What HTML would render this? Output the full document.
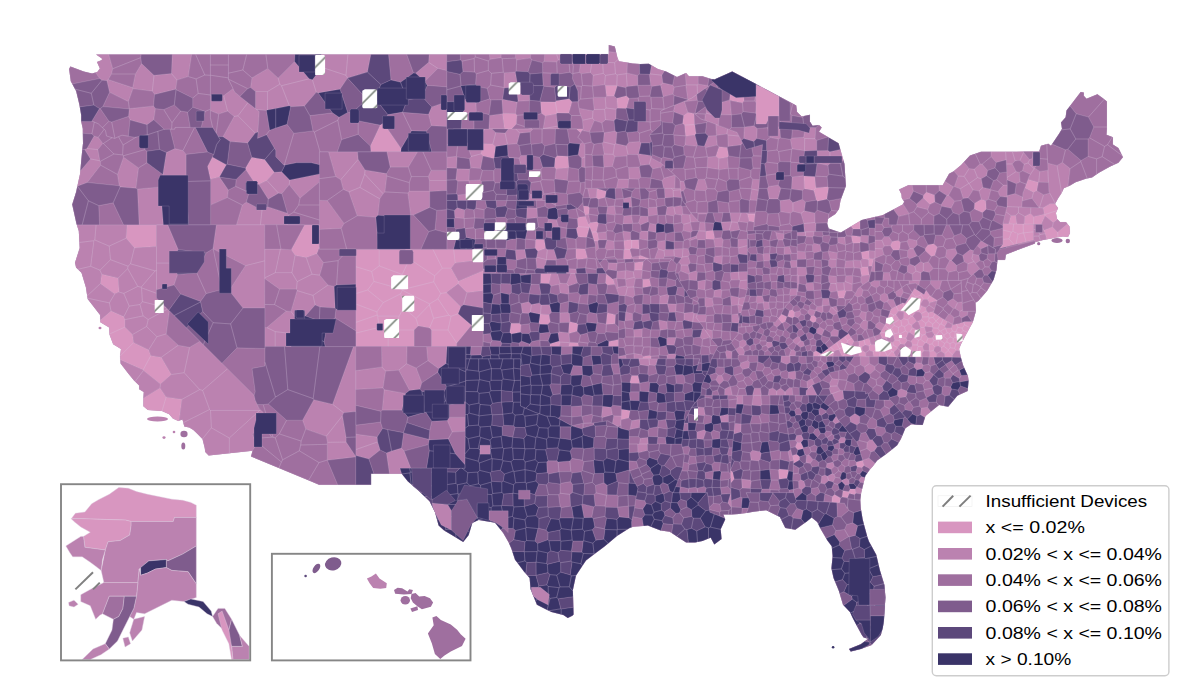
<!DOCTYPE html>
<html><head><meta charset="utf-8"><title>Map</title>
<style>html,body{margin:0;padding:0;background:#fff;overflow:hidden}svg{display:block}text{font-family:"Liberation Sans",sans-serif}</style>
</head><body>
<svg width="1192" height="699" viewBox="0 0 1192 699">
<rect width="1192" height="699" fill="#fff"/>
<path d="M96.1 54.4L101.9 58.5L101.9 60.0L97.0 61.9L99.9 68.5L97.3 71.9L92.1 73.4L83.7 71.4L70.4 66.6L69.1 69.0L70.8 81.2L76.1 90.9L79.3 104.3L81.2 115.3L81.2 121.4L82.8 128.7L83.0 143.3L81.2 160.8L80.1 173.7L76.1 192.0L72.2 204.4L76.4 223.6L78.8 230.9L79.7 248.0L75.0 262.8L76.1 267.5L81.5 272.8L85.9 287.2L87.7 299.1L100.1 314.9L100.4 322.2L109.2 327.6L109.5 334.4L113.2 344.2L121.0 349.0L120.1 355.6L120.6 363.6L128.3 373.4L133.8 380.2L139.2 385.6L139.2 389.2L143.8 392.1L143.4 397.7L143.4 406.3L147.9 409.9L162.0 411.1L169.2 414.3L172.9 418.4L178.3 420.9L182.5 419.6L184.3 426.5L189.3 427.4L193.4 430.1L197.1 433.5L202.5 439.1L204.7 447.7L205.3 452.0L208.7 455.4L252.6 450.8L251.0 456.4L319.0 484.7L371.1 484.7L371.1 473.7L401.7 473.7L407.7 481.3L418.6 490.8L429.5 501.2L435.0 512.2L438.6 525.6L444.1 530.4L451.3 534.8L463.2 542.1L468.6 535.3L472.3 523.1L478.6 520.0L495.0 522.7L503.2 532.9L508.7 542.6L511.4 548.7L515.0 559.7L524.1 571.8L529.6 577.9L530.5 588.9L536.9 604.7L551.4 612.0L563.3 614.9L567.8 618.1L572.4 615.7L573.6 614.4L572.9 590.1L576.0 575.5L586.0 560.4L604.2 546.8L617.0 536.0L629.7 528.0L633.3 526.8L647.9 525.6L660.6 530.4L669.7 531.7L678.8 537.7L686.1 542.6L695.2 542.6L702.5 540.9L710.7 537.7L714.3 544.6L721.6 539.0L720.7 529.2L725.2 519.5L723.4 514.6L731.6 514.6L738.9 513.9L748.0 512.7L753.5 511.7L766.2 510.2L779.9 517.0L785.3 528.0L795.3 529.7L806.2 521.9L811.7 517.5L817.2 521.9L820.8 529.2L827.2 540.2L831.7 546.3L832.6 556.0L831.4 568.2L833.5 577.9L839.0 591.3L843.0 604.7L849.9 612.0L852.7 618.1L861.8 635.1L863.6 637.6L868.1 638.8L860.8 644.2L849.0 649.0L850.8 651.5L860.8 649.0L871.8 644.9L880.9 635.1L883.0 626.6L884.0 619.3L885.4 597.4L884.5 585.2L880.0 570.6L876.3 554.8L869.0 541.4L867.2 536.5L862.7 519.5L860.8 508.5L860.3 500.0L861.2 492.7L865.4 475.7L869.9 469.6L872.7 466.4L877.2 460.6L887.2 453.3L897.2 445.2L900.9 439.1L905.4 428.2L910.9 424.5L922.7 425.0L925.5 416.0L939.1 405.0L948.2 406.7L957.3 395.8L967.7 390.9L968.6 380.7L967.9 375.8L963.1 365.3L960.9 357.6L959.1 349.0L960.9 344.2L965.5 335.6L972.8 322.2L975.9 311.3L975.5 302.8L978.2 301.1L987.3 290.6L993.7 279.6L996.5 270.0L997.5 260.0L1005.0 260.0L1005.8 254.6L1020.0 249.0L1035.0 243.5L1035.0 242.3L1043.0 240.0L1050.0 238.7L1056.0 237.5L1063.0 236.5L1068.0 237.0L1070.0 233.0L1069.5 226.5L1065.9 222.0L1060.0 222.0L1057.0 218.7L1055.9 213.0L1058.0 208.0L1055.0 204.0L1058.0 198.6L1061.6 192.9L1063.8 188.3L1070.1 185.4L1075.6 182.2L1086.5 178.6L1092.0 177.4L1099.3 172.5L1110.2 166.4L1118.4 162.8L1122.9 157.2L1121.5 154.2L1118.4 148.1L1112.9 144.5L1112.9 137.2L1106.5 134.8L1106.9 128.7L1106.9 101.4L1102.9 98.2L1097.4 94.3L1086.5 98.7L1083.8 95.8L1083.8 92.6L1080.7 91.9L1066.5 110.4L1065.6 117.2L1061.0 122.6L1062.0 128.7L1059.2 133.5L1051.0 145.7L1048.3 143.8L1041.0 145.7L1039.2 151.6L981.0 151.8L970.0 155.5L960.9 165.2L953.7 171.3L949.1 173.7L942.7 185.2L908.2 185.2L899.1 189.5L901.4 194.2L901.8 198.1L904.2 201.7L902.7 204.6L882.7 215.1L861.8 220.0L840.8 232.6L828.6 228.5L827.2 223.6L828.1 218.8L835.4 213.9L839.0 209.0L840.5 200.5L845.9 185.9L844.5 164.0L838.6 143.3L819.0 131.8L821.7 127.4L819.0 125.0L812.6 125.7L809.9 121.4L809.9 114.8L801.7 116.5L797.1 112.1L796.2 105.5L764.4 88.5L732.2 71.4L714.5 79.5L710.3 78.7L702.5 76.3L688.9 76.3L686.1 72.9L677.0 77.0L666.1 71.4L657.9 69.0L648.8 63.7L640.6 64.1L632.4 63.4L618.8 61.2L617.3 57.3L614.8 46.6L608.8 45.1L608.8 54.4Z" fill="#9f6f9f"/>
<defs><pattern id="hat" width="16.667" height="16.667" patternUnits="userSpaceOnUse"><rect width="16.667" height="16.667" fill="#fff"/><path d="M-3 18.8L18.8 -3M13 19.47L19.47 13M-4 3.13L3.13 -4" stroke="#7c847c" stroke-width="1.6"/></pattern></defs>
<path d="M219.5 177.1L226.4 164.7L212.4 157.0L207.5 166.4L210.3 179.3ZM258.9 184.6L267.0 180.5L274.4 172.3L264.7 159.6L251.8 157.3L245.5 168.1L245.8 169.7L255.5 184.6ZM401.2 148.4L383.6 122.9L380.2 125.1L370.3 146.1L370.9 151.8L400.9 151.8ZM379.2 249.2L355.8 249.2L355.8 266.7L371.7 271.5L379.2 265.9ZM371.7 271.5L373.9 281.4L402.2 289.5L402.2 274.5L379.2 265.9ZM376.9 311.9L383.3 302.5L367.7 290.0L355.8 293.6L355.8 304.0ZM409.5 259.0L434.7 275.8L442.3 268.2L432.8 249.2L410.5 249.2ZM433.7 281.8L440.7 293.5L446.6 292.5L458.1 283.9L458.5 281.0L451.4 268.2L442.3 268.2L434.7 275.8ZM438.0 298.8L440.7 293.5L433.7 281.8L402.3 289.7L402.3 290.2L429.6 303.9ZM458.2 313.7L460.9 306.8L446.6 292.5L440.7 293.5L438.0 298.8L448.9 315.2L451.0 316.3ZM379.2 265.9L402.2 274.5L409.5 259.0L410.5 249.2L379.2 249.2ZM402.3 289.7L433.7 281.8L434.7 275.8L409.5 259.0L402.2 274.5L402.2 289.5ZM438.0 298.8L429.6 303.9L429.4 304.8L433.6 318.3L448.9 315.2ZM379.3 327.3L388.2 336.3L395.9 330.0L399.2 316.1L377.6 316.1ZM458.1 283.9L466.9 292.8L483.2 290.7L483.2 270.4L458.5 281.0ZM455.3 263.1L483.2 259.7L483.2 249.2L453.6 249.2ZM442.3 268.2L451.4 268.2L455.3 263.1L453.6 249.2L432.8 249.2ZM416.1 318.5L429.4 304.8L429.6 303.9L402.3 290.2L400.7 293.8L403.5 307.5ZM402.3 290.2L402.3 289.7L402.2 289.5L373.9 281.4L367.7 290.0L383.3 302.5L400.7 293.8ZM355.8 266.7L355.8 293.6L367.7 290.0L373.9 281.4L371.7 271.5ZM377.2 315.0L376.9 311.9L355.8 304.0L355.8 322.4ZM379.3 327.3L377.6 316.1L377.2 315.0L355.8 322.4L355.8 333.1ZM388.2 336.3L379.3 327.3L355.8 333.1L355.8 346.6L388.2 346.6ZM399.2 316.1L395.9 330.0L414.3 330.0L418.3 326.0L416.1 318.5L403.5 307.5ZM414.3 330.0L395.9 330.0L388.2 336.3L388.2 346.6L414.3 346.6ZM451.0 316.3L448.9 315.2L433.6 318.3L429.5 328.0L431.3 330.0L448.0 330.0ZM456.8 343.2L448.0 330.0L431.3 330.0L431.3 346.6L456.7 346.6ZM471.6 325.3L458.2 313.7L451.0 316.3L448.0 330.0L456.8 343.2ZM399.2 316.1L403.5 307.5L400.7 293.8L383.3 302.5L376.9 311.9L377.2 315.0L377.6 316.1ZM429.4 304.8L416.1 318.5L418.3 326.0L429.5 328.0L433.6 318.3ZM291.1 249.7L295.0 255.5L306.3 257.7L317.0 253.7L319.4 247.3L319.4 224.8L304.6 224.8ZM126.0 238.3L134.4 247.9L156.5 246.5L156.5 224.8L126.9 224.8ZM100.3 283.7L114.6 294.1L119.2 292.1L118.3 278.0L101.6 274.1ZM111.0 310.8L100.3 320.1L100.4 322.2L109.2 327.6L109.5 334.0L125.1 327.0L125.1 319.6L123.9 316.6ZM133.8 342.4L132.6 334.5L125.1 327.0L109.5 334.0L109.5 334.4L113.2 344.2L121.0 349.0L120.1 355.6L120.1 356.1ZM120.1 356.1L120.4 359.9L143.1 370.0L150.9 355.5L148.7 349.8L133.8 342.4ZM150.9 355.5L143.1 370.0L143.3 370.6L160.4 384.3L171.5 374.5L161.4 357.2ZM143.4 397.9L143.4 406.3L147.9 409.9L162.0 411.1L162.0 411.1L166.2 396.9L160.1 387.7ZM162.0 411.1L169.2 414.3L172.9 418.4L178.3 420.9L179.2 420.6L182.0 399.3L166.2 396.9ZM541.3 113.3L545.2 116.0L556.4 114.0L557.2 113.0L555.3 101.9L540.5 101.8ZM556.0 100.7L555.3 101.9L557.2 113.0L568.9 113.2L572.1 101.8L569.2 98.8ZM502.8 113.3L502.3 113.7L504.4 128.9L511.8 128.9L516.5 124.0L517.0 115.3L515.7 113.4ZM580.6 132.9L583.1 128.9L576.3 128.9ZM493.6 158.5L494.3 157.6L495.7 146.4L492.9 143.9L482.3 143.5L480.9 153.9L483.0 156.1ZM557.1 155.8L555.1 157.9L554.3 167.1L555.9 169.1L568.5 167.8L569.0 167.4L568.0 156.3ZM578.4 217.2L577.2 218.8L577.9 226.6L589.5 227.4L589.7 227.3L586.9 220.0L585.5 216.3ZM586.4 237.5L586.9 237.1L589.5 227.4L577.9 226.6L576.2 228.5L577.9 236.7ZM544.4 239.5L536.6 239.2L535.4 240.1L535.1 248.3L537.7 251.2L545.7 248.2ZM576.2 248.4L575.8 248.6L575.9 258.3L577.2 259.6L587.2 258.6L587.6 258.2L585.3 249.0ZM549.1 283.8L551.2 273.5L540.8 273.5L540.5 283.3ZM605.4 283.3L607.5 285.1L615.0 284.6L613.3 279.6L606.3 273.8ZM540.5 313.9L540.1 314.2L538.8 322.9L539.7 324.2L547.7 324.5L550.3 322.1L549.2 314.7ZM615.6 314.7L607.3 312.7L606.0 324.0L606.4 324.4L615.1 323.7ZM519.6 323.2L511.0 323.3L509.7 332.6L511.4 334.0L520.6 332.2L521.0 324.8ZM568.4 332.8L569.1 333.5L577.1 331.3L578.0 324.4L576.9 323.3L570.2 321.7L569.2 322.5ZM550.1 343.7L550.0 346.6L559.5 346.6L560.2 342.1L559.2 341.1ZM578.0 342.8L569.8 342.2L569.4 342.6L568.9 346.6L578.8 346.6ZM608.7 341.4L608.4 346.6L618.4 346.6L618.5 339.4ZM616.8 85.3L605.1 85.3L606.4 96.1L614.2 96.1L617.3 86.0ZM616.8 98.3L617.4 108.2L626.1 108.5L626.6 108.1L629.3 98.4L626.4 95.7ZM605.3 197.2L606.3 191.2L596.8 188.4L596.2 197.9L598.2 199.2L605.1 197.5ZM589.5 207.7L588.3 206.2L583.4 206.1L584.2 212.7L585.1 215.1L588.6 214.4L588.8 214.2ZM596.6 231.8L598.6 223.2L597.3 221.8L590.3 222.6L588.6 224.3L591.5 232.2L591.5 232.2ZM597.9 241.1L599.0 239.9L597.7 232.7L596.6 231.8L591.5 232.2L594.1 241.0ZM624.3 249.2L630.0 249.6L631.5 248.6L631.7 240.1L630.8 239.6L624.0 240.6L623.8 240.8ZM639.1 248.9L638.8 239.7L631.7 240.1L631.5 248.6ZM632.1 257.0L630.0 249.6L624.3 249.2L623.7 249.8L623.3 259.2L630.4 259.1ZM639.8 255.1L639.0 255.9L639.0 259.0L649.9 258.9ZM643.4 261.4L634.4 262.4L634.3 270.1L642.3 270.0ZM642.7 279.2L642.6 287.8L651.1 286.2L649.5 278.9ZM651.2 356.3L650.0 355.2L643.0 356.4L642.6 358.8L651.1 358.8ZM639.8 383.1L638.1 375.4L631.6 375.4L629.8 382.5L630.7 383.3L639.6 383.4ZM628.8 418.1L630.2 410.5L621.4 409.2L621.1 419.8ZM687.9 112.2L683.5 115.6L682.6 123.5L684.5 125.1L694.7 124.5L694.1 113.5ZM684.5 125.1L685.4 135.9L685.7 136.2L695.0 135.0L696.1 133.6L694.8 124.5L694.7 124.5ZM728.7 155.9L727.3 147.5L718.9 146.7L715.8 156.3L718.8 158.7L727.5 157.3ZM747.4 214.0L749.0 221.3L754.3 222.2L755.1 214.1ZM714.8 238.3L713.3 230.6L712.9 230.2L705.6 231.2L705.9 239.1L713.6 239.6ZM853.0 229.0L860.1 229.1L860.0 221.0L850.9 226.5ZM853.4 243.3L859.8 242.9L860.7 242.0L860.6 236.5L852.0 235.4L851.2 236.1L852.4 242.6ZM868.4 259.7L869.5 258.5L868.9 250.6L861.1 252.0L862.3 258.7ZM869.5 258.5L868.4 259.7L868.6 266.2L872.1 266.2L873.6 258.9L874.0 258.7ZM861.5 276.1L869.3 274.9L868.1 266.8L861.7 267.0L860.1 268.4ZM838.5 298.0L844.0 298.1L846.2 291.1L844.5 289.9L837.2 290.9L837.1 291.1ZM744.1 101.1L743.5 89.8L731.0 89.7L730.6 90.2L729.4 99.9L730.2 100.6L742.5 103.1ZM755.6 113.2L756.6 114.4L768.5 114.3L768.6 114.2L768.7 101.9L767.7 101.1L756.4 103.1ZM813.7 190.4L816.0 187.7L814.8 176.6L803.9 175.9L804.3 188.7ZM817.5 201.2L826.9 199.2L828.7 187.6L828.0 186.8L816.0 187.7L813.7 190.4L816.3 200.2ZM792.4 309.8L789.3 310.6L787.6 316.4L792.5 317.9L794.5 316.7L794.7 312.0ZM813.0 322.7L815.6 321.7L816.6 317.9L814.1 315.2L811.0 315.9L809.7 320.2ZM816.1 350.7L813.3 352.3L813.2 356.3L817.5 356.3L821.1 353.7ZM787.0 316.7L781.3 314.0L780.8 314.9L778.0 318.6L781.8 322.9L782.6 323.0L785.4 321.6ZM847.5 340.6L851.9 338.1L848.6 333.5L844.2 336.7ZM892.1 321.5L893.5 315.1L889.5 312.8L886.8 320.9ZM950.3 337.1L949.6 333.4L947.2 332.7L943.9 335.3L943.7 336.2L947.2 339.1ZM967.4 332.2L969.8 327.6L964.5 324.8L962.3 328.2L963.0 330.5ZM959.3 343.1L955.9 344.1L954.7 348.3L956.3 350.5L959.5 350.9L959.1 349.0L960.9 344.2L961.1 343.9ZM945.7 327.7L945.2 326.2L941.0 324.0L939.7 324.3L938.1 328.3L939.5 330.8L940.6 331.0L945.5 328.2ZM913.7 308.3L910.7 307.4L906.1 310.3L906.0 310.4L911.1 316.2L913.1 316.1L915.9 312.1ZM909.9 301.7L915.2 300.4L916.0 297.0L911.5 293.1L907.2 300.0ZM844.4 344.4L847.1 342.9L847.5 340.6L844.2 336.7L839.6 340.1ZM913.7 308.3L917.7 303.6L915.2 300.4L909.9 301.7L910.7 307.4ZM929.5 357.2L936.6 357.2L936.9 353.5L933.8 350.4L929.4 351.4ZM928.8 344.5L932.1 343.9L933.9 340.5L932.4 337.6L928.2 337.8L926.1 342.9ZM918.2 331.7L918.1 330.3L912.6 327.5L909.4 332.6L914.1 335.7ZM944.6 357.3L952.7 357.3L952.7 355.0L948.2 350.6L944.5 353.8ZM932.8 324.0L928.6 321.1L925.8 323.2L925.4 326.4L932.4 327.4ZM920.6 304.1L917.7 303.6L913.7 308.3L915.9 312.1L919.0 312.1L921.6 305.7ZM962.3 328.2L957.8 327.3L955.9 331.5L960.4 333.5L963.0 330.5ZM880.2 350.6L879.8 350.1L876.0 349.4L872.9 352.0L873.3 356.7L879.6 356.8ZM905.5 331.0L904.5 326.8L901.7 325.6L898.5 327.4L898.4 332.8L900.1 333.8ZM945.2 326.2L947.9 321.7L943.3 318.9L941.0 324.0ZM927.3 299.6L929.3 303.1L937.2 300.7L937.3 300.3L930.0 295.5ZM931.8 331.3L934.0 334.6L936.9 334.3L939.5 330.8L938.1 328.3L932.6 327.8ZM839.4 348.5L843.4 347.3L844.4 344.4L839.6 340.1L836.4 342.5ZM936.0 321.3L936.0 321.1L933.1 317.5L929.1 318.0L928.6 321.1L932.8 324.0ZM912.1 325.3L908.9 323.8L904.5 326.8L905.5 331.0L908.4 332.8L909.4 332.6L912.6 327.5ZM886.8 332.8L888.6 328.7L884.7 325.0L880.2 332.6ZM865.8 352.6L862.5 350.5L858.7 352.9L858.7 356.6L865.9 356.7ZM928.5 312.6L928.2 316.8L929.1 318.0L933.1 317.5L935.1 313.5L933.6 312.5L934.0 311.2ZM964.5 324.8L969.8 327.6L972.8 322.2L973.0 321.5L964.6 321.5L963.9 321.7ZM826.4 349.8L817.5 356.3L828.6 356.4ZM884.8 351.1L887.4 356.4L891.6 351.5L890.1 348.4L887.5 347.9ZM945.5 328.2L940.6 331.0L943.9 335.3L947.2 332.7ZM898.5 327.4L894.0 325.4L891.5 328.4L894.5 333.7L898.4 332.8ZM828.6 356.4L833.2 356.4L834.5 350.9L830.3 346.9L826.4 349.8ZM886.5 339.0L888.3 335.7L886.8 332.8L880.2 332.6L879.9 333.0L881.9 338.3ZM906.4 338.3L908.4 332.8L905.5 331.0L900.1 333.8L901.2 337.6ZM955.9 344.1L959.3 343.1L958.0 338.2L954.8 337.5L953.3 338.3L953.1 342.1ZM928.9 350.9L929.4 351.4L933.8 350.4L935.0 347.1L932.1 343.9L928.8 344.5ZM925.8 323.2L921.0 319.5L917.8 321.3L920.4 327.6L924.6 327.3L925.4 326.4ZM955.2 331.8L955.9 331.5L957.8 327.3L956.3 324.0L952.8 324.7L952.6 324.6L951.1 327.7L952.4 331.1ZM893.3 345.2L890.1 348.4L891.6 351.5L893.9 352.2L897.8 348.4L897.7 347.6ZM851.5 353.3L848.7 350.3L846.4 350.4L843.1 356.5L851.3 356.6ZM910.9 347.2L912.0 350.8L915.5 352.0L917.0 351.0L918.1 346.3L917.2 345.0L912.3 344.9ZM913.1 316.1L911.1 316.2L907.9 319.8L908.9 323.8L912.1 325.3L916.9 321.2ZM933.9 340.5L938.5 341.0L939.8 340.0L940.2 338.6L936.9 334.3L934.0 334.6L932.4 337.6ZM922.2 353.0L924.2 350.7L922.7 346.7L918.1 346.3L917.0 351.0ZM950.3 337.1L953.3 338.3L954.8 337.5L955.2 331.8L952.4 331.1L949.6 333.4ZM916.0 297.0L920.7 295.0L921.4 292.8L914.5 288.2L911.5 293.1ZM939.8 340.0L938.5 341.0L938.2 346.1L941.0 347.7L943.8 346.2L944.6 343.3ZM948.3 349.7L948.2 350.6L952.7 355.0L956.3 350.5L954.7 348.3L950.2 347.8ZM906.1 310.3L910.7 307.4L909.9 301.7L907.2 300.0L905.1 303.5L902.7 302.8L902.4 302.9ZM921.1 313.7L922.0 317.0L928.2 316.8L928.5 312.6L926.5 310.8ZM922.2 353.0L917.0 351.0L915.5 352.0L915.4 357.1L922.4 357.1ZM894.5 333.7L891.5 328.4L888.6 328.7L886.8 332.8L888.3 335.7L893.2 335.6ZM893.6 323.0L899.5 319.5L896.2 314.7L893.5 315.1L892.1 321.5ZM862.5 350.5L862.2 347.1L859.1 345.7L855.6 348.0L855.8 350.7L858.7 352.9ZM918.5 340.2L920.7 339.4L922.2 335.2L918.2 331.7L914.1 335.7L914.3 337.6ZM933.1 317.5L936.0 321.1L940.0 316.8L935.1 313.5ZM935.0 347.1L938.2 346.1L938.5 341.0L933.9 340.5L932.1 343.9ZM893.5 315.1L896.2 314.7L898.5 311.3L896.2 306.1L890.9 308.9L889.5 312.8ZM872.9 352.0L876.0 349.4L874.2 344.5L871.1 344.2L868.7 346.1L869.1 350.3ZM920.4 327.6L918.1 330.3L918.2 331.7L922.2 335.2L925.6 334.2L926.4 332.7L924.6 327.3ZM928.2 337.8L925.6 334.2L922.2 335.2L920.7 339.4L925.5 343.0L926.1 342.9ZM846.4 350.4L843.4 347.3L839.4 348.5L838.7 349.7L841.9 356.5L843.1 356.5ZM894.0 325.4L893.6 323.0L892.1 321.5L886.8 320.9L886.3 322.2L884.7 325.0L888.6 328.7L891.5 328.4ZM943.7 336.2L943.9 335.3L940.6 331.0L939.5 330.8L936.9 334.3L940.2 338.6ZM902.4 302.9L896.2 306.1L898.5 311.3L903.7 312.0L906.0 310.4L906.1 310.3ZM958.0 338.2L960.8 336.0L960.4 333.5L955.9 331.5L955.2 331.8L954.8 337.5ZM928.6 321.1L929.1 318.0L928.2 316.8L922.0 317.0L921.0 319.5L925.8 323.2ZM908.9 323.8L907.9 319.8L903.2 318.6L900.9 319.9L901.7 325.6L904.5 326.8ZM865.2 345.0L864.1 339.7L861.8 340.5L858.4 341.1L859.1 345.7L862.2 347.1ZM876.0 349.4L879.8 350.1L881.5 344.8L879.3 341.9L876.9 341.8L874.2 344.5ZM900.6 343.9L904.5 344.8L907.6 340.4L906.4 338.3L901.2 337.6L899.3 340.4ZM901.2 337.6L900.1 333.8L898.4 332.8L894.5 333.7L893.2 335.6L894.5 340.0L899.3 340.4ZM960.8 336.0L958.0 338.2L959.3 343.1L961.1 343.9L964.4 337.7ZM871.1 344.2L869.2 337.9L864.1 339.7L865.2 345.0L868.7 346.1ZM894.5 340.0L892.8 342.3L893.3 345.2L897.7 347.6L900.6 343.9L899.3 340.4ZM932.6 327.8L938.1 328.3L939.7 324.3L936.0 321.3L932.8 324.0L932.4 327.4ZM917.2 345.0L918.5 340.2L914.3 337.6L910.7 341.1L912.3 344.9ZM920.7 295.0L916.0 297.0L915.2 300.4L917.7 303.6L920.6 304.1L923.6 299.4ZM887.4 356.4L884.8 351.1L880.2 350.6L879.6 356.8L887.3 356.8ZM880.2 350.6L884.8 351.1L887.5 347.9L885.8 344.6L881.5 344.8L879.8 350.1ZM939.7 324.3L941.0 324.0L943.3 318.9L940.9 317.4L940.0 316.8L936.0 321.1L936.0 321.3ZM912.0 350.8L910.9 347.2L905.7 347.3L904.6 350.4L909.0 353.4ZM952.4 331.1L951.1 327.7L945.7 327.7L945.5 328.2L947.2 332.7L949.6 333.4ZM900.9 319.9L899.5 319.5L893.6 323.0L894.0 325.4L898.5 327.4L901.7 325.6ZM887.5 347.9L890.1 348.4L893.3 345.2L892.8 342.3L887.5 341.4L885.8 344.6ZM957.8 327.3L962.3 328.2L964.5 324.8L963.9 321.7L959.1 323.5L956.3 324.0ZM953.3 338.3L950.3 337.1L947.2 339.1L946.9 342.0L950.0 343.7L953.1 342.1ZM926.2 307.4L921.6 305.7L919.0 312.1L921.1 313.7L926.5 310.8ZM960.4 333.5L960.8 336.0L964.4 337.7L965.5 335.6L967.4 332.2L963.0 330.5ZM941.0 347.7L940.8 351.2L944.5 353.8L948.2 350.6L948.3 349.7L943.8 346.2ZM893.9 352.2L891.6 351.5L887.4 356.4L887.3 356.8L896.1 356.9ZM834.5 350.9L838.7 349.7L839.4 348.5L836.4 342.5L830.3 346.9ZM917.2 345.0L918.1 346.3L922.7 346.7L925.5 343.0L920.7 339.4L918.5 340.2ZM950.0 343.7L950.2 347.8L954.7 348.3L955.9 344.1L953.1 342.1ZM947.2 339.1L943.7 336.2L940.2 338.6L939.8 340.0L944.6 343.3L946.9 342.0ZM851.3 345.8L852.0 345.6L854.2 341.3L851.9 338.1L847.5 340.6L847.1 342.9ZM903.7 312.0L903.2 318.6L907.9 319.8L911.1 316.2L906.0 310.4ZM920.7 295.0L923.6 299.4L927.3 299.6L930.0 295.5L930.0 295.5L926.0 290.1L924.0 294.5L921.4 292.8ZM946.9 342.0L944.6 343.3L943.8 346.2L948.3 349.7L950.2 347.8L950.0 343.7ZM855.2 488.9L850.2 489.0L848.7 491.6L849.4 493.5L854.6 494.7L856.0 493.3ZM803.0 448.7L803.5 447.8L801.0 442.5L797.0 442.5L795.2 447.0L797.9 449.9ZM847.5 498.1L849.4 493.5L848.7 491.6L842.9 490.7L842.0 497.1ZM840.7 497.9L834.6 494.6L832.2 496.6L831.7 502.3L839.7 502.9ZM864.3 465.3L862.7 460.3L856.3 462.0L856.1 465.2L857.3 467.0L862.1 467.7ZM799.5 460.1L799.8 456.8L796.8 454.2L792.2 455.4L793.5 461.0L793.4 463.4ZM734.3 479.0L732.7 472.0L730.4 470.2L730.3 470.8L730.7 483.3ZM787.0 478.3L788.6 471.0L787.9 469.8L779.4 469.1L778.3 469.8L779.2 479.3ZM1012.8 231.3L1018.1 234.1L1023.4 232.8L1023.2 224.1L1013.7 223.9ZM1023.6 232.9L1026.2 241.8L1033.7 239.9L1033.7 231.8ZM1009.0 238.9L1011.4 232.1L1002.8 230.0L1002.8 239.3ZM1023.4 232.8L1023.6 232.9L1033.7 231.8L1033.7 224.4L1023.2 224.1ZM1011.4 232.1L1012.8 231.3L1013.7 223.9L1002.8 223.6L1002.8 230.0ZM1018.1 234.1L1012.8 231.3L1011.4 232.1L1009.0 238.9L1014.3 244.8L1015.9 244.4ZM1009.0 238.9L1002.8 239.3L1002.8 244.3L999.5 248.5L1014.3 244.8ZM1023.6 232.9L1023.4 232.8L1018.1 234.1L1015.9 244.4L1026.2 241.8ZM1044.2 214.1L1044.7 214.6L1056.9 210.7L1058.0 208.0L1055.0 204.0L1055.3 203.4L1050.1 203.4L1042.9 207.8ZM1010.8 215.4L1008.6 223.7L1017.1 223.9L1015.7 215.3ZM1058.1 237.2L1063.0 236.5L1068.0 237.0L1070.0 233.0L1069.5 226.5L1067.3 223.8L1057.6 231.9ZM1045.1 216.1L1044.7 214.6L1044.2 214.1L1033.7 216.4L1033.7 224.2L1041.4 224.4ZM1057.6 219.4L1057.0 218.7L1055.9 213.0L1056.9 210.7L1044.7 214.6L1045.1 216.1L1053.2 222.7ZM1057.6 231.9L1052.5 226.7L1043.6 230.3L1046.1 237.0L1046.1 239.4L1050.0 238.7L1056.0 237.5L1058.1 237.2ZM1033.7 216.4L1030.6 213.2L1024.6 216.3L1024.1 224.0L1033.7 224.2ZM1028.0 179.3L1024.8 187.9L1033.5 192.4L1036.9 190.7L1038.5 182.3ZM900.6 242.2L898.4 240.2L892.1 241.5L890.2 245.7L893.2 250.2L899.1 250.1L899.7 249.5ZM931.3 256.4L934.9 255.6L937.4 247.0L933.8 243.8L928.0 244.8L925.1 248.5L925.2 250.8ZM986.3 209.2L985.8 200.8L981.2 199.2L974.5 203.3L974.1 208.9L982.6 212.7ZM926.3 192.1L923.2 195.4L923.1 197.9L929.8 204.6L935.0 202.1L934.6 194.9Z" fill="#d896c0" stroke="#dcc8de" stroke-width="0.17" stroke-linejoin="round"/>
<path d="M171.0 263.1L178.3 249.6L167.8 224.8L156.5 224.8L156.5 263.1ZM171.0 263.1L156.5 263.1L156.5 289.8L174.1 285.0L177.7 274.4ZM212.9 248.7L213.2 249.0L245.3 265.7L264.8 260.8L264.8 224.8L216.3 224.8ZM264.8 308.1L264.8 260.8L245.3 265.7L229.1 290.5L242.9 308.1ZM98.3 137.2L94.0 136.1L86.9 148.5L97.9 149.6L102.9 143.4ZM86.9 148.5L84.6 149.5L90.4 158.9L99.9 160.8L97.9 149.6ZM77.4 186.2L87.3 182.5L100.7 165.2L100.4 161.3L99.9 160.8L90.4 158.9L80.3 171.0L80.1 173.7L77.3 186.2ZM123.5 157.0L117.4 174.4L119.2 185.8L120.2 186.9L136.0 188.3L138.6 167.9ZM185.2 182.1L186.2 181.5L186.2 154.4L183.0 150.5L174.8 148.6L166.3 152.5L162.8 174.4L165.5 182.1ZM160.4 186.9L137.4 189.1L139.1 224.8L163.4 224.8ZM223.7 95.6L210.4 95.6L210.4 110.7L218.7 114.1L227.6 111.2ZM223.7 95.6L227.6 111.2L234.0 116.5L238.0 115.8L247.9 102.7L234.8 92.1L233.0 88.5ZM247.7 142.9L255.3 133.1L238.0 115.8L234.0 116.5L222.9 136.7L230.0 141.6ZM238.0 115.8L255.3 133.1L258.0 131.9L259.3 111.6L248.4 103.1L247.9 102.7ZM227.5 197.6L228.4 190.0L219.5 177.1L219.5 177.1L210.3 179.3L210.6 180.3L210.6 205.1ZM262.0 209.9L246.4 202.1L242.2 205.0L236.4 224.8L260.4 224.8ZM289.1 214.9L287.4 213.2L267.7 206.7L262.0 209.9L260.4 224.8L264.8 224.8L287.4 224.8ZM278.5 193.2L267.0 180.5L258.9 184.6L268.2 199.2ZM267.0 180.5L278.5 193.2L281.8 193.7L289.2 184.8L289.7 180.0L281.7 171.8L274.4 172.3ZM300.0 198.2L319.4 182.1L319.4 173.9L289.7 180.0L289.2 184.8ZM358.2 159.3L357.6 151.8L328.4 151.8L335.5 176.5L340.7 179.8ZM390.1 167.2L408.4 167.2L417.7 151.8L386.8 151.8ZM429.3 180.6L446.8 180.6L446.8 170.2L431.1 170.2L428.2 176.6ZM386.5 173.6L365.1 169.9L364.7 174.1L383.2 193.8L385.0 191.9L386.9 176.0ZM359.9 187.4L364.7 174.1L365.1 169.9L358.2 159.3L340.7 179.8L343.2 189.4L348.8 191.9ZM378.0 215.3L379.8 198.8L359.9 187.4L348.8 191.9L357.1 215.8L375.9 217.3ZM341.3 228.4L344.1 223.4L327.3 200.5L319.4 200.3L319.4 229.5ZM407.8 193.1L410.6 214.8L413.6 215.1L429.8 207.4L429.8 191.6L429.3 191.0L409.3 191.0ZM429.3 180.6L429.3 191.0L429.8 191.6L446.8 190.5L446.8 180.6ZM383.2 193.8L364.7 174.1L359.9 187.4L379.8 198.8ZM1070.2 168.6L1062.4 162.3L1057.0 165.4L1061.6 192.9L1061.6 192.9L1063.8 188.3L1068.0 186.4ZM1047.6 163.1L1048.8 191.5L1052.9 198.8L1055.2 203.4L1055.3 203.4L1055.3 203.5L1055.3 203.5L1058.0 198.6L1061.6 192.9L1057.0 165.4ZM332.5 404.2L343.7 412.8L355.8 411.6L355.8 346.6L353.4 346.6ZM326.2 436.3L342.5 415.6L343.7 412.8L332.5 404.2L313.8 399.7L302.5 420.2L305.7 429.1ZM327.4 442.3L346.2 442.1L346.2 437.4L342.5 415.6L326.2 436.3ZM346.2 442.1L327.4 442.3L327.2 444.3L327.2 460.1L327.4 460.3L355.8 456.9L355.8 456.4ZM99.6 78.6L102.0 80.2L106.8 80.7L108.4 79.5L111.6 74.0L112.8 68.7L108.8 54.4L96.1 54.4L101.9 58.5L101.9 60.0L97.0 61.9L99.9 68.5L97.3 71.9L95.4 72.5ZM133.0 88.8L132.6 87.6L108.4 79.5L106.8 80.7L109.5 92.3L128.4 101.7ZM135.3 74.0L132.6 87.6L133.0 88.8L152.3 91.2L154.0 75.3L141.6 63.6ZM154.6 94.5L175.8 89.2L177.1 80.1L171.4 73.5L154.0 75.3L152.3 91.2ZM153.6 105.9L129.3 108.6L129.2 109.0L128.5 116.3L130.1 120.0L147.0 124.7L153.8 119.8L155.5 108.6ZM171.4 73.5L177.1 80.1L188.3 76.6L191.7 54.4L172.2 54.4ZM278.1 78.0L267.8 68.4L251.9 77.8L250.5 87.6L255.4 91.6L267.4 91.6L279.8 84.2ZM266.5 110.6L267.4 110.0L267.4 91.6L255.4 91.6L255.4 108.5L256.8 109.7ZM289.4 105.8L281.5 85.7L279.8 84.2L267.4 91.6L267.4 110.0L275.7 108.6ZM347.9 54.4L321.3 54.4L321.8 67.3L346.0 75.3ZM347.6 78.1L367.5 72.1L370.9 54.4L347.9 54.4L346.0 75.3L347.6 78.1ZM428.6 62.3L437.9 68.4L446.8 70.7L446.8 54.4L429.1 54.4ZM415.6 73.3L424.8 81.6L437.9 68.4L428.6 62.3ZM309.2 78.8L294.6 61.5L278.1 78.0L279.8 84.2L281.5 85.7ZM346.0 75.3L321.8 67.3L312.4 79.8L316.3 92.3L318.3 92.9L340.0 89.2L347.6 78.1ZM304.4 106.0L316.3 92.3L312.4 79.8L309.2 78.8L281.5 85.7L289.4 105.8L290.6 106.7ZM428.5 114.3L431.3 125.8L446.8 126.5L446.8 101.7L431.6 106.9ZM381.8 366.9L385.7 371.2L398.7 370.2L406.8 363.6L407.1 346.6L381.5 346.6ZM446.1 363.5L447.1 346.6L426.5 346.6L427.8 360.7L438.7 368.7ZM383.1 388.0L385.7 371.2L381.8 366.9L355.8 370.6L355.8 389.5ZM416.3 368.0L406.8 363.6L398.7 370.2L409.5 390.4L419.9 389.3L421.9 382.8ZM405.6 393.4L384.1 389.6L382.2 410.2L402.1 410.2ZM449.3 417.2L447.2 420.4L452.1 432.1L465.3 431.3L465.4 417.2ZM377.7 441.9L377.2 437.0L355.8 434.1L355.8 449.6ZM368.8 459.0L380.2 450.0L377.7 441.9L355.8 449.6L355.8 455.6ZM391.6 451.0L386.4 452.9L389.4 473.7L401.7 473.7L400.0 468.3L410.9 468.3L404.2 451.1L401.5 448.1ZM458.5 281.0L483.2 270.4L483.2 259.7L455.3 263.1L451.4 268.2ZM463.5 304.8L466.9 292.8L458.1 283.9L446.6 292.5L460.9 306.8ZM466.9 292.8L463.5 304.8L483.2 308.1L483.2 290.7ZM280.4 249.1L264.8 249.1L264.8 277.8L275.3 272.7ZM291.9 272.7L295.0 255.5L291.1 249.7L280.9 249.0L280.4 249.1L275.3 272.7ZM312.0 274.2L306.3 257.7L295.0 255.5L291.9 272.7L297.2 281.6ZM306.3 257.7L312.0 274.2L319.8 275.2L323.5 262.6L317.0 253.7ZM297.2 281.6L291.9 272.7L275.3 272.7L264.8 277.8L264.8 278.7L279.5 289.2L296.4 289.2ZM313.0 295.4L328.0 285.0L319.8 275.2L312.0 274.2L297.2 281.6L296.4 289.2L297.0 290.6ZM334.2 286.4L328.0 285.0L313.0 295.4L315.2 305.0L319.9 307.0L335.2 308.1ZM290.9 311.4L296.7 319.0L305.4 316.0L315.2 305.0L313.0 295.4L297.0 290.6ZM275.2 331.6L266.7 327.5L264.8 327.5L264.8 346.6L275.2 346.6ZM290.9 333.5L275.2 331.6L275.2 346.6L291.1 346.6ZM266.7 327.5L275.2 331.6L290.9 333.5L296.5 324.9L296.7 319.0L290.9 311.4L286.2 311.0ZM96.1 224.8L76.8 224.8L78.8 230.9L79.4 242.5L93.9 240.7L94.8 240.0ZM94.8 240.0L109.2 246.1L126.0 238.3L126.9 224.8L96.1 224.8ZM79.4 242.5L79.7 248.0L75.0 262.8L76.1 267.5L77.9 269.3L90.7 266.3L93.9 240.7ZM109.2 246.1L94.8 240.0L93.9 240.7L90.7 266.3L100.0 270.2L110.5 259.7ZM130.5 263.8L134.4 247.9L126.0 238.3L109.2 246.1L110.5 259.7L128.0 266.2ZM134.4 247.9L130.5 263.8L155.1 270.9L156.5 270.3L156.5 246.5ZM100.0 270.2L90.7 266.3L77.9 269.3L81.5 272.8L85.9 287.2L87.2 295.9L100.3 283.7L101.6 274.1ZM118.3 278.0L127.7 268.6L128.0 266.2L110.5 259.7L100.0 270.2L101.6 274.1ZM141.1 287.2L155.1 270.9L130.5 263.8L128.0 266.2L127.7 268.6L137.8 286.4ZM123.8 293.4L137.8 286.4L127.7 268.6L118.3 278.0L119.2 292.1ZM87.2 295.9L87.6 298.2L109.4 302.9L114.6 294.1L100.3 283.7ZM155.1 270.9L141.1 287.2L141.5 287.8L156.5 293.3L156.5 270.3ZM141.5 287.8L142.4 301.7L166.3 307.6L156.5 297.9L156.5 293.3ZM87.6 298.2L87.7 299.1L100.1 314.9L100.3 320.1L111.0 310.8L109.4 302.9ZM129.2 306.1L123.8 293.4L119.2 292.1L114.6 294.1L109.4 302.9L111.0 310.8L123.9 316.6ZM142.4 301.7L140.0 304.5L143.1 315.9L148.2 319.5L167.7 309.0L166.3 307.6ZM142.4 301.7L141.5 287.8L141.1 287.2L137.8 286.4L123.8 293.4L129.2 306.1L140.0 304.5ZM129.2 306.1L123.9 316.6L125.1 319.6L143.1 315.9L140.0 304.5ZM148.7 349.8L156.9 336.7L146.6 326.5L132.6 334.5L133.8 342.4ZM125.1 319.6L125.1 327.0L132.6 334.5L146.6 326.5L148.2 319.5L143.1 315.9ZM148.2 319.5L146.6 326.5L156.9 336.7L166.3 333.9L169.5 310.8L167.7 309.0ZM150.9 355.5L161.4 357.2L178.3 345.2L166.3 333.9L156.9 336.7L148.7 349.8ZM143.3 370.6L143.1 370.0L120.4 359.9L120.6 363.6L128.3 373.4L133.8 380.2L135.1 381.5ZM143.3 370.6L135.1 381.5L139.2 385.6L139.2 389.2L143.8 392.1L143.4 397.7L143.4 397.9L160.1 387.7L160.4 384.3ZM161.4 357.2L171.5 374.5L184.2 372.7L189.6 347.3L178.3 345.2ZM189.6 347.3L184.2 372.7L199.7 389.6L202.6 390.4L227.6 368.7L199.9 341.2ZM171.5 374.5L160.4 384.3L160.1 387.7L166.2 396.9L182.0 399.3L199.7 389.6L184.2 372.7ZM202.6 390.4L209.6 409.5L210.5 410.4L259.7 410.4L260.7 410.0L259.3 408.7L255.3 400.2L254.2 395.3L227.6 368.7ZM209.6 409.5L202.6 390.4L199.7 389.6L182.0 399.3L179.2 420.6L182.5 419.6L183.3 422.7ZM211.4 427.8L229.3 438.0L259.7 410.4L210.5 410.4ZM229.3 438.0L211.4 427.8L202.4 439.0L202.5 439.1L204.7 447.7L205.3 452.0L208.7 455.4L229.3 453.3ZM229.3 453.3L252.6 450.8L256.6 444.0L252.4 434.3L256.1 430.6L257.9 417.7L263.2 412.3L260.7 410.0L259.7 410.4L229.3 438.0ZM211.4 427.8L210.5 410.4L209.6 409.5L183.3 422.7L184.3 426.5L189.3 427.4L193.4 430.1L197.1 433.5L202.4 439.0ZM489.8 59.4L501.1 57.7L501.3 54.4L489.4 54.4ZM515.3 58.1L516.7 60.0L530.5 58.1L530.7 54.4L515.4 54.4ZM544.0 61.5L556.7 62.1L558.5 60.1L556.6 54.4L544.6 54.4ZM558.5 60.1L568.7 58.8L571.3 56.6L570.9 54.4L556.6 54.4ZM504.3 88.1L516.4 86.9L517.7 85.4L515.4 72.0L504.1 72.8L503.8 87.5ZM529.2 85.8L517.7 85.4L516.4 86.9L518.0 101.3L529.5 100.7L529.9 100.3ZM473.0 99.7L465.0 99.3L462.6 101.6L463.3 113.1L474.0 114.1L476.5 111.6L476.0 103.0ZM502.8 113.3L515.7 113.4L517.1 102.1L502.7 99.3L501.9 99.9ZM502.3 113.7L489.6 115.4L488.8 128.9L504.4 128.9ZM543.1 128.6L557.7 126.2L556.4 114.0L545.2 116.0ZM543.1 128.6L542.8 128.9L560.0 128.9L557.7 126.2ZM481.8 133.3L484.8 128.9L466.8 128.9L467.5 130.1ZM519.9 133.2L530.0 132.2L533.1 128.9L515.6 128.9ZM482.3 143.5L492.9 143.9L495.8 132.5L492.1 128.9L484.8 128.9L481.8 133.3L481.4 142.3ZM495.8 132.5L492.9 143.9L495.7 146.4L507.3 144.8L507.5 144.6L505.1 133.0ZM505.1 133.0L507.5 144.6L517.1 143.7L519.9 133.2L515.6 128.9L508.3 128.9ZM471.1 156.5L480.9 153.9L482.3 143.5L481.4 142.3L467.8 142.3L466.7 143.4ZM578.1 154.8L581.6 158.3L585.1 156.8L585.1 144.5L582.8 142.2L579.9 144.1ZM456.6 168.2L457.1 157.0L456.4 156.3L446.8 157.2L446.8 167.9ZM480.7 168.5L483.0 156.1L480.9 153.9L471.1 156.5L469.4 158.7L470.6 167.8ZM521.0 155.5L519.0 158.2L520.8 165.9L528.6 167.8L533.7 156.2L532.2 154.9ZM581.6 158.3L581.5 166.9L585.1 167.7L585.1 156.8ZM469.6 169.1L457.0 168.7L455.8 179.7L457.7 181.2L468.8 181.0L469.1 180.6ZM555.0 179.1L567.4 180.4L568.5 167.8L555.9 169.1ZM481.5 181.3L480.0 179.9L469.1 180.6L468.8 181.0L470.6 190.7L481.7 193.0L481.9 192.8ZM468.0 193.9L457.6 195.0L457.8 200.5L469.6 200.5ZM542.2 196.0L530.2 194.3L529.2 200.5L542.4 200.5ZM464.6 209.7L457.2 207.8L454.2 210.5L454.8 217.8L464.2 218.6ZM527.3 207.6L527.0 208.0L526.5 218.5L526.6 218.7L537.0 217.8L537.6 217.0L537.1 208.3L536.7 208.0ZM558.6 226.7L556.5 219.5L548.6 219.0L545.7 228.6L546.2 229.3L556.7 228.7ZM485.9 238.4L486.0 238.6L495.5 238.7L497.0 237.4L496.8 227.9L496.7 227.8L485.9 230.0ZM516.2 249.7L515.3 250.4L516.2 259.9L516.6 260.3L526.4 257.9L524.9 249.6ZM547.4 249.4L545.7 248.2L537.7 251.2L536.6 257.2L546.3 259.5ZM546.6 260.0L555.9 260.2L556.9 259.0L554.0 249.4L547.4 249.4L546.3 259.5ZM536.6 257.2L535.8 258.0L536.7 268.3L544.4 268.7L546.6 260.0L546.3 259.5ZM483.2 268.8L483.2 273.5L495.5 273.5L495.7 270.5ZM576.1 269.1L568.3 268.6L566.4 270.4L566.3 273.5L576.8 273.5ZM549.1 283.8L550.9 286.0L558.9 284.5L560.2 283.1L557.6 273.5L551.2 273.5ZM577.6 283.1L575.1 273.5L570.6 273.5L566.6 283.6L568.7 286.0ZM566.6 283.6L560.2 283.1L558.9 284.5L560.1 293.1L568.2 294.3L569.2 293.0L568.7 286.0ZM530.3 312.2L531.5 304.6L528.7 301.7L521.0 303.5L522.3 313.1L528.6 313.4ZM540.1 314.2L540.5 313.9L541.2 304.9L539.4 302.9L531.5 304.6L530.3 312.2ZM541.2 304.9L540.5 313.9L549.2 314.7L551.6 312.2L549.6 304.7ZM559.7 322.8L569.2 322.5L570.2 321.7L569.6 313.6L568.2 312.5L559.8 312.8ZM559.0 331.7L557.9 332.9L559.2 341.1L560.2 342.1L569.4 342.6L569.8 342.2L569.1 333.5L568.4 332.8ZM569.4 342.6L560.2 342.1L559.5 346.6L568.9 346.6ZM602.0 417.7L612.5 414.7L611.0 407.3L602.5 406.2L601.4 417.0ZM612.3 423.4L616.7 426.0L621.0 425.3L621.2 416.0L613.7 415.7ZM580.7 62.0L591.9 62.7L593.1 61.6L592.1 54.4L580.3 54.4ZM593.1 61.6L602.7 63.2L603.7 62.3L604.5 54.4L592.1 54.4ZM614.6 62.7L618.1 59.3L617.3 57.3L616.2 52.5L608.8 51.5L608.8 54.4L604.5 54.4L603.7 62.3ZM591.9 62.7L580.7 62.0L580.4 62.4L579.2 72.4L581.3 73.8L590.3 72.7ZM593.0 75.3L603.3 73.4L602.7 63.2L593.1 61.6L591.9 62.7L590.3 72.7ZM605.4 75.4L615.5 73.8L614.6 62.7L603.7 62.3L602.7 63.2L603.3 73.4ZM627.1 73.0L627.5 62.6L618.8 61.2L618.1 59.3L614.6 62.7L615.5 73.8L617.2 74.9L626.3 73.7ZM649.9 73.9L661.9 75.2L664.5 71.0L657.9 69.0L651.4 65.2ZM592.3 86.1L592.5 86.3L604.6 84.8L605.4 75.4L603.3 73.4L593.0 75.3ZM617.2 74.9L615.5 73.8L605.4 75.4L604.6 84.8L605.1 85.3L616.8 85.3ZM627.2 86.5L626.3 73.7L617.2 74.9L616.8 85.3L617.3 86.0L625.9 87.8ZM637.7 85.6L637.9 85.3L637.8 75.4L627.1 73.0L626.3 73.7L627.2 86.5ZM662.9 82.8L661.9 75.2L649.9 73.9L649.3 74.3L650.5 85.1L651.8 86.5L660.5 85.2ZM697.2 84.9L698.3 84.0L698.3 76.3L688.9 76.3L686.1 72.9L685.2 73.3L686.0 84.9ZM662.9 82.8L660.5 85.2L663.1 96.8L673.1 94.1L674.4 87.1L672.6 85.0ZM697.2 84.9L686.0 84.9L685.7 85.3L687.7 99.4L687.9 99.7L691.6 98.2L697.5 94.0ZM697.2 84.9L697.5 94.0L708.5 86.1L707.9 85.5L698.3 84.0ZM606.0 108.0L605.2 97.2L593.5 97.2L592.8 98.0L594.1 109.5L604.6 109.3ZM606.4 96.1L605.2 97.2L606.0 108.0L616.3 109.2L617.4 108.2L616.8 98.3L614.2 96.1ZM579.0 108.2L579.7 112.8L582.4 120.1L582.4 120.3L592.5 118.1L593.0 110.8ZM605.5 119.9L604.6 109.3L594.1 109.5L593.0 110.8L592.5 118.1L594.4 120.6L601.9 122.9ZM616.0 118.8L616.3 109.2L606.0 108.0L604.6 109.3L605.5 119.9L614.1 120.7ZM589.5 132.0L594.4 120.6L592.5 118.1L582.4 120.3L583.1 128.9L582.1 130.5ZM614.5 144.6L616.0 143.6L617.0 132.3L615.2 131.0L604.1 132.8L603.2 141.9ZM604.1 154.0L613.2 154.3L614.5 144.6L603.2 141.9L602.2 142.8ZM628.0 154.5L626.1 145.8L616.0 143.6L614.5 144.6L613.2 154.3L615.0 156.8L626.8 156.1ZM639.6 141.5L628.7 142.2L626.1 145.8L628.0 154.5L637.7 154.7L638.7 153.7L641.2 143.1ZM613.2 154.3L604.1 154.0L603.1 155.2L603.8 167.3L612.5 166.4L615.0 156.8ZM638.7 153.7L637.7 154.7L640.5 165.5L649.2 164.6L651.5 156.3L650.6 155.4ZM651.5 156.3L649.2 164.6L652.7 168.9L660.8 167.3L663.1 164.8L660.6 162.8L651.5 157.9L651.7 156.3ZM638.6 179.3L640.9 177.2L639.3 167.0L628.5 167.5L629.0 178.9ZM616.3 188.3L628.2 188.3L628.7 179.1L618.2 179.0ZM675.4 175.7L674.7 175.1L663.9 178.1L661.9 180.7L663.5 188.3L674.8 188.3ZM673.1 190.4L680.5 189.7L680.3 188.3L671.4 188.3ZM589.5 197.7L590.3 198.4L596.2 197.9L596.8 188.4L596.8 188.3L587.5 188.3ZM673.6 197.1L673.1 190.4L671.4 188.3L664.3 188.3L664.9 197.9L673.4 197.3ZM673.1 190.4L673.6 197.1L681.7 197.7L681.9 197.4L680.5 189.7ZM631.2 197.0L631.1 196.8L623.5 198.5L623.4 198.6L624.5 206.3L631.9 207.2L631.9 207.1ZM615.8 214.2L614.6 206.0L614.4 205.7L607.6 206.6L607.5 206.7L606.4 214.0L614.9 215.1ZM648.2 216.1L657.7 214.8L657.0 207.0L656.9 207.0L648.7 207.6L647.8 208.5ZM673.6 215.9L675.3 214.3L673.8 206.7L673.2 206.3L667.0 207.0L665.7 214.8ZM682.9 214.0L682.2 206.4L681.0 205.4L673.8 206.7L675.3 214.3L681.3 215.2ZM590.3 222.6L588.6 214.4L585.1 215.1L586.9 220.0L588.6 224.3ZM623.1 223.9L632.4 223.7L632.8 223.3L631.5 215.0L623.8 215.9ZM640.5 215.9L638.4 223.1L640.6 224.9L648.4 221.8L648.0 216.3ZM690.5 222.5L690.6 222.3L689.6 214.7L682.9 214.0L681.3 215.2L681.5 222.7L683.5 224.3ZM699.0 221.6L691.1 213.1L689.6 214.7L690.6 222.3ZM656.1 232.4L656.2 224.4L649.5 223.2L648.1 231.1L648.2 231.1ZM691.1 232.5L692.5 230.9L690.5 222.5L683.5 224.3L683.0 230.6ZM606.3 231.8L597.7 232.7L599.0 239.9L606.8 239.9ZM630.8 239.6L630.6 232.0L623.0 231.0L622.5 231.7L624.0 240.6ZM648.1 231.1L641.3 230.9L639.6 233.0L639.5 239.0L647.9 240.5L648.0 240.4L648.2 231.1ZM598.8 248.2L597.9 241.1L594.1 241.0L595.1 244.3L595.7 251.5ZM614.2 241.1L606.9 239.9L604.9 248.1L607.0 250.2L614.4 249.4L614.5 249.3L614.2 241.1ZM665.4 240.4L657.5 241.4L657.1 247.5L658.2 249.0L664.0 250.7L665.6 249.2L665.7 240.6ZM664.7 256.6L664.0 250.7L658.2 249.0L654.5 258.9L663.4 258.8ZM664.0 250.7L664.7 256.6L674.4 256.3L673.8 249.2L665.6 249.2ZM674.0 248.9L673.8 249.2L674.4 256.3L674.8 256.8L681.4 258.1L682.5 256.5L682.9 248.6ZM639.0 255.9L632.1 257.0L630.4 259.1L639.0 259.0ZM616.4 270.7L617.3 263.0L608.6 262.7L607.9 269.6ZM625.4 270.6L617.0 271.4L616.5 278.1L616.9 278.5L625.1 279.1ZM633.2 271.4L625.8 270.2L625.4 270.6L625.1 279.1L625.4 279.4L634.2 277.5ZM642.3 270.0L634.3 270.1L633.2 271.4L634.2 277.5L635.5 278.8L641.6 278.4L642.5 270.3ZM616.5 278.1L612.6 279.1L613.3 279.6L616.6 289.1L618.2 287.1L616.9 278.5ZM634.2 277.5L625.4 279.4L626.0 285.8L627.4 287.2L633.9 286.9L635.5 278.8ZM616.6 289.1L618.8 295.4L624.8 295.9L625.6 295.5L627.4 287.2L626.0 285.8L618.2 287.1ZM627.4 287.2L625.6 295.5L633.2 297.7L634.9 295.5L634.1 287.1L633.9 286.9ZM667.4 303.9L667.6 303.7L669.1 295.5L667.6 294.3L659.8 296.1L659.5 304.0ZM674.9 312.2L675.9 311.4L676.4 304.0L667.6 303.7L667.4 303.9L669.3 312.6ZM625.9 312.0L625.5 312.2L624.9 320.7L632.7 320.1L632.7 313.7ZM694.1 313.3L693.0 312.0L684.1 313.1L683.9 320.1L692.6 322.0ZM694.1 313.3L692.6 322.0L692.6 322.1L699.9 322.7L696.1 317.4L697.5 313.6ZM667.1 321.5L658.9 320.0L658.5 320.5L659.9 329.8L660.4 330.2L667.5 329.2ZM633.6 329.6L634.0 337.0L634.1 337.2L642.0 337.2L642.4 328.7ZM700.1 337.1L702.5 339.4L709.9 337.6L710.2 337.3L703.6 327.9L702.0 329.4ZM674.2 345.3L676.1 337.8L676.0 337.6L667.6 337.5L666.6 338.7L666.7 344.9ZM618.4 356.6L618.4 358.8L626.3 358.8L625.6 354.9ZM643.0 356.4L641.5 354.6L633.9 353.3L633.8 353.5L633.9 358.8L642.6 358.8ZM666.8 355.7L667.3 358.8L675.2 358.8L676.1 355.1L675.2 353.8L668.5 354.0ZM639.8 364.8L648.3 365.9L649.7 365.0L649.0 358.8L638.7 358.8ZM649.7 365.0L655.3 365.6L656.1 365.0L657.8 358.8L649.0 358.8ZM639.7 427.6L640.1 419.5L639.8 419.2L631.8 420.6L630.0 429.4ZM647.9 437.5L640.2 438.2L639.4 444.0L648.3 444.0ZM647.6 450.5L647.4 444.0L637.5 444.0L637.8 452.2L638.4 452.8ZM684.6 101.7L697.4 100.3L696.7 94.5L691.6 98.2L684.1 101.2ZM684.1 101.2L674.8 105.0L673.4 111.1L674.1 112.0L683.5 115.6L687.9 112.2L684.6 101.7ZM716.4 135.4L726.9 134.1L727.6 128.7L724.3 127.4L715.7 124.3ZM726.9 134.1L727.7 135.0L739.0 136.0L737.1 132.3L727.6 128.7ZM696.5 146.3L697.7 145.4L695.0 135.0L685.7 136.2L684.9 145.1ZM708.2 135.9L704.3 146.2L705.7 147.8L717.4 145.1L716.3 135.5ZM727.7 135.0L728.0 146.6L741.0 144.9L742.7 142.9L739.0 136.0ZM707.3 167.7L718.5 169.4L718.8 158.7L715.8 156.3L707.7 157.0L707.1 167.4ZM727.5 157.3L718.8 158.7L718.5 169.4L719.0 169.8L728.3 168.5L728.5 168.3ZM683.2 190.9L685.7 187.9L684.1 181.6L679.8 180.8L680.3 188.3L680.9 191.6ZM704.9 179.2L698.1 179.4L694.9 190.3L705.5 190.7L707.5 188.6ZM758.6 190.3L758.9 188.3L759.6 179.6L752.5 179.2L751.2 188.7L751.5 189.0ZM757.1 200.5L758.6 190.3L751.5 189.0L749.9 200.1ZM708.3 212.7L697.0 212.7L698.2 214.1L706.8 214.0ZM747.4 214.0L755.1 214.1L755.3 212.7L746.2 212.7ZM731.1 221.6L731.5 221.9L737.8 222.4L738.6 221.7L741.1 212.7L729.8 212.7ZM738.6 221.7L747.7 222.7L749.0 221.3L747.4 214.0L746.2 212.7L741.1 212.7ZM705.5 231.2L705.1 222.5L704.8 222.2L699.3 221.9L699.8 222.4L698.9 229.7L698.4 230.8ZM722.7 230.6L722.8 230.7L729.4 230.3L731.5 221.9L731.1 221.6L721.5 222.1L721.0 222.5ZM737.8 222.4L731.5 221.9L729.4 230.3L730.5 231.5L739.8 229.9ZM689.9 240.7L696.2 238.6L696.2 235.6L696.1 235.8L687.5 239.1ZM705.5 231.2L698.4 230.8L696.2 235.6L696.2 238.6L698.0 239.9L705.0 240.1L705.9 239.1L705.6 231.2ZM722.3 246.9L723.4 239.7L721.6 237.6L714.8 238.3L713.6 239.6L714.9 247.1L722.2 247.0ZM737.9 239.6L737.7 247.3L738.3 248.0L747.5 245.6L747.5 239.2ZM688.4 256.2L689.9 254.5L688.3 248.8L683.0 248.2L682.5 256.5L682.1 257.0ZM747.5 255.0L747.5 245.6L738.3 248.0L738.7 253.9ZM682.1 257.0L678.7 261.9L681.0 265.1L688.1 265.1L690.3 263.3L688.4 256.2ZM722.1 255.6L714.8 256.2L713.8 257.2L713.6 262.2L722.0 264.5L722.5 255.9ZM688.6 274.3L689.8 272.6L688.1 265.1L681.0 265.1L680.5 270.9ZM696.8 280.7L697.5 272.2L696.0 270.7L689.8 272.6L688.6 274.3L688.9 279.8L689.2 280.1ZM730.2 272.6L730.9 280.1L739.1 279.8L738.4 271.8L730.6 272.2ZM739.1 279.8L740.0 280.7L747.5 280.0L747.5 271.6L738.4 271.7L738.4 271.8ZM704.9 290.0L705.6 279.8L697.7 281.3L697.9 288.9ZM740.0 280.7L738.7 287.6L739.2 288.2L747.3 289.9L747.5 289.4L747.5 280.0ZM720.8 289.1L714.2 290.3L713.6 297.1L721.2 297.5L722.0 290.2ZM704.9 306.3L706.0 307.3L712.8 306.2L713.6 304.9L712.3 298.2L705.8 297.3L704.7 298.1ZM731.2 305.7L731.3 305.7L737.6 305.0L738.3 304.4L739.1 298.0L738.5 297.2L730.9 295.7L730.4 296.3ZM739.1 298.0L738.3 304.4L743.0 305.7L745.4 297.0ZM738.3 304.4L737.6 305.0L738.8 313.1L741.0 313.1L743.0 305.7ZM705.8 322.1L706.7 315.6L705.7 314.5L697.2 314.5L696.1 317.4L699.5 322.1ZM738.7 323.3L739.3 320.1L738.0 313.8L731.5 314.7L731.6 322.5L731.8 322.7ZM712.6 338.6L712.4 330.6L706.7 329.1L705.2 330.2L711.6 339.3L711.8 339.5ZM782.8 240.0L784.1 238.5L784.2 234.3L783.7 233.7L775.7 232.4L777.2 239.2L778.2 240.1ZM784.2 247.5L784.0 254.5L790.5 254.3L791.7 253.4L789.4 246.3L784.8 246.8ZM762.8 254.0L763.7 260.9L769.5 260.8L770.4 259.9L769.9 253.9L769.5 253.4L763.2 253.7ZM790.9 260.5L789.9 261.4L791.1 267.6L797.1 267.3L797.1 260.5ZM790.4 288.8L789.2 294.7L790.1 295.7L797.1 295.3L797.1 288.5L790.8 288.5ZM762.4 296.0L762.2 295.9L756.8 295.9L756.5 296.2L756.1 301.9L757.3 303.5L762.9 303.1L764.1 301.6ZM764.1 301.6L762.9 303.1L764.1 310.0L769.6 309.0L769.0 302.1L768.8 301.9ZM805.6 236.1L805.5 231.9L797.1 232.2L797.1 235.8ZM805.6 236.1L806.2 236.7L812.8 237.1L813.7 236.0L814.2 231.6L805.5 231.9ZM837.7 242.7L845.5 245.1L845.7 244.8L844.9 237.1L837.5 237.3ZM861.3 235.3L860.6 236.5L860.7 242.0L868.3 243.6L868.7 235.6ZM821.3 251.2L820.1 244.4L813.9 243.2L812.4 244.9L812.6 251.4L814.2 253.1ZM806.1 259.2L805.3 251.9L804.9 251.7L797.1 250.9L797.1 259.6ZM828.0 251.4L830.0 259.1L836.5 259.4L837.2 258.7L837.4 252.7L828.4 251.1ZM869.0 250.5L868.9 250.6L869.5 258.5L874.0 258.7L875.0 258.0L875.0 250.9ZM836.3 267.3L836.5 259.4L830.0 259.1L828.5 260.5L828.3 265.9L831.3 268.1ZM845.5 260.9L844.5 268.0L854.0 267.8L853.1 260.4ZM861.7 267.0L860.5 260.5L853.4 259.9L853.1 260.4L854.0 267.8L854.1 267.9L860.1 268.4ZM861.7 267.0L868.1 266.8L868.6 266.2L868.4 259.7L862.3 258.7L860.5 260.5ZM799.0 276.1L805.6 275.8L807.1 274.2L806.2 267.3L797.1 267.0L797.1 274.7ZM798.6 284.2L799.2 283.8L799.0 276.1L797.1 274.7L797.1 284.2ZM836.0 283.6L836.9 282.6L836.4 276.3L828.8 275.4L828.2 275.7L828.8 281.9L830.4 283.5ZM844.9 281.4L852.4 284.3L852.8 283.9L852.8 275.7L852.4 275.4L845.8 275.7ZM869.3 274.9L861.5 276.1L860.7 277.1L860.8 282.0L862.9 285.0L869.0 280.9L870.1 275.6ZM797.1 284.2L797.1 292.2L798.0 291.6L798.6 284.2ZM813.3 282.3L807.1 282.7L805.4 284.9L806.7 290.8L813.7 290.8L814.0 290.5ZM837.1 291.1L837.2 290.9L836.0 283.6L830.4 283.5L828.5 290.0L830.5 292.3ZM844.5 289.9L843.8 282.5L836.9 282.6L836.0 283.6L837.2 290.9ZM852.4 284.3L844.9 281.4L843.8 282.5L844.5 289.9L846.2 291.1L852.2 290.9ZM828.6 298.2L822.8 298.3L822.0 306.0L829.8 305.2ZM836.4 306.1L831.8 307.1L837.2 312.5L838.1 311.9ZM756.3 89.6L754.4 101.0L756.4 103.1L767.7 101.1L764.3 88.4L760.5 86.4ZM706.1 113.1L719.1 116.6L720.9 114.8L719.9 102.7L714.8 100.0L706.5 106.0ZM730.2 100.6L729.4 99.9L719.9 102.7L720.9 114.8L731.5 114.9ZM719.1 116.6L706.1 113.1L705.3 114.0L704.6 120.3L718.6 125.4ZM757.3 128.5L754.1 125.7L744.5 126.9L744.3 127.2L743.7 138.6L753.9 141.5L756.8 138.6ZM767.8 126.9L767.3 127.6L770.1 137.5L778.4 139.2L780.6 137.8L779.8 126.7ZM803.6 137.3L804.7 138.5L815.2 138.7L815.8 127.4L805.2 127.2ZM790.3 139.3L792.0 148.9L804.5 150.7L804.7 138.5L803.6 137.3L791.6 137.9ZM816.8 140.5L815.2 138.7L804.7 138.5L804.5 150.7L804.7 151.0L816.8 150.5ZM817.3 163.2L828.1 165.5L830.2 163.2L829.8 151.8L828.0 150.6L817.1 150.7ZM843.4 160.3L840.3 149.4L829.8 151.8L830.2 163.2L840.4 163.3ZM804.3 188.7L803.9 175.9L803.5 175.6L792.1 176.9L791.4 189.1L802.4 190.4ZM778.0 199.0L780.9 188.2L778.3 185.0L768.4 186.5L767.2 188.4L769.1 198.9ZM792.9 202.6L789.8 199.3L780.0 200.6L780.5 211.7L790.4 213.3L793.0 211.4ZM805.6 202.0L802.3 199.2L792.9 202.6L793.0 211.4L800.9 213.4L804.4 210.8ZM800.9 213.4L803.8 223.5L815.1 222.5L814.8 212.9L804.4 210.8ZM803.6 223.8L804.3 231.9L815.7 231.6L816.0 223.3L815.1 222.5L803.8 223.5ZM838.8 330.6L834.1 328.7L830.5 332.7L830.9 336.2L838.2 336.4ZM837.5 313.4L837.2 312.5L831.0 306.3L828.8 312.0L833.4 315.2ZM794.7 312.0L794.5 316.7L798.0 317.9L801.3 314.2L800.0 310.7ZM795.9 351.8L793.8 349.7L791.0 349.8L789.0 355.9L795.4 356.0ZM735.6 349.4L739.2 355.1L744.0 355.2L744.8 351.6L742.8 347.7L739.5 346.7L735.7 349.2ZM796.4 344.6L796.9 344.6L801.0 340.5L799.8 337.3L797.7 336.3L792.9 340.0L793.2 342.1ZM814.1 315.2L815.7 310.7L815.5 310.2L809.9 309.0L807.9 311.1L807.7 313.2L811.0 315.9ZM773.7 324.9L777.1 327.2L781.8 322.9L778.0 318.6L775.3 322.2L773.1 322.2ZM742.8 347.7L746.8 344.2L746.1 340.9L743.2 339.4L739.4 341.5L739.5 346.7ZM772.0 342.3L766.9 342.1L766.0 345.4L768.2 348.2L772.8 346.3ZM824.4 329.8L819.5 327.0L816.5 329.2L816.1 332.8L821.9 335.4ZM804.6 345.9L803.4 341.6L801.0 340.5L796.9 344.6L800.4 347.6ZM821.7 312.9L823.2 312.1L822.9 305.9L817.2 306.4L816.9 306.3L815.5 310.2L815.7 310.7ZM732.0 351.5L726.6 350.3L725.3 351.9L726.7 358.8L731.7 358.8ZM776.7 390.7L772.7 387.9L769.0 389.3L768.0 395.3L776.6 395.3ZM794.9 370.9L788.6 372.0L788.3 378.3L793.9 379.8L795.8 378.7L795.7 371.4ZM752.5 395.3L761.5 395.3L760.5 388.3L754.2 388.2ZM742.7 369.6L749.1 367.9L749.8 362.6L748.0 360.4L740.5 363.1L739.9 365.7ZM790.1 355.9L781.2 355.8L780.7 361.9L786.9 364.6L790.3 362.5ZM721.9 375.4L717.9 375.2L715.8 380.1L719.4 384.8L723.8 380.6ZM776.7 390.7L776.6 395.3L785.2 395.3L785.0 391.8L780.7 388.1ZM792.2 387.7L789.5 387.4L785.0 391.8L785.2 395.3L792.9 395.3ZM730.6 386.5L730.1 386.2L724.7 389.1L724.5 395.3L732.4 395.3ZM807.3 387.9L808.2 388.7L811.7 385.6L814.7 384.2L812.3 379.3L810.9 378.7L806.7 381.5ZM925.5 343.0L922.7 346.7L924.2 350.7L928.9 350.9L928.8 344.5L926.1 342.9ZM915.5 352.0L912.0 350.8L909.0 353.4L908.9 357.0L915.4 357.1ZM928.5 312.6L934.0 311.2L934.7 309.1L929.0 305.2L926.2 307.4L926.5 310.8ZM879.3 341.9L881.9 338.3L879.9 333.0L879.0 334.4L874.0 336.2L876.9 341.8ZM929.0 305.2L929.3 303.1L927.3 299.6L923.6 299.4L920.6 304.1L921.6 305.7L926.2 307.4ZM869.1 350.3L868.7 346.1L865.2 345.0L862.2 347.1L862.5 350.5L865.8 352.6ZM897.8 348.4L900.4 350.9L903.0 351.3L904.6 350.4L905.7 347.3L904.5 344.8L900.6 343.9L897.7 347.6ZM938.2 346.1L935.0 347.1L933.8 350.4L936.9 353.5L940.8 351.2L941.0 347.7ZM909.0 353.4L904.6 350.4L903.0 351.3L903.4 357.0L908.9 357.0ZM900.4 350.9L897.8 348.4L893.9 352.2L896.1 356.9L897.0 356.9ZM852.0 345.6L855.6 348.0L859.1 345.7L858.4 341.1L854.5 341.7L854.2 341.3ZM926.4 332.7L925.6 334.2L928.2 337.8L932.4 337.6L934.0 334.6L931.8 331.3ZM914.3 337.6L914.1 335.7L909.4 332.6L908.4 332.8L906.4 338.3L907.6 340.4L910.7 341.1ZM888.3 335.7L886.5 339.0L887.5 341.4L892.8 342.3L894.5 340.0L893.2 335.6ZM844.4 344.4L843.4 347.3L846.4 350.4L848.7 350.3L851.3 345.8L847.1 342.9ZM952.6 324.6L947.9 321.7L945.2 326.2L945.7 327.7L951.1 327.7ZM898.5 311.3L896.2 314.7L899.5 319.5L900.9 319.9L903.2 318.6L903.7 312.0ZM838.7 349.7L834.5 350.9L833.2 356.4L841.9 356.5ZM921.0 319.5L922.0 317.0L921.1 313.7L919.0 312.1L915.9 312.1L913.1 316.1L916.9 321.2L917.8 321.3ZM956.3 350.5L952.7 355.0L952.7 357.3L960.9 357.4L959.5 350.9ZM925.4 326.4L924.6 327.3L926.4 332.7L931.8 331.3L932.6 327.8L932.4 327.4ZM944.5 353.8L940.8 351.2L936.9 353.5L936.6 357.2L944.6 357.3ZM858.7 352.9L855.8 350.7L851.5 353.3L851.3 356.6L853.9 356.6L853.9 356.6L858.7 356.6ZM872.9 352.0L869.1 350.3L865.8 352.6L865.9 356.7L873.3 356.7ZM910.7 341.1L907.6 340.4L904.5 344.8L905.7 347.3L910.9 347.2L912.3 344.9ZM918.1 330.3L920.4 327.6L917.8 321.3L916.9 321.2L912.1 325.3L912.6 327.5ZM871.1 344.2L874.2 344.5L876.9 341.8L874.0 336.2L869.2 337.9ZM887.5 341.4L886.5 339.0L881.9 338.3L879.3 341.9L881.5 344.8L885.8 344.6ZM852.0 345.6L851.3 345.8L848.7 350.3L851.5 353.3L855.8 350.7L855.6 348.0ZM929.4 351.4L928.9 350.9L924.2 350.7L922.2 353.0L922.4 357.1L929.5 357.2ZM929.3 303.1L929.0 305.2L934.7 309.1L937.2 300.7ZM812.2 385.3L811.7 385.6L806.2 390.4L805.9 395.3L817.2 395.3ZM837.4 385.9L839.0 379.5L838.8 379.3L832.0 378.6L829.3 383.3L830.1 386.3ZM875.0 366.4L869.5 363.5L864.3 367.1L865.0 371.8L869.6 374.6L875.2 369.6ZM921.2 408.1L920.5 414.8L925.0 417.5L925.5 416.0L930.9 411.6L927.6 407.3ZM860.4 364.8L864.3 367.1L869.5 363.5L869.3 356.7L860.1 356.6ZM829.1 388.4L830.9 394.2L840.4 390.6L837.4 385.9L830.1 386.3ZM901.1 388.7L897.7 390.8L897.2 395.2L899.5 397.8L906.0 396.8L907.5 392.5L906.8 391.0ZM921.8 363.2L915.8 362.5L914.2 364.2L914.0 367.3L916.9 370.0L922.0 368.8L923.2 365.1ZM866.6 448.6L871.0 451.9L874.3 451.0L877.4 446.6L872.3 439.8L869.9 439.8L867.0 442.4ZM869.1 458.0L862.7 460.2L864.5 465.9L869.0 468.3L869.8 469.8L869.9 469.6L872.7 466.4L875.1 463.3ZM842.9 390.5L840.8 390.4L832.1 393.7L835.1 400.5L837.7 401.6L843.9 398.7ZM855.0 413.5L849.6 417.2L850.6 422.1L856.8 425.0L859.5 422.9L859.8 416.4ZM860.0 482.3L863.6 483.1L864.9 477.5L861.3 476.5L858.8 480.3ZM805.9 462.8L810.3 463.4L813.1 459.5L809.0 454.8L806.4 455.4ZM840.6 437.2L838.5 440.4L838.9 442.4L839.7 443.2L844.6 442.8L845.9 439.3L844.8 437.6ZM831.2 469.4L834.5 466.3L833.1 462.1L826.8 463.6L826.1 467.6ZM835.5 477.3L834.2 474.5L832.1 473.6L827.4 476.2L828.6 480.7L833.0 482.0ZM798.5 481.3L798.7 488.1L801.8 489.8L805.6 486.5L803.9 480.9L800.9 479.8ZM845.0 485.1L848.8 484.7L849.4 483.8L848.8 479.7L846.2 478.3L841.8 480.3L841.7 481.4ZM832.5 421.2L835.2 423.9L840.1 422.1L838.1 419.6L836.0 416.1ZM801.0 442.5L803.5 439.4L801.5 435.1L796.5 435.6L795.2 440.0L797.0 442.5ZM827.4 476.2L825.1 475.1L821.7 476.2L820.7 483.2L824.9 484.1L828.6 480.7ZM861.0 494.0L861.2 492.7L862.1 489.0L857.2 486.9L856.5 487.0L855.2 488.9L856.0 493.3ZM742.9 404.3L742.7 395.3L735.3 395.3L737.1 397.7L736.5 404.2ZM751.8 405.2L760.7 405.9L762.0 404.8L761.0 395.3L753.2 395.3ZM734.7 423.3L733.7 434.0L740.9 431.9L741.2 423.9L741.1 423.9ZM760.3 459.2L761.3 453.2L760.0 451.7L752.4 450.2L750.0 452.7L751.1 460.2L758.6 460.9ZM788.0 451.4L789.8 461.3L793.4 460.8L790.7 449.2ZM750.4 488.5L751.3 481.1L750.4 480.1L741.5 479.1L742.1 488.1L750.4 488.6ZM704.2 415.7L705.2 414.8L704.0 407.5L698.1 406.9L696.6 415.1ZM721.2 422.2L728.5 422.3L728.5 415.0L728.0 414.3L719.7 415.9ZM706.0 431.3L704.6 429.7L696.8 432.1L696.8 438.7L703.3 439.5ZM730.5 493.8L727.8 502.9L731.5 507.9L731.0 493.4ZM1038.2 230.3L1042.2 226.6L1041.4 224.4L1033.7 224.4L1033.7 229.4ZM1038.9 236.0L1039.8 234.7L1038.2 230.3L1033.7 229.4L1033.7 236.2ZM1040.5 240.7L1043.0 240.0L1046.1 239.4L1046.1 237.0L1044.8 233.6L1039.8 234.7L1038.9 236.0ZM1044.8 233.6L1042.2 226.6L1038.2 230.3L1039.8 234.7ZM1038.9 236.0L1033.7 236.2L1033.7 239.9L1034.3 243.7L1035.0 243.5L1035.0 242.3L1040.5 240.7ZM1030.6 213.2L1033.7 216.4L1044.2 214.1L1042.9 207.8L1042.8 207.8L1030.8 207.4ZM1010.8 215.4L1005.7 211.7L1002.8 223.6L1008.6 223.7ZM1052.5 226.7L1053.2 222.7L1045.1 216.1L1041.4 224.4L1041.4 224.4L1043.6 230.3ZM1057.6 231.9L1067.3 223.8L1065.9 222.0L1060.0 222.0L1057.6 219.4L1053.2 222.7L1052.5 226.7ZM1018.6 207.0L1007.0 206.6L1005.7 211.7L1010.8 215.4L1015.7 215.3L1018.4 212.8ZM1024.6 216.3L1018.4 212.8L1015.7 215.3L1017.1 223.9L1024.1 224.0ZM1018.4 212.8L1024.6 216.3L1030.6 213.2L1030.8 207.4L1018.6 207.0ZM1032.5 158.2L1029.6 159.6L1028.0 163.0L1034.2 168.7L1037.4 164.0L1038.0 160.1ZM1012.4 163.9L1015.1 160.9L1012.4 151.7L1005.6 151.7L1006.3 164.0ZM1015.1 160.9L1019.8 160.6L1023.6 152.3L1023.5 151.6L1012.4 151.7ZM1024.0 164.3L1028.0 163.0L1029.6 159.6L1023.6 152.3L1019.8 160.6ZM1030.4 174.4L1034.2 168.7L1028.0 163.0L1024.0 164.3L1022.4 170.8ZM1014.9 193.5L1007.2 195.5L1007.0 206.6L1021.9 207.1L1022.6 197.0ZM1006.9 177.6L1007.1 179.9L1016.2 183.8L1020.2 181.9L1019.4 172.4L1016.2 171.5ZM1006.3 164.0L1006.9 177.6L1016.2 171.5L1012.4 163.9ZM1039.8 171.4L1038.7 182.2L1048.5 182.5L1047.9 170.2ZM1024.8 187.9L1022.8 193.2L1022.3 201.0L1031.9 198.4L1033.5 192.4ZM1039.4 207.7L1042.8 207.8L1050.1 203.4L1055.2 203.4L1052.9 198.8L1049.7 193.1L1043.6 194.7ZM1038.5 182.3L1038.7 182.2L1039.8 171.4L1034.8 167.9L1029.2 176.1L1028.0 179.3ZM1043.6 194.7L1036.9 190.7L1033.5 192.4L1031.9 198.4L1038.9 207.7L1039.4 207.7ZM980.9 249.0L987.7 246.0L988.3 244.9L981.0 240.7L977.1 245.8ZM980.0 260.5L978.9 255.2L972.9 254.1L971.9 258.9L975.8 263.6ZM919.7 280.4L908.9 280.4L909.2 284.1L915.4 283.3L918.9 285.5ZM948.5 314.2L944.8 319.8L952.8 324.7L952.9 324.7L954.3 317.6L950.2 313.9ZM947.8 301.5L947.6 303.8L953.3 308.8L954.8 308.4L957.7 302.5L952.9 298.6ZM961.6 318.3L967.4 315.3L968.1 311.3L962.8 311.3L962.7 309.8L959.6 311.6L959.2 316.0ZM957.7 302.5L954.8 308.4L959.6 311.6L962.7 309.8L962.3 301.7ZM930.3 283.8L935.9 289.6L939.5 289.0L942.0 280.4L930.4 280.4ZM884.0 254.7L882.5 248.8L875.0 248.5L875.0 258.0L875.0 258.4ZM928.5 261.7L923.4 263.0L923.3 271.2L929.2 272.5L933.4 268.4ZM907.1 272.1L912.1 274.2L916.0 271.1L914.8 266.1L909.9 264.0L907.2 266.2ZM882.5 248.8L884.4 246.2L881.8 240.0L875.0 240.1L875.0 248.5ZM951.6 260.6L957.4 253.2L955.4 248.5L946.5 249.8L945.4 256.9L949.6 260.6ZM945.2 268.9L948.4 272.4L956.5 270.6L956.7 265.3L951.6 260.6L949.6 260.6ZM908.7 238.7L906.9 241.3L909.7 248.6L913.5 248.8L917.3 245.0L916.9 240.5ZM921.0 272.8L916.0 271.1L912.1 274.2L912.5 280.4L920.9 280.4ZM923.4 263.0L920.6 261.5L914.8 266.1L916.0 271.1L921.0 272.8L923.3 271.2ZM884.4 246.2L890.2 245.7L892.1 241.5L888.9 236.5L884.4 236.4L881.8 240.0ZM889.6 272.4L883.3 272.4L882.6 280.4L891.1 280.4ZM967.7 263.8L967.1 270.7L971.4 275.8L980.0 268.7L974.0 261.5ZM907.5 250.6L907.5 257.1L909.7 259.0L917.1 255.9L913.5 248.8L909.7 248.6ZM970.2 249.6L962.6 255.4L964.0 261.6L967.7 263.8L974.0 261.5L971.9 258.9L973.6 250.6ZM916.8 206.9L927.8 209.7L929.8 204.6L923.1 197.9L916.6 204.0ZM903.1 203.9L902.7 204.6L893.5 209.5L898.5 216.6L908.7 214.1L909.2 213.4ZM909.7 198.5L913.5 191.2L912.2 185.2L908.2 185.2L899.1 189.5L901.4 194.2L901.8 198.1L903.1 200.1ZM981.3 178.8L977.5 177.6L969.1 183.5L973.2 190.1L978.9 191.0L983.0 187.4ZM958.0 176.0L954.3 186.6L960.1 188.9L968.8 183.4L964.2 176.4ZM988.5 199.3L990.9 189.9L990.3 189.0L983.0 187.4L978.9 191.0L981.2 199.2L985.8 200.8ZM939.2 190.8L946.7 195.6L948.8 195.2L953.4 186.8L944.9 181.3L942.7 185.2L938.9 185.2ZM1003.2 185.1L997.8 191.6L1000.1 196.6L1007.1 197.3L1007.4 185.9L1007.3 184.9ZM969.1 168.5L963.9 162.0L960.9 165.2L953.8 171.1L958.0 176.0L964.2 176.4ZM968.8 183.4L969.1 183.5L977.5 177.6L974.2 169.1L969.1 168.5L964.2 176.4ZM1006.1 159.9L1005.6 151.7L991.0 151.8L991.1 156.7L996.2 162.5ZM987.7 170.5L982.2 164.1L980.0 163.8L974.2 169.1L977.5 177.6L981.3 178.8L986.6 175.7ZM941.0 204.8L941.6 206.3L951.1 208.3L954.8 201.2L948.8 195.2L946.7 195.6ZM1019.9 249.0L1020.0 249.0L1034.1 243.8L1033.0 240.2L1018.3 243.8ZM960.1 188.9L963.1 198.4L968.1 197.9L973.2 190.1L969.1 183.5L968.8 183.4ZM896.6 296.3L900.4 297.2L900.8 297.0L903.5 292.2L901.9 287.6L895.1 292.3ZM859.9 324.5L860.3 327.1L864.6 330.2L866.0 330.1L867.6 328.9L867.9 321.3L865.8 320.2L863.0 320.6ZM880.0 300.1L883.9 302.7L887.0 301.8L888.8 299.3L887.5 294.6L884.4 292.9L880.3 294.9ZM863.2 290.1L860.2 286.7L858.1 288.2L854.3 295.0L857.5 297.2L861.9 296.0ZM893.6 299.4L888.8 299.3L887.0 301.8L891.8 308.4L896.3 306.0ZM876.4 288.1L879.8 285.6L879.7 280.4L875.0 280.4L875.0 279.9L870.2 282.5L871.0 285.5ZM879.3 321.8L875.6 324.5L875.4 327.2L881.2 330.8L884.8 324.7ZM863.0 320.6L865.8 320.2L866.5 312.2L861.3 311.3L859.0 316.2ZM875.0 272.1L875.0 258.0L873.6 258.9L871.0 271.6Z" fill="#bb82b0" stroke="#dcc8de" stroke-width="0.17" stroke-linejoin="round"/>
<path d="M221.9 289.6L213.2 249.0L212.9 248.7L205.8 253.1L196.7 272.7L206.2 293.7ZM229.1 290.5L245.3 265.7L213.2 249.0L221.9 289.6ZM206.2 293.7L196.7 272.7L177.7 274.4L174.1 285.0L180.6 294.1L200.5 301.5ZM237.0 347.8L222.0 363.2L254.2 395.3L255.3 391.6L252.1 368.5L265.0 366.1L265.0 348.5ZM91.9 134.0L94.3 122.0L92.8 121.4L81.2 121.4L82.8 128.7L82.8 133.3ZM91.9 134.0L94.0 136.1L98.3 137.2L104.2 129.3L98.3 123.8L94.3 122.0ZM98.3 137.2L102.9 143.4L103.4 143.5L112.1 137.7L106.5 136.0L105.5 130.6L104.2 129.3ZM103.4 143.5L113.9 154.0L122.6 154.9L123.1 145.0L118.5 136.7L114.6 138.4L112.1 137.7ZM103.4 143.5L102.9 143.4L97.9 149.6L99.9 160.8L100.4 161.3L113.9 154.0ZM123.3 155.8L122.6 154.9L113.9 154.0L100.4 161.3L100.7 165.2L117.4 174.4L123.5 157.0ZM117.4 174.4L100.7 165.2L87.3 182.5L119.2 185.8ZM136.7 136.8L134.7 137.2L121.9 135.2L118.5 136.7L123.1 145.0ZM142.1 135.8L136.7 136.8L123.1 145.0L122.6 154.9L123.3 155.8L145.0 149.6ZM174.8 148.6L183.0 150.5L194.6 127.4L175.1 127.4L174.7 129.2L170.0 129.3ZM183.0 150.5L186.2 154.4L207.7 152.0L195.4 127.4L194.6 127.4ZM147.0 162.7L147.0 151.3L145.0 149.6L123.3 155.8L123.5 157.0L138.6 167.9ZM162.8 174.4L147.0 162.7L138.6 167.9L136.0 188.3L137.4 189.1L160.4 186.9L165.5 182.1ZM113.2 202.8L98.7 205.6L99.5 224.8L123.6 224.8ZM228.4 65.0L228.4 54.4L210.4 54.4L210.4 65.0ZM228.4 77.9L228.4 65.0L210.4 65.0L210.4 75.2ZM233.0 88.5L228.4 79.2L228.4 77.9L210.4 75.2L210.4 95.6L223.7 95.6ZM218.7 114.1L210.4 110.7L210.4 117.7L212.6 127.4L216.2 133.2ZM222.9 136.7L234.0 116.5L227.6 111.2L218.7 114.1L216.2 133.2L218.3 136.5ZM249.2 192.6L255.5 184.6L245.8 169.7L236.1 179.4L235.5 186.3ZM242.2 205.0L227.5 197.6L210.6 205.1L210.6 224.8L236.4 224.8ZM228.4 190.0L227.5 197.6L242.2 205.0L246.4 202.1L249.2 192.6L235.5 186.3ZM287.4 213.2L289.1 214.9L293.7 212.1L298.7 205.0L300.0 198.2L289.2 184.8L281.8 193.7ZM298.7 205.0L293.7 212.1L319.4 220.0L319.4 205.0ZM298.7 205.0L319.4 205.0L319.4 182.1L300.0 198.2ZM287.4 224.8L319.4 224.8L319.4 220.0L293.7 212.1L289.1 214.9ZM408.4 167.2L390.1 167.2L386.5 173.6L386.9 176.0L409.3 182.6L411.3 176.6ZM408.4 167.2L411.3 176.6L428.2 176.6L431.1 170.2L422.9 151.8L417.7 151.8ZM446.8 170.2L446.8 151.8L422.9 151.8L431.1 170.2ZM335.5 176.5L328.4 151.8L319.4 151.8L319.4 178.7ZM327.3 200.5L343.2 189.4L340.7 179.8L335.5 176.5L319.4 178.7L319.4 200.3ZM348.8 191.9L343.2 189.4L327.3 200.5L344.1 223.4L357.1 215.8ZM341.3 228.4L319.4 229.5L319.4 249.2L346.7 249.2ZM375.9 217.3L357.1 215.8L344.1 223.4L341.3 228.4L346.7 249.2L355.8 249.2L378.6 249.2ZM428.9 231.6L413.6 215.1L410.6 214.8L406.9 217.3L405.4 249.2L421.1 249.2ZM406.9 217.3L410.6 214.8L407.8 193.1L385.0 191.9L383.2 193.8L379.8 198.8L378.0 215.3ZM436.7 210.4L435.0 229.8L446.8 232.8L446.8 209.5ZM409.3 182.6L386.9 176.0L385.0 191.9L407.8 193.1L409.3 191.0ZM411.3 176.6L409.3 182.6L409.3 191.0L429.3 191.0L429.3 180.6L428.2 176.6ZM1076.2 113.8L1088.4 117.1L1104.2 99.3L1102.9 98.2L1097.4 94.3L1086.5 98.7L1083.8 95.8L1083.8 92.6L1080.7 91.9L1070.0 105.9ZM1088.4 117.1L1093.7 127.0L1106.9 127.0L1106.9 101.4L1104.2 99.3ZM1093.7 127.0L1089.5 137.8L1104.5 146.4L1107.5 144.7L1112.3 137.0L1106.5 134.8L1106.9 128.7L1106.9 127.0ZM1102.2 156.7L1104.5 146.4L1089.5 137.8L1088.0 139.0L1088.0 156.4L1096.6 158.9ZM1102.2 156.7L1114.6 164.4L1118.4 162.8L1122.9 157.2L1122.2 155.6L1107.5 144.7L1104.5 146.4ZM1102.2 156.7L1096.6 158.9L1096.6 174.3L1099.3 172.5L1110.2 166.4L1114.6 164.4ZM1087.2 178.4L1092.0 177.4L1096.6 174.3L1096.6 158.9L1088.0 156.4L1081.1 160.5L1080.8 161.5ZM1052.1 144.1L1051.0 145.7L1048.3 143.8L1046.3 144.3L1046.8 144.5L1047.6 163.1L1057.0 165.4L1062.4 162.3L1065.5 149.7ZM1080.8 161.5L1070.2 168.6L1068.0 186.4L1070.1 185.4L1075.6 182.2L1086.5 178.6L1087.2 178.4ZM1081.1 160.5L1067.9 149.2L1065.5 149.7L1062.4 162.3L1070.2 168.6L1080.8 161.5ZM1107.5 144.7L1122.2 155.6L1121.5 154.2L1118.4 148.1L1112.9 144.5L1112.9 137.2L1112.3 137.0ZM271.6 437.2L273.0 437.2L263.2 404.6L257.3 404.5L259.3 408.7L263.2 412.3L259.0 416.6ZM281.4 462.0L282.6 459.8L275.3 437.9L273.0 437.2L271.6 437.2L254.2 438.4L255.0 440.2ZM305.7 429.1L302.5 420.2L286.6 420.2L279.3 433.9L301.2 441.1ZM286.6 420.2L268.4 403.9L263.2 404.6L273.0 437.2L275.3 437.9L279.3 433.9ZM300.7 445.0L327.2 444.3L327.4 442.3L326.2 436.3L305.7 429.1L301.2 441.1ZM281.4 462.0L255.0 440.2L256.6 444.0L252.6 450.8L251.0 456.4L278.9 468.0ZM279.3 433.9L275.3 437.9L282.6 459.8L299.3 450.8L300.7 445.0L301.2 441.1ZM319.0 462.6L299.3 450.8L282.6 459.8L281.4 462.0L278.9 468.0L308.6 480.3ZM300.7 445.0L299.3 450.8L319.0 462.6L327.2 460.1L327.2 444.3ZM327.4 460.3L327.2 460.1L319.0 462.6L308.6 480.3L319.0 484.7L337.7 484.7ZM259.0 416.6L257.9 417.7L256.1 430.6L252.4 434.3L254.2 438.4L271.6 437.2ZM99.6 78.6L95.4 72.5L92.1 73.4L83.7 71.4L70.4 66.6L69.1 69.0L70.8 81.2L72.3 84.0ZM141.2 54.4L108.8 54.4L112.8 68.7L140.8 57.6ZM140.8 57.6L112.8 68.7L111.6 74.0L135.3 74.0L141.6 63.6ZM111.6 74.0L108.4 79.5L132.6 87.6L135.3 74.0ZM128.4 101.7L109.5 92.3L102.8 106.6L129.2 109.0L129.3 108.6ZM109.0 121.2L100.3 108.6L99.4 108.6L91.6 121.4L92.8 121.4L98.3 123.8L102.5 127.7ZM111.7 121.9L114.9 138.3L121.9 135.2L128.4 136.2L130.1 120.0L128.5 116.3ZM111.7 121.9L109.0 121.2L102.5 127.7L105.5 130.6L106.5 136.0L114.6 138.4L114.9 138.3ZM154.6 94.5L152.3 91.2L133.0 88.8L128.4 101.7L129.3 108.6L153.6 105.9ZM188.3 76.6L196.1 78.9L204.8 75.0L195.6 54.4L191.7 54.4ZM210.4 75.3L210.4 54.4L195.6 54.4L204.8 75.0ZM188.3 76.6L177.1 80.1L175.8 89.2L176.0 89.7L192.7 98.1L198.2 93.4L196.1 78.9ZM198.2 93.4L210.4 95.0L210.4 75.3L204.8 75.0L196.1 78.9ZM210.4 109.3L210.4 95.0L198.2 93.4L192.7 98.1L192.7 107.3L205.1 111.4ZM180.8 111.0L174.3 104.9L163.7 109.5L172.0 122.7ZM172.0 122.7L163.7 109.5L155.5 108.6L153.8 119.8L164.4 129.4L171.6 129.2ZM187.6 112.1L180.8 111.0L172.0 122.7L171.6 129.2L174.7 129.2L175.1 127.4L190.3 127.4ZM205.1 111.4L201.1 127.4L212.6 127.4L210.4 117.7L210.4 109.3ZM228.4 79.1L228.4 79.2L234.8 92.1L240.0 96.4L247.7 88.7ZM242.8 70.0L246.7 54.4L228.4 54.4L228.4 73.2ZM267.8 68.4L265.9 54.4L246.7 54.4L242.8 70.0L251.9 77.8ZM251.9 77.8L242.8 70.0L228.4 73.2L228.4 79.1L247.7 88.7L250.5 87.6ZM269.7 130.2L266.5 110.6L256.8 109.7L259.3 111.6L257.5 138.4L266.2 134.9ZM267.8 68.4L278.1 78.0L294.6 61.5L294.9 54.4L265.9 54.4ZM400.6 82.3L413.6 73.1L406.8 54.4L388.5 54.4L390.9 79.9ZM437.9 68.4L424.8 81.6L427.2 85.4L446.8 86.9L446.8 70.7ZM314.3 132.0L337.8 120.3L339.1 117.2L332.5 112.8L309.9 115.6L312.9 130.9ZM383.6 122.9L401.2 148.4L411.5 130.9L402.6 112.3L402.5 112.1L387.9 114.6ZM411.5 130.9L426.4 131.3L431.3 125.8L428.5 114.3L402.6 112.3ZM358.2 134.4L370.3 146.1L380.2 125.1L358.2 120.7ZM347.6 112.4L339.1 117.2L337.8 120.3L341.6 139.7L358.2 134.4L358.2 120.7L351.8 112.6ZM314.3 132.0L320.0 151.8L337.4 151.8L341.6 139.7L337.8 120.3ZM293.8 133.2L287.0 124.3L275.7 128.0L269.7 130.2L266.2 134.9L266.6 134.8L275.7 150.6L275.7 156.7L283.9 165.2L284.3 165.1ZM314.3 132.0L312.9 130.9L293.8 133.2L284.3 165.1L296.6 162.8L311.2 162.8L319.4 164.7L319.4 151.8L320.0 151.8ZM381.8 366.9L381.5 346.6L355.8 346.6L355.8 370.6ZM426.5 346.6L407.1 346.6L406.8 363.6L416.3 368.0L427.8 360.7ZM409.5 390.4L398.7 370.2L385.7 371.2L383.1 388.0L384.1 389.6L405.6 393.4ZM438.7 368.7L427.8 360.7L416.3 368.0L421.9 382.8L437.9 372.2ZM381.0 411.4L382.2 410.2L384.1 389.6L383.1 388.0L355.8 389.5L355.8 405.4ZM449.3 404.6L449.3 417.2L465.4 417.2L465.5 401.5ZM448.3 438.9L452.1 432.1L447.2 420.4L431.8 421.2L429.7 430.2L428.8 439.3L429.2 439.9ZM465.0 464.8L465.3 431.3L452.1 432.1L448.3 438.9L455.3 453.8ZM428.8 439.3L403.6 432.9L401.5 448.1L404.2 451.1L428.5 444.6L429.2 439.9ZM377.2 437.0L382.6 428.5L380.6 422.0L355.8 425.1L355.8 434.1ZM431.3 330.0L429.5 328.0L418.3 326.0L414.3 330.0L414.3 346.6L431.3 346.6ZM471.6 325.3L456.8 343.2L456.7 346.6L483.2 346.6L483.2 323.9ZM280.4 249.1L280.9 249.0L276.6 224.8L264.8 224.8L264.8 249.1ZM264.8 278.7L264.8 304.5L274.5 304.6L279.5 289.2ZM280.9 249.0L291.1 249.7L304.6 224.8L276.6 224.8ZM317.0 253.7L323.5 262.6L338.2 260.6L348.7 249.2L319.4 249.2L319.4 247.3ZM338.2 260.6L336.6 285.1L355.8 284.2L355.8 249.2L348.7 249.2ZM328.0 285.0L334.2 286.4L336.6 285.1L338.2 260.6L323.5 262.6L319.8 275.2ZM296.4 289.2L279.5 289.2L274.5 304.6L286.2 311.0L290.9 311.4L297.0 290.6ZM335.9 309.3L334.9 317.8L355.8 330.9L355.8 307.5ZM264.8 304.5L264.8 327.5L266.7 327.5L286.2 311.0L274.5 304.6ZM166.3 333.9L178.3 345.2L189.6 347.3L199.9 341.2L169.5 310.8ZM460.4 60.0L461.8 61.2L474.2 58.5L475.3 56.9L475.1 54.4L460.3 54.4ZM475.3 56.9L488.3 61.0L489.8 59.4L489.4 54.4L475.1 54.4ZM501.1 57.7L502.2 58.7L515.3 58.1L515.4 54.4L501.3 54.4ZM544.0 61.5L544.6 54.4L530.7 54.4L530.5 58.1L531.9 60.1L542.5 62.8ZM474.2 58.5L461.8 61.2L462.9 71.5L474.5 72.2ZM488.3 61.0L475.3 56.9L474.2 58.5L474.5 72.2L476.2 73.8L488.3 70.5ZM503.3 72.2L502.2 58.7L501.1 57.7L489.8 59.4L488.3 61.0L488.3 70.5L491.4 73.3ZM516.7 60.0L515.3 58.1L502.2 58.7L503.3 72.2L504.1 72.8L515.4 72.0L516.2 71.2ZM531.9 60.1L530.5 58.1L516.7 60.0L516.2 71.2L528.1 71.8ZM544.0 61.5L542.5 62.8L542.6 72.8L557.2 73.5L556.7 62.1ZM557.2 73.5L557.6 74.2L569.9 72.4L568.7 58.8L558.5 60.1L556.7 62.1ZM568.7 58.8L569.9 72.4L572.7 74.6L573.3 66.6L571.3 56.6ZM487.1 88.5L490.6 85.1L491.4 73.3L488.3 70.5L476.2 73.8L475.5 84.5L477.3 86.6ZM504.1 72.8L503.3 72.2L491.4 73.3L490.6 85.1L503.8 87.5ZM557.3 85.1L557.6 74.2L557.2 73.5L542.6 72.8L542.4 73.0L543.1 85.6L543.7 86.2L554.6 87.4ZM491.1 100.0L501.9 99.9L502.7 99.3L504.3 88.1L503.8 87.5L490.6 85.1L487.1 88.5L489.6 98.8ZM476.5 111.6L489.1 114.7L491.1 100.0L489.6 98.8L476.0 103.0ZM529.5 100.7L518.0 101.3L517.1 102.1L515.7 113.4L517.0 115.3L529.3 114.3ZM572.1 101.8L568.9 113.2L571.3 115.5L580.6 115.5L579.7 112.8L578.2 103.1L578.1 101.6ZM474.0 114.1L463.3 113.1L462.1 114.1L461.2 128.9L474.1 128.9ZM529.3 114.3L517.0 115.3L516.5 124.0L531.6 128.8L531.9 116.6ZM531.6 128.8L531.7 128.9L542.8 128.9L543.1 128.6L545.2 116.0L541.3 113.3L531.9 116.6ZM571.3 115.5L569.6 128.9L583.1 128.9L582.4 120.1L580.6 115.5ZM531.6 128.8L516.5 124.0L511.8 128.9L531.7 128.9ZM456.7 144.1L453.3 128.9L446.8 128.9L446.8 144.8ZM542.0 143.1L542.1 128.9L533.1 128.9L530.0 132.2L530.7 143.7L531.4 144.4ZM542.0 143.1L544.8 146.0L555.1 143.6L555.5 128.9L542.1 128.9ZM579.9 144.1L582.8 142.2L577.8 137.2L580.6 132.9L576.3 128.9L567.2 128.9L569.6 143.0ZM456.4 156.3L457.7 144.9L456.7 144.1L446.8 144.8L446.8 151.8L446.8 157.2ZM456.4 156.3L457.1 157.0L469.4 158.7L471.1 156.5L466.7 143.4L457.7 144.9ZM507.5 144.6L507.3 144.8L507.9 155.7L509.1 157.4L519.0 158.2L521.0 155.5L519.2 145.5L517.1 143.7ZM509.1 157.4L506.3 167.9L517.0 170.0L520.8 165.9L519.0 158.2ZM533.7 156.2L528.6 167.8L529.8 169.5L540.8 169.8L542.7 167.2L539.8 157.2ZM482.5 170.2L480.7 168.5L470.6 167.8L469.6 169.1L469.1 180.6L480.0 179.9ZM493.9 180.8L493.7 170.5L482.5 170.2L480.0 179.9L481.5 181.3ZM506.8 182.6L508.1 181.7L504.9 168.8L495.3 168.5L493.7 170.5L493.9 180.8L495.1 183.0ZM540.8 169.8L529.8 169.5L528.3 180.1L530.9 182.6L540.5 181.2L541.9 179.6ZM540.8 169.8L541.9 179.6L554.2 180.0L555.0 179.1L555.9 169.1L554.3 167.1L542.7 167.2ZM568.5 167.8L567.4 180.4L568.2 181.3L579.2 181.1L578.6 169.1L569.0 167.4ZM468.8 181.0L457.7 181.2L456.4 193.9L457.6 195.0L468.0 193.9L470.6 190.7ZM540.5 181.2L530.9 182.6L529.5 193.4L530.2 194.3L542.2 196.0L543.9 194.2ZM554.2 180.0L541.9 179.6L540.5 181.2L543.9 194.2L555.1 192.4L555.2 192.4ZM568.2 181.3L566.2 193.4L567.5 194.4L579.9 192.5L580.8 182.7L579.2 181.1ZM583.0 195.9L585.1 188.3L585.1 181.8L580.8 182.7L579.9 192.5ZM530.2 194.3L529.5 193.4L518.1 193.2L516.5 195.0L517.4 200.5L529.2 200.5ZM555.1 192.4L543.9 194.2L542.2 196.0L542.4 200.5L547.8 200.5L555.2 205.0ZM567.5 194.4L566.2 193.4L555.2 192.4L555.1 192.4L555.2 205.0L556.9 206.1L568.0 204.5ZM577.6 208.5L584.2 212.7L582.9 202.2ZM475.7 208.2L484.3 209.8L486.9 207.3L485.4 200.5L476.4 200.5ZM496.7 207.1L505.7 206.1L506.9 200.5L496.0 200.5ZM536.7 208.0L537.1 208.3L545.0 206.2L545.3 200.5L536.0 200.5ZM555.7 205.4L547.8 200.5L545.3 200.5L545.0 206.2L548.3 208.7L555.3 207.4ZM473.8 209.7L466.6 208.4L464.6 209.7L464.2 218.6L464.2 218.6L474.7 217.9ZM484.2 218.4L484.3 209.8L475.7 208.2L473.8 209.7L474.7 217.9L474.9 218.2ZM578.4 217.2L576.1 208.6L568.1 209.9L567.3 217.0L568.2 218.1L577.2 218.8ZM576.1 208.6L578.4 217.2L585.5 216.3L584.2 212.7L576.5 207.9ZM464.2 218.6L464.2 218.6L454.8 217.8L454.1 218.7L454.4 227.6L456.0 229.3L464.4 228.1ZM474.7 217.9L464.2 218.6L464.4 228.1L465.1 228.6L473.8 227.8L474.9 218.2ZM496.8 227.9L506.1 228.3L506.5 228.1L507.3 219.2L505.0 217.1L496.3 217.3L495.5 218.5L496.7 227.8ZM537.0 217.8L538.4 227.1L545.7 228.6L548.6 219.0L547.2 217.2L537.6 217.0ZM568.2 218.1L567.3 217.0L558.0 217.4L556.5 219.5L558.6 226.7L566.7 228.2ZM466.1 237.4L475.2 239.4L475.6 239.0L475.3 228.9L473.8 227.8L465.1 228.6ZM475.6 239.0L485.9 238.4L485.9 230.0L484.0 228.1L475.3 228.9ZM535.4 229.2L527.6 228.6L525.3 239.0L535.4 240.1L536.6 239.2ZM556.5 239.3L556.8 239.0L556.7 228.7L546.2 229.3L546.5 237.3ZM567.0 228.6L566.7 228.2L558.6 226.7L556.7 228.7L556.8 239.0L565.7 237.8L566.1 237.4ZM446.8 237.4L446.8 249.2L453.7 249.2L455.9 240.0L453.9 237.0ZM516.6 238.1L516.3 237.9L506.6 240.5L505.8 248.4L506.4 249.2L515.3 250.4L516.2 249.7ZM535.1 248.3L535.4 240.1L525.3 239.0L525.2 239.1L525.3 249.0ZM566.1 237.4L565.7 237.8L567.5 249.0L575.8 248.6L576.2 248.4L575.9 239.0ZM576.2 248.4L585.3 249.0L586.1 248.1L586.4 237.5L577.9 236.7L575.9 239.0ZM486.8 248.1L487.1 259.5L495.2 259.0L496.1 248.3L495.9 248.2ZM496.1 248.3L495.2 259.0L496.5 259.8L504.6 259.2L504.9 258.9L506.4 249.2L505.8 248.4ZM564.7 258.0L567.0 260.3L575.9 258.3L575.8 248.6L567.5 249.0L567.1 249.4ZM586.1 248.1L585.3 249.0L587.6 258.2L595.9 258.9L596.8 258.1L596.0 256.5L595.3 246.8ZM516.6 260.3L516.2 259.9L504.9 258.9L504.6 259.2L506.6 269.3L513.8 270.0L516.4 267.5ZM555.9 260.2L556.1 268.4L566.4 270.4L568.3 268.6L567.0 260.3L564.7 258.0L556.9 259.0ZM577.2 259.6L575.9 258.3L567.0 260.3L568.3 268.6L576.1 269.1L577.0 268.4ZM585.4 268.1L585.7 267.9L587.2 258.6L577.2 259.6L577.0 268.4ZM597.3 268.2L595.9 258.9L587.6 258.2L587.2 258.6L585.7 267.9L596.5 269.4ZM602.6 267.9L597.5 259.4L596.8 258.1L595.9 258.9L597.3 268.2ZM495.5 273.5L504.8 273.5L505.1 270.6L496.5 269.9L495.7 270.5ZM596.5 269.4L585.7 267.9L585.4 268.1L586.0 273.5L596.5 273.5ZM520.5 275.5L531.1 274.3L531.7 273.5L519.0 273.5ZM570.6 273.5L557.6 273.5L560.2 283.1L566.6 283.6ZM597.1 284.1L605.4 283.3L606.3 273.8L606.0 273.5L598.2 273.5ZM511.5 292.7L511.4 284.7L510.3 283.8L500.9 283.6L500.3 284.2L500.6 292.8L500.7 292.8L509.1 294.5ZM531.1 284.1L529.0 293.4L529.4 294.0L540.2 295.1L541.0 294.3L539.3 284.5ZM550.9 286.0L549.8 293.2L557.4 295.1L560.1 293.1L558.9 284.5ZM587.9 294.2L588.4 294.7L597.0 295.4L598.2 294.3L596.7 284.4L588.5 283.4ZM607.5 285.1L606.1 293.4L618.5 294.7L615.0 284.6ZM568.2 294.3L568.7 301.3L568.8 301.4L578.4 303.6L578.6 303.5L580.3 294.8L578.2 292.4L569.2 293.0ZM578.6 303.5L587.8 304.4L588.4 294.7L587.9 294.2L580.3 294.8ZM559.6 312.6L559.8 312.8L568.2 312.5L568.8 301.4L568.7 301.3L560.1 303.6ZM615.6 314.7L618.7 312.8L618.7 301.4L607.6 303.9L607.4 304.2L607.0 312.2L607.3 312.7ZM586.9 314.7L586.8 322.5L596.8 323.4L597.8 322.5L596.8 313.7L596.6 313.6L589.7 312.3ZM521.0 324.8L520.6 332.2L521.9 333.5L529.1 333.7L530.6 332.0L529.3 323.7ZM606.4 324.4L606.0 324.0L597.8 322.5L596.8 323.4L595.4 331.3L597.6 333.6L604.8 333.5L605.9 332.0ZM615.1 323.7L606.4 324.4L605.9 332.0L618.5 332.8L618.6 327.0ZM490.4 333.5L483.2 334.2L483.2 341.8L490.4 343.2L492.3 340.2ZM539.7 333.3L539.6 339.9L540.1 340.4L548.2 341.0L550.8 333.6L549.2 332.2ZM569.8 342.2L578.0 342.8L578.9 342.0L580.5 334.7L577.1 331.3L569.1 333.5ZM580.5 334.7L578.9 342.0L588.2 343.1L589.6 342.0L587.2 333.1ZM501.8 343.0L500.5 341.0L492.3 340.2L490.4 343.2L490.5 346.6L500.9 346.6ZM529.7 344.1L521.5 341.0L519.1 343.0L519.7 346.6L529.8 346.6ZM540.1 340.4L539.6 339.9L531.7 341.5L529.7 344.1L529.8 346.6L540.3 346.6ZM588.2 343.1L578.9 342.0L578.0 342.8L578.8 346.6L587.6 346.6ZM481.9 346.6L470.9 346.6L470.3 354.5L470.9 355.3L480.9 355.0ZM561.0 354.8L572.0 354.1L572.3 353.8L572.4 346.6L561.4 346.6ZM571.2 375.5L582.5 375.0L582.6 374.9L582.1 366.1L573.1 365.6L570.3 374.3ZM620.4 374.0L619.1 363.7L611.1 364.2L610.8 364.4L613.5 374.2ZM571.5 416.6L571.8 417.0L581.5 416.1L581.6 405.8L571.6 406.4ZM612.6 405.3L611.0 407.3L612.5 414.7L613.7 415.7L621.2 416.0L621.4 406.0ZM583.6 423.3L591.3 423.0L592.9 415.3L592.1 414.1L581.7 416.3ZM616.7 426.0L621.0 428.4L621.0 425.3ZM616.2 52.5L614.8 46.6L608.8 45.1L608.8 51.5ZM572.4 61.8L573.3 66.6L572.8 73.5L579.2 72.4L580.4 62.4ZM639.7 73.9L639.5 64.0L632.4 63.4L627.5 62.6L627.1 73.0L637.8 75.4ZM581.4 86.3L582.5 85.4L581.3 73.8L579.2 72.4L572.8 73.5L572.4 78.7L575.6 85.9ZM581.3 73.8L582.5 85.4L592.3 86.1L593.0 75.3L590.3 72.7ZM672.6 85.0L674.4 87.1L685.7 85.3L686.0 84.9L685.2 73.3L677.0 77.0L674.5 75.7ZM698.3 84.0L707.9 85.5L708.9 78.3L702.5 76.3L698.3 76.3ZM580.6 99.1L581.4 86.3L575.6 85.9L577.8 90.9L578.1 101.3ZM592.8 98.0L593.5 97.2L592.5 86.3L592.3 86.1L582.5 85.4L581.4 86.3L580.6 99.1ZM604.6 84.8L592.5 86.3L593.5 97.2L605.2 97.2L606.4 96.1L605.1 85.3ZM650.0 96.1L651.8 86.5L650.5 85.1L637.9 85.3L637.7 85.6L639.3 96.4ZM673.1 94.1L674.2 95.7L687.7 99.4L685.7 85.3L674.4 87.1ZM592.8 98.0L580.6 99.1L578.1 101.3L578.2 103.1L579.0 108.2L593.0 110.8L594.1 109.5ZM629.3 98.4L626.6 108.1L639.1 109.4L639.9 108.6L638.1 97.8ZM638.1 97.8L639.9 108.6L650.1 110.0L651.7 108.6L650.9 97.2L650.0 96.1L639.3 96.4ZM650.9 97.2L651.7 108.6L664.2 109.2L662.9 97.0ZM674.2 95.7L673.1 94.1L663.1 96.8L662.9 97.0L664.2 109.2L664.2 109.2L664.3 109.2L673.5 105.5ZM639.9 108.6L639.1 109.4L636.4 119.9L637.8 121.2L650.1 121.9L650.1 110.0ZM664.2 109.2L651.7 108.6L650.1 110.0L650.1 121.9L650.1 122.0L660.6 120.5L660.6 111.1L664.2 109.2ZM601.9 122.9L594.4 120.6L589.5 132.0L589.9 132.4L603.4 131.9ZM604.1 132.8L615.2 131.0L614.1 120.7L605.5 119.9L601.9 122.9L603.4 131.9ZM650.7 129.6L650.1 122.0L650.1 121.9L637.8 121.2L637.6 131.4L639.4 133.2ZM650.1 122.0L650.7 129.6L652.6 132.1L660.6 125.0L660.6 120.5ZM591.5 142.1L589.9 132.4L589.5 132.0L582.1 130.5L577.8 137.2L584.3 143.7ZM639.4 133.2L637.6 131.4L626.8 132.4L628.7 142.2L639.6 141.5ZM650.7 129.6L639.4 133.2L639.6 141.5L641.2 143.1L649.7 143.0L651.6 141.6L649.7 134.8L652.6 132.1ZM591.8 154.8L594.1 144.1L591.5 142.1L584.3 143.7L585.1 144.5L585.1 154.4ZM594.1 144.1L591.8 154.8L592.3 155.4L603.1 155.2L604.1 154.0L602.2 142.8ZM585.1 154.4L585.1 167.2L592.8 166.7L593.2 166.3L592.3 155.4L591.8 154.8ZM626.8 156.1L615.0 156.8L612.5 166.4L615.8 169.4L627.1 166.2ZM628.5 167.5L639.3 167.0L640.5 165.5L637.7 154.7L628.0 154.5L626.8 156.1L627.1 166.2ZM585.1 167.2L585.1 179.5L591.7 180.3L592.2 179.8L592.8 166.7ZM593.2 166.3L592.8 166.7L592.2 179.8L603.1 180.0L603.8 167.3ZM612.5 166.4L603.8 167.3L603.8 167.3L603.1 180.0L603.6 180.4L616.5 176.9L615.8 169.4ZM615.8 169.4L616.5 176.9L618.2 179.0L628.7 179.1L629.0 178.9L628.5 167.5L627.1 166.2ZM652.7 168.9L650.7 177.8L651.1 178.4L661.9 180.7L663.9 178.1L660.8 167.3ZM660.8 167.3L663.9 178.1L674.7 175.1L670.7 171.3L663.1 164.8ZM591.7 180.3L585.1 179.5L585.1 188.3L591.7 188.3ZM603.6 180.4L603.1 180.0L592.2 179.8L591.7 180.3L591.7 188.3L605.4 188.3ZM603.6 180.4L605.4 188.3L616.3 188.3L618.2 179.0L616.5 176.9ZM628.2 188.3L639.8 188.3L638.6 179.3L629.0 178.9L628.7 179.1ZM640.9 177.2L638.6 179.3L639.8 188.3L649.8 188.3L651.1 178.4L650.7 177.8ZM674.8 188.3L680.3 188.3L679.8 179.8L675.4 175.7ZM649.0 191.9L656.3 190.0L657.7 188.3L645.2 188.3ZM589.5 197.7L587.5 188.3L585.1 188.3L582.4 198.0ZM621.8 188.3L614.9 188.3L615.5 199.1L623.4 198.6L623.5 198.5ZM632.0 191.5L631.1 196.8L631.2 197.0L640.6 199.8L640.7 199.7L639.7 188.3L635.3 188.3ZM657.6 198.3L656.3 190.0L649.0 191.9L648.6 198.4L655.9 200.0ZM607.5 206.7L607.6 206.6L605.1 197.5L598.2 199.2L598.3 206.3ZM607.6 206.6L614.4 205.7L615.4 199.3L605.3 197.2L605.1 197.5ZM615.5 199.1L615.4 199.3L614.4 205.7L614.6 206.0L623.9 206.8L624.5 206.3L623.4 198.6ZM647.8 208.5L648.7 207.6L648.5 198.5L640.7 199.7L640.6 199.8L639.3 206.0L639.9 206.6ZM648.7 207.6L656.9 207.0L655.9 200.0L648.6 198.4L648.5 198.5ZM657.0 207.0L665.3 205.6L664.8 198.1L657.6 198.3L655.9 200.0L656.9 207.0ZM589.5 207.7L588.8 214.2L597.9 215.5L599.0 214.1L597.4 207.8ZM615.8 214.2L622.3 214.3L623.9 206.8L614.6 206.0ZM691.1 213.1L690.7 212.7L686.2 206.0L682.2 206.4L682.9 214.0L689.6 214.7ZM588.6 214.4L590.3 222.6L597.3 221.8L597.9 215.5L588.8 214.2ZM614.9 215.1L606.4 214.0L606.2 214.1L606.7 223.1L614.4 221.9ZM622.3 224.7L623.1 223.9L623.8 215.9L622.3 214.3L615.8 214.2L614.9 215.1L614.4 221.9L616.2 223.6ZM639.8 215.1L631.6 214.9L631.5 215.0L632.8 223.3L638.4 223.1L640.5 215.9ZM648.0 216.3L648.4 221.8L649.5 223.2L656.2 224.4L657.9 223.2L658.1 215.2L657.7 214.8L648.2 216.1ZM658.1 215.2L657.9 223.2L664.3 224.8L666.4 223.3L665.4 215.0ZM665.4 215.0L666.4 223.3L673.3 224.0L673.4 224.0L673.6 215.9L665.7 214.8ZM681.5 222.7L681.3 215.2L675.3 214.3L673.6 215.9L673.4 224.0ZM607.1 230.6L605.8 224.1L598.6 223.2L596.6 231.8L597.7 232.7L606.3 231.8ZM616.2 223.6L614.4 221.9L606.7 223.1L605.8 224.1L607.1 230.6L613.0 231.1ZM641.3 230.9L640.6 224.9L638.4 223.1L632.8 223.3L632.4 223.7L632.4 230.5L639.6 233.0ZM683.0 230.6L683.5 224.3L681.5 222.7L673.4 224.0L673.3 224.0L674.0 231.7L674.9 232.5L681.4 232.2ZM692.5 230.9L698.5 230.5L698.9 229.7L699.8 222.4L699.0 221.6L690.6 222.3L690.5 222.5ZM615.4 233.5L613.0 231.1L607.1 230.6L606.3 231.8L606.8 239.9L606.9 239.9L614.2 241.1ZM624.0 240.6L622.5 231.7L615.4 233.5L614.2 241.1L614.2 241.1L623.8 240.8ZM664.3 231.8L656.4 232.8L655.7 239.5L657.5 241.4L665.4 240.4L666.0 233.4ZM674.9 232.5L674.0 231.7L666.0 233.4L665.4 240.4L665.7 240.6L673.9 242.0L674.8 241.1ZM684.1 240.4L691.0 237.8L691.1 232.5L683.0 230.6L681.4 232.2ZM614.2 241.1L614.5 249.3L623.7 249.8L624.3 249.2L623.8 240.8ZM638.8 239.7L639.1 248.9L639.9 249.8L647.8 247.8L647.9 240.5L639.5 239.0ZM674.8 241.1L673.9 242.0L674.0 248.9L682.9 248.6L683.3 241.4ZM605.2 257.6L607.0 250.2L604.9 248.1L598.8 248.2L595.7 251.5L596.0 256.5L597.5 259.4L603.6 259.4ZM607.0 250.2L605.2 257.6L614.7 256.7L614.4 249.4ZM623.7 249.8L614.5 249.3L614.4 249.4L614.7 256.7L616.6 259.2L623.3 259.2ZM639.0 255.9L639.8 255.1L639.9 249.8L639.1 248.9L631.5 248.6L630.0 249.6L632.1 257.0ZM639.8 255.1L649.9 258.9L650.3 258.9L649.3 249.1L647.8 247.8L639.9 249.8ZM658.2 249.0L657.1 247.5L649.3 249.1L650.3 258.9L654.5 258.9ZM614.7 256.7L605.2 257.6L603.6 259.4L616.6 259.2ZM674.8 256.8L674.4 256.3L664.7 256.6L663.4 258.8L671.0 258.7L673.4 260.9ZM617.3 263.0L624.8 262.2L624.7 259.2L616.6 259.2ZM633.5 261.8L634.4 262.4L643.4 261.4L646.0 258.9L633.4 259.1ZM651.7 263.3L658.9 262.5L659.2 262.2L659.4 258.8L646.3 258.9ZM671.7 259.4L671.0 258.7L659.4 258.8L659.2 262.2L669.3 261.5ZM607.9 269.6L608.6 262.7L606.4 259.3L603.4 259.4L599.6 263.0L605.2 272.2ZM624.8 262.2L617.3 263.0L617.3 263.0L616.4 270.7L617.0 271.4L625.4 270.6L625.8 270.2L625.3 262.7ZM634.4 262.4L633.5 261.8L625.3 262.7L625.8 270.2L633.2 271.4L634.3 270.1ZM651.5 270.5L651.7 263.3L646.3 258.9L646.0 258.9L643.4 261.4L642.3 270.0L642.5 270.3L650.7 271.8ZM669.3 261.5L666.8 270.2L668.1 271.9L675.7 271.2L677.0 264.3L671.7 259.4ZM650.7 271.8L642.5 270.3L641.6 278.4L642.7 279.2L649.5 278.9L651.1 277.1ZM625.1 279.1L616.9 278.5L618.2 287.1L626.0 285.8L625.4 279.4ZM635.5 278.8L633.9 286.9L634.1 287.1L642.4 288.0L642.6 287.8L642.7 279.2L641.6 278.4ZM649.5 278.9L651.1 286.2L651.5 286.6L657.9 287.4L658.9 286.5L658.7 278.4L651.1 277.1ZM667.4 278.4L666.0 286.7L666.8 287.5L675.9 285.8L675.6 280.5ZM634.1 287.1L634.9 295.5L643.0 294.4L643.3 294.1L642.4 288.0ZM658.9 286.5L657.9 287.4L658.1 294.4L659.8 296.1L667.6 294.3L666.8 287.5L666.0 286.7ZM684.5 289.4L683.2 287.2L677.4 287.5L676.0 294.4L684.3 296.8ZM633.2 297.7L625.6 295.5L624.8 295.9L624.7 303.7L627.1 305.8L634.6 303.6ZM650.6 296.0L649.4 294.8L643.3 294.1L643.0 294.4L642.5 304.1L649.7 304.6L650.7 303.8ZM659.5 304.0L659.8 296.1L658.1 294.4L650.6 296.0L650.7 303.8L659.5 304.1ZM698.9 303.8L698.9 302.8L692.9 299.6L692.3 304.0L693.5 305.1ZM634.7 312.1L635.3 304.2L634.6 303.6L627.1 305.8L625.9 312.0L632.7 313.7ZM641.9 314.6L642.4 314.1L642.4 304.2L635.3 304.2L634.7 312.1ZM676.6 303.8L676.4 304.0L675.9 311.4L684.0 313.0L684.5 303.0ZM642.7 322.0L650.5 320.2L649.4 313.4L642.4 314.1L641.9 314.6L641.3 320.6ZM682.6 321.4L683.9 320.1L684.1 313.1L684.0 313.0L675.9 311.4L674.9 312.2L676.4 321.5ZM625.0 328.3L625.3 328.1L624.2 321.3L618.6 320.4L618.5 330.1ZM634.5 322.0L632.7 320.1L624.9 320.7L624.2 321.3L625.3 328.1L633.2 329.0ZM667.7 329.3L674.5 329.7L676.4 321.5L667.9 320.8L667.1 321.5L667.5 329.2ZM675.5 330.6L683.2 329.5L683.6 329.0L682.6 321.4L676.4 321.5L676.4 321.5L674.5 329.7ZM633.6 329.6L633.2 329.0L625.3 328.1L625.0 328.3L625.6 337.0L634.0 337.0ZM642.0 337.2L642.5 337.5L650.2 337.2L650.8 329.8L643.7 327.4L642.4 328.7ZM659.6 336.5L660.4 330.2L659.9 329.8L650.9 329.7L650.8 329.8L650.2 337.2L650.5 337.6L657.7 338.0ZM676.1 337.8L683.0 338.7L684.7 336.7L683.2 329.5L675.5 330.6L676.0 337.6ZM683.6 329.0L683.2 329.5L684.7 336.7L692.2 336.3L692.8 330.1L691.7 328.5ZM624.0 347.7L625.7 345.7L623.6 338.5L618.5 337.9L618.4 346.6L618.4 347.4ZM634.0 337.0L625.6 337.0L623.6 338.5L625.7 345.7L633.5 345.2L634.1 337.2ZM634.1 337.2L633.5 345.2L634.0 345.9L642.2 346.0L642.5 337.5L642.0 337.2ZM650.5 337.6L650.2 337.2L642.5 337.5L642.2 346.0L643.6 347.1L650.3 346.8L650.5 346.7ZM692.9 344.5L701.0 346.6L701.9 345.8L702.5 339.4L700.1 337.1L693.5 337.8ZM709.2 347.1L710.5 345.5L709.9 337.6L702.5 339.4L701.9 345.8ZM709.9 337.6L710.5 345.5L717.0 345.5L711.6 339.3L710.2 337.3ZM633.5 345.2L625.7 345.7L624.0 347.7L625.8 354.7L633.8 353.5L633.9 353.3L634.0 345.9ZM633.9 353.3L641.5 354.6L643.6 347.1L642.2 346.0L634.0 345.9ZM650.3 346.8L643.6 347.1L641.5 354.6L643.0 356.4L650.0 355.2ZM650.3 346.8L650.0 355.2L651.2 356.3L659.0 355.8L659.4 355.2L659.1 347.8L650.5 346.7ZM660.1 346.8L659.1 347.8L659.4 355.2L666.8 355.7L668.5 354.0L666.1 345.5ZM701.4 355.2L708.7 355.1L710.2 353.9L709.2 347.1L701.9 345.8L701.0 346.6L700.1 354.1ZM713.9 354.4L718.0 346.6L717.0 345.5L710.5 345.5L709.2 347.1L710.2 353.9ZM633.8 353.5L625.8 354.7L625.6 354.9L626.3 358.8L633.9 358.8ZM659.0 355.8L651.2 356.3L651.1 358.8L659.2 358.8ZM648.8 375.8L657.2 373.5L655.3 365.6L649.7 365.0L648.3 365.9L647.6 374.3ZM685.3 382.6L684.1 375.7L682.8 374.6L676.0 374.8L675.5 375.4L676.1 383.6L683.3 384.3ZM648.9 391.9L649.2 391.6L649.9 382.9L648.4 381.4L639.8 383.1L639.6 383.4L639.9 391.3ZM639.4 391.8L630.5 391.8L629.3 392.7L630.1 400.4L639.3 400.8ZM630.0 429.4L631.8 420.6L628.8 418.1L621.1 419.8L621.0 428.4L628.8 430.6ZM658.3 427.7L667.3 429.1L667.7 428.7L665.8 419.4L658.1 420.6L657.6 426.8ZM649.4 428.2L647.8 430.5L648.7 436.4L657.6 437.0L658.3 427.7L657.6 426.8ZM640.2 438.2L638.4 436.6L629.0 436.6L629.0 444.0L639.4 444.0ZM665.5 437.7L657.8 437.3L657.1 444.0L666.3 444.0ZM638.5 468.0L636.4 461.3L629.0 460.8L629.0 468.6L629.8 470.9ZM642.9 509.0L646.3 503.7L644.8 500.7L635.8 499.3L635.2 502.4L634.5 508.0ZM637.8 452.2L637.5 444.0L629.0 444.0L629.0 452.8ZM642.2 518.4L632.7 516.6L631.5 521.9L631.7 527.3L633.3 526.8L643.5 525.9ZM572.2 426.1L582.1 429.0L583.0 428.0L583.2 423.3L582.4 423.3L572.2 425.6ZM583.0 428.0L594.0 424.9L593.9 422.9L583.2 423.3ZM547.1 472.6L548.6 474.0L558.9 472.0L559.0 471.8L558.1 462.0L557.0 460.8L548.0 460.7L546.7 462.1ZM569.9 460.9L558.1 462.0L559.0 471.8L570.8 471.6ZM572.3 473.1L580.9 472.0L582.4 470.6L583.9 461.7L582.4 460.1L571.8 458.3L569.9 460.9L570.8 471.6ZM560.6 483.3L560.1 484.0L560.0 493.2L570.0 494.4L572.6 492.4L572.7 484.4L570.6 481.6ZM607.2 494.7L607.2 485.3L604.1 482.7L595.4 485.4L595.9 492.8L606.6 495.3ZM561.2 507.7L570.6 506.2L570.0 494.4L560.0 493.2L558.5 494.7L560.1 506.7ZM595.9 492.8L593.9 494.6L595.1 505.8L605.0 506.2L606.6 495.3ZM605.0 506.2L605.7 507.2L617.4 507.6L617.9 507.0L618.3 496.1L616.8 494.9L607.2 494.7L606.6 495.3ZM582.4 503.9L581.6 504.8L584.0 517.7L591.8 517.5L593.8 506.7ZM617.4 507.6L619.2 516.9L629.1 517.9L628.7 506.3L628.4 506.0L617.9 507.0ZM708.5 92.2L719.7 93.0L715.2 81.2L705.3 88.4ZM708.5 92.2L705.2 101.8L708.2 104.8L720.7 95.8L719.7 93.0ZM673.4 111.1L674.8 105.0L664.3 109.2L660.6 111.1L660.6 113.2ZM684.6 101.7L687.9 112.2L694.1 113.5L695.2 112.9L698.2 101.2L697.4 100.3ZM673.4 111.1L660.6 113.2L660.6 120.1L662.2 122.1L672.7 123.1L674.1 112.0ZM694.7 124.5L694.8 124.5L706.5 122.7L707.7 121.4L700.7 118.9L695.2 114.1L696.6 113.1L695.2 112.9L694.1 113.5ZM673.2 134.5L673.7 135.0L685.4 135.9L684.5 125.1L682.6 123.5L675.2 125.4ZM706.5 122.7L705.3 133.2L708.2 135.9L716.3 135.5L716.4 135.4L715.7 124.3L707.7 121.4ZM683.5 146.7L684.9 145.1L685.7 136.2L685.4 135.9L673.7 135.0L674.3 144.7ZM716.3 135.5L717.4 145.1L718.9 146.7L727.3 147.5L728.0 146.6L727.7 135.0L726.9 134.1L716.4 135.4ZM686.0 156.6L693.4 157.1L696.5 146.3L684.9 145.1L683.5 146.7L684.0 154.8ZM694.3 158.0L707.3 156.7L705.7 147.8L704.3 146.2L697.7 145.4L696.5 146.3L693.4 157.1ZM715.8 156.3L718.9 146.7L717.4 145.1L705.7 147.8L707.3 156.7L707.7 157.0ZM753.2 155.8L761.6 156.1L762.6 144.5L751.7 147.7ZM661.6 158.3L651.8 154.4L651.5 157.9L660.6 162.8L660.7 162.8ZM674.0 168.4L672.7 159.1L663.3 157.1L661.6 158.3L660.7 162.8L670.7 171.3L671.2 171.7ZM685.0 169.5L695.0 168.6L695.8 167.7L694.3 158.0L693.4 157.1L686.0 156.6L683.4 168.2ZM707.7 157.0L707.3 156.7L694.3 158.0L695.8 167.7L707.1 167.4ZM738.1 168.3L739.2 167.3L739.9 158.0L739.5 157.5L728.7 155.9L727.5 157.3L728.5 168.3ZM753.2 155.8L751.7 157.7L752.9 168.2L760.6 168.3L761.6 156.1ZM684.1 181.6L685.5 179.7L685.0 169.5L683.4 168.2L674.0 168.4L671.2 171.7L679.8 179.8L679.8 180.8ZM685.5 179.7L696.2 177.7L695.0 168.6L685.0 169.5ZM698.1 179.4L704.9 179.2L706.2 177.9L707.3 167.7L707.1 167.4L695.8 167.7L695.0 168.6L696.2 177.7ZM706.2 177.9L717.5 179.3L718.4 178.6L719.0 169.8L718.5 169.4L707.3 167.7ZM719.0 169.8L718.4 178.6L726.4 181.5L729.3 179.3L728.3 168.5ZM728.3 168.5L729.3 179.3L738.2 179.4L738.1 168.3L728.5 168.3ZM738.2 179.4L739.2 180.5L750.7 176.8L750.9 170.2L739.2 167.3L738.1 168.3ZM752.5 179.2L759.6 179.6L760.6 168.3L752.9 168.2L750.9 170.2L750.7 176.8ZM715.0 188.9L717.5 179.3L706.2 177.9L704.9 179.2L707.5 188.6ZM727.4 190.2L726.4 181.5L718.4 178.6L717.5 179.3L715.0 188.9L717.7 192.1ZM752.5 179.2L750.7 176.8L739.2 180.5L739.9 188.2L751.2 188.7ZM683.2 190.9L686.5 202.3L694.7 200.0L694.8 190.4L685.7 187.9ZM705.5 190.7L694.9 190.3L694.8 190.4L694.7 200.0L697.1 201.9L706.4 201.2ZM708.0 202.2L716.3 200.0L717.7 192.1L715.0 188.9L707.5 188.6L705.5 190.7L706.4 201.2ZM739.2 189.2L729.2 191.5L729.4 201.5L739.6 200.6L741.5 198.8ZM749.4 200.5L749.9 200.1L751.5 189.0L751.2 188.7L739.9 188.2L739.2 189.2L741.5 198.8ZM686.5 202.3L684.9 204.0L690.7 212.7L696.7 212.7L697.1 201.9L694.7 200.0ZM697.1 201.9L696.7 212.7L708.1 212.7L708.0 202.2L706.4 201.2ZM728.5 202.8L717.4 201.0L718.4 212.7L729.6 212.7ZM729.4 201.5L728.5 202.8L729.6 212.7L740.1 212.7L739.6 200.6ZM749.9 200.1L749.4 200.5L748.9 212.7L755.3 212.7L757.1 200.5ZM698.2 214.1L697.0 212.7L690.7 212.7L697.7 220.2ZM706.8 214.0L698.2 214.1L697.7 220.2L699.3 221.9L704.8 222.2ZM721.0 222.5L721.5 222.1L723.1 212.7L712.8 212.7L715.2 221.8ZM714.0 223.1L705.1 222.5L705.5 231.2L705.6 231.2L712.9 230.2ZM738.6 221.7L737.8 222.4L739.8 229.9L740.2 230.2L746.4 231.3L747.7 222.7ZM749.0 221.3L747.7 222.7L746.4 231.3L747.5 232.3L747.5 230.7L753.5 230.7L754.3 222.2ZM721.6 237.6L722.8 230.7L722.7 230.6L713.3 230.6L714.8 238.3ZM746.4 231.3L740.2 230.2L737.1 238.7L737.9 239.6L747.5 239.2L747.5 232.3ZM687.5 239.1L683.4 240.7L683.0 248.2L688.3 248.8L690.2 246.4L689.9 240.7ZM690.2 246.4L697.2 247.8L698.0 239.9L696.2 238.6L689.9 240.7ZM705.9 239.1L705.0 240.1L705.7 248.3L705.8 248.5L714.6 247.3L714.9 247.1L713.6 239.6ZM729.2 248.2L731.0 246.8L730.1 239.2L723.4 239.7L722.3 246.9ZM697.3 247.9L696.0 254.6L697.7 256.3L704.5 255.3L705.6 254.3L705.8 248.5L705.7 248.3ZM714.9 247.1L714.6 247.3L714.8 256.2L722.1 255.6L722.2 247.0ZM729.2 248.2L722.3 246.9L722.2 247.0L722.1 255.6L722.5 255.9L729.8 256.2ZM730.3 256.6L737.4 255.7L738.7 253.9L738.3 248.0L737.7 247.3L731.0 246.8L729.2 248.2L729.8 256.2ZM696.0 254.6L689.9 254.5L688.4 256.2L690.3 263.3L696.6 263.9L696.7 263.9L697.7 256.3ZM696.7 263.9L704.1 264.8L705.3 263.6L704.5 255.3L697.7 256.3ZM722.5 255.9L722.0 264.5L722.2 264.7L729.7 263.1L730.3 256.6L729.8 256.2ZM729.7 263.1L730.6 264.2L738.5 264.4L739.7 262.9L737.4 255.7L730.3 256.6ZM678.3 273.2L680.5 270.9L681.0 265.1L678.7 261.9L677.0 264.3L675.3 273.1ZM705.5 272.2L704.1 264.8L696.7 263.9L696.6 263.9L696.0 270.7L697.5 272.2L705.4 272.4ZM713.1 270.5L713.0 263.0L705.3 263.6L704.1 264.8L705.5 272.2ZM688.9 279.8L688.6 274.3L680.5 270.9L678.3 273.2L680.2 281.1ZM705.7 279.7L712.4 281.3L714.9 279.9L714.9 272.0L713.1 270.5L705.5 272.2L705.4 272.4ZM721.7 280.7L729.4 282.2L730.9 280.1L730.2 272.6L724.0 272.3ZM705.2 290.3L712.3 288.5L712.4 281.3L705.7 279.7L705.6 279.8L704.9 290.0ZM730.7 288.1L729.4 282.2L721.7 280.7L720.5 281.3L720.8 289.1L722.0 290.2L729.7 289.8ZM730.7 288.1L738.7 287.6L740.0 280.7L739.1 279.8L730.9 280.1L729.4 282.2ZM696.3 290.4L696.7 296.3L698.8 298.2L704.7 298.1L705.8 297.3L705.2 290.3L704.9 290.0L697.9 288.9ZM705.8 297.3L712.3 298.2L713.6 297.1L714.2 290.3L712.3 288.5L705.2 290.3ZM730.9 295.7L729.7 289.8L722.0 290.2L721.2 297.5L722.7 299.2L730.4 296.3ZM739.2 288.2L738.5 297.2L739.1 298.0L745.4 297.0L747.3 289.9ZM698.8 298.2L696.7 296.3L690.6 298.4L697.7 302.1ZM721.2 297.5L713.6 297.1L712.3 298.2L713.6 304.9L722.6 304.5L722.7 299.2ZM715.2 313.8L712.8 306.2L706.0 307.3L705.7 314.5L706.7 315.6L713.8 315.0ZM721.9 313.9L723.3 305.5L722.6 304.5L713.6 304.9L712.8 306.2L715.2 313.8L721.6 314.2ZM723.3 305.5L721.9 313.9L731.2 314.4L731.3 305.7L731.2 305.7ZM731.2 314.4L731.5 314.7L738.0 313.8L738.8 313.1L737.6 305.0L731.3 305.7ZM713.8 315.0L706.7 315.6L705.8 322.1L706.3 322.7L713.9 322.2ZM705.8 322.1L699.5 322.1L705.2 330.2L706.7 329.1L706.3 322.7ZM706.3 322.7L706.7 329.1L712.4 330.6L713.2 330.1L714.6 322.9L713.9 322.2ZM713.2 330.1L721.9 330.9L722.0 330.8L722.3 322.9L714.6 322.9ZM712.4 330.6L712.6 338.6L721.1 337.9L721.9 330.9L713.2 330.1ZM722.8 340.4L730.5 340.0L730.0 331.5L722.0 330.8L721.9 330.9L721.1 337.9ZM732.2 341.3L738.0 334.4L738.0 332.0L730.6 331.0L730.0 331.5L730.5 340.0ZM775.7 232.4L783.7 233.7L783.7 230.7L774.2 230.7ZM791.1 232.1L792.1 230.7L783.7 230.7L783.7 233.7L784.2 234.3ZM755.5 239.9L755.4 233.5L747.5 234.2L747.5 237.9L749.5 240.1ZM769.5 240.5L769.8 241.0L777.2 239.2L775.7 232.4L774.2 230.7L771.9 230.7ZM770.2 246.3L770.3 246.2L769.8 241.0L769.5 240.5L763.1 238.8L762.4 239.6L762.8 246.3L763.9 247.2ZM776.3 247.3L776.4 247.3L784.2 247.5L784.8 246.8L782.8 240.0L778.2 240.1ZM755.8 246.5L749.9 246.9L747.5 249.3L747.5 250.6L750.6 254.3L756.5 254.2L757.5 253.3L756.7 247.3ZM763.2 253.7L769.5 253.4L770.2 246.3L763.9 247.2ZM769.5 253.4L769.9 253.9L776.6 253.2L776.4 247.3L776.3 247.3L770.3 246.2L770.2 246.3ZM777.4 254.2L783.5 255.0L784.0 254.5L784.2 247.5L776.4 247.3L776.6 253.2ZM790.3 245.6L789.4 246.3L791.7 253.4L797.1 253.4L797.1 246.8ZM756.5 254.2L756.7 261.5L756.9 261.7L763.6 261.0L763.7 260.9L762.8 254.0L757.5 253.3ZM791.7 253.4L790.5 254.3L790.9 260.5L797.1 260.5L797.1 253.4ZM756.0 267.8L756.9 261.7L756.7 261.5L749.5 260.3L747.5 262.0L747.5 268.2ZM769.9 268.6L770.9 267.4L769.5 260.8L763.7 260.9L763.6 261.0L763.8 267.0ZM777.4 266.6L778.2 267.4L783.0 267.9L783.6 267.5L784.9 260.9L783.8 259.4L777.2 262.0ZM747.5 268.2L747.5 274.5L754.8 276.2L756.5 274.8L756.1 267.9L756.0 267.8ZM756.5 274.8L762.4 275.6L763.4 274.6L762.1 268.6L756.1 267.9ZM778.2 267.4L777.4 266.6L770.9 267.4L769.9 268.6L769.8 274.0L776.4 274.1ZM783.6 275.0L783.0 267.9L778.2 267.4L776.4 274.1L778.0 275.9ZM784.1 275.4L790.1 274.5L790.0 268.6L783.6 267.5L783.0 267.9L783.6 275.0ZM791.1 267.6L790.0 268.6L790.1 274.5L791.2 275.5L797.1 275.3L797.1 267.3ZM763.4 274.6L762.4 275.6L762.6 281.4L763.9 282.5L770.5 281.3L769.7 274.1ZM777.0 281.4L777.1 281.3L778.0 275.9L776.4 274.1L769.8 274.0L769.7 274.1L770.5 281.3L771.1 281.8ZM791.2 275.5L790.1 274.5L784.1 275.4L784.6 281.8L790.3 281.4ZM791.2 275.5L790.3 281.4L790.6 281.7L797.1 282.4L797.1 275.3ZM776.2 289.6L777.1 288.8L777.0 281.4L771.1 281.8L771.1 289.0ZM769.5 294.8L769.9 289.9L764.0 288.3L763.4 288.7L762.2 295.9L762.4 296.0ZM783.6 295.0L783.8 294.8L782.8 288.4L777.1 288.8L776.2 289.6L777.5 295.3ZM789.2 294.7L790.4 288.8L783.9 287.0L782.8 288.4L783.8 294.8ZM748.5 302.2L750.2 296.0L749.5 295.3L745.8 295.4L743.9 302.3ZM756.5 296.2L750.2 296.0L748.5 302.2L749.5 303.1L756.1 301.9ZM769.0 302.1L776.3 302.1L776.7 301.6L776.1 297.0L770.1 295.7L768.8 301.9ZM776.1 297.0L776.7 301.6L783.3 302.3L783.6 295.0L777.5 295.3ZM790.1 295.7L789.2 294.7L783.8 294.8L783.6 295.0L783.3 302.3L783.6 302.6L790.1 301.8L790.1 301.8ZM790.1 295.7L790.1 301.8L797.1 295.5L797.1 295.3ZM756.1 301.9L749.5 303.1L750.3 308.1L756.2 309.9L756.5 309.6L757.3 303.5ZM757.3 303.5L756.5 309.6L763.4 310.7L764.1 310.0L762.9 303.1ZM769.6 309.0L770.2 309.3L775.7 307.7L776.3 302.1L769.0 302.1ZM775.7 307.7L777.8 309.4L783.4 308.8L783.6 302.6L783.3 302.3L776.7 301.6L776.3 302.1ZM783.9 309.3L786.2 305.2L790.1 301.8L783.6 302.6L783.4 308.8ZM741.8 309.9L740.7 314.1L742.3 316.3L749.3 316.4L749.8 315.9L748.3 309.8ZM748.3 309.8L749.8 315.9L754.9 315.1L756.2 309.9L750.3 308.1ZM764.1 310.0L763.4 310.7L763.7 315.9L769.9 317.0L771.7 315.6L770.2 309.3L769.6 309.0ZM771.7 315.6L776.7 316.6L777.8 309.4L775.7 307.7L770.2 309.3ZM776.7 316.6L778.3 318.3L780.8 314.9L783.9 309.3L783.4 308.8L777.8 309.4ZM769.9 317.0L763.7 315.9L762.7 317.1L762.5 323.5L766.2 322.2L769.5 322.2ZM776.7 316.6L771.7 315.6L769.9 317.0L769.5 322.2L775.3 322.2L778.3 318.3ZM738.7 323.5L738.0 327.1L738.9 327.1L741.8 326.9L741.4 323.6ZM742.4 322.5L741.4 323.6L741.8 326.9L749.4 326.3L749.9 323.5L749.8 323.5ZM749.9 323.5L749.4 326.3L755.3 325.9L758.0 325.0L755.5 323.3ZM867.6 220.6L875.0 219.5L875.0 216.9L865.8 219.0ZM813.7 236.0L822.3 237.1L823.3 235.6L822.2 231.5L821.7 231.4L814.2 231.6ZM851.2 236.1L852.0 235.4L853.0 229.0L850.9 226.5L844.8 230.2L846.3 235.8ZM875.0 236.3L875.0 228.2L869.4 228.0L869.0 235.3ZM813.9 243.2L812.8 237.1L806.2 236.7L804.5 242.8L806.5 244.7L812.4 244.9ZM823.3 235.6L822.3 237.1L822.7 241.9L828.6 243.5L830.9 237.0L829.1 235.0ZM845.7 244.8L852.4 242.6L851.2 236.1L846.3 235.8L844.9 237.1ZM804.9 251.7L806.5 244.7L804.5 242.8L797.1 244.3L797.1 250.9ZM812.6 251.4L812.4 244.9L806.5 244.7L804.9 251.7L805.3 251.9ZM837.4 252.7L838.1 251.8L836.4 244.5L829.7 245.2L828.4 251.1ZM845.5 245.1L837.7 242.7L836.4 244.5L838.1 251.8L845.4 250.5ZM845.7 244.8L845.5 245.1L845.4 250.5L846.2 251.3L852.9 252.4L853.4 243.3L852.4 242.6ZM853.6 253.0L860.2 251.4L859.8 242.9L853.4 243.3L852.9 252.4ZM868.7 243.9L869.0 250.5L875.0 250.9L875.0 242.0ZM806.5 259.6L813.5 258.5L814.2 253.1L812.6 251.4L805.3 251.9L806.1 259.2ZM822.1 259.3L828.5 260.5L830.0 259.1L828.0 251.4L822.7 252.0ZM838.1 251.8L837.4 252.7L837.2 258.7L844.8 260.1L846.2 251.3L845.4 250.5ZM844.8 260.1L845.5 260.9L853.1 260.4L853.4 259.9L853.6 253.0L852.9 252.4L846.2 251.3ZM862.3 258.7L861.1 252.0L860.2 251.4L853.6 253.0L853.4 259.9L860.5 260.5ZM806.3 267.2L814.2 266.4L814.5 259.8L813.5 258.5L806.5 259.6ZM814.7 266.9L821.6 268.2L822.0 267.6L821.3 260.1L814.5 259.8L814.2 266.4ZM844.4 268.0L844.5 268.0L845.5 260.9L844.8 260.1L837.2 258.7L836.5 259.4L836.3 267.3L836.4 267.4ZM813.3 274.8L814.4 275.9L821.3 275.2L822.3 274.3L821.6 268.2L814.7 266.9ZM836.4 276.3L837.1 275.5L836.4 267.4L836.3 267.3L831.3 268.1L828.8 275.4ZM845.2 275.1L844.4 268.0L836.4 267.4L837.1 275.5ZM845.8 275.7L852.4 275.4L854.1 267.9L854.0 267.8L844.5 268.0L844.4 268.0L845.2 275.1ZM860.7 277.1L861.5 276.1L860.1 268.4L854.1 267.9L852.4 275.4L852.8 275.7ZM868.6 266.2L868.1 266.8L869.3 274.9L870.1 275.6L872.1 266.2ZM799.2 283.8L805.4 284.9L807.1 282.7L805.6 275.8L799.0 276.1ZM821.3 275.2L814.4 275.9L813.6 282.0L821.0 283.4ZM836.9 282.6L843.8 282.5L844.9 281.4L845.8 275.7L845.2 275.1L837.1 275.5L836.4 276.3ZM860.8 282.0L860.7 277.1L852.8 275.7L852.8 283.9ZM813.6 282.0L813.3 282.3L814.0 290.5L821.1 289.9L821.4 289.6L821.5 284.1L821.0 283.4ZM860.8 282.0L852.8 283.9L852.4 284.3L852.2 290.9L855.2 293.4L858.1 288.2L862.9 285.0ZM805.5 292.3L798.0 291.6L797.1 292.2L797.1 295.5L804.4 296.7L805.6 297.6ZM814.0 290.5L813.7 290.8L814.3 299.1L822.0 297.7L821.1 289.9ZM829.3 297.5L837.1 299.6L838.5 298.0L837.1 291.1L830.5 292.3ZM846.2 291.1L844.0 298.1L845.5 300.0L851.8 298.9L852.7 297.9L855.2 293.4L852.2 290.9ZM814.0 299.4L807.4 298.9L814.6 304.5ZM814.3 299.1L814.0 299.4L814.6 304.5L817.2 306.4L822.0 306.0L822.8 298.3L822.0 297.7ZM838.5 298.0L837.1 299.6L836.8 305.7L845.0 306.1L845.5 300.0L844.0 298.1ZM845.5 300.0L845.0 306.1L845.4 306.6L851.8 298.9ZM730.5 78.9L742.9 77.1L732.2 71.4L726.2 74.2ZM756.3 89.6L743.7 89.6L743.5 89.8L744.1 101.1L754.4 101.0ZM706.5 106.0L695.8 113.6L705.3 114.0L706.1 113.1ZM730.2 100.6L731.5 114.9L731.6 115.0L741.3 113.9L743.1 111.7L742.5 103.1ZM744.1 101.1L742.5 103.1L743.1 111.7L755.6 113.2L756.4 103.1L754.4 101.0ZM792.7 103.6L781.6 97.7L779.9 99.3L780.4 115.2L780.5 115.2L790.4 113.9ZM802.8 117.4L803.9 116.0L801.7 116.5L797.1 112.1L796.2 105.5L792.7 103.6L790.4 113.9L792.0 115.5ZM705.3 114.0L695.8 113.6L695.2 114.1L700.7 118.9L704.6 120.3ZM720.9 114.8L719.1 116.6L718.6 125.4L724.3 127.4L729.4 129.4L731.5 127.5L731.6 115.0L731.5 114.9ZM780.5 115.2L780.4 115.2L768.6 114.2L768.5 114.3L767.8 126.9L779.8 126.7L780.6 125.6ZM792.0 115.5L790.4 113.9L780.5 115.2L780.6 125.6L791.1 126.9ZM743.7 138.6L744.3 127.2L731.5 127.5L729.4 129.4L737.1 132.3L741.4 140.4ZM770.1 137.5L767.3 127.6L757.3 128.5L756.8 138.6L766.4 140.5ZM791.6 137.9L803.6 137.3L805.2 127.2L803.8 125.5L792.3 128.4ZM815.8 127.4L815.2 138.7L816.8 140.5L827.9 137.0L819.0 131.8L821.7 127.4L819.0 125.0ZM766.6 150.6L767.2 151.1L777.0 150.0L778.4 139.2L770.1 137.5L766.4 140.5ZM780.6 137.8L778.4 139.2L777.0 150.0L778.6 151.6L791.8 149.1L792.0 148.9L790.3 139.3ZM777.0 150.0L767.2 151.1L766.7 162.1L778.0 163.5L779.9 161.6L778.6 151.6ZM778.6 151.6L779.9 161.6L790.4 162.0L791.8 149.1ZM804.7 151.0L804.5 150.7L792.0 148.9L791.8 149.1L790.4 162.0L790.6 162.2L803.2 163.0ZM778.0 163.5L766.7 162.1L764.6 163.8L766.2 175.3L778.2 173.5ZM792.1 176.9L803.5 175.6L803.9 164.0L803.2 163.0L790.6 162.2L790.3 175.6ZM827.2 176.7L829.0 174.2L828.1 165.5L817.3 163.2L817.0 163.5L815.3 176.2ZM780.7 176.1L778.2 173.5L766.2 175.3L765.8 175.8L768.4 186.5L778.3 185.0ZM816.0 187.7L828.0 186.8L827.2 176.7L815.3 176.2L814.8 176.6ZM816.3 200.2L813.7 190.4L804.3 188.7L802.4 190.4L802.3 199.2L805.6 202.0ZM837.5 211.0L839.0 209.0L840.5 200.5L841.2 198.4L829.0 200.8L831.4 210.5ZM766.8 223.9L768.0 213.7L766.1 211.4L755.5 211.2L755.3 212.7L753.8 226.9ZM766.8 223.9L768.1 225.4L779.1 226.8L780.4 225.4L778.5 213.2L768.0 213.7ZM790.4 213.3L780.5 211.7L778.5 213.2L780.4 225.4L789.8 223.8ZM800.9 213.4L793.0 211.4L790.4 213.3L789.8 223.8L792.3 226.4L803.6 223.8L803.8 223.5ZM815.1 222.5L816.0 223.3L827.3 222.9L828.1 218.8L828.4 218.5L828.7 213.7L817.1 210.1L814.8 212.9ZM828.4 218.5L835.4 213.9L837.5 211.0L831.4 210.5L828.7 213.7ZM792.3 226.4L789.8 223.8L780.4 225.4L779.1 226.8L779.7 230.7L792.2 230.7ZM816.9 306.3L812.1 302.6L809.6 305.6L809.9 309.0L815.5 310.2ZM742.8 347.7L744.8 351.6L750.2 349.7L749.9 345.9L746.8 344.2ZM807.6 339.0L809.7 339.9L813.4 338.1L813.8 334.4L809.0 331.9L805.8 334.0ZM833.0 325.3L827.2 325.4L825.1 329.5L830.5 332.7L834.1 328.7ZM807.0 298.7L804.4 296.7L800.9 296.1L800.2 301.3L804.2 303.0ZM759.8 339.4L755.7 337.7L753.0 339.1L753.6 343.8L755.8 344.9L759.6 343.3L760.3 340.8ZM776.3 334.7L775.8 332.1L770.3 331.3L769.1 335.7L773.0 338.1ZM735.7 349.2L739.5 346.7L739.4 341.5L734.4 338.7L731.1 342.6ZM799.4 321.9L795.0 324.9L798.8 329.8L801.7 329.2L802.8 327.0ZM771.4 353.5L767.9 350.0L764.7 351.9L764.3 355.5L771.3 355.6ZM766.0 345.4L762.2 346.5L761.5 349.4L764.7 351.9L767.9 350.0L768.2 348.2ZM763.1 334.4L764.4 329.9L760.3 327.4L756.9 332.2L762.6 334.6ZM840.0 321.4L837.5 313.4L833.4 315.2L831.9 319.0L834.2 322.8ZM813.3 352.3L816.1 350.7L816.7 346.3L815.8 345.3L811.4 345.7L810.6 350.4ZM755.8 344.9L753.6 343.8L749.9 345.9L750.2 349.7L752.1 351.3L756.3 349.3ZM829.7 337.9L822.0 335.6L820.7 339.2L823.6 343.6L824.9 343.8L829.7 339.2ZM766.8 336.7L763.1 334.4L762.6 334.6L759.8 339.4L760.3 340.8L766.1 340.9ZM777.5 329.3L777.1 327.2L773.7 324.9L769.1 329.2L770.3 331.3L775.8 332.1ZM787.9 346.2L793.2 342.1L792.9 340.0L789.5 337.4L786.6 338.5L785.2 342.4ZM789.5 337.4L790.3 333.5L785.8 330.0L784.8 330.1L783.6 330.9L782.6 335.5L786.6 338.5ZM739.4 341.5L743.2 339.4L742.7 334.6L738.2 332.8L738.0 334.4L734.4 338.7ZM797.0 304.9L793.4 306.4L792.4 309.8L794.7 312.0L800.0 310.7L800.7 309.0ZM798.0 317.9L799.6 321.3L804.8 319.7L804.5 315.3L801.3 314.2ZM780.1 336.6L776.3 334.7L773.0 338.1L773.3 340.4L779.2 341.8ZM791.0 349.8L793.8 349.7L796.4 344.6L793.2 342.1L787.9 346.2L787.8 346.7ZM834.2 322.8L831.9 319.0L827.0 319.1L825.1 321.0L827.2 325.4L833.0 325.3ZM815.6 321.7L819.5 324.3L823.4 320.9L820.2 317.1L816.6 317.9ZM746.2 332.3L745.6 326.6L738.9 327.1L738.2 332.8L742.7 334.6ZM785.4 321.6L782.6 323.0L784.8 330.1L785.8 330.0L790.8 325.0ZM807.2 351.4L810.6 350.4L811.4 345.7L810.0 344.6L805.0 346.1L806.4 350.9ZM785.8 355.9L789.0 355.9L791.0 349.8L787.8 346.7L784.1 349.6ZM807.9 311.1L802.7 308.1L800.7 309.0L800.0 310.7L801.3 314.2L804.5 315.3L807.7 313.2ZM760.3 340.8L759.6 343.3L762.2 346.5L766.0 345.4L766.9 342.1L766.1 340.9ZM823.2 312.1L826.2 313.1L828.8 312.0L831.0 306.3L829.9 305.2L822.9 305.9ZM809.9 309.0L809.6 305.6L804.6 304.1L802.7 308.1L807.9 311.1ZM801.7 329.2L798.8 329.8L796.5 333.0L797.7 336.3L799.8 337.3L804.9 333.8ZM815.8 345.3L816.4 340.6L813.4 338.1L809.7 339.9L810.0 344.6L811.4 345.7ZM829.7 339.2L824.9 343.8L828.4 348.3L833.9 344.3ZM782.6 335.5L783.6 330.9L777.5 329.3L775.8 332.1L776.3 334.7L780.1 336.6ZM789.3 310.6L792.4 309.8L793.4 306.4L789.6 302.2L786.2 305.2L784.9 307.5ZM746.2 332.3L749.3 333.7L753.5 330.9L752.5 326.1L745.6 326.6ZM825.1 329.5L827.2 325.4L825.1 321.0L823.4 320.9L819.5 324.3L819.5 327.0L824.4 329.8ZM745.1 377.1L743.6 380.4L746.8 386.0L751.9 385.2L753.3 381.5L749.0 376.5ZM799.3 387.8L793.2 387.0L792.2 387.7L792.9 395.3L799.5 395.3ZM757.6 362.2L758.1 361.8L758.1 355.4L748.1 355.3L748.0 360.4L749.8 362.6ZM730.6 386.5L732.4 395.3L737.4 395.3L739.1 388.6L736.5 385.2ZM733.4 375.1L734.2 375.5L742.2 372.9L742.7 369.6L739.9 365.7L733.4 367.7ZM752.5 371.4L749.0 376.5L753.3 381.5L757.7 379.5L755.3 371.3ZM810.9 378.7L812.3 379.3L817.5 376.0L817.7 374.5L813.5 370.3L811.9 370.9L809.6 375.2ZM817.5 376.0L812.3 379.3L814.7 384.2L820.8 381.4L821.4 380.8ZM765.7 376.2L771.5 372.8L771.7 370.3L769.8 367.6L764.8 367.1L762.3 371.2L764.5 375.8ZM728.1 381.6L732.0 375.6L724.7 372.5L721.9 375.4L723.8 380.6ZM762.3 371.2L764.8 367.1L762.9 363.5L758.1 361.8L757.6 362.2L756.0 370.8ZM737.4 395.3L746.9 395.3L745.3 388.3L739.1 388.6ZM781.1 371.7L778.3 368.3L771.7 370.3L771.5 372.8L774.4 376.1L780.0 375.2ZM798.6 361.9L801.3 364.0L806.5 363.5L806.2 356.2L798.9 356.1ZM828.2 367.6L826.1 363.1L824.1 363.2L820.9 367.7L822.3 370.6L827.8 368.8ZM717.5 390.1L712.4 391.4L711.7 395.3L719.2 395.3ZM737.8 381.9L736.5 385.2L739.1 388.6L745.3 388.3L746.8 386.0L743.6 380.4ZM820.9 367.7L824.1 363.2L820.5 360.3L817.9 361.8L817.6 366.5ZM717.9 375.2L715.6 372.8L709.3 375.1L711.5 380.5L715.8 380.1ZM788.3 378.3L788.6 372.0L786.5 370.2L781.1 371.7L780.0 375.2L781.4 377.8L786.9 379.2ZM800.5 380.0L800.1 387.2L807.3 387.9L806.7 381.5L801.9 379.4ZM721.9 375.4L724.7 372.5L724.4 367.5L724.1 367.2L717.4 366.8L715.6 368.2L715.6 372.8L717.9 375.2ZM817.7 374.5L822.0 371.9L822.3 370.6L820.9 367.7L817.6 366.5L814.7 367.8L813.5 370.3ZM737.8 381.9L743.6 380.4L745.1 377.1L742.2 372.9L734.2 375.5ZM826.1 363.1L827.2 361.8L826.8 356.4L821.0 356.4L820.5 360.3L824.1 363.2ZM748.0 360.4L748.1 355.3L738.0 355.1L738.0 358.8L737.9 358.8L740.5 363.1ZM774.4 376.1L771.5 372.8L765.7 376.2L768.0 380.9L773.1 381.5ZM813.6 360.1L817.9 361.8L820.5 360.3L821.0 356.4L817.5 356.3L813.1 356.3ZM903.0 351.3L900.4 350.9L897.0 356.9L903.4 357.0ZM911.6 411.1L913.5 407.3L909.9 401.8L908.7 401.6L904.6 405.3L904.9 409.8ZM924.9 372.8L923.5 376.3L925.7 380.6L929.2 380.8L933.7 374.8L930.0 371.7ZM923.5 376.3L916.4 376.6L916.4 383.0L922.8 384.3L925.7 380.6ZM854.0 383.7L847.2 380.9L844.4 390.6L854.5 391.1ZM847.2 380.9L846.8 380.3L839.0 379.5L837.4 385.9L840.4 390.6L840.8 390.4L844.4 390.6ZM872.8 388.4L876.7 384.9L876.1 379.9L870.3 377.4L866.5 382.9ZM829.3 383.3L832.0 378.6L829.2 373.7L822.1 380.2ZM961.4 375.4L959.3 378.4L959.6 381.6L959.8 381.9L968.6 380.6L967.9 375.8L967.4 374.9ZM855.0 367.1L860.4 364.8L860.1 356.6L853.9 356.6L849.6 363.3ZM869.5 363.5L875.0 366.4L878.6 363.3L878.6 356.8L869.3 356.7ZM921.2 408.1L927.6 407.3L929.0 402.4L926.3 398.0L919.7 400.7L919.2 406.2ZM858.7 376.4L865.0 371.8L864.3 367.1L860.4 364.8L855.0 367.1L854.6 373.1ZM869.6 374.6L870.3 377.4L876.1 379.9L880.2 376.6L880.4 373.4L875.2 369.6ZM876.7 384.9L882.3 386.5L886.2 381.0L880.2 376.6L876.1 379.9ZM959.3 378.4L961.4 375.4L959.4 370.2L958.3 369.8L953.0 373.8L953.0 374.7ZM928.1 364.3L930.6 366.1L935.5 364.4L933.7 357.2L928.9 357.2ZM838.8 370.5L837.2 370.9L830.8 372.2L829.2 373.7L832.0 378.6L838.8 379.3ZM923.6 390.9L926.4 397.8L934.1 393.6L932.3 388.1L924.2 389.7ZM848.5 375.1L854.6 373.1L855.0 367.1L849.6 363.3L846.3 368.5L844.1 369.1ZM914.6 384.7L916.4 383.0L916.4 376.6L916.1 376.3L908.4 375.5L907.3 381.4L910.1 384.6ZM949.1 369.7L949.3 369.7L954.7 364.6L951.8 360.5L945.5 364.3L945.5 364.7ZM846.8 380.3L848.5 375.1L844.1 369.1L838.8 370.5L838.8 379.3L839.0 379.5ZM923.2 365.1L922.0 368.8L924.9 372.8L930.0 371.7L930.6 366.1L928.1 364.3ZM915.8 362.5L921.8 363.2L922.8 357.1L915.6 357.1ZM942.3 387.1L941.7 393.8L945.2 396.0L949.3 395.2L951.7 388.9L950.7 387.0L944.7 385.7ZM880.4 373.4L885.1 370.3L885.4 365.8L878.6 363.3L875.0 366.4L875.2 369.6ZM872.6 390.1L879.0 394.9L883.7 390.7L882.3 386.5L876.7 384.9L872.8 388.4ZM953.0 374.7L953.0 373.8L949.3 369.7L949.1 369.7L943.8 373.6L943.7 377.0L945.1 378.3L950.5 378.2ZM949.3 369.7L953.0 373.8L958.3 369.8L955.6 364.9L954.7 364.6ZM932.3 388.1L933.2 386.0L929.2 380.8L925.7 380.6L922.8 384.3L924.2 389.7ZM860.8 433.2L858.7 440.4L867.0 442.4L869.9 439.8L865.9 432.3ZM866.6 424.5L868.3 428.4L874.7 428.9L877.1 426.3L876.7 420.3L872.3 417.4L870.1 417.9ZM859.8 451.2L862.7 460.2L869.1 458.0L871.0 451.9L866.6 448.6ZM889.6 408.7L884.3 406.2L880.1 409.9L883.4 416.8L890.0 413.6ZM866.6 448.6L867.0 442.4L858.7 440.4L856.4 441.8L857.2 442.8L859.8 451.2ZM884.3 406.2L889.6 408.7L894.4 404.6L890.5 400.2L883.9 400.0ZM877.1 426.3L874.7 428.9L876.7 435.4L881.4 436.3L886.0 431.8L884.8 427.7ZM838.0 459.7L838.4 455.0L838.0 454.6L832.8 454.2L831.1 456.7L833.4 461.5ZM832.2 434.0L827.1 437.7L828.5 440.3L832.0 440.9L834.2 438.4L833.9 435.2ZM798.4 473.2L799.2 468.0L793.3 464.5L792.9 473.9ZM815.4 428.9L813.2 433.1L817.4 437.5L820.6 433.3L818.2 428.3ZM844.0 472.0L845.2 466.8L841.6 464.3L837.7 467.5L838.6 470.9L841.8 472.5ZM833.5 444.9L833.4 445.3L834.4 448.1L838.3 449.3L839.9 448.3L839.7 443.2L838.9 442.4ZM806.4 455.4L809.0 454.8L811.1 451.9L809.7 447.2L808.3 446.5L803.5 447.8L803.0 448.7L804.8 454.7ZM838.6 470.9L837.7 467.5L834.5 466.3L831.2 469.4L832.1 473.6L834.2 474.5ZM820.4 492.5L818.0 487.3L811.4 488.5L811.1 492.9L815.9 496.0ZM795.5 401.0L801.2 401.4L802.7 395.3L794.8 395.3ZM831.5 431.7L825.9 431.1L824.4 433.5L826.0 437.1L827.1 437.7L832.2 434.0ZM810.3 463.4L812.2 467.1L818.4 466.2L818.9 462.2L815.0 459.2L813.1 459.5ZM840.1 478.1L841.8 472.5L838.6 470.9L834.2 474.5L835.5 477.3ZM795.2 447.0L797.0 442.5L795.2 440.0L789.2 440.5L790.2 447.2L790.4 447.8ZM832.2 496.6L824.8 493.8L823.6 501.8L831.7 502.3ZM798.5 481.3L800.9 479.8L800.4 474.8L798.4 473.2L792.9 473.9L792.6 479.3L792.7 480.5ZM838.0 484.5L841.7 481.4L841.8 480.3L840.1 478.1L835.5 477.3L833.0 482.0L833.7 483.4ZM799.4 408.0L796.7 408.1L794.5 410.6L795.8 415.0L800.7 414.9L802.2 412.2ZM802.3 492.6L801.8 489.8L798.7 488.1L793.3 489.3L793.5 492.7L795.6 498.6ZM826.2 410.7L820.5 407.6L818.7 409.6L819.1 414.4L821.4 415.5L826.1 412.4ZM845.2 466.8L848.6 465.8L849.2 460.5L848.2 459.3L845.3 458.7L841.4 462.1L841.6 464.3ZM831.6 488.3L834.9 492.0L839.4 489.2L838.0 484.5L833.7 483.4ZM843.2 449.1L839.9 448.3L838.3 449.3L838.0 454.6L838.4 455.0L843.2 454.7L844.7 452.2ZM817.6 446.8L814.8 444.8L809.7 447.2L811.1 451.9L816.2 452.2ZM859.9 474.0L862.6 470.8L862.1 467.7L857.3 467.0L855.9 471.6L857.3 473.5ZM849.2 460.5L848.6 465.8L850.3 467.0L856.1 465.2L856.3 462.0L854.9 460.3ZM797.0 508.2L791.6 516.3L793.1 518.1L801.2 519.0L803.2 510.6ZM844.5 529.4L848.7 536.7L849.3 536.9L855.3 535.4L857.7 525.7L852.9 522.8L846.6 524.5ZM837.3 516.6L841.0 517.1L848.8 510.4L847.4 506.2L847.2 508.3L844.5 503.2L836.8 502.7ZM835.8 530.6L834.3 534.7L839.7 542.1L848.7 536.7L844.5 529.4ZM742.9 404.3L743.6 405.0L751.5 405.4L751.8 405.2L753.2 395.3L742.7 395.3ZM762.0 404.8L770.1 405.0L770.1 404.9L770.0 395.3L761.0 395.3ZM759.2 415.5L752.1 415.3L752.1 415.4L750.1 423.6L750.2 423.8L760.9 423.9L761.4 423.3ZM761.2 413.4L759.2 415.5L761.4 423.3L768.5 422.8L769.5 421.8L769.2 414.7ZM769.9 451.8L771.4 460.3L779.6 459.8L780.1 459.5L780.6 451.4L779.2 450.0L770.0 451.8ZM780.1 459.5L789.3 461.7L789.8 461.3L788.0 451.4L780.6 451.4ZM778.3 469.8L769.8 469.2L769.5 469.5L770.8 479.7L771.2 480.1L778.3 480.1L779.2 479.3ZM771.2 480.1L769.3 488.9L770.3 489.9L779.0 490.2L780.3 488.8L778.3 480.1ZM770.3 489.9L769.3 488.9L761.9 489.0L761.1 492.7L770.2 492.7ZM789.1 490.0L789.3 492.7L793.5 492.7L793.3 489.3ZM741.4 507.5L742.3 498.1L740.7 497.0L731.3 500.4L731.5 507.1ZM741.7 513.5L746.5 512.9L748.0 509.7L748.4 508.0L742.2 508.1ZM704.9 397.4L705.0 397.5L712.2 398.5L712.5 395.3L704.6 395.3ZM727.6 399.0L728.6 400.0L737.0 398.9L737.1 397.7L735.3 395.3L727.7 395.3ZM728.6 400.0L728.7 407.9L736.1 408.3L737.0 398.9ZM703.1 423.3L704.5 424.6L711.5 422.8L712.0 415.9L705.2 414.8L704.2 415.7ZM687.9 430.8L688.2 430.5L688.1 423.0L684.2 423.1L683.2 431.1ZM713.2 430.1L710.8 432.2L712.6 439.5L719.8 438.7L719.8 432.1ZM688.3 454.4L690.3 448.4L688.4 445.9L682.3 447.1L683.9 454.2ZM729.3 447.8L729.0 448.0L727.2 454.5L728.5 455.8L731.7 455.7L732.5 447.6ZM689.7 456.0L688.0 462.9L689.2 464.6L696.4 463.5L696.6 463.2L695.8 456.6ZM687.5 471.2L688.2 470.5L689.2 464.6L688.0 462.9L683.4 462.2L682.5 468.3L681.5 471.0ZM719.7 470.9L720.5 462.6L714.4 461.9L711.6 464.8L712.9 470.8L713.5 471.4ZM712.9 479.2L713.5 471.4L712.9 470.8L705.0 472.4L705.4 478.5L712.7 479.4ZM728.3 471.8L721.1 471.8L720.0 480.0L720.5 480.5L728.5 479.7L730.6 477.5L730.4 473.6ZM688.7 488.5L680.6 486.8L680.1 487.3L679.4 492.7L688.5 492.7ZM697.1 488.2L696.0 487.3L689.1 488.1L688.7 488.5L688.5 492.7L697.8 492.7ZM706.3 488.0L704.1 486.4L697.1 488.2L697.8 492.7L705.2 492.7ZM728.1 486.4L720.4 487.6L721.5 494.2L730.5 493.8L731.0 493.4L730.9 490.2ZM720.0 503.9L713.3 503.3L709.2 507.5L709.5 509.7L719.6 512.3L721.1 510.9ZM1016.2 171.5L1019.4 172.4L1022.4 170.8L1024.0 164.3L1019.8 160.6L1015.1 160.9L1012.4 163.9ZM1032.5 158.2L1038.0 160.1L1039.2 151.8L1039.2 151.6L1033.2 151.6ZM1020.2 181.9L1026.2 184.1L1029.2 176.1L1030.4 174.4L1022.4 170.8L1019.4 172.4ZM1023.6 152.3L1029.6 159.6L1032.5 158.2L1033.2 151.6L1023.5 151.6ZM1020.2 181.9L1016.2 183.8L1014.9 193.5L1022.6 197.0L1022.8 193.2L1026.2 184.1ZM1031.9 198.4L1022.3 201.0L1021.9 207.1L1038.9 207.7ZM1047.5 159.2L1046.8 144.5L1046.3 144.3L1041.0 145.7L1039.2 151.6L1039.2 151.8L1038.2 158.4ZM1038.2 158.4L1037.4 164.0L1034.8 167.9L1039.8 171.4L1047.9 170.2L1047.5 159.2ZM1038.7 182.2L1038.5 182.3L1036.9 190.7L1043.6 194.7L1049.7 193.1L1048.8 191.5L1048.5 182.5ZM982.1 269.8L984.9 266.8L983.2 261.3L980.0 260.5L975.8 263.6L980.0 268.7L979.2 269.4ZM983.8 282.6L980.7 286.7L980.9 287.8L986.4 291.7L987.3 290.6L991.3 283.8ZM982.1 269.8L984.3 275.2L987.7 275.2L991.7 270.9L989.2 267.0L984.9 266.8ZM988.2 253.8L987.3 254.7L987.1 258.6L991.8 262.1L994.6 261.4L995.2 253.6ZM975.1 283.7L980.7 286.7L983.8 282.6L982.4 277.9L976.7 278.0ZM973.3 284.4L975.1 283.7L976.7 278.0L973.6 274.0L968.2 278.4L967.0 282.2ZM978.9 255.2L981.2 253.0L980.9 249.0L977.1 245.8L973.7 250.4L972.9 254.1ZM984.9 266.8L989.2 267.0L991.8 262.1L987.1 258.6L983.2 261.3ZM972.1 292.4L973.3 284.4L967.0 282.2L965.5 286.9L969.9 293.8ZM980.9 287.8L976.9 292.8L980.8 298.2L986.4 291.7ZM976.9 292.8L972.1 292.4L969.9 293.8L975.5 302.8L978.2 301.1L980.8 298.2ZM972.1 292.4L976.9 292.8L980.9 287.8L980.7 286.7L975.1 283.7L973.3 284.4ZM967.7 290.4L965.5 286.9L968.2 278.4L961.1 280.4L961.7 291.6ZM961.7 291.6L962.3 303.3L973.6 299.8L967.7 290.4ZM962.3 303.3L962.8 311.3L975.9 311.3L975.5 302.8L973.6 299.8ZM930.4 280.4L919.7 280.4L918.9 285.5L924.9 289.4L930.3 283.8ZM935.9 289.6L930.3 283.8L924.9 289.4L926.0 290.1L930.0 295.5L931.3 296.4ZM948.5 314.2L950.2 313.9L953.3 308.8L947.6 303.8L943.1 308.1L943.2 309.5ZM952.9 324.7L959.1 323.5L962.2 322.4L961.6 318.3L959.2 316.0L954.3 317.6ZM950.2 313.9L954.3 317.6L959.2 316.0L959.6 311.6L954.8 308.4L953.3 308.8ZM908.9 280.4L898.7 280.4L901.8 287.6L906.3 284.5L909.2 284.1ZM953.8 293.8L952.9 298.6L957.7 302.5L962.3 301.7L961.8 293.1ZM950.7 289.6L950.8 289.3L947.6 280.4L942.0 280.4L939.5 289.0L943.4 292.4ZM943.2 309.5L943.1 308.1L936.2 303.9L933.6 312.5L937.9 315.3ZM898.7 280.4L894.0 280.4L894.0 293.0L901.8 287.6ZM950.8 289.3L950.7 289.6L953.8 293.8L961.8 293.1L961.2 282.7ZM967.4 315.3L971.9 321.5L973.0 321.5L975.9 311.3L968.1 311.3ZM948.5 314.2L943.2 309.5L937.9 315.3L940.9 317.4L944.8 319.8ZM943.1 308.1L947.6 303.8L947.8 301.5L942.9 297.1L937.2 300.3L937.3 300.3L936.2 303.9ZM950.8 289.3L961.2 282.7L961.1 280.4L947.6 280.4ZM942.9 297.1L943.4 292.4L939.5 289.0L935.9 289.6L931.3 296.4L937.2 300.3ZM942.0 235.1L945.7 239.2L952.9 238.1L954.3 235.7L949.1 224.8L946.3 224.8ZM898.4 240.2L898.8 233.9L892.5 231.4L888.9 236.5L892.1 241.5ZM891.0 265.3L895.5 260.4L890.7 255.0L886.1 256.1L885.6 263.1ZM882.0 231.5L884.0 227.7L881.9 224.0L875.0 223.8L875.0 231.6ZM938.7 268.6L938.4 268.4L933.4 268.4L929.2 272.5L930.8 280.4L938.5 280.4ZM958.4 272.6L967.1 270.7L967.7 263.8L964.0 261.6L956.7 265.3L956.5 270.6ZM958.4 272.6L956.5 270.6L948.4 272.4L947.3 280.4L958.6 280.4ZM937.4 247.0L943.3 246.3L945.7 239.2L942.0 235.1L935.5 235.2L933.8 243.8ZM945.2 268.9L949.6 260.6L945.4 256.9L939.2 258.4L938.4 268.4L938.7 268.6ZM955.4 248.5L956.5 245.7L952.9 238.1L945.7 239.2L943.3 246.3L946.5 249.8ZM908.2 234.4L902.5 231.2L898.8 233.9L898.4 240.2L900.6 242.2L906.9 241.3L908.7 238.7ZM948.4 272.4L945.2 268.9L938.7 268.6L938.5 280.4L947.3 280.4ZM966.8 238.5L961.0 233.3L954.3 235.7L952.9 238.1L956.5 245.7L965.9 243.1ZM938.4 268.4L939.2 258.4L934.9 255.6L931.3 256.4L928.5 261.7L933.4 268.4ZM914.1 224.8L902.5 224.8L902.5 231.2L908.2 234.4L913.6 229.9ZM890.7 255.0L893.2 250.2L890.2 245.7L884.4 246.2L882.5 248.8L884.0 254.7L886.1 256.1ZM883.2 264.5L882.0 271.1L883.3 272.4L889.6 272.4L892.2 269.8L891.0 265.3L885.6 263.1ZM891.3 227.2L892.5 231.4L898.8 233.9L902.5 231.2L902.5 224.8L892.4 224.8ZM906.9 241.3L900.6 242.2L899.7 249.5L907.5 250.6L909.7 248.6ZM946.5 249.8L943.3 246.3L937.4 247.0L934.9 255.6L939.2 258.4L945.4 256.9ZM891.3 227.2L892.4 224.8L888.9 224.8L888.9 218.3L884.5 217.8L881.9 224.0L884.0 227.7ZM918.6 256.5L920.6 261.5L923.4 263.0L928.5 261.7L931.3 256.4L925.2 250.8ZM897.8 271.2L892.2 269.8L889.6 272.4L891.1 280.4L894.0 280.4L896.0 280.4ZM904.1 274.0L897.8 271.2L897.8 271.2L896.0 280.4L903.8 280.4ZM883.2 264.5L885.6 263.1L886.1 256.1L884.0 254.7L875.0 258.4L875.0 261.0ZM912.1 274.2L907.1 272.1L904.1 274.0L903.8 280.4L912.5 280.4ZM967.1 270.7L958.4 272.6L958.6 280.4L961.1 280.4L968.2 278.4L971.4 275.8ZM917.3 245.0L925.1 248.5L928.0 244.8L923.5 235.7L920.2 236.4L916.9 240.5ZM920.2 236.4L913.6 229.9L908.2 234.4L908.7 238.7L916.9 240.5ZM907.2 266.2L909.9 264.0L909.7 259.0L907.5 257.1L900.3 258.5L898.9 260.3L901.1 264.8ZM892.2 269.8L897.8 271.2L897.8 271.2L901.1 264.8L898.9 260.3L895.5 260.4L891.0 265.3ZM881.8 240.0L884.4 236.4L882.0 231.5L875.0 231.6L875.0 240.1ZM899.7 249.5L899.1 250.1L900.3 258.5L907.5 257.1L907.5 250.6ZM997.5 205.6L994.4 210.9L995.5 214.1L1004.7 215.8L1006.8 207.4ZM926.3 192.1L934.6 194.9L939.2 190.8L938.9 185.2L926.3 185.2ZM981.2 199.2L978.9 191.0L973.2 190.1L968.1 197.9L974.5 203.3ZM999.7 172.9L996.6 179.6L1003.2 185.1L1007.3 184.9L1006.7 172.0ZM980.0 163.8L975.3 153.7L970.0 155.5L963.9 162.0L969.1 168.5L974.2 169.1ZM979.1 221.8L983.0 217.2L982.6 212.7L974.1 208.9L969.6 212.4L971.8 221.4ZM988.5 199.3L996.3 201.7L1000.1 196.6L997.8 191.6L990.9 189.9ZM926.3 192.1L926.3 185.2L912.2 185.2L913.5 191.2L923.2 195.4ZM990.2 231.2L990.4 234.3L994.1 237.9L1002.8 236.8L1002.8 228.2ZM997.8 191.6L1003.2 185.1L996.6 179.6L993.4 180.5L990.3 189.0L990.9 189.9ZM898.5 216.6L896.6 224.8L909.8 224.8L908.7 214.1ZM953.8 171.1L953.7 171.3L949.1 173.7L944.9 181.3L953.4 186.8L954.3 186.6L958.0 176.0ZM1002.8 225.6L1002.8 223.6L1004.7 215.8L995.5 214.1L992.8 220.3ZM921.5 218.9L921.2 224.8L933.8 224.8L934.1 215.9L928.5 212.5ZM921.5 218.9L913.8 211.8L909.2 213.4L908.7 214.1L909.8 224.8L921.2 224.8ZM913.8 211.8L921.5 218.9L928.5 212.5L927.8 209.7L916.8 206.9ZM996.2 162.5L991.1 156.7L982.2 164.1L987.7 170.5L995.1 167.9ZM994.1 237.9L993.6 247.0L1002.4 244.8L1002.8 244.3L1002.8 236.8ZM929.8 204.6L927.8 209.7L928.5 212.5L934.1 215.9L939.3 213.6L941.6 206.3L941.0 204.8L935.0 202.1ZM953.4 186.8L948.8 195.2L954.8 201.2L961.3 200.4L963.1 198.4L960.1 188.9L954.3 186.6ZM959.0 214.8L964.0 211.3L961.3 200.4L954.8 201.2L951.1 208.3L952.9 212.7ZM1006.7 253.4L1007.1 254.1L1019.9 249.0L1018.3 243.8L1006.1 246.8ZM991.0 151.8L981.0 151.8L975.3 153.7L980.0 163.8L982.2 164.1L991.1 156.7ZM909.7 198.5L903.1 200.1L904.2 201.7L903.1 203.9L909.2 213.4L913.8 211.8L916.8 206.9L916.6 204.0ZM994.4 210.9L997.5 205.6L996.3 201.7L988.5 199.3L985.8 200.8L986.3 209.2ZM880.9 315.5L879.2 317.1L879.3 321.8L884.8 324.7L886.3 322.2L887.9 317.6ZM876.3 308.3L872.1 312.2L873.7 315.8L879.2 317.1L880.9 315.5L881.2 309.8ZM871.3 295.3L876.5 292.6L876.4 288.1L871.0 285.5L868.1 290.3L870.9 295.2ZM874.3 302.4L874.6 302.5L880.0 300.1L880.3 294.9L876.5 292.6L871.3 295.3ZM851.1 327.4L851.1 327.1L846.9 323.7L841.5 325.9L842.6 329.6L847.2 332.5ZM857.5 297.2L857.6 302.4L860.8 304.9L865.4 302.9L865.2 298.5L861.9 296.0ZM887.0 301.8L883.9 302.7L882.4 308.9L890.1 311.1L890.9 308.9L891.8 308.4ZM850.7 336.4L854.5 341.7L857.5 341.2L857.8 334.9L856.0 333.5ZM887.3 286.0L884.4 288.0L884.4 292.9L887.5 294.6L894.0 290.4L894.0 288.8ZM859.0 316.2L861.3 311.3L860.0 309.4L853.0 309.8L852.3 311.2L854.6 317.0ZM887.3 286.0L894.0 288.8L894.0 280.4L887.6 280.4ZM851.1 327.1L851.1 327.4L855.8 330.7L860.3 327.1L859.9 324.5L855.0 322.7ZM846.9 323.7L847.6 319.2L845.6 316.8L839.0 318.2L841.5 325.9ZM866.5 312.2L868.4 311.1L867.9 304.6L865.4 302.9L860.8 304.9L860.0 309.4L861.3 311.3ZM903.5 292.2L910.7 294.4L912.0 292.2L907.0 284.4L906.3 284.5L901.9 287.6ZM863.2 290.1L868.1 290.3L871.0 285.5L870.2 282.5L868.4 281.3L860.2 286.7ZM853.8 318.4L855.0 322.7L859.9 324.5L863.0 320.6L859.0 316.2L854.6 317.0ZM917.7 284.8L915.4 283.3L907.0 284.4L912.0 292.2L914.5 288.2L916.2 289.3ZM876.5 292.6L880.3 294.9L884.4 292.9L884.4 288.0L879.8 285.6L876.4 288.1ZM867.9 321.3L870.7 320.8L873.7 315.8L872.1 312.2L868.4 311.1L866.5 312.2L865.8 320.2ZM879.8 285.6L884.4 288.0L887.3 286.0L887.6 280.4L879.7 280.4ZM872.6 329.5L867.6 328.9L866.0 330.1L869.2 337.9L874.1 336.2ZM864.5 339.5L869.2 337.9L866.0 330.1L864.6 330.2L861.6 334.6ZM857.8 334.9L861.6 334.6L864.6 330.2L860.3 327.1L855.8 330.7L856.0 333.5ZM854.3 295.0L852.7 297.9L848.8 302.5L852.0 304.8L857.6 302.4L857.5 297.2ZM879.3 321.8L879.2 317.1L873.7 315.8L870.7 320.8L875.6 324.5ZM903.5 292.2L900.8 297.0L907.7 299.2L910.7 294.4ZM860.0 309.4L860.8 304.9L857.6 302.4L852.0 304.8L853.0 309.8ZM865.2 298.5L870.9 295.2L868.1 290.3L863.2 290.1L861.9 296.0Z" fill="#9f6f9f" stroke="#dcc8de" stroke-width="0.17" stroke-linejoin="round"/>
<path d="M178.3 249.6L205.8 253.1L212.9 248.7L216.3 224.8L210.6 224.8L167.8 224.8ZM200.5 302.0L202.6 311.6L213.1 322.7L230.6 323.9L242.9 308.1L229.1 290.5L221.9 289.6L206.2 293.7L200.5 301.5ZM174.1 285.0L156.5 289.8L156.5 297.9L168.9 310.2L180.6 294.1ZM213.1 322.7L202.6 311.6L186.5 327.8L203.3 344.6ZM237.0 347.8L230.6 323.9L213.1 322.7L203.3 344.6L222.0 363.2ZM265.0 348.5L265.0 346.6L264.8 346.6L264.8 308.1L242.9 308.1L230.6 323.9L237.0 347.8ZM94.0 136.1L91.9 134.0L82.8 133.3L83.0 143.3L82.3 149.3L84.6 149.5L86.9 148.5ZM90.4 158.9L84.6 149.5L82.3 149.3L81.2 160.8L80.3 171.0ZM145.0 149.6L147.0 151.3L159.5 149.5L157.8 131.3L147.4 134.8L142.1 135.8ZM159.5 149.5L166.3 152.5L174.8 148.6L170.0 129.3L163.8 129.4L157.8 131.3ZM207.7 152.0L186.2 154.4L186.2 181.5L210.6 180.8L210.6 180.3L207.5 166.4L213.7 154.5ZM77.3 186.2L76.1 192.0L72.2 204.4L76.4 223.6L76.8 224.8L82.2 224.8L88.4 200.8L77.4 186.2ZM119.2 185.8L87.3 182.5L77.4 186.2L88.4 200.8L98.7 205.6L113.2 202.8L120.2 186.9ZM82.2 224.8L99.5 224.8L98.7 205.6L88.4 200.8ZM120.2 186.9L113.2 202.8L123.6 224.8L139.1 224.8L137.4 189.1L136.0 188.3ZM186.2 181.5L185.2 182.1L188.6 224.8L210.6 224.8L210.6 180.8ZM245.5 168.1L251.8 157.3L247.7 142.9L230.0 141.6L227.2 164.2ZM236.1 179.4L219.5 177.1L228.4 190.0L235.5 186.3ZM246.4 202.1L262.0 209.9L267.7 206.7L268.2 199.2L258.9 184.6L255.5 184.6L249.2 192.6ZM287.4 213.2L281.8 193.7L278.5 193.2L268.2 199.2L267.7 206.7ZM358.2 159.3L365.1 169.9L386.5 173.6L390.1 167.2L386.8 151.8L357.6 151.8ZM429.8 191.6L429.8 207.4L436.7 210.4L446.8 209.5L446.8 190.5ZM428.9 231.6L435.0 229.8L436.7 210.4L429.8 207.4L413.6 215.1ZM435.0 229.8L428.9 231.6L421.1 249.2L446.8 249.2L446.8 232.8ZM1070.2 128.9L1075.8 139.0L1088.0 139.0L1089.5 137.8L1093.7 127.0L1088.4 117.1L1076.2 113.8ZM1065.5 149.7L1067.9 149.2L1075.8 139.0L1070.2 128.9L1061.3 129.9L1059.2 133.5L1052.1 144.1ZM1088.0 156.4L1088.0 139.0L1075.8 139.0L1067.9 149.2L1081.1 160.5ZM1070.2 128.9L1076.2 113.8L1070.0 105.9L1066.5 110.4L1065.6 117.2L1061.0 122.6L1062.0 128.7L1061.3 129.9ZM263.2 404.6L268.4 403.9L275.5 397.1L265.0 362.2L265.0 366.1L252.1 368.5L255.3 391.6L254.2 395.3L255.3 400.2L257.3 404.5ZM275.5 397.1L287.8 389.6L284.5 346.6L265.0 346.6L265.0 362.2ZM287.8 389.6L313.2 398.6L319.9 346.6L284.5 346.6ZM313.2 398.6L313.8 399.7L332.5 404.2L353.4 346.6L319.9 346.6ZM313.8 399.7L313.2 398.6L287.8 389.6L275.5 397.1L268.4 403.9L286.6 420.2L302.5 420.2ZM355.8 437.0L355.8 411.6L343.7 412.8L342.5 415.6L346.2 437.4ZM337.7 484.7L355.8 484.7L355.8 456.9L327.4 460.3ZM346.2 437.4L346.2 442.1L355.8 456.4L355.8 437.0ZM91.3 93.3L102.0 80.2L99.6 78.6L72.3 84.0L75.1 89.2ZM93.9 105.1L91.3 93.3L75.1 89.2L76.1 90.9L79.3 104.3L79.8 106.9ZM109.5 92.3L106.8 80.7L102.0 80.2L91.3 93.3L93.9 105.1L99.4 108.6L100.3 108.6L102.8 106.6ZM102.8 106.6L100.3 108.6L109.0 121.2L111.7 121.9L128.5 116.3L129.2 109.0ZM154.0 75.3L171.4 73.5L172.2 54.4L141.2 54.4L140.8 57.6L141.6 63.6ZM163.7 109.5L174.3 104.9L176.0 89.7L175.8 89.2L154.6 94.5L153.6 105.9L155.5 108.6ZM192.7 98.1L176.0 89.7L174.3 104.9L180.8 111.0L187.6 112.1L192.7 107.3ZM147.0 124.7L130.1 120.0L128.4 136.2L134.7 137.2L147.3 134.8ZM153.8 119.8L147.0 124.7L147.3 134.8L147.4 134.8L163.8 129.4L164.4 129.4ZM192.7 107.3L187.6 112.1L190.3 127.4L201.1 127.4L205.1 111.4ZM255.4 91.6L250.5 87.6L247.7 88.7L240.0 96.4L248.4 103.1L255.4 108.5ZM429.1 54.4L406.8 54.4L413.6 73.1L415.6 73.3L428.6 62.3ZM304.4 106.0L309.9 115.6L332.5 112.8L318.3 92.9L316.3 92.3ZM340.0 89.2L347.6 112.4L351.8 112.6L367.3 99.5L347.6 78.1L347.6 78.1ZM431.6 106.9L446.8 101.7L446.8 86.9L427.2 85.4L422.1 96.6ZM431.6 151.8L446.8 151.8L446.8 126.5L431.3 125.8L426.4 131.3ZM370.3 146.1L358.2 134.4L341.6 139.7L337.4 151.8L370.9 151.8ZM293.8 133.2L312.9 130.9L309.9 115.6L304.4 106.0L290.6 106.7L287.0 124.3ZM421.9 382.8L419.9 389.3L421.9 391.4L443.5 392.7L446.8 386.8L437.9 372.2ZM380.6 422.0L381.0 411.4L355.8 405.4L355.8 425.1ZM380.6 422.0L382.6 428.5L387.6 429.7L403.5 432.7L406.8 422.6L407.9 417.1L402.1 410.2L382.2 410.2L381.0 411.4ZM431.8 421.2L425.9 412.3L425.4 412.1L407.9 417.1L406.8 422.6L429.7 430.2ZM386.4 452.9L380.2 450.0L368.8 459.0L373.8 473.7L389.4 473.7ZM410.9 468.3L426.6 468.3L429.4 450.7L428.5 444.6L404.2 451.1ZM334.9 317.8L335.9 309.3L335.2 308.1L319.9 307.0L319.3 321.0L326.7 327.2ZM319.9 307.0L315.2 305.0L305.4 316.0L319.3 321.0ZM334.9 317.8L326.7 327.2L324.0 341.8L325.2 346.6L355.8 346.6L355.8 330.9ZM460.4 60.0L460.3 54.4L446.8 54.4L446.8 61.8ZM530.0 74.0L542.4 73.0L542.6 72.8L542.5 62.8L531.9 60.1L528.1 71.8ZM460.8 86.0L461.0 85.7L460.1 74.3L446.8 71.4L446.8 89.8ZM476.2 73.8L474.5 72.2L462.9 71.5L460.1 74.3L461.0 85.7L475.5 84.5ZM574.8 84.2L572.4 78.7L572.7 74.6L569.9 72.4L557.6 74.2L557.3 85.1L570.1 87.1ZM462.6 101.6L465.0 99.3L460.8 86.0L446.8 89.8L446.8 101.8ZM489.6 98.8L487.1 88.5L477.3 86.6L473.0 99.7L476.0 103.0ZM554.6 87.4L543.7 86.2L539.8 101.1L540.5 101.8L555.3 101.9L556.0 100.7ZM489.6 115.4L502.3 113.7L502.8 113.3L501.9 99.9L491.1 100.0L489.1 114.7ZM541.3 113.3L540.5 101.8L539.8 101.1L529.9 100.3L529.5 100.7L529.3 114.3L531.9 116.6ZM474.0 114.1L474.1 128.9L488.8 128.9L489.6 115.4L489.1 114.7L476.5 111.6ZM557.7 126.2L560.0 128.9L569.6 128.9L571.3 115.5L568.9 113.2L557.2 113.0L556.4 114.0ZM495.8 132.5L505.1 133.0L508.3 128.9L492.1 128.9ZM530.0 132.2L519.9 133.2L517.1 143.7L519.2 145.5L530.7 143.7ZM569.6 143.0L567.2 128.9L555.5 128.9L555.1 143.6L555.8 144.4L568.0 144.7ZM530.7 143.7L519.2 145.5L521.0 155.5L532.2 154.9L531.4 144.4ZM532.2 154.9L533.7 156.2L539.8 157.2L543.2 154.4L544.8 146.0L542.0 143.1L531.4 144.4ZM543.2 154.4L555.1 157.9L557.1 155.8L555.8 144.4L555.1 143.6L544.8 146.0ZM568.0 144.7L555.8 144.4L557.1 155.8L568.0 156.3L568.1 156.3ZM469.4 158.7L457.1 157.0L456.6 168.2L457.0 168.7L469.6 169.1L470.6 167.8ZM493.7 170.5L495.3 168.5L493.6 158.5L483.0 156.1L480.7 168.5L482.5 170.2ZM568.0 156.3L569.0 167.4L578.6 169.1L581.5 166.9L581.6 158.3L578.1 154.8L568.1 156.3ZM446.8 167.9L446.8 180.1L455.8 179.7L457.0 168.7L456.6 168.2ZM520.8 165.9L517.0 170.0L518.0 180.0L528.3 180.1L529.8 169.5L528.6 167.8ZM581.5 166.9L578.6 169.1L579.2 181.1L580.8 182.7L585.1 181.8L585.1 167.7ZM456.4 193.9L457.7 181.2L455.8 179.7L446.8 180.1L446.8 194.2ZM495.1 183.0L493.9 180.8L481.5 181.3L481.9 192.8L493.5 190.3ZM496.1 194.3L506.6 194.5L506.8 182.6L495.1 183.0L493.5 190.3ZM566.2 193.4L568.2 181.3L567.4 180.4L555.0 179.1L554.2 180.0L555.2 192.4ZM481.7 193.0L470.6 190.7L468.0 193.9L469.6 200.5L481.7 200.5ZM481.9 192.8L481.7 193.0L481.7 200.5L495.2 200.5L496.1 194.3L493.5 190.3ZM507.6 195.4L506.6 194.5L496.1 194.3L495.2 200.5L506.8 200.5ZM516.5 195.0L507.6 195.4L506.8 200.5L517.4 200.5ZM568.0 204.5L570.6 204.2L577.6 208.5L582.9 202.2L582.4 198.1L583.0 195.9L579.9 192.5L567.5 194.4ZM505.7 206.1L507.6 208.5L515.4 209.7L516.1 208.9L516.7 200.5L506.9 200.5ZM527.3 207.6L536.7 208.0L536.0 200.5L526.2 200.5ZM566.4 208.2L566.4 204.7L556.9 206.1L555.7 205.4L555.3 207.4L557.3 209.4ZM484.9 219.1L495.5 218.5L496.3 217.3L495.2 208.9L486.9 207.3L484.3 209.8L484.2 218.4ZM507.3 219.2L514.8 218.3L516.4 216.4L515.4 209.7L507.6 208.5L505.0 217.1ZM537.6 217.0L547.2 217.2L548.3 208.7L545.0 206.2L537.1 208.3ZM558.0 217.4L567.3 217.0L568.1 209.9L566.4 208.2L557.3 209.4ZM473.8 227.8L475.3 228.9L484.0 228.1L484.9 219.1L484.2 218.4L474.9 218.2ZM484.0 228.1L485.9 230.0L496.7 227.8L495.5 218.5L484.9 219.1ZM506.5 228.1L515.1 229.2L516.4 227.8L514.8 218.3L507.3 219.2ZM514.8 218.3L516.4 227.8L525.9 226.4L526.6 218.7L526.5 218.5L516.4 216.4ZM526.6 218.7L525.9 226.4L527.6 228.6L535.4 229.2L538.4 227.1L537.0 217.8ZM577.9 226.6L577.2 218.8L568.2 218.1L566.7 228.2L567.0 228.6L576.2 228.5ZM453.9 237.0L456.0 229.3L454.4 227.6L446.8 227.2L446.8 237.4ZM546.5 237.3L546.2 229.3L545.7 228.6L538.4 227.1L535.4 229.2L536.6 239.2L544.4 239.5ZM586.9 237.1L593.5 239.1L591.5 232.2L589.7 227.3L589.5 227.4ZM486.3 247.6L486.0 238.6L485.9 238.4L475.6 239.0L475.2 239.4L474.1 249.2L476.8 249.2ZM486.3 247.6L486.8 248.1L495.9 248.2L495.5 238.7L486.0 238.6ZM506.6 240.5L506.0 239.7L497.0 237.4L495.5 238.7L495.9 248.2L496.1 248.3L505.8 248.4ZM525.3 249.0L525.2 239.1L516.6 238.1L516.2 249.7L524.9 249.6ZM567.1 249.4L567.5 249.0L565.7 237.8L556.8 239.0L556.5 239.3L556.4 246.8ZM586.9 237.1L586.4 237.5L586.1 248.1L595.3 246.8L595.1 244.3L593.5 239.1ZM487.1 259.5L486.8 248.1L486.3 247.6L476.8 249.2L483.2 249.2L483.2 262.7ZM495.7 270.5L496.5 269.9L496.5 259.8L495.2 259.0L487.1 259.5L483.2 262.7L483.2 268.8ZM505.1 270.6L506.6 269.3L504.6 259.2L496.5 259.8L496.5 269.9ZM526.9 269.4L526.5 257.9L526.4 257.9L516.6 260.3L516.4 267.5L526.5 269.7ZM535.8 258.0L526.5 257.9L526.9 269.4L534.8 270.0L536.7 268.3ZM544.4 268.7L547.4 271.6L555.4 269.1L556.1 268.4L555.9 260.2L546.6 260.0ZM513.8 270.0L506.6 269.3L505.1 270.6L504.8 273.5L514.6 273.5ZM516.4 267.5L513.8 270.0L514.6 273.5L525.5 273.5L526.5 269.7ZM534.8 270.0L526.9 269.4L526.5 269.7L525.5 273.5L535.3 273.5ZM555.4 269.1L547.4 271.6L547.3 273.5L556.5 273.5ZM531.1 284.1L539.3 284.5L540.5 283.3L540.8 273.5L531.7 273.5L531.1 274.3L530.8 283.8ZM588.2 283.1L587.5 273.5L575.1 273.5L577.6 283.1L579.8 284.7ZM500.6 292.8L500.3 284.2L491.7 283.4L491.1 283.9L491.2 292.9L493.5 295.0ZM569.2 293.0L578.2 292.4L579.8 284.7L577.6 283.1L568.7 286.0ZM598.2 294.3L604.8 294.6L606.1 293.4L607.5 285.1L605.4 283.3L597.1 284.1L596.7 284.4ZM491.7 303.8L491.8 303.9L500.0 304.5L501.3 303.7L500.7 292.8L500.6 292.8L493.5 295.0ZM508.9 303.7L510.5 305.2L519.1 302.3L518.7 294.7L511.5 292.7L509.1 294.5ZM519.1 302.3L521.0 303.5L528.7 301.7L529.4 294.0L529.0 293.4L521.4 292.6L518.7 294.7ZM568.7 301.3L568.2 294.3L560.1 293.1L557.4 295.1L558.0 302.0L560.1 303.6ZM596.7 302.0L597.0 295.4L588.4 294.7L587.8 304.4L588.2 304.7ZM598.3 303.8L607.4 304.2L607.6 303.9L604.8 294.6L598.2 294.3L597.0 295.4L596.7 302.0ZM510.5 305.2L510.8 312.2L520.8 314.2L522.3 313.1L521.0 303.5L519.1 302.3ZM588.2 304.7L587.8 304.4L578.6 303.5L578.4 303.6L577.6 311.5L579.7 313.5L586.9 314.7L589.7 312.3ZM510.8 312.2L509.8 313.2L509.4 321.5L511.0 323.3L519.6 323.2L520.8 314.2ZM522.3 313.1L520.8 314.2L519.6 323.2L521.0 324.8L529.3 323.7L530.6 322.4L528.6 313.4ZM551.6 312.2L549.2 314.7L550.3 322.1L558.8 323.9L559.7 322.8L559.8 312.8L559.6 312.6ZM579.7 313.5L577.6 311.5L569.6 313.6L570.2 321.7L576.9 323.3ZM585.7 323.9L586.8 322.5L586.9 314.7L579.7 313.5L576.9 323.3L578.0 324.4ZM607.0 312.2L596.8 313.7L597.8 322.5L606.0 324.0L607.3 312.7ZM615.6 314.7L615.1 323.7L618.6 327.0L618.7 312.8ZM530.6 322.4L529.3 323.7L530.6 332.0L538.5 331.4L539.7 324.2L538.8 322.9ZM550.3 322.1L547.7 324.5L549.2 332.2L550.8 333.6L557.9 332.9L559.0 331.7L558.8 323.9ZM559.0 331.7L568.4 332.8L569.2 322.5L559.7 322.8L558.8 323.9ZM587.2 333.1L589.6 342.0L595.5 342.6L597.6 333.6L595.4 331.3L588.0 332.0ZM604.8 333.5L597.6 333.6L595.5 342.6L597.2 344.4L606.9 340.1ZM605.9 332.0L604.8 333.5L606.9 340.1L608.7 341.4L618.5 339.4L618.5 332.8ZM490.4 343.2L483.2 341.8L483.2 346.6L490.5 346.6ZM512.0 342.2L510.7 343.6L510.8 346.6L519.7 346.6L519.1 343.0ZM548.2 341.0L540.1 340.4L540.3 346.6L550.0 346.6L550.1 343.7ZM589.6 342.0L588.2 343.1L587.6 346.6L597.6 346.6L597.2 344.4L595.5 342.6ZM590.9 355.1L591.4 355.5L600.6 355.7L602.5 352.9L601.9 346.6L591.0 346.6ZM582.6 365.5L592.2 365.7L593.0 365.0L591.4 355.5L590.9 355.1L582.9 357.4ZM611.1 364.2L619.1 363.7L618.4 358.8L618.4 353.9L613.7 353.5L611.6 355.4ZM601.5 374.8L603.1 365.3L601.7 364.0L593.0 365.0L592.2 365.7L593.0 373.7ZM582.5 375.0L580.7 385.2L583.3 387.2L592.3 385.2L592.5 385.0L589.9 376.2L582.6 374.9ZM589.9 376.2L592.5 385.0L601.5 383.0L602.4 376.2L601.5 374.8L593.0 373.7ZM601.7 383.2L613.1 385.4L613.5 385.0L612.4 375.5L602.4 376.2L601.5 383.0ZM621.7 383.9L620.4 374.0L613.5 374.2L612.4 375.5L613.5 385.0ZM551.1 383.7L549.6 384.9L552.7 394.7L560.4 393.9L561.2 384.9L560.3 384.0ZM603.2 394.9L612.3 394.7L613.1 385.4L601.7 383.2L603.0 394.8ZM612.3 394.7L613.1 395.5L621.7 395.7L621.9 385.6L621.7 383.9L613.5 385.0L613.1 385.4ZM592.1 405.8L593.0 396.3L583.9 394.4L581.3 397.3L582.4 405.0ZM570.8 405.6L561.2 405.4L561.0 405.7L560.6 415.9L571.5 416.6L571.6 406.4ZM581.6 405.8L581.5 416.1L581.7 416.3L592.1 414.1L592.1 405.8L592.1 405.8L582.4 405.0ZM592.1 414.1L592.9 415.3L601.4 417.0L602.5 406.2L602.3 406.0L592.1 405.8ZM558.0 418.4L571.5 425.7L571.6 425.7L571.8 417.0L571.5 416.6L560.6 415.9ZM581.7 416.3L581.5 416.1L571.8 417.0L571.6 425.7L582.4 423.3L583.6 423.3ZM602.0 417.7L601.4 417.0L592.9 415.3L591.3 423.0L595.1 422.8L602.2 421.7ZM613.7 415.7L612.5 414.7L602.0 417.7L602.2 421.7L607.9 420.9L612.3 423.4ZM580.4 62.4L580.7 62.0L580.3 54.4L570.9 54.4L572.4 61.8ZM650.5 85.1L649.3 74.3L639.7 73.9L637.8 75.4L637.9 85.3ZM674.5 75.7L666.1 71.4L664.5 71.0L661.9 75.2L662.9 82.8L672.6 85.0ZM708.5 86.1L715.2 81.2L715.2 79.1L714.5 79.5L710.3 78.7L708.9 78.3L707.9 85.5ZM617.3 86.0L614.2 96.1L616.8 98.3L626.4 95.7L625.9 87.8ZM637.7 85.6L627.2 86.5L625.9 87.8L626.4 95.7L629.3 98.4L638.1 97.8L639.3 96.4ZM660.5 85.2L651.8 86.5L650.0 96.1L650.9 97.2L662.9 97.0L663.1 96.8ZM687.7 99.4L674.2 95.7L673.5 105.5L687.9 99.7ZM616.0 118.8L627.4 121.1L628.7 120.0L626.1 108.5L617.4 108.2L616.3 109.2ZM603.2 141.9L604.1 132.8L603.4 131.9L589.9 132.4L591.5 142.1L594.1 144.1L602.2 142.8ZM626.8 132.4L625.4 131.1L617.0 132.3L616.0 143.6L626.1 145.8L628.7 142.2ZM592.3 155.4L593.2 166.3L603.8 167.3L603.8 167.3L603.1 155.2ZM649.2 164.6L640.5 165.5L639.3 167.0L640.9 177.2L650.7 177.8L652.7 168.9ZM651.1 178.4L649.8 188.3L663.5 188.3L661.9 180.7ZM596.8 188.4L606.3 191.2L609.1 188.3L596.8 188.3ZM635.3 188.3L622.2 188.3L632.0 191.5ZM623.5 198.5L631.1 196.8L632.0 191.5L622.2 188.3L621.8 188.3ZM640.7 199.7L648.5 198.5L648.6 198.4L649.0 191.9L645.2 188.3L639.7 188.3ZM664.8 198.1L664.9 197.9L664.3 188.3L657.7 188.3L656.3 190.0L657.6 198.3ZM589.5 197.7L582.4 198.0L582.4 198.1L583.4 206.1L588.3 206.2L590.3 198.4ZM598.2 199.2L596.2 197.9L590.3 198.4L588.3 206.2L589.5 207.7L597.4 207.8L598.3 206.3ZM640.6 199.8L631.2 197.0L631.9 207.1L639.3 206.0ZM667.0 207.0L673.2 206.3L673.4 197.3L664.9 197.9L664.8 198.1L665.3 205.6ZM673.8 206.7L681.0 205.4L681.7 197.7L673.6 197.1L673.4 197.3L673.2 206.3ZM681.7 197.7L681.0 205.4L682.2 206.4L686.2 206.0L682.5 200.5L681.9 197.4ZM606.4 214.0L607.5 206.7L598.3 206.3L597.4 207.8L599.0 214.1L606.2 214.1ZM624.5 206.3L623.9 206.8L622.3 214.3L623.8 215.9L631.5 215.0L631.6 214.9L631.9 207.2ZM639.3 206.0L631.9 207.1L631.9 207.2L631.6 214.9L639.8 215.1L639.9 206.6ZM639.8 215.1L640.5 215.9L648.0 216.3L648.2 216.1L647.8 208.5L639.9 206.6ZM667.0 207.0L665.3 205.6L657.0 207.0L657.7 214.8L658.1 215.2L665.4 215.0L665.7 214.8ZM623.0 231.0L622.3 224.7L616.2 223.6L613.0 231.1L615.4 233.5L622.5 231.7ZM630.6 232.0L632.4 230.5L632.4 223.7L623.1 223.9L622.3 224.7L623.0 231.0ZM649.5 223.2L648.4 221.8L640.6 224.9L641.3 230.9L648.1 231.1ZM632.4 230.5L630.6 232.0L630.8 239.6L631.7 240.1L638.8 239.7L639.5 239.0L639.6 233.0ZM648.0 240.4L655.7 239.5L656.4 232.8L656.1 232.4L648.2 231.1ZM674.9 232.5L674.8 241.1L683.3 241.4L683.4 240.7L684.1 240.4L681.4 232.2ZM692.5 230.9L691.1 232.5L691.0 237.8L696.1 235.8L698.5 230.5ZM599.0 239.9L597.9 241.1L598.8 248.2L604.9 248.1L606.9 239.9L606.8 239.9ZM647.8 247.8L649.3 249.1L657.1 247.5L657.5 241.4L655.7 239.5L648.0 240.4L647.9 240.5ZM674.8 256.8L673.4 260.9L677.0 264.3L681.4 258.1ZM603.4 259.4L597.5 259.4L599.6 263.0ZM617.3 263.0L617.3 263.0L616.6 259.2L606.4 259.3L608.6 262.7ZM624.8 262.2L625.3 262.7L633.5 261.8L633.4 259.1L624.7 259.2ZM658.9 262.5L651.7 263.3L651.5 270.5L659.6 270.8L661.1 269.1ZM669.3 261.5L659.2 262.2L658.9 262.5L661.1 269.1L666.8 270.2ZM616.4 270.7L607.9 269.6L605.2 272.2L606.0 273.5L612.6 279.1L616.5 278.1L617.0 271.4ZM658.7 278.4L659.1 278.0L659.6 270.8L651.5 270.5L650.7 271.8L651.1 277.1ZM668.1 271.9L666.9 277.8L667.4 278.4L675.6 280.5L677.5 278.0L677.0 277.2L675.2 273.5L675.7 271.2ZM659.1 278.0L658.7 278.4L658.9 286.5L666.0 286.7L667.4 278.4L666.9 277.8ZM675.6 280.5L675.9 285.8L677.4 287.5L683.2 287.2L677.5 278.0ZM651.1 286.2L642.6 287.8L642.4 288.0L643.3 294.1L649.4 294.8L651.5 286.6ZM649.4 294.8L650.6 296.0L658.1 294.4L657.9 287.4L651.5 286.6ZM624.7 303.7L624.8 295.9L618.8 295.4L618.8 295.5L618.7 305.0ZM635.3 304.2L642.4 304.2L642.5 304.1L643.0 294.4L634.9 295.5L633.2 297.7L634.6 303.6ZM675.0 295.3L669.1 295.5L667.6 303.7L676.4 304.0L676.6 303.8ZM676.0 294.4L675.0 295.3L676.6 303.8L684.5 303.0L684.8 302.7L684.5 297.1L684.3 296.8ZM684.5 297.1L684.8 302.7L692.3 304.0L692.9 299.6L689.8 297.9L688.3 295.6ZM667.4 303.9L659.5 304.0L659.5 304.1L659.7 312.3L668.9 312.9L669.3 312.6ZM684.0 313.0L684.1 313.1L693.0 312.0L693.5 305.1L692.3 304.0L684.8 302.7L684.5 303.0ZM693.5 305.1L693.0 312.0L694.1 313.3L697.5 313.6L698.9 310.1L698.9 303.8ZM632.7 320.1L634.5 322.0L641.3 320.6L641.9 314.6L634.7 312.1L632.7 313.7ZM667.9 320.8L668.9 312.9L659.7 312.3L658.8 313.4L658.9 320.0L667.1 321.5ZM652.8 321.9L650.9 329.7L659.9 329.8L658.5 320.5ZM692.6 322.1L691.7 328.5L692.8 330.1L702.0 329.4L703.6 327.9L699.9 322.7ZM623.6 338.5L625.6 337.0L625.0 328.3L618.5 330.1L618.5 337.9ZM666.6 338.7L667.6 337.5L667.7 329.3L667.5 329.2L660.4 330.2L659.6 336.5ZM667.6 337.5L676.0 337.6L675.5 330.6L674.5 329.7L667.7 329.3ZM657.7 338.0L650.5 337.6L650.5 346.7L659.1 347.8L660.1 346.8ZM676.4 347.8L683.1 346.3L684.1 345.0L683.0 338.7L676.1 337.8L674.2 345.3ZM683.0 338.7L684.1 345.0L691.8 345.5L692.9 344.5L693.5 337.8L692.2 336.3L684.7 336.7ZM624.0 347.7L618.4 347.4L618.4 356.6L625.6 354.9L625.8 354.7ZM676.1 355.1L684.3 356.6L685.6 355.4L683.1 346.3L676.4 347.8L675.2 353.8ZM691.8 345.5L684.1 345.0L683.1 346.3L685.6 355.4L692.0 354.3ZM700.1 354.1L701.0 346.6L692.9 344.5L691.8 345.5L692.0 354.3L693.5 355.2ZM666.8 355.7L659.4 355.2L659.0 355.8L659.2 358.8L667.3 358.8ZM693.5 355.2L692.0 354.3L685.6 355.4L684.3 356.6L684.3 358.8L693.6 358.8ZM701.6 363.2L701.4 355.2L700.1 354.1L693.5 355.2L693.6 358.8L699.8 358.8L698.5 362.9ZM709.0 362.4L710.2 363.4L711.6 358.8L713.9 354.4L710.2 353.9L708.7 355.1ZM702.0 363.8L701.6 363.2L698.5 362.9L696.1 370.9L701.6 370.9ZM666.6 367.0L674.2 366.4L676.3 363.9L675.2 358.8L665.9 358.8L665.7 365.7ZM693.1 365.9L698.0 364.7L699.8 358.8L693.0 358.8ZM630.4 367.2L629.8 373.5L631.6 375.4L638.1 375.4L639.3 373.7L638.7 366.3ZM639.3 373.7L647.6 374.3L648.3 365.9L639.8 364.8L638.7 366.3ZM666.8 376.5L675.5 375.4L676.0 374.8L674.2 366.4L666.6 367.0L664.9 374.5ZM629.8 382.5L631.6 375.4L629.8 373.5L620.5 375.3L621.5 382.3ZM649.9 382.9L656.7 382.9L659.0 374.8L657.2 373.5L648.8 375.8L648.4 381.4ZM659.0 374.8L656.7 382.9L659.0 385.4L666.0 383.9L666.8 383.1L666.8 376.5L664.9 374.5ZM666.8 383.1L674.2 385.2L676.1 383.6L675.5 375.4L666.8 376.5ZM694.7 382.1L694.4 373.7L693.6 372.9L684.1 375.7L685.3 382.6L692.2 384.4ZM639.6 383.4L630.7 383.3L630.5 391.8L639.4 391.8L639.9 391.3ZM657.9 392.4L664.7 394.1L667.0 392.2L666.0 383.9L659.0 385.4ZM693.0 391.2L692.2 384.4L685.3 382.6L683.3 384.3L682.6 391.8L684.7 394.0ZM648.5 402.6L656.3 401.2L657.0 393.0L649.2 391.6L648.9 391.9L647.9 402.2ZM675.3 402.0L683.9 401.2L684.5 400.5L684.7 394.0L682.6 391.8L674.5 392.6L674.3 392.7L674.5 401.4ZM657.0 411.4L658.4 402.9L656.3 401.2L648.5 402.6L649.3 409.6ZM666.0 402.5L658.4 402.9L657.0 411.4L657.3 411.8L666.4 411.4L666.4 402.8ZM630.8 410.1L630.2 410.5L628.8 418.1L631.8 420.6L639.8 419.2L638.4 411.2L637.8 410.4ZM639.8 419.2L640.1 419.5L647.4 419.4L647.9 419.1L648.8 410.2L638.4 411.2ZM666.6 411.6L665.8 419.4L675.8 420.0L674.3 412.3ZM685.8 410.7L685.2 411.3L683.8 419.4L685.0 420.6L690.0 410.6ZM639.7 427.6L630.0 429.4L628.8 430.6L629.0 430.6L629.0 436.6L638.4 436.6L640.4 428.5ZM647.8 430.5L640.4 428.5L638.4 436.6L640.2 438.2L647.9 437.5L648.7 436.4ZM657.6 437.0L657.8 437.3L665.5 437.7L667.1 436.2L667.3 429.1L658.3 427.7ZM657.2 460.2L660.6 453.6L658.7 450.2L649.0 452.2L649.3 457.5ZM664.8 515.5L672.7 517.8L676.0 513.5L670.4 508.1L664.1 512.1ZM679.4 512.7L676.0 513.5L672.7 517.8L673.5 524.0L681.5 524.3L683.7 517.9ZM646.6 460.4L649.3 457.5L649.0 452.2L647.6 450.5L638.4 452.8L639.1 457.9ZM643.3 483.5L643.9 479.3L641.4 475.4L632.8 478.9L636.9 486.4ZM650.5 470.4L650.5 468.4L646.6 464.3L638.9 468.2L641.6 474.3ZM643.3 483.5L646.8 486.7L653.7 484.4L652.3 478.1L643.9 479.3ZM647.6 450.5L649.0 452.2L658.7 450.2L659.5 444.0L647.4 444.0ZM663.1 523.5L660.9 530.5L669.7 531.7L671.7 533.0L673.0 524.6ZM670.6 470.4L676.6 466.4L671.9 456.4L670.8 455.9L664.2 465.6ZM667.9 484.6L662.9 482.6L659.8 485.3L662.4 493.5L663.6 494.0L669.8 491.3ZM646.6 464.3L646.6 460.4L639.1 457.9L636.4 461.3L638.5 468.0L638.9 468.2ZM670.4 455.4L670.8 455.9L671.9 456.4L683.7 453.7L681.6 444.0L671.1 444.0ZM670.4 455.4L671.1 444.0L659.5 444.0L658.7 450.2L660.6 453.6ZM641.4 475.4L641.6 474.3L638.9 468.2L638.5 468.0L629.8 470.9L632.4 478.1L632.8 478.9ZM641.4 475.4L643.9 479.3L652.3 478.1L653.6 475.2L650.5 470.4L641.6 474.3ZM642.2 518.4L644.9 514.8L642.9 509.0L634.5 508.0L634.2 509.7L632.7 516.6ZM671.9 456.4L676.6 466.4L682.6 467.6L684.3 456.2L683.7 453.7ZM680.7 509.8L687.1 507.0L686.5 501.1L680.7 499.3L677.3 502.7ZM679.4 512.7L683.7 517.9L691.9 516.5L691.5 509.7L687.1 507.0L680.7 509.8ZM617.9 427.2L618.3 426.9L607.9 420.9L606.3 421.1L606.5 425.4L607.1 426.2ZM513.7 425.7L503.8 425.2L502.0 426.9L502.3 435.3L512.8 437.3L515.0 427.3ZM570.7 439.7L571.0 426.8L560.0 426.7L559.9 438.3ZM595.6 436.6L604.8 436.4L607.1 426.2L606.5 425.4L595.0 425.9ZM604.8 436.4L606.6 438.4L617.3 438.5L617.9 427.2L607.1 426.2ZM593.4 447.5L594.2 448.3L605.3 448.6L606.6 438.4L604.8 436.4L595.6 436.6L593.8 438.1ZM571.8 458.3L582.4 460.1L583.9 448.8L582.9 448.0L572.3 447.8L570.1 451.3ZM593.4 447.5L583.9 448.8L582.4 460.1L583.9 461.7L593.6 460.5L594.4 459.9L594.2 448.3ZM593.6 460.5L583.9 461.7L582.4 470.6L593.8 474.2L594.8 473.5ZM559.0 471.8L558.9 472.0L560.6 483.3L570.6 481.6L572.3 473.1L570.8 471.6ZM582.4 470.6L580.9 472.0L583.7 483.3L584.6 484.0L592.2 482.3L593.8 474.2ZM603.8 473.2L594.8 473.5L593.8 474.2L592.2 482.3L595.4 485.4L604.1 482.7ZM628.4 483.8L629.2 483.2L629.4 469.8L615.8 473.7L617.0 481.3L618.5 482.8ZM547.5 495.6L548.4 494.6L546.4 484.8L538.7 484.1L534.8 494.5L535.9 496.0ZM548.5 482.4L546.4 484.8L548.4 494.6L558.5 494.7L560.0 493.2L560.1 484.0ZM595.4 485.4L592.2 482.3L584.6 484.0L583.8 494.8L593.9 494.6L595.9 492.8ZM628.3 495.0L628.4 483.8L618.5 482.8L616.8 494.9L618.3 496.1L628.0 495.3ZM547.3 506.8L548.0 507.4L560.1 506.7L558.5 494.7L548.4 494.6L547.5 495.6ZM618.3 496.1L617.9 507.0L628.4 506.0L628.0 495.3ZM628.4 506.0L628.7 506.3L634.7 506.0L635.2 502.4L636.4 495.9L628.3 495.0L628.0 495.3ZM573.4 518.0L573.5 517.9L571.8 506.9L570.6 506.2L561.2 507.7L560.2 518.1ZM593.8 506.7L591.8 517.5L593.2 518.6L605.1 516.3L605.7 507.2L605.0 506.2L595.1 505.8ZM594.7 526.9L604.7 528.9L606.6 518.3L605.1 516.3L593.2 518.6ZM513.9 539.6L515.5 530.6L513.2 528.4L502.3 528.3L500.9 530.0L503.2 532.9L508.7 542.6L509.0 543.3ZM548.0 539.8L548.1 532.3L546.1 530.1L538.7 528.2L537.9 528.6L534.9 541.0L537.6 543.5ZM603.8 539.2L605.0 529.5L604.7 528.9L594.7 526.9L592.3 529.8L595.9 540.2ZM572.0 551.9L581.9 552.2L583.3 540.9L572.9 540.9L571.4 551.1ZM697.4 100.3L698.2 101.2L705.2 101.8L708.5 92.2L705.3 88.4L696.7 94.5ZM695.2 112.9L696.6 113.1L708.2 104.8L705.2 101.8L698.2 101.2ZM674.1 112.0L672.7 123.1L675.2 125.4L682.6 123.5L683.5 115.6ZM662.5 133.1L662.2 122.1L660.6 120.1L660.6 125.0L649.9 134.6ZM662.2 122.1L662.5 133.1L663.9 134.6L673.2 134.5L675.2 125.4L672.7 123.1ZM694.8 124.5L696.1 133.6L705.3 133.2L706.5 122.7ZM663.9 134.6L662.5 133.1L649.9 134.6L649.7 134.8L652.5 144.5L652.3 146.2L662.3 145.0ZM674.3 144.7L673.7 135.0L673.2 134.5L663.9 134.6L662.3 145.0L664.3 146.8L671.8 146.9ZM664.3 146.8L662.3 145.0L652.3 146.2L651.8 154.4L661.6 158.3L663.3 157.1ZM672.7 159.1L674.3 157.2L671.8 146.9L664.3 146.8L663.3 157.1ZM683.5 146.7L674.3 144.7L671.8 146.9L674.3 157.2L684.0 154.8ZM741.0 144.9L728.0 146.6L727.3 147.5L728.7 155.9L739.5 157.5ZM741.0 144.9L739.5 157.5L739.9 158.0L751.7 157.7L753.2 155.8L751.7 147.7L746.2 149.4L742.7 142.9ZM683.4 168.2L686.0 156.6L684.0 154.8L674.3 157.2L672.7 159.1L674.0 168.4ZM750.9 170.2L752.9 168.2L751.7 157.7L739.9 158.0L739.2 167.3ZM684.1 181.6L685.7 187.9L694.8 190.4L694.9 190.3L698.1 179.4L696.2 177.7L685.5 179.7ZM729.3 179.3L726.4 181.5L727.4 190.2L729.2 191.5L739.2 189.2L739.9 188.2L739.2 180.5L738.2 179.4ZM686.5 202.3L683.2 190.9L680.9 191.6L682.5 200.5L684.9 204.0ZM717.4 201.0L728.5 202.8L729.4 201.5L729.2 191.5L727.4 190.2L717.7 192.1L716.3 200.0ZM708.1 212.7L718.4 212.7L717.4 201.0L716.3 200.0L708.0 202.2ZM749.4 200.5L741.5 198.8L739.6 200.6L740.1 212.7L748.9 212.7ZM705.1 222.5L714.0 223.1L715.2 221.8L712.8 212.7L708.3 212.7L706.8 214.0L704.8 222.2ZM721.5 222.1L731.1 221.6L729.8 212.7L723.1 212.7ZM723.4 239.7L730.1 239.2L731.7 237.7L730.5 231.5L729.4 230.3L722.8 230.7L721.6 237.6ZM739.8 229.9L730.5 231.5L731.7 237.7L737.1 238.7L740.2 230.2ZM697.3 247.9L705.7 248.3L705.0 240.1L698.0 239.9L697.2 247.8ZM737.9 239.6L737.1 238.7L731.7 237.7L730.1 239.2L731.0 246.8L737.7 247.3ZM688.3 248.8L689.9 254.5L696.0 254.6L697.3 247.9L697.2 247.8L690.2 246.4ZM705.8 248.5L705.6 254.3L713.8 257.2L714.8 256.2L714.6 247.3ZM713.8 257.2L705.6 254.3L704.5 255.3L705.3 263.6L713.0 263.0L713.6 262.2ZM690.3 263.3L688.1 265.1L689.8 272.6L696.0 270.7L696.6 263.9ZM722.2 264.7L722.0 270.3L724.0 272.3L730.2 272.6L730.6 272.2L730.6 264.2L729.7 263.1ZM739.7 262.9L738.5 264.4L738.4 271.7L747.5 271.6L747.5 263.1ZM680.2 281.1L678.3 273.2L675.3 273.1L675.2 273.5L677.0 277.2L679.7 281.6ZM705.6 279.8L705.7 279.7L705.4 272.4L697.5 272.2L696.8 280.7L697.7 281.3ZM714.9 279.9L720.5 281.3L721.7 280.7L724.0 272.3L722.0 270.3L714.9 272.0ZM688.8 289.3L689.2 280.1L688.9 279.8L680.2 281.1L679.7 281.6L685.9 291.7ZM697.7 281.3L696.8 280.7L689.2 280.1L688.8 289.3L696.3 290.4L697.9 288.9ZM696.7 296.3L696.3 290.4L688.8 289.3L685.9 291.7L689.8 297.9L690.6 298.4ZM738.5 297.2L739.2 288.2L738.7 287.6L730.7 288.1L729.7 289.8L730.9 295.7ZM704.9 306.3L704.7 298.1L698.8 298.2L697.7 302.1L698.9 302.8L698.9 306.9ZM722.7 299.2L722.6 304.5L723.3 305.5L731.2 305.7L730.4 296.3ZM705.7 314.5L706.0 307.3L704.9 306.3L698.9 306.9L698.9 310.1L697.2 314.5ZM714.6 322.9L722.3 322.9L722.5 322.6L721.6 314.2L715.2 313.8L713.8 315.0L713.9 322.2ZM731.6 322.5L731.5 314.7L731.2 314.4L721.9 313.9L721.6 314.2L722.5 322.6ZM738.8 313.1L738.0 313.8L739.3 320.1L739.8 317.4L741.0 313.1ZM722.0 330.8L730.0 331.5L730.6 331.0L731.8 322.7L731.6 322.5L722.5 322.6L722.3 322.9ZM712.6 338.6L711.8 339.5L718.0 346.6L721.2 345.9L722.8 340.4L721.1 337.9ZM721.2 345.9L729.8 344.2L732.2 341.3L730.5 340.0L722.8 340.4ZM755.4 233.5L755.7 233.3L755.5 230.7L753.5 230.7L747.5 230.7L747.5 234.2ZM755.7 233.3L762.6 233.9L764.9 230.7L755.5 230.7ZM762.6 233.9L755.7 233.3L755.4 233.5L755.5 239.9L756.6 240.9L762.4 239.6L763.1 238.8ZM762.6 233.9L763.1 238.8L769.5 240.5L771.9 230.7L764.9 230.7ZM791.1 239.9L791.7 239.4L791.1 232.1L784.2 234.3L784.1 238.5ZM797.1 239.6L797.1 230.7L792.1 230.7L791.1 232.1L791.7 239.4ZM749.9 246.9L749.5 240.1L747.5 237.9L747.5 249.3ZM749.9 246.9L755.8 246.5L756.6 240.9L755.5 239.9L749.5 240.1ZM777.2 239.2L769.8 241.0L770.3 246.2L776.3 247.3L778.2 240.1ZM784.8 246.8L789.4 246.3L790.3 245.6L791.1 239.9L784.1 238.5L782.8 240.0ZM790.3 245.6L797.1 246.8L797.1 239.6L791.7 239.4L791.1 239.9ZM762.8 246.3L756.7 247.3L757.5 253.3L762.8 254.0L763.2 253.7L763.9 247.2ZM747.5 250.6L747.5 262.0L749.5 260.3L750.6 254.3ZM775.3 259.9L777.2 262.0L783.8 259.4L783.5 255.0L777.4 254.2ZM784.0 254.5L783.5 255.0L783.8 259.4L784.9 260.9L789.9 261.4L790.9 260.5L790.5 254.3ZM756.1 267.9L762.1 268.6L763.8 267.0L763.6 261.0L756.9 261.7L756.0 267.8ZM789.9 261.4L784.9 260.9L783.6 267.5L790.0 268.6L791.1 267.6ZM762.1 268.6L763.4 274.6L769.7 274.1L769.8 274.0L769.9 268.6L763.8 267.0ZM756.3 282.9L762.6 281.4L762.4 275.6L756.5 274.8L754.8 276.2L755.2 281.9ZM749.3 289.2L756.0 289.2L756.6 288.5L756.3 282.9L755.2 281.9L747.5 283.4L747.5 287.4ZM763.4 288.7L764.0 288.3L763.9 282.5L762.6 281.4L756.3 282.9L756.6 288.5ZM771.1 289.0L771.1 281.8L770.5 281.3L763.9 282.5L764.0 288.3L769.9 289.9ZM783.9 287.0L783.7 282.8L777.1 281.3L777.0 281.4L777.1 288.8L782.8 288.4ZM790.6 281.7L790.3 281.4L784.6 281.8L783.7 282.8L783.9 287.0L790.4 288.8L790.8 288.5ZM797.1 288.5L797.1 282.4L790.6 281.7L790.8 288.5ZM749.5 295.3L749.3 289.2L747.5 287.4L747.5 289.4L745.8 295.4ZM762.2 295.9L763.4 288.7L756.6 288.5L756.0 289.2L756.8 295.9ZM770.1 295.7L776.1 297.0L777.5 295.3L776.2 289.6L771.1 289.0L769.9 289.9L769.5 294.8ZM770.1 295.7L769.5 294.8L762.4 296.0L764.1 301.6L768.8 301.9ZM749.5 303.1L748.5 302.2L743.9 302.3L741.8 309.9L748.3 309.8L750.3 308.1ZM749.8 315.9L749.3 316.4L749.8 323.5L749.9 323.5L755.5 323.3L755.7 316.1L754.9 315.1ZM762.7 317.1L755.7 316.1L755.5 323.3L758.0 325.0L762.5 323.5ZM867.6 220.6L865.8 219.0L861.8 220.0L860.0 221.0L860.1 229.1L861.0 229.9L868.7 227.5ZM829.7 232.1L822.2 231.5L823.3 235.6L829.1 235.0ZM829.1 235.0L830.9 237.0L837.5 237.3L837.7 232.6L835.4 232.6L829.7 232.1ZM837.5 237.3L837.5 237.3L844.9 237.1L846.3 235.8L844.8 230.2L840.8 232.6L837.7 232.6ZM861.0 229.9L860.1 229.1L853.0 229.0L852.0 235.4L860.6 236.5L861.3 235.3ZM869.0 235.3L869.4 228.0L868.7 227.5L861.0 229.9L861.3 235.3L868.7 235.6ZM804.5 242.8L806.2 236.7L805.6 236.1L797.1 235.8L797.1 244.3ZM812.8 237.1L813.9 243.2L820.1 244.4L822.7 241.9L822.3 237.1L813.7 236.0ZM830.9 237.0L828.6 243.5L829.7 245.2L836.4 244.5L837.7 242.7L837.5 237.3L837.5 237.3ZM868.3 243.6L868.7 243.9L875.0 242.0L875.0 236.3L869.0 235.3L868.7 235.6ZM822.7 252.0L828.0 251.4L828.4 251.1L829.7 245.2L828.6 243.5L822.7 241.9L820.1 244.4L821.3 251.2ZM859.8 242.9L860.2 251.4L861.1 252.0L868.9 250.6L869.0 250.5L868.7 243.9L868.3 243.6L860.7 242.0ZM814.5 259.8L821.3 260.1L822.1 259.3L822.7 252.0L821.3 251.2L814.2 253.1L813.5 258.5ZM806.2 267.3L806.3 267.2L806.5 259.6L806.1 259.2L797.1 259.6L797.1 267.0ZM828.3 265.9L828.5 260.5L822.1 259.3L821.3 260.1L822.0 267.6ZM807.1 274.2L813.3 274.8L814.7 266.9L814.2 266.4L806.3 267.2L806.2 267.3ZM822.3 274.3L828.2 275.7L828.8 275.4L831.3 268.1L828.3 265.9L822.0 267.6L821.6 268.2ZM821.5 284.1L828.8 281.9L828.2 275.7L822.3 274.3L821.3 275.2L821.0 283.4ZM805.4 284.9L799.2 283.8L798.6 284.2L798.0 291.6L805.5 292.3L806.7 290.8ZM821.4 289.6L828.5 290.0L830.4 283.5L828.8 281.9L821.5 284.1ZM806.7 290.8L805.5 292.3L805.6 297.6L807.4 298.9L814.0 299.4L814.3 299.1L813.7 290.8ZM836.4 306.1L836.8 305.7L837.1 299.6L829.3 297.5L828.6 298.2L829.8 305.2L829.9 305.2L831.8 307.1ZM845.0 306.1L836.8 305.7L836.4 306.1L838.1 311.9L844.5 307.6L845.4 306.6ZM719.2 77.3L715.2 79.1L715.2 81.2L717.2 86.5ZM726.2 74.2L719.2 77.3L717.2 86.5L718.0 88.5L730.6 90.2L731.0 89.7L730.5 78.9ZM719.9 102.7L729.4 99.9L730.6 90.2L718.0 88.5L720.7 95.8L714.8 100.0ZM767.7 101.1L768.7 101.9L779.9 99.3L781.6 97.7L764.4 88.5L764.3 88.4ZM780.4 115.2L779.9 99.3L768.7 101.9L768.6 114.2ZM731.5 127.5L744.3 127.2L744.5 126.9L741.3 113.9L731.6 115.0ZM743.1 111.7L741.3 113.9L744.5 126.9L754.1 125.7L756.6 114.4L755.6 113.2ZM767.8 126.9L768.5 114.3L756.6 114.4L754.1 125.7L757.3 128.5L767.3 127.6ZM792.3 128.4L803.8 125.5L802.8 117.4L792.0 115.5L791.1 126.9ZM802.8 117.4L803.8 125.5L805.2 127.2L815.8 127.4L819.0 125.0L819.0 125.0L812.6 125.7L809.9 121.4L809.9 114.8L803.9 116.0ZM780.6 125.6L779.8 126.7L780.6 137.8L790.3 139.3L791.6 137.9L792.3 128.4L791.1 126.9ZM816.8 140.5L816.8 150.5L817.1 150.7L828.0 150.6L828.6 137.4L827.9 137.0ZM790.6 162.2L790.4 162.0L779.9 161.6L778.0 163.5L778.2 173.5L780.7 176.1L790.3 175.6ZM840.4 163.3L830.2 163.2L828.1 165.5L829.0 174.2L842.9 176.1ZM845.4 178.2L844.5 164.0L843.4 160.3L840.4 163.3L842.9 176.1ZM768.4 186.5L765.8 175.8L759.9 176.6L758.9 188.3L758.9 188.4L767.2 188.4ZM791.4 189.1L792.1 176.9L790.3 175.6L780.7 176.1L778.3 185.0L780.9 188.2L791.1 189.3ZM828.7 187.6L845.1 188.0L845.9 185.9L845.4 178.2L842.9 176.1L829.0 174.2L827.2 176.7L828.0 186.8ZM767.2 188.4L758.9 188.4L757.4 198.6L767.8 200.3L769.1 198.9ZM791.1 189.3L780.9 188.2L778.0 199.0L780.0 200.6L789.8 199.3ZM791.4 189.1L791.1 189.3L789.8 199.3L792.9 202.6L802.3 199.2L802.4 190.4ZM828.7 187.6L826.9 199.2L829.0 200.8L841.2 198.4L845.1 188.0ZM757.4 198.6L755.5 211.2L766.1 211.4L767.8 200.3ZM780.0 200.6L778.0 199.0L769.1 198.9L767.8 200.3L766.1 211.4L768.0 213.7L778.5 213.2L780.5 211.7ZM814.8 212.9L817.1 210.1L817.5 201.2L816.3 200.2L805.6 202.0L804.4 210.8ZM828.7 213.7L831.4 210.5L829.0 200.8L826.9 199.2L817.5 201.2L817.1 210.1ZM753.8 226.9L753.5 230.7L768.1 230.7L768.1 225.4L766.8 223.9ZM779.1 226.8L768.1 225.4L768.1 230.7L779.7 230.7ZM816.0 223.3L815.7 231.6L821.7 231.4L828.9 232.1L829.3 228.7L828.6 228.5L827.2 223.6L827.3 222.9ZM828.9 232.1L829.9 232.2L839.4 232.2L829.3 228.7ZM821.9 335.4L816.1 332.8L813.8 334.4L813.4 338.1L816.4 340.6L820.7 339.2L822.0 335.6ZM767.5 328.6L769.1 329.2L773.7 324.9L773.1 322.2L766.2 322.2L766.1 322.3ZM785.2 342.4L786.6 338.5L782.6 335.5L780.1 336.6L779.2 341.8L779.9 342.9ZM720.0 352.7L725.3 351.9L726.6 350.3L725.7 345.0L718.0 346.6L716.4 349.6ZM801.6 352.3L806.4 350.9L805.0 346.1L804.6 345.9L800.4 347.6L800.1 350.7ZM720.0 352.7L716.4 349.6L711.6 358.8L719.5 358.8ZM806.0 325.7L802.8 327.0L801.7 329.2L804.9 333.8L805.8 334.0L809.0 331.9L809.5 327.9ZM756.9 332.2L756.5 332.3L755.7 337.7L759.8 339.4L762.6 334.6ZM752.1 351.3L750.2 349.7L744.8 351.6L744.0 355.2L752.3 355.3ZM760.3 327.4L759.6 324.5L755.3 325.9L752.5 326.1L753.5 330.9L756.5 332.3L756.9 332.2ZM833.4 315.2L828.8 312.0L826.2 313.1L827.0 319.1L831.9 319.0ZM752.1 351.3L752.3 355.3L758.5 355.4L758.6 350.6L756.3 349.3ZM778.5 352.2L774.6 350.3L771.4 353.5L771.3 355.6L778.8 355.7ZM785.8 330.0L790.3 333.5L792.9 332.2L792.2 324.9L790.8 325.0ZM735.6 349.4L732.0 351.5L731.7 358.8L738.0 358.8L738.0 355.1L739.2 355.1ZM720.0 352.7L719.5 358.8L726.7 358.8L725.3 351.9ZM805.0 346.1L810.0 344.6L809.7 339.9L807.6 339.0L803.4 341.6L804.6 345.9ZM806.0 325.7L809.5 327.9L812.1 326.6L813.0 322.7L809.7 320.2L806.7 321.0ZM799.6 321.3L798.0 317.9L794.5 316.7L792.5 317.9L792.4 324.8L795.0 324.9L799.4 321.9ZM759.6 343.3L755.8 344.9L756.3 349.3L758.6 350.6L761.5 349.4L762.2 346.5ZM756.5 332.3L753.5 330.9L749.3 333.7L750.4 338.0L753.0 339.1L755.7 337.7ZM750.4 338.0L749.3 333.7L746.2 332.3L742.7 334.6L743.2 339.4L746.1 340.9ZM787.0 316.7L787.6 316.4L789.3 310.6L784.9 307.5L781.3 314.0ZM784.8 330.1L782.6 323.0L781.8 322.9L777.1 327.2L777.5 329.3L783.6 330.9ZM816.6 317.9L820.2 317.1L821.7 312.9L815.7 310.7L814.1 315.2ZM726.6 350.3L732.0 351.5L735.6 349.4L735.7 349.2L731.1 342.6L729.8 344.2L725.7 345.0ZM792.2 324.9L792.4 324.8L792.5 317.9L787.6 316.4L787.0 316.7L785.4 321.6L790.8 325.0ZM801.6 352.3L800.1 350.7L795.9 351.8L795.4 356.0L801.5 356.1ZM813.3 352.3L810.6 350.4L807.2 351.4L807.4 356.2L813.2 356.3ZM838.2 336.4L830.9 336.2L829.7 337.9L829.7 339.2L833.9 344.3L840.4 339.5ZM809.7 320.2L811.0 315.9L807.7 313.2L804.5 315.3L804.8 319.7L806.7 321.0ZM793.4 306.4L797.0 304.9L797.8 302.4L793.7 298.5L789.6 302.2ZM784.1 349.6L781.4 349.1L778.5 352.2L778.8 355.7L785.8 355.9ZM769.1 335.7L770.3 331.3L769.1 329.2L767.5 328.6L764.4 329.9L763.1 334.4L766.8 336.7ZM816.5 329.2L819.5 327.0L819.5 324.3L815.6 321.7L813.0 322.7L812.1 326.6ZM827.0 319.1L826.2 313.1L823.2 312.1L821.7 312.9L820.2 317.1L823.4 320.9L825.1 321.0ZM797.8 302.4L800.2 301.3L800.9 296.1L797.1 295.5L793.7 298.5ZM778.5 352.2L781.4 349.1L779.3 345.0L774.1 347.2L774.6 350.3ZM773.3 340.4L773.0 338.1L769.1 335.7L766.8 336.7L766.1 340.9L766.9 342.1L772.0 342.3ZM758.5 355.4L764.3 355.5L764.7 351.9L761.5 349.4L758.6 350.6ZM760.3 327.4L764.4 329.9L767.5 328.6L766.1 322.3L759.6 324.5ZM804.6 304.1L804.2 303.0L800.2 301.3L797.8 302.4L797.0 304.9L800.7 309.0L802.7 308.1ZM774.1 347.2L772.8 346.3L768.2 348.2L767.9 350.0L771.4 353.5L774.6 350.3ZM797.7 336.3L796.5 333.0L792.9 332.2L790.3 333.5L789.5 337.4L792.9 340.0ZM830.5 332.7L825.1 329.5L824.4 329.8L821.9 335.4L822.0 335.6L829.7 337.9L830.9 336.2ZM812.1 302.6L807.0 298.7L804.2 303.0L804.6 304.1L809.6 305.6ZM842.3 328.5L840.0 321.4L834.2 322.8L833.0 325.3L834.1 328.7L838.8 330.6ZM795.9 351.8L800.1 350.7L800.4 347.6L796.9 344.6L796.4 344.6L793.8 349.7ZM793.9 379.8L793.2 387.0L799.3 387.8L800.1 387.2L800.5 380.0L795.8 378.7ZM803.0 372.3L799.9 370.6L795.7 371.4L795.8 378.7L800.5 380.0L801.9 379.4L803.7 373.9ZM706.3 389.5L709.8 387.8L710.3 386.0L709.7 383.4L703.3 381.7L701.6 385.6L701.4 387.6ZM706.3 389.5L701.4 387.6L700.7 395.3L706.1 395.3ZM798.9 356.1L790.1 355.9L790.3 362.5L793.7 364.0L798.6 361.9ZM813.6 360.1L813.1 356.3L806.2 356.2L806.5 363.5L806.7 363.6L811.4 363.0ZM715.8 380.1L711.5 380.5L709.7 383.4L710.3 386.0L719.2 386.1L719.2 386.1L719.4 384.8ZM827.2 361.8L832.6 361.6L833.0 356.4L826.8 356.4ZM801.9 379.4L806.7 381.5L810.9 378.7L809.6 375.2L803.7 373.9ZM780.7 361.9L778.9 363.4L778.3 368.3L781.1 371.7L786.5 370.2L786.9 364.6ZM772.2 361.9L769.6 356.9L762.9 363.5L764.8 367.1L769.8 367.6ZM842.6 363.5L846.9 367.6L850.0 362.7L845.9 359.9L842.6 362.7ZM781.4 377.8L778.9 382.8L781.0 385.9L786.4 383.8L786.9 379.2ZM751.9 385.2L754.2 388.2L760.5 388.3L762.5 386.0L758.9 379.8L757.7 379.5L753.3 381.5ZM757.7 379.5L758.9 379.8L764.5 375.8L762.3 371.2L756.0 370.8L755.3 371.3ZM822.0 371.9L817.7 374.5L817.5 376.0L821.4 380.8L826.0 376.6ZM839.6 366.5L834.5 364.0L833.4 366.1L834.9 371.4L837.2 370.9L840.0 370.2ZM719.2 395.3L724.5 395.3L724.7 389.1L719.2 386.1L719.2 386.1L717.5 390.1ZM807.3 368.1L806.7 363.6L806.5 363.5L801.3 364.0L799.9 370.6L803.0 372.3ZM731.6 358.8L723.9 358.8L724.1 367.2L724.4 367.5L731.3 365.9ZM786.4 383.8L781.0 385.9L780.7 388.1L785.0 391.8L789.5 387.4ZM719.2 386.1L710.3 386.0L709.8 387.8L712.4 391.4L717.5 390.1ZM817.6 366.5L817.9 361.8L813.6 360.1L811.4 363.0L814.7 367.8ZM732.0 375.6L728.1 381.6L730.1 386.2L730.6 386.5L736.5 385.2L737.8 381.9L734.2 375.5L733.4 375.1ZM769.0 389.3L772.7 387.9L773.8 382.5L773.1 381.5L768.0 380.9L764.6 385.8ZM719.4 384.8L719.2 386.1L724.7 389.1L730.1 386.2L728.1 381.6L723.8 380.6ZM772.7 387.9L776.7 390.7L780.7 388.1L781.0 385.9L778.9 382.8L773.8 382.5ZM793.9 379.8L788.3 378.3L786.9 379.2L786.4 383.8L789.5 387.4L792.2 387.7L793.2 387.0ZM764.6 385.8L768.0 380.9L765.7 376.2L764.5 375.8L758.9 379.8L762.5 386.0ZM756.0 370.8L757.6 362.2L749.8 362.6L749.1 367.9L752.5 371.4L755.3 371.3ZM839.6 366.5L842.6 363.5L842.6 362.7L839.1 359.8L834.5 363.8L834.5 364.0ZM811.9 370.9L813.5 370.3L814.7 367.8L811.4 363.0L806.7 363.6L807.3 368.1ZM749.1 367.9L742.7 369.6L742.2 372.9L745.1 377.1L749.0 376.5L752.5 371.4ZM739.9 365.7L740.5 363.1L737.9 358.8L731.6 358.8L731.3 365.9L733.4 367.7ZM778.3 368.3L778.9 363.4L772.2 361.9L769.8 367.6L771.7 370.3ZM761.5 395.3L768.0 395.3L769.0 389.3L764.6 385.8L762.5 386.0L760.5 388.3ZM832.6 361.6L834.5 363.8L839.1 359.8L838.8 356.5L833.0 356.4ZM723.9 358.8L716.8 358.8L717.4 366.8L724.1 367.2ZM908.1 361.3L904.7 365.3L909.2 369.7L914.0 367.3L914.2 364.2ZM943.8 373.6L949.1 369.7L945.5 364.7L939.3 369.1ZM943.7 377.0L938.2 378.6L937.2 384.5L942.3 387.1L944.7 385.7L945.1 378.3ZM959.8 394.6L967.7 390.9L967.9 388.5L960.6 385.9L957.9 390.0ZM912.5 414.0L916.8 416.1L920.5 414.8L921.2 408.1L919.2 406.2L913.5 407.3L911.6 411.1ZM892.0 384.3L898.0 380.0L897.9 378.1L892.1 373.7L890.4 374.1L887.1 380.9ZM928.9 357.2L922.8 357.1L921.8 363.2L923.2 365.1L928.1 364.3ZM908.7 401.6L906.0 396.8L899.5 397.8L898.8 403.0L904.6 405.3ZM861.7 391.5L865.4 391.6L865.4 394.1L867.6 392.9L868.1 394.3L872.6 390.1L872.8 388.4L866.5 382.9L864.1 383.5ZM859.0 380.0L854.0 383.7L854.5 391.1L861.7 391.5L864.1 383.5ZM904.9 409.8L904.6 405.3L898.8 403.0L895.3 405.6L901.8 413.0ZM901.3 382.8L898.0 380.0L892.0 384.3L892.3 387.4L897.7 390.8L901.1 388.7ZM922.8 384.3L916.4 383.0L914.6 384.7L916.5 392.2L923.6 390.9L924.2 389.7ZM902.9 365.5L900.2 368.3L901.9 373.9L908.1 375.1L909.2 369.7L904.7 365.3ZM955.6 364.9L958.3 369.8L959.4 370.2L964.2 367.7L963.1 365.3L961.9 360.9ZM893.2 365.0L897.2 356.9L887.1 356.8L887.4 364.0ZM879.0 394.9L872.6 390.1L868.1 394.3L870.3 399.7L878.9 399.9ZM930.0 371.7L933.7 374.8L933.8 374.8L939.1 369.1L936.0 364.6L935.5 364.4L930.6 366.1ZM919.2 406.2L919.7 400.7L916.0 397.7L909.9 401.8L913.5 407.3ZM937.1 395.4L936.2 402.0L938.7 405.3L939.1 405.0L943.9 405.9L945.2 396.0L941.7 393.8ZM907.3 381.4L901.3 382.8L901.1 388.7L906.8 391.0L910.1 384.6ZM898.8 403.0L899.5 397.8L897.2 395.2L889.8 397.5L888.9 400.1L890.5 400.2L895.3 405.6ZM819.0 395.3L828.1 395.3L830.9 394.2L829.1 388.4L822.4 388.8ZM916.5 392.2L915.6 393.6L916.0 397.7L919.7 400.7L926.3 398.0L926.4 397.8L923.6 390.9ZM880.4 373.4L880.2 376.6L886.2 381.0L887.1 380.9L890.4 374.1L885.1 370.3ZM929.0 402.4L927.6 407.3L930.9 411.6L938.7 405.3L936.2 402.0ZM822.4 388.8L829.1 388.4L830.1 386.3L829.3 383.3L822.1 380.2L820.8 381.4L819.4 382.1ZM900.2 368.3L902.9 365.5L898.0 356.9L897.2 356.9L893.2 365.0L895.1 368.0ZM907.5 392.5L906.0 396.8L908.7 401.6L909.9 401.8L916.0 397.7L915.6 393.6ZM854.0 383.7L859.0 380.0L858.7 376.4L854.6 373.1L848.5 375.1L846.8 380.3L847.2 380.9ZM945.1 378.3L944.7 385.7L950.7 387.0L952.7 382.8L950.5 378.2ZM850.6 422.1L849.6 417.2L845.6 415.3L838.7 420.4L844.6 427.7ZM887.8 442.8L883.8 442.6L880.7 446.0L886.0 454.2L887.2 453.3L891.7 449.7ZM893.5 422.9L894.4 419.9L893.1 415.4L890.0 413.6L883.4 416.8L883.3 417.1L887.0 423.9ZM864.7 414.0L859.8 416.4L859.5 422.9L866.6 424.5L870.1 417.9ZM846.5 400.2L843.9 398.7L837.7 401.6L839.0 408.7L844.3 410.1L847.9 406.2ZM891.2 433.9L891.5 439.1L898.8 442.5L900.9 439.1L902.2 435.9L894.5 431.8ZM865.2 407.9L866.1 407.0L865.7 399.0L857.0 399.6L856.3 406.4ZM874.3 451.0L871.0 451.9L869.1 458.0L875.1 463.3L877.2 460.6L880.6 458.1ZM872.3 417.4L875.3 409.0L874.3 407.6L866.1 407.0L865.2 407.9L864.7 414.0L870.1 417.9ZM883.3 417.1L883.4 416.8L880.1 409.9L875.3 409.0L872.3 417.4L876.7 420.3ZM859.5 422.9L856.8 425.0L856.7 429.5L860.8 433.2L865.9 432.3L868.3 428.4L866.6 424.5ZM835.1 400.5L832.1 393.7L828.1 395.3L823.5 402.6L828.1 406.0ZM905.2 428.8L905.4 428.2L910.9 424.5L911.5 424.5L910.9 423.3L905.0 416.6L903.6 418.2L902.2 426.1ZM839.0 408.7L833.9 412.4L838.1 419.6L838.7 420.4L845.6 415.3L844.3 410.1ZM874.3 407.6L875.3 409.0L880.1 409.9L884.3 406.2L883.9 400.0L875.7 399.8ZM886.0 431.8L881.4 436.3L883.8 442.6L887.8 442.8L891.5 439.1L891.2 433.9ZM835.1 400.5L828.1 406.0L831.7 408.7L833.9 412.4L839.0 408.7L837.7 401.6ZM825.1 427.3L825.9 431.1L831.5 431.7L832.8 428.6L828.1 425.2L825.7 426.1ZM824.9 484.1L820.7 483.2L819.6 483.7L818.0 487.3L820.4 492.5L824.7 493.5L827.2 488.9ZM848.2 459.3L849.2 460.5L854.9 460.3L855.6 455.3L853.2 453.2L850.7 453.2ZM803.2 466.2L799.2 468.0L798.4 473.2L800.4 474.8L806.9 472.0ZM849.2 451.9L844.7 452.2L843.2 454.7L845.3 458.7L848.2 459.3L850.7 453.2ZM855.5 479.7L858.8 480.3L861.3 476.5L859.9 474.0L857.3 473.5L854.5 478.1ZM807.8 439.9L808.3 446.5L809.7 447.2L814.8 444.8L814.5 440.6L808.9 439.1ZM832.2 496.6L834.6 494.6L834.9 492.0L831.6 488.3L827.2 488.9L824.7 493.5L824.8 493.8ZM832.0 451.4L832.8 454.2L838.0 454.6L838.3 449.3L834.4 448.1ZM798.7 488.1L798.5 481.3L792.7 480.5L793.3 489.3ZM817.4 437.7L821.3 440.2L826.0 437.1L824.4 433.5L820.6 433.3L817.4 437.5ZM804.0 463.8L803.2 466.2L806.9 472.0L807.2 472.1L811.0 470.5L812.2 467.1L810.3 463.4L805.9 462.8ZM856.0 493.3L854.6 494.7L854.6 499.6L858.1 500.0L860.3 500.0L861.0 494.0ZM862.1 467.7L862.6 470.8L867.4 473.0L869.8 469.8L869.0 468.3L864.5 465.9L864.3 465.3ZM788.7 400.5L791.5 403.1L793.8 402.9L795.5 401.0L794.8 395.3L789.3 395.3ZM833.1 462.1L833.4 461.5L831.1 456.7L827.9 456.7L824.7 460.4L826.8 463.6ZM800.2 427.5L795.2 429.5L794.6 433.2L796.5 435.6L801.5 435.1L802.8 432.8ZM848.8 479.7L852.1 477.4L850.4 472.6L846.2 473.5L846.2 478.3ZM794.6 433.2L795.2 429.5L792.5 426.9L787.5 428.4L788.3 434.4ZM791.5 403.1L789.2 407.0L790.9 410.2L794.5 410.6L796.7 408.1L793.8 402.9ZM858.3 446.3L857.2 442.8L853.3 438.1L851.5 439.6L850.8 445.4L855.9 447.2ZM854.5 478.1L857.3 473.5L855.9 471.6L851.2 471.6L850.4 472.6L852.1 477.4ZM860.0 482.3L857.2 486.9L862.1 489.0L863.6 483.1ZM812.0 480.1L810.2 487.1L811.4 488.5L818.0 487.3L819.6 483.7L813.4 479.6ZM791.2 416.8L789.0 420.7L793.0 423.4L796.2 421.5L794.6 416.5ZM832.8 428.6L834.5 427.8L835.2 423.9L832.5 421.2L830.1 421.2L828.1 425.2ZM799.5 460.1L804.0 463.8L805.9 462.8L806.4 455.4L804.8 454.7L799.8 456.8ZM842.9 490.7L848.7 491.6L850.2 489.0L848.8 484.7L845.0 485.1L842.6 490.2ZM813.1 459.5L815.0 459.2L817.5 453.9L816.2 452.2L811.1 451.9L809.0 454.8ZM837.7 467.5L841.6 464.3L841.4 462.1L838.0 459.7L833.4 461.5L833.1 462.1L834.5 466.3ZM801.2 401.4L802.5 403.6L806.2 404.4L809.0 402.8L808.2 395.3L805.9 395.3L802.7 395.3ZM808.4 478.4L803.9 480.9L805.6 486.5L810.2 487.1L812.0 480.1ZM798.2 422.1L796.2 421.5L793.0 423.4L792.5 426.9L795.2 429.5L800.2 427.5L800.3 427.3ZM840.7 497.9L842.0 497.1L842.9 490.7L842.6 490.2L839.4 489.2L834.9 492.0L834.6 494.6ZM826.6 444.1L822.1 443.9L820.5 446.1L824.3 451.5L825.0 451.6L827.4 449.8L828.0 446.3ZM818.0 473.9L821.7 476.2L825.1 475.1L825.2 468.3L819.8 467.8ZM818.0 473.9L815.9 474.5L813.4 479.6L819.6 483.7L820.7 483.2L821.7 476.2ZM834.7 413.8L831.7 408.7L829.5 407.1L826.2 410.7L826.1 412.4L828.9 415.3ZM822.7 419.8L822.3 420.7L825.7 426.1L828.1 425.2L830.1 421.2L828.2 418.8ZM811.6 425.6L808.3 426.8L807.6 432.0L809.7 433.8L813.2 433.1L815.4 428.9ZM815.9 496.0L811.1 492.9L806.7 495.8L806.6 500.7L816.0 501.3ZM788.5 413.5L785.3 413.8L786.4 421.3L789.0 420.7L791.2 416.8ZM796.8 454.2L797.9 449.9L795.2 447.0L790.4 447.8L792.2 455.4ZM850.4 472.6L851.2 471.6L850.3 467.0L848.6 465.8L845.2 466.8L844.0 472.0L846.2 473.5ZM825.2 468.3L826.1 467.6L826.8 463.6L824.7 460.4L822.7 460.0L818.9 462.2L818.4 466.2L819.8 467.8ZM854.6 494.7L849.4 493.5L847.5 498.1L848.1 499.1L848.1 498.8L854.6 499.6ZM801.2 401.4L795.5 401.0L793.8 402.9L796.7 408.1L799.4 408.0L802.5 403.6ZM847.5 498.1L842.0 497.1L840.7 497.9L839.7 502.9L844.5 503.2L847.2 508.3L848.1 499.1ZM841.4 462.1L845.3 458.7L843.2 454.7L838.4 455.0L838.0 459.7ZM849.4 483.8L853.8 483.4L855.5 479.7L854.5 478.1L852.1 477.4L848.8 479.7ZM839.5 431.8L838.8 433.6L840.6 437.2L844.8 437.6L846.6 432.0ZM834.3 534.7L835.8 530.6L832.4 524.9L820.1 527.9L820.8 529.2L826.1 538.3ZM780.2 507.5L778.7 505.1L770.4 505.7L768.3 511.3L777.2 515.7ZM790.4 503.7L786.2 508.5L788.9 515.5L791.6 516.3L797.0 508.2L794.8 503.6ZM841.0 517.1L837.3 516.6L834.0 518.2L832.4 524.9L835.8 530.6L844.5 529.4L846.6 524.5ZM848.8 510.4L853.8 512.7L861.2 510.4L860.8 508.5L860.3 500.0L858.1 500.0L848.1 498.8L847.4 506.2ZM862.7 613.2L859.5 623.7L871.0 625.3L872.4 617.2L864.4 612.6ZM852.3 599.2L851.8 596.3L844.0 591.8L839.6 593.4L843.0 604.7L843.7 605.5ZM758.4 502.4L759.9 500.6L759.6 492.7L746.2 492.7L749.8 501.2L749.6 502.1ZM770.4 505.7L768.4 501.7L759.9 500.6L758.4 502.4L759.5 511.0L766.2 510.2L768.3 511.3ZM844.6 550.6L851.7 549.1L849.3 536.9L848.7 536.7L839.7 542.1L839.1 545.1ZM770.4 505.7L778.7 505.1L779.6 501.2L772.8 493.0L768.4 501.7ZM867.1 639.5L860.8 644.2L849.0 649.0L850.8 651.5L860.8 649.0L871.8 644.9L871.8 644.8ZM852.9 522.8L853.8 512.7L848.8 510.4L841.0 517.1L846.6 524.5ZM749.6 502.1L748.0 509.7L746.5 512.9L748.0 512.7L753.5 511.7L759.5 511.0L758.4 502.4ZM778.3 404.8L780.0 395.3L770.0 395.3L770.1 404.9L777.8 405.3ZM784.0 405.0L782.6 395.3L780.0 395.3L778.3 404.8ZM743.6 405.0L741.6 413.6L752.1 415.4L752.1 415.3L751.5 405.4ZM761.2 413.4L769.2 414.7L769.5 414.3L770.1 405.0L762.0 404.8L760.7 405.9ZM785.3 413.5L784.0 405.0L778.3 404.8L777.8 405.3L779.3 412.9ZM741.1 423.9L741.4 413.9L735.7 413.1L734.7 423.3ZM769.5 421.8L778.3 423.0L778.5 413.8L769.5 414.3L769.2 414.7ZM778.3 423.0L779.3 424.1L786.6 422.8L785.3 413.5L779.3 412.9L778.5 413.8ZM750.1 423.6L741.2 423.9L740.9 431.9L742.8 434.1L750.6 433.9L752.2 432.1L750.2 423.8ZM760.9 423.9L750.2 423.8L752.2 432.1L758.8 432.6L760.2 431.5ZM761.4 423.3L760.9 423.9L760.2 431.5L769.2 433.0L769.5 432.6L768.5 422.8ZM768.5 422.8L769.5 432.6L778.2 430.8L779.3 424.1L778.3 423.0L769.5 421.8ZM779.5 432.4L788.3 434.2L786.6 422.8L779.3 424.1L778.2 430.8ZM751.5 442.7L750.6 433.9L742.8 434.1L741.5 442.9L741.6 443.1ZM752.2 432.1L750.6 433.9L751.5 442.7L751.6 442.8L760.0 441.2L758.8 432.6ZM758.8 432.6L760.0 441.2L761.8 442.3L768.1 441.6L769.2 440.5L769.2 433.0L760.2 431.5ZM750.0 452.7L752.4 450.2L751.6 442.8L751.5 442.7L741.6 443.1L740.9 450.1L742.4 451.7ZM760.0 441.2L751.6 442.8L752.4 450.2L760.0 451.7L761.8 442.3ZM768.1 441.6L770.0 451.8L779.2 450.0L779.4 443.4L777.9 441.7L769.2 440.5ZM750.2 461.2L751.1 460.2L750.0 452.7L742.4 451.7L740.9 460.9ZM732.7 472.0L741.0 468.8L739.7 461.9L734.3 460.9L730.4 470.1L730.4 470.2ZM749.6 470.0L750.2 461.2L740.9 460.9L739.7 461.9L741.0 468.8L743.0 470.5ZM750.9 471.0L760.0 470.5L758.6 460.9L751.1 460.2L750.2 461.2L749.6 470.0ZM760.2 470.6L769.5 469.5L769.8 469.2L769.9 462.3L760.3 459.2L758.6 460.9L760.0 470.5ZM778.3 469.8L779.4 469.1L779.6 459.8L771.4 460.3L769.9 462.3L769.8 469.2ZM793.0 471.5L793.5 461.0L793.4 460.8L789.8 461.3L789.3 461.7L787.9 469.8L788.6 471.0ZM741.3 478.9L741.5 479.1L750.4 480.1L750.9 471.0L749.6 470.0L743.0 470.5ZM750.4 480.1L751.3 481.1L760.2 479.7L760.2 479.6L760.2 470.6L760.0 470.5L750.9 471.0ZM730.7 483.3L730.9 487.5L739.6 489.9L742.1 488.1L741.5 479.1L741.3 478.9L734.3 479.0ZM760.2 479.7L751.3 481.1L750.4 488.5L761.7 488.8ZM750.4 488.6L742.1 488.1L739.6 489.9L740.7 497.0L742.3 498.1L748.4 497.8L746.2 492.7L750.5 492.7ZM770.3 489.9L770.2 492.7L779.3 492.7L779.0 490.2ZM779.0 490.2L779.3 492.7L789.3 492.7L789.1 490.0L787.7 488.4L780.3 488.8ZM742.2 508.1L741.4 507.5L731.5 507.1L731.6 512.2L731.6 514.6L738.9 513.9L741.7 513.5ZM704.0 407.5L705.3 406.4L705.0 397.5L704.9 397.4L697.0 400.3L696.7 400.7L697.6 406.6L698.1 406.9ZM712.2 398.5L705.0 397.5L705.3 406.4L711.9 406.4L713.7 399.9ZM720.2 399.6L719.4 399.0L713.7 399.9L711.9 406.4L712.9 407.7L720.8 407.1ZM721.2 407.5L728.5 408.0L728.7 407.9L728.6 400.0L727.6 399.0L720.2 399.6L720.8 407.1ZM711.9 406.4L705.3 406.4L704.0 407.5L705.2 414.8L712.0 415.9L713.1 415.0L712.9 407.7ZM712.9 407.7L713.1 415.0L719.6 415.9L721.2 407.5L720.8 407.1ZM688.7 422.5L696.2 423.0L696.3 423.0L696.1 415.5L688.4 413.9L687.9 414.8ZM696.1 415.5L696.3 423.0L703.1 423.3L704.2 415.7L696.6 415.1ZM728.5 415.0L728.5 422.3L728.8 422.5L734.9 421.7L735.4 415.7ZM704.6 429.7L704.5 424.6L703.1 423.3L696.3 423.0L696.2 423.0L695.3 430.2L696.8 432.1ZM713.2 430.1L719.8 432.1L721.7 430.0L720.3 423.6L713.5 424.7ZM728.8 422.5L729.2 430.4L734.0 431.2L734.9 421.7ZM703.7 439.9L712.3 439.8L712.6 439.5L710.8 432.2L706.0 431.3L703.3 439.5ZM704.5 448.0L712.0 447.0L712.3 439.8L703.7 439.9ZM727.3 439.5L729.3 447.8L732.5 447.6L733.3 439.2ZM696.0 448.3L690.3 448.4L688.3 454.4L689.7 456.0L695.8 456.6L696.4 456.1ZM712.1 455.2L713.1 456.1L720.5 453.8L719.3 448.2L712.8 447.8ZM688.0 462.9L689.7 456.0L688.3 454.4L683.9 454.2L684.3 456.2L683.4 462.2ZM695.8 456.6L696.6 463.2L704.8 462.0L705.1 455.8L704.3 455.0L696.4 456.1ZM706.0 463.5L711.6 464.8L714.4 461.9L713.1 456.1L712.1 455.2L705.1 455.8L704.8 462.0ZM728.5 455.8L729.0 462.4L731.1 462.4L731.7 455.7ZM697.5 471.5L698.2 470.8L696.4 463.5L689.2 464.6L688.2 470.5ZM721.1 471.8L728.3 471.8L727.5 463.9L720.6 462.5L720.5 462.6L719.7 470.9ZM730.4 473.6L730.3 470.8L731.1 462.4L729.0 462.4L727.5 463.9L728.3 471.8ZM687.5 471.2L681.5 471.0L679.0 477.8L681.3 480.4L688.7 478.9L689.0 478.6ZM696.3 478.8L696.6 478.5L697.5 471.5L688.2 470.5L687.5 471.2L689.0 478.6ZM680.1 487.3L680.6 486.8L681.3 480.4L679.0 477.8L675.6 486.6ZM720.3 487.6L720.4 487.6L728.1 486.4L728.5 479.7L720.5 480.5ZM728.5 479.7L728.1 486.4L730.9 490.2L730.6 477.5ZM713.3 503.3L713.6 496.2L713.5 496.1L707.8 496.0L709.2 507.5ZM722.5 501.8L720.8 495.1L713.6 496.2L713.3 503.3L720.0 503.9ZM729.0 510.4L731.5 508.2L731.5 507.9L727.8 502.9L722.5 501.8L720.0 503.9L721.1 510.9ZM719.6 512.3L709.5 509.7L709.8 512.2L719.8 516.2ZM729.0 510.4L721.1 510.9L719.6 512.3L719.8 516.2L724.8 518.2L725.2 519.5L723.4 514.6L728.3 514.6ZM729.0 510.4L728.3 514.6L731.6 514.6L731.6 512.2L731.5 508.2ZM1014.9 193.5L1016.2 183.8L1007.1 179.9L1007.4 185.9L1007.2 195.5ZM989.2 267.0L991.7 270.9L996.0 271.6L996.5 270.0L997.2 262.9L994.6 261.4L994.6 261.4L991.8 262.1ZM976.7 278.0L982.4 277.9L984.3 275.2L982.1 269.8L979.2 269.4L973.6 274.0ZM987.7 246.0L988.2 253.8L995.2 253.6L995.5 249.2L988.3 244.9ZM983.2 261.3L987.1 258.6L987.3 254.7L981.2 253.0L978.9 255.2L980.0 260.5ZM987.7 246.0L980.9 249.0L981.2 253.0L987.3 254.7L988.2 253.8ZM987.7 275.2L984.3 275.2L982.4 277.9L983.8 282.6L991.3 283.8L992.5 281.7ZM942.9 297.1L947.8 301.5L952.9 298.6L953.8 293.8L950.7 289.6L943.4 292.4ZM967.4 315.3L961.6 318.3L962.2 322.4L964.6 321.5L971.9 321.5ZM956.7 265.3L964.0 261.6L962.6 255.4L957.4 253.2L951.6 260.6ZM933.8 243.8L935.5 235.2L934.2 233.9L924.4 234.7L923.5 235.7L928.0 244.8ZM882.0 271.1L883.2 264.5L875.0 261.0L875.0 271.5ZM961.0 233.3L962.7 224.8L949.1 224.8L954.3 235.7ZM929.2 272.5L923.3 271.2L921.0 272.8L920.9 280.4L930.8 280.4ZM923.5 235.7L924.4 234.7L924.1 224.8L914.1 224.8L913.6 229.9L920.2 236.4ZM904.1 274.0L907.1 272.1L907.2 266.2L901.1 264.8L897.8 271.2ZM881.9 224.0L884.5 217.8L875.3 216.8L875.0 216.9L875.0 223.8ZM917.1 255.9L918.6 256.5L925.2 250.8L925.1 248.5L917.3 245.0L913.5 248.8ZM966.8 238.5L965.9 243.1L970.2 249.6L973.6 250.6L973.7 250.4L981.0 240.7L974.6 234.6L974.5 234.4ZM892.5 231.4L891.3 227.2L884.0 227.7L882.0 231.5L884.4 236.4L888.9 236.5ZM909.9 264.0L914.8 266.1L920.6 261.5L918.6 256.5L917.1 255.9L909.7 259.0ZM942.0 235.1L946.3 224.8L934.1 224.8L934.2 233.9L935.5 235.2ZM898.9 260.3L900.3 258.5L899.1 250.1L893.2 250.2L890.7 255.0L895.5 260.4ZM961.0 233.3L966.8 238.5L974.5 234.4L969.1 224.8L962.7 224.8ZM924.4 234.7L934.2 233.9L934.1 224.8L924.1 224.8ZM875.0 271.5L875.0 280.4L882.6 280.4L883.3 272.4L882.0 271.1ZM962.6 255.4L970.2 249.6L965.9 243.1L956.5 245.7L955.4 248.5L957.4 253.2ZM935.0 202.1L941.0 204.8L946.7 195.6L939.2 190.8L934.6 194.9ZM969.6 212.4L964.0 211.3L959.0 214.8L960.0 224.8L968.9 224.8L971.8 221.4ZM990.4 234.3L990.2 231.2L989.1 229.7L981.8 228.5L975.6 235.6L981.0 240.7L982.3 241.5ZM981.8 228.5L979.1 221.8L971.8 221.4L968.9 224.8L969.1 224.8L974.6 234.6L975.6 235.6ZM898.5 216.6L893.5 209.5L884.5 214.2L884.5 217.8L888.9 218.3L888.9 224.8L896.6 224.8ZM983.0 217.2L991.5 221.0L992.8 220.3L995.5 214.1L994.4 210.9L986.3 209.2L982.6 212.7ZM992.8 220.3L991.5 221.0L989.1 229.7L990.2 231.2L1002.8 228.2L1002.8 225.6ZM959.0 214.8L952.9 212.7L946.7 219.2L946.9 224.8L960.0 224.8ZM946.7 219.2L939.3 213.6L934.1 215.9L933.8 224.8L946.9 224.8ZM951.1 208.3L941.6 206.3L939.3 213.6L946.7 219.2L952.9 212.7ZM996.2 162.5L995.1 167.9L999.7 172.9L1006.7 172.0L1006.1 159.9ZM923.1 197.9L923.2 195.4L913.5 191.2L909.7 198.5L916.6 204.0ZM996.6 179.6L999.7 172.9L995.1 167.9L987.7 170.5L986.6 175.7L993.4 180.5ZM993.6 247.0L993.0 247.7L995.5 249.2L995.2 253.1L1006.7 253.4L1006.1 246.8L999.5 248.5L1002.4 244.8ZM974.1 208.9L974.5 203.3L968.1 197.9L963.1 198.4L961.3 200.4L964.0 211.3L969.6 212.4ZM993.4 180.5L986.6 175.7L981.3 178.8L983.0 187.4L990.3 189.0ZM1000.1 196.6L996.3 201.7L997.5 205.6L1006.8 207.4L1007.0 206.6L1007.1 197.3ZM982.3 241.5L993.0 247.7L993.6 247.0L994.1 237.9L990.4 234.3ZM981.8 228.5L989.1 229.7L991.5 221.0L983.0 217.2L979.1 221.8ZM1006.7 253.4L995.2 253.1L994.6 261.4L997.2 262.9L997.5 260.0L1005.0 260.0L1005.8 254.6L1007.1 254.1ZM882.4 308.9L881.2 309.8L880.9 315.5L887.9 317.6L890.1 311.1ZM852.3 311.2L846.5 312.3L845.6 316.8L847.6 319.2L853.8 318.4L854.6 317.0ZM875.4 327.2L872.6 329.5L874.1 336.2L879.0 334.4L881.2 330.8ZM846.9 323.7L851.1 327.1L855.0 322.7L853.8 318.4L847.6 319.2ZM916.2 289.3L924.0 294.5L926.0 290.1L917.7 284.8ZM857.5 341.2L861.8 340.5L864.5 339.5L861.6 334.6L857.8 334.9ZM883.9 302.7L880.0 300.1L874.6 302.5L876.3 308.3L881.2 309.8L882.4 308.9ZM868.4 311.1L872.1 312.2L876.3 308.3L874.6 302.5L874.3 302.4L867.9 304.6ZM865.4 302.9L867.9 304.6L874.3 302.4L871.3 295.3L870.9 295.2L865.2 298.5ZM870.2 282.5L875.0 279.9L875.0 272.1L871.0 271.6L869.0 280.9L868.4 281.3ZM900.8 297.0L900.4 297.2L900.8 303.7L902.7 302.8L905.1 303.5L907.7 299.2ZM846.5 312.3L852.3 311.2L853.0 309.8L852.0 304.8L848.8 302.5L844.5 307.6L843.2 308.5ZM895.1 292.3L894.0 293.0L894.0 290.4L887.5 294.6L888.8 299.3L893.6 299.4L896.6 296.3ZM900.4 297.2L896.6 296.3L893.6 299.4L896.3 306.0L900.8 303.7ZM856.0 333.5L855.8 330.7L851.1 327.4L847.2 332.5L848.6 333.5L850.7 336.4ZM870.7 320.8L867.9 321.3L867.6 328.9L872.6 329.5L875.4 327.2L875.6 324.5Z" fill="#7f5c8d" stroke="#dcc8de" stroke-width="0.17" stroke-linejoin="round"/>
<path d="M196.7 272.7L205.8 253.1L178.3 249.6L171.0 263.1L177.7 274.4ZM180.6 294.1L168.9 310.2L174.2 315.5L200.5 302.0L200.5 301.5ZM202.6 311.6L200.5 302.0L174.2 315.5L186.5 327.8ZM207.7 152.0L213.7 154.5L213.8 154.2L216.6 144.5L220.2 139.6L212.6 127.4L195.4 127.4ZM166.3 152.5L159.5 149.5L147.0 151.3L147.0 162.7L162.8 174.4ZM230.0 141.6L222.9 136.7L218.3 136.5L220.2 139.6L216.6 144.5L213.8 154.2L212.4 157.0L226.4 164.7L227.2 164.2ZM226.4 164.7L219.5 177.1L219.5 177.1L236.1 179.4L245.8 169.7L245.5 168.1L227.2 164.2ZM255.3 133.1L247.7 142.9L251.8 157.3L264.7 159.6L274.4 148.3L266.6 134.8L257.5 138.4L258.0 131.9ZM264.7 159.6L274.4 172.3L281.7 171.8L285.2 164.9L283.9 165.2L275.7 156.7L275.7 150.6L274.4 148.3ZM99.4 108.6L93.9 105.1L79.8 106.9L81.2 115.3L81.2 121.4L91.6 121.4ZM367.5 72.1L380.9 84.6L390.9 79.9L388.5 54.4L370.9 54.4ZM367.5 72.1L347.6 78.1L367.3 99.5L374.9 98.3L380.9 84.6ZM402.5 112.1L402.6 112.3L428.5 114.3L431.6 106.9L422.1 96.6L407.1 100.1ZM358.2 120.7L380.2 125.1L383.6 122.9L387.9 114.6L374.9 98.3L367.3 99.5L351.8 112.6ZM386.4 452.9L391.6 451.0L387.6 429.7L382.6 428.5L377.2 437.0L377.7 441.9L380.2 450.0ZM355.8 455.6L355.8 484.7L371.1 484.7L371.1 473.7L373.8 473.7L368.8 459.0ZM403.6 432.9L403.5 432.7L387.6 429.7L391.6 451.0L401.5 448.1ZM429.7 430.2L406.8 422.6L403.5 432.7L403.6 432.9L428.8 439.3ZM463.5 304.8L460.9 306.8L458.2 313.7L471.6 325.3L483.2 323.9L483.2 308.1ZM461.8 61.2L460.4 60.0L446.8 61.8L446.8 71.4L460.1 74.3L462.9 71.5ZM529.6 85.5L530.0 74.0L528.1 71.8L516.2 71.2L515.4 72.0L517.7 85.4L529.2 85.8ZM543.1 85.6L542.4 73.0L530.0 74.0L529.6 85.5ZM517.1 102.1L518.0 101.3L516.4 86.9L504.3 88.1L502.7 99.3ZM543.7 86.2L543.1 85.6L529.6 85.5L529.2 85.8L529.9 100.3L539.8 101.1ZM557.3 85.1L554.6 87.4L556.0 100.7L569.2 98.8L570.1 87.1ZM570.1 87.1L569.2 98.8L572.1 101.8L578.1 101.6L577.8 90.9L574.8 84.2ZM462.1 114.1L446.8 112.5L446.8 128.9L461.2 128.9ZM504.9 168.8L506.3 167.9L509.1 157.4L507.9 155.7L494.3 157.6L493.6 158.5L495.3 168.5ZM539.8 157.2L542.7 167.2L554.3 167.1L555.1 157.9L543.2 154.4ZM518.0 180.0L517.0 170.0L506.3 167.9L504.9 168.8L508.1 181.7L516.2 181.7ZM506.6 194.5L507.6 195.4L516.5 195.0L518.1 193.2L516.2 181.7L508.1 181.7L506.8 182.6ZM529.5 193.4L530.9 182.6L528.3 180.1L518.0 180.0L516.2 181.7L518.1 193.2ZM457.6 195.0L456.4 193.9L446.8 194.2L446.8 200.5L457.8 200.5ZM456.5 200.5L446.8 200.5L446.8 209.0L454.2 210.5L457.2 207.8ZM457.2 207.8L464.6 209.7L466.6 208.4L466.8 200.5L456.5 200.5ZM466.6 208.4L473.8 209.7L475.7 208.2L476.4 200.5L466.8 200.5ZM486.9 207.3L495.2 208.9L496.7 207.1L496.0 200.5L485.4 200.5ZM576.1 208.6L576.5 207.9L570.6 204.2L566.4 204.7L566.4 208.2L568.1 209.9ZM446.8 209.0L446.8 218.8L454.1 218.7L454.8 217.8L454.2 210.5ZM507.6 208.5L505.7 206.1L496.7 207.1L495.2 208.9L496.3 217.3L505.0 217.1ZM526.5 218.5L527.0 208.0L516.1 208.9L515.4 209.7L516.4 216.4ZM464.4 228.1L456.0 229.3L453.9 237.0L455.9 240.0L463.5 240.3L466.1 237.4L465.1 228.6ZM497.0 237.4L506.0 239.7L506.1 228.3L496.8 227.9ZM577.9 236.7L576.2 228.5L567.0 228.6L566.1 237.4L575.9 239.0ZM554.0 249.4L556.4 246.8L556.5 239.3L546.5 237.3L544.4 239.5L545.7 248.2L547.4 249.4ZM506.4 249.2L504.9 258.9L516.2 259.9L515.3 250.4ZM526.4 257.9L526.5 257.9L535.8 258.0L536.6 257.2L537.7 251.2L535.1 248.3L525.3 249.0L524.9 249.6ZM564.7 258.0L567.1 249.4L556.4 246.8L554.0 249.4L556.9 259.0ZM547.4 271.6L544.4 268.7L536.7 268.3L534.8 270.0L535.3 273.5L547.3 273.5ZM585.4 268.1L577.0 268.4L576.1 269.1L576.8 273.5L586.0 273.5ZM597.3 268.2L596.5 269.4L596.5 273.5L606.0 273.5L602.6 267.9ZM501.2 273.5L490.8 273.5L491.7 283.4L500.3 284.2L500.9 283.6ZM500.9 283.6L510.3 283.8L511.0 273.5L501.2 273.5ZM588.2 283.1L588.5 283.4L596.7 284.4L597.1 284.1L598.2 273.5L587.5 273.5ZM518.7 294.7L521.4 292.6L520.3 283.2L511.4 284.7L511.5 292.7ZM520.3 283.2L521.4 292.6L529.0 293.4L531.1 284.1L530.8 283.8L521.0 282.4ZM541.0 294.3L548.6 294.1L549.8 293.2L550.9 286.0L549.1 283.8L540.5 283.3L539.3 284.5ZM580.3 294.8L587.9 294.2L588.5 283.4L588.2 283.1L579.8 284.7L578.2 292.4ZM539.4 302.9L540.2 295.1L529.4 294.0L528.7 301.7L531.5 304.6ZM548.6 294.1L541.0 294.3L540.2 295.1L539.4 302.9L541.2 304.9L549.6 304.7L550.2 303.9ZM557.4 295.1L549.8 293.2L548.6 294.1L550.2 303.9L558.0 302.0ZM607.6 303.9L618.7 301.4L618.8 295.5L618.5 294.7L606.1 293.4L604.8 294.6ZM490.9 313.6L491.8 303.9L491.7 303.8L483.2 302.1L483.2 313.0ZM568.2 312.5L569.6 313.6L577.6 311.5L578.4 303.6L568.8 301.4ZM596.8 313.7L607.0 312.2L607.4 304.2L598.3 303.8L596.6 313.6ZM489.5 323.4L491.1 321.4L491.3 314.3L490.9 313.6L483.2 313.0L483.2 323.5ZM501.0 323.1L501.2 322.9L500.4 313.8L491.3 314.3L491.1 321.4ZM501.2 322.9L509.4 321.5L509.8 313.2L501.1 313.2L500.4 313.8ZM491.5 331.6L489.5 323.4L483.2 323.5L483.2 334.2L490.4 333.5ZM503.1 333.0L509.7 332.6L511.0 323.3L509.4 321.5L501.2 322.9L501.0 323.1L500.7 330.6ZM577.1 331.3L580.5 334.7L587.2 333.1L588.0 332.0L585.7 323.9L578.0 324.4ZM530.6 332.0L529.1 333.7L531.7 341.5L539.6 339.9L539.7 333.3L538.5 331.4ZM510.7 343.6L501.8 343.0L500.9 346.6L510.8 346.6ZM480.9 355.0L482.3 356.6L490.4 355.6L491.2 354.8L489.5 346.6L483.2 346.6L481.9 346.6ZM531.8 355.5L541.3 354.9L542.0 354.4L540.7 346.6L531.5 346.6ZM542.0 354.4L550.3 355.5L551.7 354.4L551.3 346.6L540.7 346.6ZM590.9 355.1L591.0 346.6L583.4 346.6L580.8 355.3L582.9 357.4ZM602.5 352.9L611.6 355.4L613.7 353.5L612.4 346.6L601.9 346.6ZM561.5 364.6L560.7 355.0L551.7 354.4L550.3 355.5L550.1 364.3L552.4 367.0L560.9 365.6ZM571.5 363.7L572.0 354.1L561.0 354.8L560.7 355.0L561.5 364.6ZM603.1 365.3L610.8 364.4L611.1 364.2L611.6 355.4L602.5 352.9L600.6 355.7L601.7 364.0ZM530.2 377.0L532.0 375.2L529.3 364.1L522.0 365.1L520.5 366.3L520.5 375.5ZM560.9 365.6L552.4 367.0L550.9 373.5L551.0 373.6L560.7 376.3L563.6 373.2ZM602.4 376.2L612.4 375.5L613.5 374.2L610.8 364.4L603.1 365.3L601.5 374.8ZM551.0 373.6L551.1 383.7L560.3 384.0L560.7 376.3ZM563.6 373.2L560.7 376.3L560.3 384.0L561.2 384.9L570.9 384.3L571.2 375.5L570.3 374.3ZM550.8 404.7L561.0 405.7L561.2 405.4L561.4 395.0L560.4 393.9L552.7 394.7L550.5 397.1ZM581.6 405.8L582.4 405.0L581.3 397.3L571.9 395.1L570.8 405.6L571.6 406.4ZM594.2 395.1L593.0 396.3L592.1 405.8L592.1 405.8L602.3 406.0L603.2 394.9L603.0 394.8ZM621.4 406.0L621.7 395.7L613.1 395.5L612.6 405.3ZM639.7 73.9L649.3 74.3L649.9 73.9L651.4 65.2L648.8 63.7L640.6 64.1L639.5 64.0ZM636.4 119.9L639.1 109.4L626.6 108.1L626.1 108.5L628.7 120.0ZM615.2 131.0L617.0 132.3L625.4 131.1L627.4 121.1L616.0 118.8L614.1 120.7ZM625.4 131.1L626.8 132.4L637.6 131.4L637.8 121.2L636.4 119.9L628.7 120.0L627.4 121.1ZM641.2 143.1L638.7 153.7L650.6 155.4L649.7 143.0ZM650.6 155.4L651.5 156.3L651.7 156.3L652.5 144.5L651.6 141.6L649.7 143.0ZM606.3 191.2L605.3 197.2L615.4 199.3L615.5 199.1L614.9 188.3L609.1 188.3ZM606.7 223.1L606.2 214.1L599.0 214.1L597.9 215.5L597.3 221.8L598.6 223.2L605.8 224.1ZM666.4 223.3L664.3 224.8L664.3 231.8L666.0 233.4L674.0 231.7L673.3 224.0ZM665.7 240.6L665.6 249.2L673.8 249.2L674.0 248.9L673.9 242.0ZM661.1 269.1L659.6 270.8L659.1 278.0L666.9 277.8L668.1 271.9L666.8 270.2ZM666.8 287.5L667.6 294.3L669.1 295.5L675.0 295.3L676.0 294.4L677.4 287.5L675.9 285.8ZM684.3 296.8L684.5 297.1L688.3 295.6L684.5 289.4ZM625.5 312.2L625.9 312.0L627.1 305.8L624.7 303.7L618.7 305.0L618.7 311.6ZM649.7 304.6L642.5 304.1L642.4 304.2L642.4 314.1L649.4 313.4L650.3 312.4ZM650.7 303.8L649.7 304.6L650.3 312.4L658.8 313.4L659.7 312.3L659.5 304.1ZM618.7 311.6L618.6 320.4L624.2 321.3L624.9 320.7L625.5 312.2ZM658.9 320.0L658.8 313.4L650.3 312.4L649.4 313.4L650.5 320.2L652.8 321.9L658.5 320.5ZM676.4 321.5L676.4 321.5L674.9 312.2L669.3 312.6L668.9 312.9L667.9 320.8ZM643.7 327.4L642.7 322.0L641.3 320.6L634.5 322.0L633.2 329.0L633.6 329.6L642.4 328.7ZM652.8 321.9L650.5 320.2L642.7 322.0L643.7 327.4L650.8 329.8L650.9 329.7ZM692.6 322.1L692.6 322.0L683.9 320.1L682.6 321.4L683.6 329.0L691.7 328.5ZM692.2 336.3L693.5 337.8L700.1 337.1L702.0 329.4L692.8 330.1ZM666.1 345.5L668.5 354.0L675.2 353.8L676.4 347.8L674.2 345.3L666.7 344.9ZM702.0 363.8L709.0 362.4L708.7 355.1L701.4 355.2L701.6 363.2ZM623.3 365.1L628.4 365.4L630.7 358.8L621.6 358.8ZM628.4 365.4L630.4 367.2L638.7 366.3L639.8 364.8L638.7 358.8L630.7 358.8ZM665.9 358.8L657.8 358.8L656.1 365.0L665.7 365.7ZM676.3 363.9L683.8 365.5L684.8 364.9L685.4 358.8L675.2 358.8ZM693.1 365.9L693.0 358.8L685.4 358.8L684.8 364.9L692.6 366.3ZM629.8 373.5L630.4 367.2L628.4 365.4L623.3 365.1L619.7 368.5L620.5 375.3ZM656.1 365.0L655.3 365.6L657.2 373.5L659.0 374.8L664.9 374.5L666.6 367.0L665.7 365.7ZM705.5 376.5L708.0 370.9L702.5 370.9L702.2 373.2ZM648.4 381.4L648.8 375.8L647.6 374.3L639.3 373.7L638.1 375.4L639.8 383.1ZM702.2 373.2L694.4 373.7L694.7 382.1L702.6 383.1L705.5 376.5ZM683.3 384.3L676.1 383.6L674.2 385.2L674.5 392.6L682.6 391.8ZM674.3 392.7L667.0 392.2L664.7 394.1L666.0 402.5L666.4 402.8L674.5 401.4ZM637.8 410.4L638.4 411.2L648.8 410.2L649.3 409.6L648.5 402.6L647.9 402.2L640.1 401.8ZM676.1 410.2L675.3 402.0L674.5 401.4L666.4 402.8L666.4 411.4L666.6 411.6L674.3 412.3ZM685.2 411.3L685.8 410.7L683.9 401.2L675.3 402.0L676.1 410.2ZM683.9 401.2L685.8 410.7L690.0 410.6L691.6 407.5L695.1 402.7L693.5 401.0L684.5 400.5ZM666.4 411.4L657.3 411.8L656.6 418.8L658.1 420.6L665.8 419.4L665.8 419.4L666.6 411.6ZM649.4 428.2L647.4 419.4L640.1 419.5L639.7 427.6L640.4 428.5L647.8 430.5ZM658.1 420.6L656.6 418.8L647.9 419.1L647.4 419.4L649.4 428.2L657.6 426.8ZM676.2 420.4L675.8 420.0L665.8 419.4L665.8 419.4L667.7 428.7L674.8 427.0ZM667.7 428.7L667.3 429.1L667.1 436.2L674.4 437.7L676.4 428.8L674.8 427.0ZM657.8 437.3L657.6 437.0L648.7 436.4L647.9 437.5L648.3 444.0L657.1 444.0ZM676.6 466.4L670.6 470.4L670.3 474.0L675.1 479.7L678.0 480.4L682.5 468.3L682.6 467.6ZM673.0 524.6L671.7 533.0L676.6 536.3L684.8 529.1L681.5 524.3L673.5 524.0ZM697.9 503.1L698.0 504.9L705.6 510.8L709.5 510.1L707.4 492.7L706.6 492.7ZM659.4 474.5L662.8 477.5L670.3 474.0L670.6 470.4L664.2 465.6L661.7 465.9ZM644.8 500.7L646.9 494.1L646.1 492.9L637.2 491.7L635.8 499.3ZM683.7 517.9L681.5 524.3L684.8 529.1L687.0 529.7L691.4 528.3L693.5 518.0L691.9 516.5ZM687.0 529.7L684.8 529.1L676.6 536.3L678.8 537.7L686.1 542.6L688.5 542.6ZM662.0 520.7L663.1 523.5L673.0 524.6L673.5 524.0L672.7 517.8L664.8 515.5ZM644.8 500.7L646.3 503.7L651.4 504.6L655.4 501.4L655.2 495.8L653.5 494.3L646.9 494.1ZM664.2 465.6L670.8 455.9L670.4 455.4L660.6 453.6L657.2 460.2L658.2 463.5L661.7 465.9ZM700.3 518.1L693.5 518.0L691.4 528.3L696.7 531.0L705.2 526.9ZM653.5 494.3L655.0 485.3L653.7 484.4L646.8 486.7L646.1 492.9L646.9 494.1ZM670.4 508.1L671.1 502.9L664.9 501.0L661.0 503.8L661.4 510.2L664.1 512.1ZM680.7 499.3L686.5 501.1L691.0 497.1L691.2 492.7L679.6 492.7ZM639.1 457.9L638.4 452.8L637.8 452.2L629.0 452.8L629.0 460.8L636.4 461.3ZM655.2 495.8L662.4 493.5L659.8 485.3L655.0 485.3L653.5 494.3ZM646.8 486.7L643.3 483.5L636.9 486.4L637.9 488.3L637.2 491.7L646.1 492.9ZM671.1 502.9L671.7 502.5L672.6 492.3L669.8 491.3L663.6 494.0L664.9 501.0ZM512.9 401.7L512.5 392.1L512.2 391.7L501.3 390.4L501.3 390.5L501.2 402.0L501.7 402.3ZM501.7 402.3L501.2 402.0L492.4 403.2L490.6 405.4L491.9 414.4L492.3 414.8L503.0 414.3L503.1 414.2ZM492.3 414.8L491.7 425.2L502.0 426.9L503.8 425.2L503.0 414.3ZM606.5 425.4L606.3 421.1L595.1 422.8L593.9 422.9L594.0 424.9L595.0 425.9ZM512.8 437.3L512.8 437.3L523.9 438.6L526.6 435.0L525.0 427.6L515.0 427.3ZM583.2 434.9L593.8 438.1L595.6 436.6L595.0 425.9L594.0 424.9L583.0 428.0L582.1 429.0ZM606.5 449.9L617.2 448.0L617.6 438.8L617.3 438.5L606.6 438.4L605.3 448.6ZM617.6 438.8L617.2 448.0L618.6 449.6L629.0 448.8L629.0 444.0L629.0 439.2ZM557.0 460.8L559.4 449.9L557.8 447.8L547.0 448.3L545.5 449.8L548.0 460.7ZM594.2 448.3L594.4 459.9L603.2 461.1L606.8 458.1L606.5 449.9L605.3 448.6ZM606.8 458.1L615.9 460.7L618.4 459.3L618.6 449.6L617.2 448.0L606.5 449.9ZM460.0 468.3L445.8 468.3L445.9 472.0L455.7 472.3ZM491.8 471.3L490.2 472.9L491.7 481.3L501.8 482.1L503.2 481.1L504.5 474.0L500.4 470.2ZM536.8 473.6L535.7 481.0L538.7 484.1L546.4 484.8L548.5 482.4L548.6 474.0L547.1 472.6ZM558.9 472.0L548.6 474.0L548.5 482.4L560.1 484.0L560.6 483.3ZM570.6 481.6L572.7 484.4L583.7 483.3L580.9 472.0L572.3 473.1ZM629.4 469.8L629.2 483.2L635.3 483.5L632.4 478.1L629.4 469.8ZM421.2 484.7L411.3 484.4L418.6 490.8L421.4 493.4ZM584.6 484.0L583.7 483.3L572.7 484.4L572.6 492.4L582.9 495.5L583.8 494.8ZM616.8 494.9L618.5 482.8L617.0 481.3L607.2 485.3L607.2 494.7ZM433.0 506.9L432.1 496.3L424.6 496.6L429.5 501.2L432.6 507.4ZM432.1 496.3L433.0 506.9L444.4 507.1L446.0 504.4L444.9 497.5L434.1 494.2ZM513.2 506.1L513.0 493.3L503.7 493.9L501.8 505.5ZM535.9 496.0L534.8 494.5L527.0 492.2L523.8 494.6L524.3 506.4L524.3 506.5L534.7 503.6ZM547.3 506.8L547.5 495.6L535.9 496.0L534.7 503.6L538.4 507.4ZM582.9 495.5L572.6 492.4L570.0 494.4L570.6 506.2L571.8 506.9L581.6 504.8L582.4 503.9ZM593.9 494.6L583.8 494.8L582.9 495.5L582.4 503.9L593.8 506.7L595.1 505.8ZM538.8 518.6L548.3 516.2L548.0 507.4L547.3 506.8L538.4 507.4L536.0 515.6ZM550.8 518.8L559.2 519.5L560.2 518.1L561.2 507.7L560.1 506.7L548.0 507.4L548.3 516.2ZM605.7 507.2L605.1 516.3L606.6 518.3L616.9 519.4L619.2 516.9L617.4 507.6ZM631.9 520.1L634.2 509.7L634.7 506.0L628.7 506.3L629.1 517.9ZM546.1 530.1L550.8 518.8L548.3 516.2L538.8 518.6L538.7 528.2ZM560.4 540.7L560.0 530.0L548.1 532.3L548.0 539.8L549.0 540.9ZM513.9 539.6L509.0 543.3L511.4 548.7L512.3 551.4L524.2 551.7L525.1 541.8ZM547.3 564.4L559.3 561.4L558.0 552.5L550.8 550.8L547.7 552.9L546.6 563.6ZM559.3 561.4L560.6 562.7L571.2 561.1L572.0 551.9L571.4 551.1L560.6 550.3L558.0 552.5ZM535.9 575.5L536.2 575.2L536.1 562.1L526.9 562.6L525.7 573.6L527.4 575.5ZM572.1 562.0L571.2 561.1L560.6 562.7L560.7 572.2L570.3 574.9ZM538.8 586.0L546.8 585.0L550.0 574.6L547.9 572.6L536.2 575.2L535.9 575.5ZM558.2 598.8L560.7 608.8L561.2 609.1L573.4 607.3L573.1 596.7ZM696.1 133.6L695.0 135.0L697.7 145.4L704.3 146.2L708.2 135.9L705.3 133.2ZM739.7 262.9L747.5 263.1L747.5 255.0L738.7 253.9L737.4 255.7ZM722.0 264.5L713.6 262.2L713.0 263.0L713.1 270.5L714.9 272.0L722.0 270.3L722.2 264.7ZM738.4 271.8L738.4 271.7L738.5 264.4L730.6 264.2L730.6 272.2ZM712.3 288.5L714.2 290.3L720.8 289.1L720.5 281.3L714.9 279.9L712.4 281.3ZM738.0 332.0L738.0 327.1L738.7 323.3L731.8 322.7L730.6 331.0ZM762.8 246.3L762.4 239.6L756.6 240.9L755.8 246.5L756.7 247.3ZM750.6 254.3L749.5 260.3L756.7 261.5L756.5 254.2ZM769.9 253.9L770.4 259.9L775.3 259.9L777.4 254.2L776.6 253.2ZM769.5 260.8L770.9 267.4L777.4 266.6L777.2 262.0L775.3 259.9L770.4 259.9ZM755.2 281.9L754.8 276.2L747.5 274.5L747.5 283.4ZM777.1 281.3L783.7 282.8L784.6 281.8L784.1 275.4L783.6 275.0L778.0 275.9ZM756.0 289.2L749.3 289.2L749.5 295.3L750.2 296.0L756.5 296.2L756.8 295.9ZM756.5 309.6L756.2 309.9L754.9 315.1L755.7 316.1L762.7 317.1L763.7 315.9L763.4 310.7ZM741.4 323.6L742.4 322.5L742.3 316.3L740.7 314.1L739.8 317.4L738.7 323.5ZM742.3 316.3L742.4 322.5L749.8 323.5L749.3 316.4ZM875.0 228.2L875.0 219.5L867.6 220.6L868.7 227.5L869.4 228.0ZM814.4 275.9L813.3 274.8L807.1 274.2L805.6 275.8L807.1 282.7L813.3 282.3L813.6 282.0ZM822.0 297.7L822.8 298.3L828.6 298.2L829.3 297.5L830.5 292.3L828.5 290.0L821.4 289.6L821.1 289.9ZM730.5 78.9L731.0 89.7L743.5 89.8L743.7 89.6L744.0 77.7L742.9 77.1ZM753.9 141.5L743.7 138.6L741.4 140.4L746.2 149.4L754.5 146.9ZM766.6 150.6L766.4 140.5L756.8 138.6L753.9 141.5L754.5 146.9L762.6 144.5L762.1 150.4ZM829.8 151.8L840.3 149.4L838.6 143.3L828.6 137.4L828.0 150.6ZM764.6 163.8L766.7 162.1L767.2 151.1L766.6 150.6L762.1 150.4L761.0 163.4ZM803.9 164.0L817.0 163.5L817.3 163.2L817.1 150.7L816.8 150.5L804.7 151.0L803.2 163.0ZM766.2 175.3L764.6 163.8L761.0 163.4L759.9 176.6L765.8 175.8ZM815.3 176.2L817.0 163.5L803.9 164.0L803.5 175.6L803.9 175.9L814.8 176.6ZM792.2 230.7L797.1 230.7L797.1 232.2L804.3 231.9L803.6 223.8L792.3 226.4ZM779.3 345.0L779.9 342.9L779.2 341.8L773.3 340.4L772.0 342.3L772.8 346.3L774.1 347.2ZM840.4 339.5L848.6 333.5L842.6 329.6L842.3 328.5L838.8 330.6L838.2 336.4ZM804.8 319.7L799.6 321.3L799.4 321.9L802.8 327.0L806.0 325.7L806.7 321.0ZM804.9 333.8L799.8 337.3L801.0 340.5L803.4 341.6L807.6 339.0L805.8 334.0ZM749.9 345.9L753.6 343.8L753.0 339.1L750.4 338.0L746.1 340.9L746.8 344.2ZM816.7 346.3L820.8 346.4L823.6 343.6L820.7 339.2L816.4 340.6L815.8 345.3ZM779.3 345.0L781.4 349.1L784.1 349.6L787.8 346.7L787.9 346.2L785.2 342.4L779.9 342.9ZM807.2 351.4L806.4 350.9L801.6 352.3L801.5 356.1L807.4 356.2ZM792.9 332.2L796.5 333.0L798.8 329.8L795.0 324.9L792.4 324.8L792.2 324.9ZM769.6 356.9L772.2 361.9L778.9 363.4L780.7 361.9L781.2 355.8L769.6 355.6ZM709.3 375.1L715.6 372.8L715.6 368.2L709.4 366.2L708.0 370.9L706.7 373.9ZM800.1 387.2L799.3 387.8L799.5 395.3L805.9 395.3L806.2 390.4L808.2 388.7L807.3 387.9ZM778.9 382.8L781.4 377.8L780.0 375.2L774.4 376.1L773.1 381.5L773.8 382.5ZM839.1 359.8L842.6 362.7L845.9 359.9L845.8 356.5L838.8 356.5ZM712.4 391.4L709.8 387.8L706.3 389.5L706.1 395.3L711.7 395.3ZM801.3 364.0L798.6 361.9L793.7 364.0L794.9 370.9L795.7 371.4L799.9 370.6ZM827.8 368.8L822.3 370.6L822.0 371.9L826.0 376.6L830.0 372.9ZM758.1 361.8L762.9 363.5L769.6 356.9L769.6 355.6L758.1 355.4ZM717.4 366.8L716.8 358.8L711.6 358.8L709.4 366.2L715.6 368.2ZM793.7 364.0L790.3 362.5L786.9 364.6L786.5 370.2L788.6 372.0L794.9 370.9ZM833.4 366.1L828.2 367.6L827.8 368.8L830.0 372.9L830.8 372.2L834.9 371.4ZM842.6 363.5L839.6 366.5L840.0 370.2L846.3 368.5L846.9 367.6ZM850.0 362.7L853.9 356.6L845.8 356.5L845.9 359.9ZM809.6 375.2L811.9 370.9L807.3 368.1L803.0 372.3L803.7 373.9ZM731.3 365.9L724.4 367.5L724.7 372.5L732.0 375.6L733.4 375.1L733.4 367.7ZM746.8 386.0L745.3 388.3L746.9 395.3L752.5 395.3L754.2 388.2L751.9 385.2ZM942.4 360.0L945.5 364.3L951.8 360.5L952.0 357.3L942.4 357.2ZM878.6 363.3L885.4 365.8L887.4 364.0L887.1 356.8L878.6 356.8ZM822.4 388.8L819.4 382.1L812.2 385.3L817.2 395.3L819.0 395.3ZM887.4 391.9L892.3 387.4L892.0 384.3L887.1 380.9L886.2 381.0L882.3 386.5L883.7 390.7ZM897.9 378.1L901.9 373.9L900.2 368.3L895.1 368.0L892.1 373.7ZM951.8 360.5L954.7 364.6L955.6 364.9L961.9 360.9L960.9 357.6L960.9 357.4L952.0 357.3ZM908.4 375.5L908.1 375.1L901.9 373.9L897.9 378.1L898.0 380.0L901.3 382.8L907.3 381.4ZM926.3 398.0L929.0 402.4L936.2 402.0L937.1 395.4L934.1 393.6L926.4 397.8ZM915.6 357.1L907.9 357.0L908.1 361.3L914.2 364.2L915.8 362.5ZM885.1 370.3L890.4 374.1L892.1 373.7L895.1 368.0L893.2 365.0L887.4 364.0L885.4 365.8ZM933.2 386.0L937.2 384.5L938.2 378.6L933.8 374.8L933.7 374.8L929.2 380.8ZM866.5 382.9L870.3 377.4L869.6 374.6L865.0 371.8L858.7 376.4L859.0 380.0L864.1 383.5ZM920.5 414.8L916.8 416.1L915.7 424.7L916.0 424.7L922.7 425.0L925.0 417.5ZM902.9 365.5L904.7 365.3L908.1 361.3L907.9 357.0L898.0 356.9ZM912.5 414.0L911.6 411.1L904.9 409.8L901.8 413.0L907.3 419.2ZM906.8 391.0L907.5 392.5L915.6 393.6L916.5 392.2L914.6 384.7L910.1 384.6ZM879.0 394.9L878.9 399.9L888.9 400.1L889.8 397.5L887.4 391.9L883.7 390.7ZM935.5 364.4L936.0 364.6L942.4 360.0L942.4 357.2L933.7 357.2ZM943.9 405.9L948.2 406.7L954.3 399.4L949.3 395.2L945.2 396.0ZM909.2 369.7L908.1 375.1L908.4 375.5L916.1 376.3L916.9 370.0L914.0 367.3ZM945.5 364.7L945.5 364.3L942.4 360.0L936.0 364.6L939.1 369.1L939.3 369.1ZM934.1 393.6L937.1 395.4L941.7 393.8L942.3 387.1L937.2 384.5L933.2 386.0L932.3 388.1ZM952.7 382.8L959.6 381.6L959.3 378.4L953.0 374.7L950.5 378.2ZM957.9 390.0L951.7 388.9L949.3 395.2L954.3 399.4L957.3 395.8L959.8 394.6ZM939.1 369.1L933.8 374.8L938.2 378.6L943.7 377.0L943.8 373.6L939.3 369.1ZM849.5 433.7L856.4 441.8L858.7 440.4L860.8 433.2L856.7 429.5ZM887.8 442.8L891.7 449.7L897.2 445.2L898.8 442.5L891.5 439.1ZM874.3 451.0L880.6 458.1L886.0 454.2L880.7 446.0L877.4 446.6ZM854.9 407.7L856.3 406.4L857.0 399.6L854.7 396.5L846.5 400.2L847.9 406.2ZM899.7 410.6L894.4 404.6L889.6 408.7L890.0 413.6L893.1 415.4ZM905.0 416.6L899.7 410.6L893.1 415.4L894.4 419.9L903.6 418.2ZM865.9 432.3L869.9 439.8L872.3 439.8L876.7 435.4L874.7 428.9L868.3 428.4ZM875.7 399.8L870.3 399.7L868.6 395.4L865.7 399.0L866.1 407.0L874.3 407.6ZM850.6 422.1L844.6 427.7L849.0 433.0L849.5 433.7L856.7 429.5L856.8 425.0ZM854.7 396.5L854.9 391.1L842.9 390.5L843.9 398.7L846.5 400.2ZM880.7 446.0L883.8 442.6L881.4 436.3L876.7 435.4L872.3 439.8L877.4 446.6ZM844.3 410.1L845.6 415.3L849.6 417.2L855.0 413.5L854.9 407.7L847.9 406.2ZM902.2 426.1L895.8 426.3L894.5 431.8L902.2 435.9L905.2 428.8ZM884.8 427.7L886.0 431.8L891.2 433.9L894.5 431.8L895.8 426.3L893.5 422.9L887.0 423.9ZM854.7 396.5L857.0 399.6L865.7 399.0L868.6 395.4L867.6 392.9L865.4 394.1L865.4 391.6L854.9 391.1ZM883.3 417.1L876.7 420.3L877.1 426.3L884.8 427.7L887.0 423.9ZM793.4 463.4L793.3 464.5L799.2 468.0L803.2 466.2L804.0 463.8L799.5 460.1ZM805.6 486.5L801.8 489.8L802.3 492.6L806.7 495.8L811.1 492.9L811.4 488.5L810.2 487.1ZM828.5 440.3L826.6 444.1L828.0 446.3L833.4 445.3L833.5 444.9L832.0 440.9ZM833.0 482.0L828.6 480.7L824.9 484.1L827.2 488.9L831.6 488.3L833.7 483.4ZM831.1 456.7L832.8 454.2L832.0 451.4L827.4 449.8L825.0 451.6L827.9 456.7ZM789.2 407.0L791.5 403.1L788.7 400.5L783.5 401.8L784.3 407.0ZM821.3 440.2L822.1 443.9L826.6 444.1L828.5 440.3L827.1 437.7L826.0 437.1ZM835.2 423.9L834.5 427.8L838.8 429.7L842.4 425.0L840.1 422.1ZM819.1 414.4L815.4 416.2L814.4 420.1L818.8 422.4L822.3 420.7L822.7 419.8L821.4 415.5ZM795.2 440.0L796.5 435.6L794.6 433.2L788.3 434.4L789.2 440.5ZM814.8 402.3L820.7 405.0L823.3 402.3L817.7 395.3L816.9 395.3ZM825.1 475.1L827.4 476.2L832.1 473.6L831.2 469.4L826.1 467.6L825.2 468.3ZM814.5 440.6L814.8 444.8L817.6 446.8L820.5 446.1L822.1 443.9L821.3 440.2L817.4 437.7ZM807.6 432.0L802.8 432.8L801.5 435.1L803.5 439.4L807.8 439.9L808.9 439.1L809.7 433.8ZM806.6 411.4L806.2 404.4L802.5 403.6L799.4 408.0L802.2 412.2ZM823.3 402.3L823.8 402.2L828.1 395.3L817.7 395.3ZM812.9 420.8L807.7 418.6L805.3 420.0L805.5 425.0L808.3 426.8L811.6 425.6ZM818.4 466.2L812.2 467.1L811.0 470.5L815.9 474.5L818.0 473.9L819.8 467.8ZM788.5 413.5L790.9 410.2L789.2 407.0L784.3 407.0L785.3 413.8ZM857.3 467.0L856.1 465.2L850.3 467.0L851.2 471.6L855.9 471.6ZM838.8 429.7L834.5 427.8L832.8 428.6L831.5 431.7L832.2 434.0L833.9 435.2L838.8 433.6L839.5 431.8ZM816.9 395.3L808.2 395.3L809.0 402.8L812.2 403.8L814.8 402.3ZM806.9 472.0L800.4 474.8L800.9 479.8L803.9 480.9L808.4 478.4L807.2 472.1ZM828.9 415.3L826.1 412.4L821.4 415.5L822.7 419.8L828.2 418.8ZM853.8 483.4L856.5 487.0L857.2 486.9L860.0 482.3L858.8 480.3L855.5 479.7ZM839.9 448.3L843.2 449.1L846.1 445.5L844.6 442.8L839.7 443.2ZM855.6 455.3L854.9 460.3L856.3 462.0L862.7 460.3L860.8 454.2ZM838.5 440.4L834.2 438.4L832.0 440.9L833.5 444.9L838.9 442.4ZM814.4 420.1L815.4 416.2L811.1 412.0L808.6 412.6L807.7 418.6L812.9 420.8ZM786.4 421.3L787.5 428.4L792.5 426.9L793.0 423.4L789.0 420.7ZM815.0 459.2L818.9 462.2L822.7 460.0L820.7 454.3L817.5 453.9ZM800.7 414.9L795.8 415.0L794.6 416.5L796.2 421.5L798.2 422.1L802.2 418.8ZM846.6 432.0L844.8 437.6L845.9 439.3L851.5 439.6L853.3 438.1L849.0 433.0L847.6 431.3ZM788.7 400.5L789.3 395.3L782.6 395.3L783.5 401.8ZM853.2 453.2L855.9 447.2L850.8 445.4L849.4 446.2L849.2 451.9L850.7 453.2ZM807.2 472.1L808.4 478.4L812.0 480.1L813.4 479.6L815.9 474.5L811.0 470.5ZM849.4 446.2L846.1 445.5L843.2 449.1L844.7 452.2L849.2 451.9ZM840.6 437.2L838.8 433.6L833.9 435.2L834.2 438.4L838.5 440.4ZM824.8 493.8L824.7 493.5L820.4 492.5L815.9 496.0L816.0 501.3L823.6 501.8ZM841.9 558.1L844.0 561.3L853.1 562.0L855.2 558.6L852.4 549.4L851.7 549.1L844.6 550.6ZM873.9 586.3L873.4 593.0L874.7 594.4L885.1 593.6L884.5 585.2L884.0 583.6ZM851.7 549.1L852.4 549.4L859.4 546.6L860.2 538.5L855.3 535.4L849.3 536.9ZM824.5 514.1L817.4 509.4L811.9 512.4L811.9 517.7L817.2 521.9L818.3 524.2ZM772.8 493.0L772.7 492.7L759.6 492.7L759.9 500.6L768.4 501.7ZM872.8 576.7L870.3 582.0L873.9 586.3L884.0 583.6L881.4 575.1ZM785.5 497.9L790.4 503.7L794.8 503.6L797.1 500.1L796.0 500.0L793.5 492.7L786.5 492.7ZM867.7 605.0L863.3 600.2L856.6 602.2L856.2 610.1L862.7 613.2L864.4 612.6ZM807.3 500.7L797.1 500.1L794.8 503.6L797.0 508.2L803.2 510.6L806.3 509.1ZM785.5 497.9L779.6 501.2L778.7 505.1L780.2 507.5L786.2 508.5L790.4 503.7ZM779.6 501.2L785.5 497.9L786.5 492.7L772.7 492.7L772.8 493.0ZM801.2 519.0L793.1 518.1L791.3 529.0L795.3 529.7L804.6 523.1ZM872.0 627.0L866.1 638.3L868.1 638.8L867.1 639.5L871.8 644.8L880.9 635.1L882.2 629.8ZM836.8 502.7L830.0 502.2L826.1 513.8L834.0 518.2L837.3 516.6ZM872.0 627.0L871.0 625.3L859.5 623.7L856.6 625.4L861.8 635.1L863.6 637.6L866.1 638.3ZM824.5 514.1L826.1 513.8L830.0 502.2L818.1 501.4L817.4 509.4ZM872.4 617.2L876.4 614.7L874.6 604.3L867.7 605.0L864.4 612.6ZM874.7 594.4L875.1 603.6L885.0 603.7L885.4 597.4L885.1 593.6ZM844.0 591.8L847.2 584.6L842.5 579.6L835.1 581.7L839.0 591.3L839.6 593.4ZM781.1 519.6L785.3 528.0L791.3 529.0L793.1 518.1L791.6 516.3L788.9 515.5ZM852.4 549.4L855.2 558.6L864.5 557.5L864.4 549.5L859.4 546.6ZM788.9 515.5L786.2 508.5L780.2 507.5L777.2 515.7L779.9 517.0L781.1 519.6ZM811.9 512.4L817.4 509.4L818.1 501.4L807.3 500.7L806.3 509.1ZM751.8 405.2L751.5 405.4L752.1 415.3L759.2 415.5L761.2 413.4L760.7 405.9ZM741.6 413.6L741.4 413.9L741.1 423.9L741.2 423.9L750.1 423.6L752.1 415.4ZM741.5 442.9L742.8 434.1L740.9 431.9L733.7 434.0L733.1 440.8ZM769.2 433.0L769.2 440.5L777.9 441.7L779.5 432.4L778.2 430.8L769.5 432.6ZM779.5 432.4L777.9 441.7L779.4 443.4L789.2 440.4L788.3 434.2ZM779.2 450.0L780.6 451.4L788.0 451.4L790.7 449.2L790.2 447.2L789.2 440.4L779.4 443.4ZM734.3 460.9L739.7 461.9L740.9 460.9L742.4 451.7L740.9 450.1L732.1 451.9L731.5 458.2ZM769.9 462.3L771.4 460.3L769.9 451.8L761.3 453.2L760.3 459.2ZM731.5 458.2L730.4 470.1L734.3 460.9ZM787.9 469.8L789.3 461.7L780.1 459.5L779.6 459.8L779.4 469.1ZM741.0 468.8L732.7 472.0L734.3 479.0L741.3 478.9L743.0 470.5ZM761.9 489.0L769.3 488.9L771.2 480.1L770.8 479.7L760.2 479.6L760.2 479.7L761.7 488.8ZM778.3 480.1L780.3 488.8L787.7 488.4L789.0 481.0L787.0 478.3L779.2 479.3ZM730.9 487.5L731.3 500.4L740.7 497.0L739.6 489.9ZM761.9 489.0L761.7 488.8L750.4 488.5L750.4 488.6L750.5 492.7L761.1 492.7ZM704.9 397.4L704.6 395.3L700.7 395.3L697.0 400.3ZM719.4 395.3L712.5 395.3L712.2 398.5L713.7 399.9L719.4 399.0ZM727.6 399.0L727.7 395.3L719.4 395.3L719.4 399.0L720.2 399.6ZM697.6 406.6L696.7 400.7L691.6 407.5L691.5 407.6ZM696.1 415.5L696.6 415.1L698.1 406.9L697.6 406.6L691.5 407.6L688.4 413.9ZM728.7 407.9L728.5 408.0L728.0 414.3L728.5 415.0L735.4 415.7L736.1 408.3ZM688.1 423.0L688.7 422.5L687.9 414.8L684.3 422.1L684.2 423.1ZM720.3 423.6L721.7 430.0L729.0 430.6L729.2 430.4L728.8 422.5L728.5 422.3L721.2 422.2ZM687.9 430.8L689.4 439.6L696.6 438.9L696.8 438.7L696.8 432.1L695.3 430.2L688.2 430.5ZM719.8 432.1L719.8 438.7L720.7 439.4L726.8 439.1L729.0 430.6L721.7 430.0ZM729.2 430.4L729.0 430.6L726.8 439.1L727.3 439.5L733.3 439.2L734.0 431.2ZM688.4 445.9L689.3 439.6L682.2 439.0L681.6 444.0L682.3 447.1ZM689.3 439.6L688.4 445.9L690.3 448.4L696.0 448.3L696.6 447.7L696.6 438.9L689.4 439.6ZM696.8 438.7L696.6 438.9L696.6 447.7L703.9 448.7L704.5 448.0L703.7 439.9L703.3 439.5ZM720.5 446.8L729.0 448.0L729.3 447.8L727.3 439.5L726.8 439.1L720.7 439.4ZM704.3 455.0L703.9 448.7L696.6 447.7L696.0 448.3L696.4 456.1ZM704.5 448.0L703.9 448.7L704.3 455.0L705.1 455.8L712.1 455.2L712.8 447.8L712.0 447.0ZM720.5 446.8L719.3 448.2L720.5 453.8L722.1 455.1L727.2 454.5L729.0 448.0ZM714.4 461.9L720.5 462.6L720.6 462.5L722.1 455.1L720.5 453.8L713.1 456.1ZM727.5 463.9L729.0 462.4L728.5 455.8L727.2 454.5L722.1 455.1L720.6 462.5ZM706.0 463.5L704.8 462.0L696.6 463.2L696.4 463.5L698.2 470.8L702.9 470.6ZM712.9 470.8L711.6 464.8L706.0 463.5L702.9 470.6L705.0 472.4ZM703.6 480.1L705.4 478.5L705.0 472.4L702.9 470.6L698.2 470.8L697.5 471.5L696.6 478.5ZM688.7 488.5L689.1 488.1L688.7 478.9L681.3 480.4L680.6 486.8ZM688.7 478.9L689.1 488.1L696.0 487.3L696.3 478.8L689.0 478.6ZM697.1 488.2L704.1 486.4L703.6 480.1L696.6 478.5L696.3 478.8L696.0 487.3ZM712.7 479.4L705.4 478.5L703.6 480.1L704.1 486.4L706.3 488.0L711.9 487.3ZM712.1 487.5L720.3 487.6L720.5 480.5L720.0 480.0L712.9 479.2L712.7 479.4L711.9 487.3ZM713.5 496.1L712.1 487.5L711.9 487.3L706.3 488.0L705.2 492.7L707.4 492.7L707.8 496.0ZM713.6 496.2L720.8 495.1L721.5 494.2L720.4 487.6L720.3 487.6L712.1 487.5L713.5 496.1ZM720.8 495.1L722.5 501.8L727.8 502.9L730.5 493.8L721.5 494.2ZM991.7 270.9L987.7 275.2L992.5 281.7L993.7 279.6L996.0 271.6ZM845.6 316.8L846.5 312.3L843.2 308.5L837.2 312.5L839.0 318.2Z" fill="#5c487b" stroke="#dcc8de" stroke-width="0.17" stroke-linejoin="round"/>
<path d="M185.2 182.1L165.5 182.1L160.4 186.9L163.4 224.8L188.6 224.8ZM281.7 171.8L289.7 180.0L319.4 173.9L319.4 164.7L311.2 162.8L296.6 162.8L285.2 164.9ZM378.6 249.2L405.4 249.2L406.9 217.3L378.0 215.3L375.9 217.3ZM275.7 108.6L267.4 110.0L266.5 110.6L269.7 130.2L275.7 128.0ZM321.3 54.4L294.9 54.4L294.6 61.5L309.2 78.8L312.4 79.8L321.8 67.3ZM318.3 92.9L332.5 112.8L339.1 117.2L347.6 112.4L340.0 89.2ZM374.9 98.3L387.9 114.6L402.5 112.1L407.1 100.1L400.6 82.3L390.9 79.9L380.9 84.6ZM413.6 73.1L400.6 82.3L407.1 100.1L422.1 96.6L427.2 85.4L424.8 81.6L415.6 73.3ZM400.9 151.8L431.6 151.8L426.4 131.3L411.5 130.9L401.2 148.4ZM287.0 124.3L290.6 106.7L289.4 105.8L275.7 108.6L275.7 128.0ZM446.1 363.5L465.7 371.8L465.9 346.6L447.1 346.6ZM446.8 386.8L465.6 381.1L465.7 371.8L446.1 363.5L438.7 368.7L437.9 372.2ZM407.9 417.1L425.4 412.1L421.9 391.4L419.9 389.3L409.5 390.4L405.6 393.4L402.1 410.2ZM445.7 401.1L443.5 392.7L421.9 391.4L425.4 412.1L425.9 412.3ZM446.8 386.8L443.5 392.7L445.7 401.1L449.3 404.6L465.5 401.5L465.6 381.1ZM447.2 420.4L449.3 417.2L449.3 404.6L445.7 401.1L425.9 412.3L431.8 421.2ZM428.5 444.6L429.4 450.7L455.3 453.8L448.3 438.9L429.2 439.9ZM455.3 453.8L429.4 450.7L426.6 468.3L465.0 468.3L465.0 464.8ZM336.6 285.1L334.2 286.4L335.2 308.1L335.9 309.3L355.8 307.5L355.8 284.2ZM319.3 321.0L305.4 316.0L296.7 319.0L296.5 324.9L324.0 341.8L326.7 327.2ZM324.0 341.8L296.5 324.9L290.9 333.5L291.1 346.6L325.2 346.6ZM477.3 86.6L475.5 84.5L461.0 85.7L460.8 86.0L465.0 99.3L473.0 99.7ZM462.6 101.6L446.8 101.8L446.8 112.5L462.1 114.1L463.3 113.1ZM466.7 143.4L467.8 142.3L467.5 130.1L466.8 128.9L453.3 128.9L456.7 144.1L457.7 144.9ZM467.8 142.3L481.4 142.3L481.8 133.3L467.5 130.1ZM494.3 157.6L507.9 155.7L507.3 144.8L495.7 146.4ZM578.1 154.8L579.9 144.1L569.6 143.0L568.0 144.7L568.1 156.3ZM516.1 208.9L527.0 208.0L527.3 207.6L526.2 200.5L516.7 200.5ZM555.3 207.4L548.3 208.7L547.2 217.2L548.6 219.0L556.5 219.5L558.0 217.4L557.3 209.4ZM454.4 227.6L454.1 218.7L446.8 218.8L446.8 227.2ZM515.1 229.2L506.5 228.1L506.1 228.3L506.0 239.7L506.6 240.5L516.3 237.9ZM525.2 239.1L525.3 239.0L527.6 228.6L525.9 226.4L516.4 227.8L515.1 229.2L516.3 237.9L516.6 238.1ZM463.5 240.3L455.9 240.0L453.7 249.2L466.3 249.2ZM475.2 239.4L466.1 237.4L463.5 240.3L466.3 249.2L474.1 249.2ZM556.5 273.5L566.3 273.5L566.4 270.4L556.1 268.4L555.4 269.1ZM491.1 283.9L491.7 283.4L490.8 273.5L483.2 273.5L483.2 284.5ZM510.3 283.8L511.4 284.7L520.3 283.2L521.0 282.4L520.5 275.5L519.0 273.5L511.0 273.5ZM530.8 283.8L531.1 274.3L520.5 275.5L521.0 282.4ZM491.1 283.9L483.2 284.5L483.2 293.4L491.2 292.9ZM491.7 303.8L493.5 295.0L491.2 292.9L483.2 293.4L483.2 302.1ZM500.7 292.8L501.3 303.7L508.9 303.7L509.1 294.5ZM491.3 314.3L500.4 313.8L501.1 313.2L500.0 304.5L491.8 303.9L490.9 313.6ZM508.9 303.7L501.3 303.7L500.0 304.5L501.1 313.2L509.8 313.2L510.8 312.2L510.5 305.2ZM558.0 302.0L550.2 303.9L549.6 304.7L551.6 312.2L559.6 312.6L560.1 303.6ZM596.6 313.6L598.3 303.8L596.7 302.0L588.2 304.7L589.7 312.3ZM530.6 322.4L538.8 322.9L540.1 314.2L530.3 312.2L528.6 313.4ZM500.7 330.6L501.0 323.1L491.1 321.4L489.5 323.4L491.5 331.6ZM539.7 324.2L538.5 331.4L539.7 333.3L549.2 332.2L547.7 324.5ZM588.0 332.0L595.4 331.3L596.8 323.4L586.8 322.5L585.7 323.9ZM500.5 341.0L503.1 333.0L500.7 330.6L491.5 331.6L490.4 333.5L492.3 340.2ZM501.8 343.0L510.7 343.6L512.0 342.2L511.4 334.0L509.7 332.6L503.1 333.0L500.5 341.0ZM520.6 332.2L511.4 334.0L512.0 342.2L519.1 343.0L521.5 341.0L521.9 333.5ZM521.9 333.5L521.5 341.0L529.7 344.1L531.7 341.5L529.1 333.7ZM550.8 333.6L548.2 341.0L550.1 343.7L559.2 341.1L557.9 332.9ZM597.2 344.4L597.6 346.6L608.4 346.6L608.7 341.4L606.9 340.1ZM470.3 354.5L470.9 346.6L465.9 346.6L465.9 354.4ZM491.2 354.8L498.7 355.0L499.6 353.8L499.3 346.6L489.5 346.6ZM499.6 353.8L511.3 353.5L510.8 346.6L499.3 346.6ZM523.2 346.6L510.8 346.6L511.3 353.5L511.5 353.7L520.7 353.7L521.2 353.3ZM531.8 355.5L531.5 346.6L523.2 346.6L521.2 353.3L531.2 356.2ZM551.7 354.4L560.7 355.0L561.0 354.8L561.4 346.6L551.3 346.6ZM572.3 353.8L580.8 355.3L583.4 346.6L572.4 346.6ZM618.4 353.9L618.4 346.6L612.4 346.6L613.7 353.5ZM470.9 355.3L470.3 354.5L465.9 354.4L465.9 358.8L470.8 358.8ZM470.9 355.3L470.8 358.8L482.2 358.8L482.3 356.6L480.9 355.0ZM482.3 356.6L482.2 358.8L490.7 358.8L490.4 355.6ZM490.7 358.8L499.4 358.8L498.7 355.0L491.2 354.8L490.4 355.6ZM511.5 353.7L511.3 353.5L499.6 353.8L498.7 355.0L499.4 358.8L511.0 358.8ZM522.0 365.1L520.7 353.7L511.5 353.7L511.0 358.8L520.5 358.8L520.5 366.3ZM530.4 363.1L531.2 356.2L521.2 353.3L520.7 353.7L522.0 365.1L529.3 364.1ZM540.1 365.2L541.3 354.9L531.8 355.5L531.2 356.2L530.4 363.1ZM542.0 354.4L541.3 354.9L540.1 365.2L540.4 365.5L550.1 364.3L550.3 355.5ZM582.1 366.1L582.6 365.5L582.9 357.4L580.8 355.3L572.3 353.8L572.0 354.1L571.5 363.7L573.1 365.6ZM601.7 364.0L600.6 355.7L591.4 355.5L593.0 365.0ZM532.0 375.2L540.1 374.4L540.4 365.5L540.1 365.2L530.4 363.1L529.3 364.1ZM550.1 364.3L540.4 365.5L540.1 374.4L540.1 374.4L550.9 373.5L552.4 367.0ZM573.1 365.6L571.5 363.7L561.5 364.6L560.9 365.6L563.6 373.2L570.3 374.3ZM589.9 376.2L593.0 373.7L592.2 365.7L582.6 365.5L582.1 366.1L582.6 374.9ZM530.8 384.9L530.2 377.0L520.5 375.5L520.5 386.3ZM540.1 374.4L540.1 374.4L532.0 375.2L530.2 377.0L530.8 384.9L531.2 385.3L542.6 385.3ZM550.9 373.5L540.1 374.4L542.6 385.3L542.6 385.3L549.6 384.9L551.1 383.7L551.0 373.6ZM570.9 384.3L573.1 386.4L580.7 385.2L582.5 375.0L571.2 375.5ZM530.5 395.0L530.9 394.6L531.2 385.3L530.8 384.9L520.5 386.3L520.5 393.9ZM531.2 385.3L530.9 394.6L540.5 394.9L541.2 394.3L542.6 385.3L542.6 385.3ZM541.2 394.3L550.5 397.1L552.7 394.7L549.6 384.9L542.6 385.3ZM560.4 393.9L561.4 395.0L571.9 395.0L573.1 386.4L570.9 384.3L561.2 384.9ZM581.3 397.3L583.9 394.4L583.3 387.2L580.7 385.2L573.1 386.4L571.9 395.0L571.9 395.1ZM592.3 385.2L583.3 387.2L583.9 394.4L593.0 396.3L594.2 395.1ZM592.3 385.2L594.2 395.1L603.0 394.8L601.7 383.2L601.5 383.0L592.5 385.0ZM530.2 404.0L530.5 395.0L520.5 393.9L520.5 406.0L525.7 408.3ZM540.5 394.9L530.9 394.6L530.5 395.0L530.2 404.0L540.1 405.3ZM540.4 405.6L550.6 404.9L550.8 404.7L550.5 397.1L541.2 394.3L540.5 394.9L540.1 405.3ZM571.9 395.1L571.9 395.0L561.4 395.0L561.2 405.4L570.8 405.6ZM611.0 407.3L612.6 405.3L613.1 395.5L612.3 394.7L603.2 394.9L602.3 406.0L602.5 406.2ZM530.2 404.0L525.7 408.3L535.1 412.3L539.7 413.9L540.4 405.6L540.1 405.3ZM539.7 413.9L546.0 416.0L550.3 416.3L550.6 404.9L540.4 405.6ZM560.6 415.9L561.0 405.7L550.8 404.7L550.6 404.9L550.3 416.3L555.1 416.7L558.0 418.4ZM664.3 224.8L657.9 223.2L656.2 224.4L656.1 232.4L656.4 232.8L664.3 231.8ZM666.6 338.7L659.6 336.5L657.7 338.0L660.1 346.8L666.1 345.5L666.7 344.9ZM676.1 355.1L675.2 358.8L684.3 358.8L684.3 356.6ZM709.0 362.4L702.0 363.8L701.6 370.9L708.0 370.9L710.2 363.4ZM623.3 365.1L621.6 358.8L618.4 358.8L619.7 368.5ZM683.8 365.5L676.3 363.9L674.2 366.4L676.0 374.8L682.8 374.6ZM684.1 375.7L693.6 372.9L692.6 366.3L684.8 364.9L683.8 365.5L682.8 374.6ZM693.1 365.9L692.6 366.3L693.6 372.9L694.4 373.7L702.2 373.2L702.5 370.9L696.1 370.9L698.0 364.7ZM630.7 383.3L629.8 382.5L621.5 382.3L621.9 385.6L621.7 391.4L629.3 392.7L630.5 391.8ZM657.0 393.0L657.9 392.4L659.0 385.4L656.7 382.9L649.9 382.9L649.2 391.6ZM666.0 383.9L667.0 392.2L674.3 392.7L674.5 392.6L674.2 385.2L666.8 383.1ZM693.9 392.0L700.9 392.4L701.6 385.6L702.6 383.1L694.7 382.1L692.2 384.4L693.0 391.2ZM629.8 400.8L630.1 400.4L629.3 392.7L621.7 391.4L621.5 402.1ZM647.9 402.2L648.9 391.9L639.9 391.3L639.4 391.8L639.3 400.8L640.1 401.8ZM656.3 401.2L658.4 402.9L666.0 402.5L664.7 394.1L657.9 392.4L657.0 393.0ZM684.5 400.5L693.5 401.0L693.9 392.0L693.0 391.2L684.7 394.0ZM695.1 402.7L700.7 395.3L700.9 392.4L693.9 392.0L693.5 401.0ZM630.2 410.5L630.8 410.1L629.8 400.8L621.5 402.1L621.4 409.2ZM639.3 400.8L630.1 400.4L629.8 400.8L630.8 410.1L637.8 410.4L640.1 401.8ZM648.8 410.2L647.9 419.1L656.6 418.8L657.3 411.8L657.0 411.4L649.3 409.6ZM685.2 411.3L676.1 410.2L674.3 412.3L675.8 420.0L676.2 420.4L683.8 419.4ZM676.2 420.4L674.8 427.0L676.4 428.8L683.2 430.7L684.3 422.1L685.0 420.6L683.8 419.4ZM676.4 428.8L674.4 437.7L675.1 438.5L682.4 437.5L683.2 430.7ZM675.1 438.5L674.4 437.7L667.1 436.2L665.5 437.7L666.3 444.0L674.9 444.0ZM675.1 438.5L674.9 444.0L681.6 444.0L682.4 437.5ZM687.1 507.0L691.5 509.7L698.0 504.9L697.9 503.1L691.0 497.1L686.5 501.1ZM671.7 502.5L671.1 502.9L670.4 508.1L676.0 513.5L679.4 512.7L680.7 509.8L677.3 502.7ZM662.9 482.6L667.9 484.6L675.1 479.7L670.3 474.0L662.8 477.5ZM652.3 478.1L653.7 484.4L655.0 485.3L659.8 485.3L662.9 482.6L662.8 477.5L659.4 474.5L653.6 475.2ZM661.4 510.2L654.0 512.2L652.4 515.0L654.3 519.3L662.0 520.7L664.8 515.5L664.1 512.1ZM654.3 519.3L650.8 526.7L660.6 530.4L660.9 530.5L663.1 523.5L662.0 520.7ZM659.4 474.5L661.7 465.9L658.2 463.5L650.5 468.4L650.5 470.4L653.6 475.2ZM672.6 492.3L671.7 502.5L677.3 502.7L680.7 499.3L679.6 492.7L673.4 492.7L673.6 492.1ZM696.7 531.0L691.4 528.3L687.0 529.7L688.5 542.6L695.2 542.6L697.5 542.1ZM655.4 501.4L651.4 504.6L654.0 512.2L661.4 510.2L661.0 503.8ZM714.3 514.0L709.8 512.2L709.5 510.1L705.6 510.8L700.3 518.1L705.2 526.9L708.5 527.9L710.4 527.1ZM650.5 468.4L658.2 463.5L657.2 460.2L649.3 457.5L646.6 460.4L646.6 464.3ZM663.6 494.0L662.4 493.5L655.2 495.8L655.4 501.4L661.0 503.8L664.9 501.0ZM710.4 527.1L708.5 527.9L708.5 538.6L710.7 537.7L714.3 544.6L721.6 539.0L720.7 529.4ZM652.4 515.0L654.0 512.2L651.4 504.6L646.3 503.7L642.9 509.0L644.9 514.8ZM691.9 516.5L693.5 518.0L700.3 518.1L705.6 510.8L698.0 504.9L691.5 509.7ZM720.7 529.4L720.7 529.2L725.2 519.5L724.8 518.2L714.3 514.0L710.4 527.1ZM706.6 492.7L691.2 492.7L691.0 497.1L697.9 503.1ZM654.3 519.3L652.4 515.0L644.9 514.8L642.2 518.4L643.5 525.9L647.9 525.6L650.8 526.7ZM708.5 527.9L705.2 526.9L696.7 531.0L697.5 542.1L702.5 540.9L708.5 538.6ZM667.9 484.6L669.8 491.3L672.6 492.3L673.6 492.1L678.0 480.4L675.1 479.7ZM469.8 358.8L465.9 358.8L465.8 370.4L466.9 369.8ZM478.7 358.8L469.8 358.8L466.9 369.8L478.6 371.2ZM478.6 371.2L479.2 371.9L491.4 368.6L488.5 358.8L478.7 358.8ZM491.4 368.6L491.5 368.7L500.5 368.7L502.8 358.8L488.5 358.8ZM500.5 368.7L501.7 370.0L513.3 368.5L513.6 368.1L513.7 358.8L502.8 358.8ZM513.6 368.1L520.5 369.0L520.5 358.8L513.7 358.8ZM466.9 369.8L465.8 370.4L465.7 380.5L479.2 380.0L479.6 379.6L479.2 371.9L478.6 371.2ZM479.6 379.6L489.6 381.8L491.1 380.3L491.5 368.7L491.4 368.6L479.2 371.9ZM503.2 379.0L501.7 370.0L500.5 368.7L491.5 368.7L491.1 380.3L502.1 380.3ZM514.3 380.5L513.3 368.5L501.7 370.0L503.2 379.0ZM520.5 380.3L520.5 369.0L513.6 368.1L513.3 368.5L514.3 380.5L514.5 380.5ZM477.3 391.7L479.2 380.0L465.7 380.5L465.6 391.5ZM489.3 392.3L490.8 390.7L489.6 381.8L479.6 379.6L479.2 380.0L477.3 391.7L479.1 393.4ZM502.1 380.3L491.1 380.3L489.6 381.8L490.8 390.7L501.3 390.5L501.3 390.4ZM512.2 391.7L514.5 380.5L514.3 380.5L503.2 379.0L502.1 380.3L501.3 390.4ZM514.5 380.5L512.2 391.7L512.5 392.1L520.5 391.9L520.5 380.3ZM469.1 405.0L478.9 403.1L479.1 393.4L477.3 391.7L465.6 391.5L465.5 402.3ZM492.4 403.2L489.3 392.3L479.1 393.4L478.9 403.1L480.0 404.4L490.6 405.4ZM501.3 390.5L490.8 390.7L489.3 392.3L492.4 403.2L501.2 402.0ZM512.5 392.1L512.9 401.7L513.4 402.2L520.5 402.2L520.5 391.9ZM465.5 402.3L465.4 414.5L467.5 414.5L469.1 413.1L469.1 405.0ZM469.1 405.0L469.1 413.1L478.9 415.5L480.0 404.4L478.9 403.1ZM480.0 404.4L478.9 415.5L479.1 415.9L491.9 414.4L490.6 405.4ZM512.6 413.0L513.4 402.2L512.9 401.7L501.7 402.3L503.1 414.2ZM524.4 407.7L520.5 406.0L520.5 402.2L513.4 402.2L512.6 413.0L515.1 415.1L522.9 414.4ZM522.9 414.4L524.8 416.1L538.1 414.4L538.8 413.6L535.1 412.3L524.4 407.7ZM468.6 425.8L467.5 414.5L465.4 414.5L465.3 428.0ZM469.1 413.1L467.5 414.5L468.6 425.8L478.4 425.1L479.1 415.9L478.9 415.5ZM491.7 425.2L492.3 414.8L491.9 414.4L479.1 415.9L478.4 425.1L480.2 427.0L490.4 426.3ZM515.1 415.1L512.6 413.0L503.1 414.2L503.0 414.3L503.8 425.2L513.7 425.7ZM515.1 415.1L513.7 425.7L515.0 427.3L525.0 427.6L525.7 426.8L524.8 416.1L522.9 414.4ZM525.7 426.8L536.7 424.7L538.1 414.4L524.8 416.1ZM548.1 428.1L550.7 425.9L547.0 416.1L546.0 416.0L538.8 413.6L538.1 414.4L536.7 424.7L539.0 427.6ZM550.7 425.9L559.3 425.9L560.0 419.4L555.1 416.7L547.0 416.1ZM571.0 426.8L572.2 426.1L572.2 425.6L571.5 425.7L560.0 419.4L559.3 425.9L560.0 426.7ZM478.4 425.1L468.6 425.8L465.3 428.0L465.3 436.4L468.1 438.7L479.5 436.1L480.2 427.0ZM480.2 427.0L479.5 436.1L480.6 437.4L490.1 440.2L492.3 437.6L490.4 426.3ZM502.0 426.9L491.7 425.2L490.4 426.3L492.3 437.6L501.2 436.5L502.3 435.3ZM526.6 435.0L535.9 437.5L536.8 436.9L539.0 427.6L536.7 424.7L525.7 426.8L525.0 427.6ZM536.8 436.9L546.5 439.2L548.4 437.1L548.1 428.1L539.0 427.6ZM548.4 437.1L559.7 438.5L559.9 438.3L560.0 426.7L559.3 425.9L550.7 425.9L548.1 428.1ZM572.2 426.1L571.0 426.8L570.7 439.7L571.2 440.1L582.1 436.3L583.2 434.9L582.1 429.0ZM629.0 439.2L629.0 430.6L621.0 428.4L618.3 426.9L617.9 427.2L617.3 438.5L617.6 438.8ZM465.3 436.4L465.1 453.8L469.6 448.4L468.1 438.7ZM479.5 436.1L468.1 438.7L469.6 448.4L478.2 448.5L480.6 437.4ZM480.6 437.4L478.2 448.5L480.8 450.7L490.2 450.1L491.2 448.5L490.1 440.2ZM492.3 437.6L490.1 440.2L491.2 448.5L502.5 447.7L501.2 436.5ZM512.8 437.3L502.3 435.3L501.2 436.5L502.5 447.7L503.8 448.5L511.9 447.6L512.8 437.3ZM512.8 437.3L511.9 447.6L512.6 448.2L524.7 448.5L523.9 438.6ZM524.7 448.5L525.0 448.8L534.7 448.6L535.9 437.5L526.6 435.0L523.9 438.6ZM535.9 437.5L534.7 448.6L535.9 449.6L545.5 449.8L547.0 448.3L546.5 439.2L536.8 436.9ZM547.0 448.3L557.8 447.8L559.7 438.5L548.4 437.1L546.5 439.2ZM570.1 451.3L572.3 447.8L571.2 440.1L570.7 439.7L559.9 438.3L559.7 438.5L557.8 447.8L559.4 449.9ZM582.9 448.0L582.1 436.3L571.2 440.1L572.3 447.8ZM582.1 436.3L582.9 448.0L583.9 448.8L593.4 447.5L593.8 438.1L583.2 434.9ZM478.2 461.2L480.8 450.7L478.2 448.5L469.6 448.4L465.1 453.8L465.1 457.7ZM478.2 461.2L479.4 463.0L491.9 458.5L490.2 450.1L480.8 450.7ZM491.2 448.5L490.2 450.1L491.9 458.5L492.2 458.7L502.3 459.9L503.8 448.5L502.5 447.7ZM503.8 448.5L502.3 459.9L503.0 460.8L511.0 461.8L513.3 459.5L512.6 448.2L511.9 447.6ZM513.3 459.5L523.6 459.6L525.0 448.8L524.7 448.5L512.6 448.2ZM535.9 449.6L534.7 448.6L525.0 448.8L523.6 459.6L525.2 462.0L535.2 459.6ZM546.7 462.1L548.0 460.7L545.5 449.8L535.9 449.6L535.2 459.6L538.1 462.5ZM569.9 460.9L571.8 458.3L570.1 451.3L559.4 449.9L557.0 460.8L558.1 462.0ZM618.6 449.6L618.4 459.3L629.0 461.8L629.0 448.8ZM409.6 468.3L400.0 468.3L401.7 473.7L401.9 474.0L409.9 472.9L410.4 472.2ZM410.4 472.2L420.6 471.5L420.9 468.3L409.6 468.3ZM420.6 471.5L423.3 474.1L434.3 471.6L434.5 471.3L434.3 468.3L420.9 468.3ZM434.5 471.3L445.5 472.3L445.9 472.0L445.8 468.3L434.3 468.3ZM467.8 472.7L477.8 472.1L479.8 470.4L479.4 463.0L478.2 461.2L465.1 457.7L465.0 468.3L462.2 468.3ZM479.8 470.4L490.2 472.9L491.8 471.3L492.2 458.7L491.9 458.5L479.4 463.0ZM502.3 459.9L492.2 458.7L491.8 471.3L500.4 470.2L503.0 460.8ZM503.0 460.8L500.4 470.2L504.5 474.0L513.3 471.1L511.0 461.8ZM513.3 471.1L513.9 471.5L525.0 469.6L525.2 462.0L523.6 459.6L513.3 459.5L511.0 461.8ZM535.2 459.6L525.2 462.0L525.0 469.6L525.1 469.7L535.2 471.5L538.1 462.5ZM535.2 471.5L536.8 473.6L547.1 472.6L546.7 462.1L538.1 462.5ZM603.8 473.2L604.9 472.1L603.2 461.1L594.4 459.9L593.6 460.5L594.8 473.5ZM604.9 472.1L614.4 472.5L615.9 460.7L606.8 458.1L603.2 461.1ZM618.4 459.3L615.9 460.7L614.4 472.5L615.8 473.7L629.4 469.8L629.4 469.8L629.0 468.6L629.0 461.8ZM401.9 474.0L407.7 481.3L411.1 484.3L409.9 472.9ZM423.3 474.1L420.6 471.5L410.4 472.2L409.9 472.9L411.1 484.3L411.3 484.4L421.2 484.7L422.6 483.5ZM423.3 474.1L422.6 483.5L433.9 486.4L435.6 484.7L434.3 471.6ZM435.6 484.7L444.7 483.9L445.5 472.3L434.5 471.3L434.3 471.6ZM444.7 483.9L445.8 484.8L455.9 483.3L455.7 472.3L445.9 472.0L445.5 472.3ZM455.7 472.3L455.9 483.3L457.4 484.8L466.9 482.8L467.8 472.7L462.2 468.3L460.0 468.3ZM478.5 483.8L477.8 472.1L467.8 472.7L466.9 482.8L470.0 485.7ZM479.8 470.4L477.8 472.1L478.5 483.8L480.4 485.2L491.2 482.1L491.7 481.3L490.2 472.9ZM504.5 474.0L503.2 481.1L513.6 484.8L515.6 482.7L513.9 471.5L513.3 471.1ZM513.9 471.5L515.6 482.7L525.2 482.3L525.1 469.7L525.0 469.6ZM525.1 469.7L525.2 482.3L526.2 483.1L535.7 481.0L536.8 473.6L535.2 471.5ZM607.2 485.3L617.0 481.3L615.8 473.7L614.4 472.5L604.9 472.1L603.8 473.2L604.1 482.7ZM433.9 486.4L422.6 483.5L421.2 484.7L421.4 493.4L424.6 496.6L432.1 496.3L434.1 494.2ZM433.9 486.4L434.1 494.2L444.9 497.5L446.8 495.1L445.8 484.8L444.7 483.9L435.6 484.7ZM445.8 484.8L446.8 495.1L457.9 493.5L457.4 484.8L455.9 483.3ZM469.0 493.8L470.0 485.7L466.9 482.8L457.4 484.8L457.9 493.5L458.3 493.9L468.1 494.4ZM478.8 496.9L481.4 493.9L480.4 485.2L478.5 483.8L470.0 485.7L469.0 493.8ZM492.7 493.5L491.2 482.1L480.4 485.2L481.4 493.9L491.8 494.6ZM501.8 482.1L491.7 481.3L491.2 482.1L492.7 493.5L501.8 492.5ZM503.7 493.9L513.0 493.3L513.0 493.2L513.6 484.8L503.2 481.1L501.8 482.1L501.8 492.5ZM513.6 484.8L513.0 493.2L523.8 494.6L527.0 492.2L526.2 483.1L525.2 482.3L515.6 482.7ZM538.7 484.1L535.7 481.0L526.2 483.1L527.0 492.2L534.8 494.5ZM636.4 495.9L637.9 488.3L635.3 483.5L629.2 483.2L628.4 483.8L628.3 495.0ZM458.3 493.9L457.9 493.5L446.8 495.1L444.9 497.5L446.0 504.4L457.4 504.6L457.8 504.3ZM458.3 493.9L457.8 504.3L467.2 505.8L468.1 494.4ZM467.2 505.8L468.6 507.2L479.1 503.4L478.8 496.9L469.0 493.8L468.1 494.4ZM492.9 505.9L491.8 494.6L481.4 493.9L478.8 496.9L479.1 503.4L481.5 505.7L491.1 507.6ZM501.8 505.5L503.7 493.9L501.8 492.5L492.7 493.5L491.8 494.6L492.9 505.9L501.3 505.7ZM524.3 506.4L523.8 494.6L513.0 493.2L513.0 493.3L513.2 506.1L513.9 506.9ZM444.4 507.1L433.0 506.9L432.6 507.4L435.0 512.2L436.9 519.2L443.5 518.2L445.9 515.5ZM457.4 504.6L446.0 504.4L444.4 507.1L445.9 515.5L454.3 517.2L456.7 515.5ZM457.8 504.3L457.4 504.6L456.7 515.5L468.3 516.8L468.7 516.5L468.6 507.2L467.2 505.8ZM468.6 507.2L468.7 516.5L477.3 518.2L481.5 505.7L479.1 503.4ZM491.1 507.6L481.5 505.7L477.3 518.2L478.8 519.6L490.6 516.8L491.0 516.1ZM503.8 518.4L501.3 505.7L492.9 505.9L491.1 507.6L491.0 516.1L503.0 519.2ZM512.5 516.4L513.9 506.9L513.2 506.1L501.8 505.5L501.3 505.7L503.8 518.4ZM527.1 516.4L524.3 506.5L524.3 506.4L513.9 506.9L512.5 516.4L513.9 517.9L525.0 519.9ZM538.4 507.4L534.7 503.6L524.3 506.5L527.1 516.4L536.0 515.6ZM581.6 504.8L571.8 506.9L573.5 517.9L583.2 518.3L584.0 517.7ZM436.9 519.2L438.6 525.6L444.1 530.4L444.5 530.7L445.8 529.4L443.5 518.2ZM445.9 515.5L443.5 518.2L445.8 529.4L455.6 529.2L456.1 528.6L454.3 517.2ZM454.3 517.2L456.1 528.6L465.3 527.9L468.3 516.8L456.7 515.5ZM478.8 519.6L477.3 518.2L468.7 516.5L468.3 516.8L465.3 527.9L469.5 532.4L472.3 523.1L478.6 520.0L478.9 520.0ZM478.8 519.6L478.9 520.0L491.0 522.0L490.6 516.8ZM502.3 528.3L503.0 519.2L491.0 516.1L490.6 516.8L491.0 522.0L495.0 522.7L500.9 530.0ZM502.3 528.3L513.2 528.4L513.9 517.9L512.5 516.4L503.8 518.4L503.0 519.2ZM525.0 519.9L513.9 517.9L513.2 528.4L515.5 530.6L525.6 528.1L526.1 527.4ZM538.7 528.2L538.8 518.6L536.0 515.6L527.1 516.4L525.0 519.9L526.1 527.4L537.9 528.6ZM560.0 530.0L561.3 528.6L559.2 519.5L550.8 518.8L546.1 530.1L548.1 532.3ZM561.3 528.6L571.2 530.0L571.4 529.9L573.4 518.0L560.2 518.1L559.2 519.5ZM573.4 518.0L571.4 529.9L582.4 529.2L583.2 518.3L573.5 517.9ZM583.2 518.3L582.4 529.2L584.5 531.2L592.3 529.8L594.7 526.9L593.2 518.6L591.8 517.5L584.0 517.7ZM617.1 529.8L617.4 529.4L616.9 519.4L606.6 518.3L604.7 528.9L605.0 529.5ZM616.9 519.4L617.4 529.4L627.6 529.3L629.7 528.0L631.7 527.3L631.5 521.9L631.9 520.1L629.1 517.9L619.2 516.9ZM444.5 530.7L451.3 534.8L455.9 537.6L455.6 529.2L445.8 529.4ZM465.3 527.9L456.1 528.6L455.6 529.2L455.9 537.6L463.2 542.1L468.6 535.3L469.5 532.4ZM526.6 540.5L525.6 528.1L515.5 530.6L513.9 539.6L525.1 541.8ZM537.9 528.6L526.1 527.4L525.6 528.1L526.6 540.5L534.9 541.0ZM560.8 541.2L572.2 540.1L571.2 530.0L561.3 528.6L560.0 530.0L560.4 540.7ZM583.3 540.9L583.6 540.7L584.5 531.2L582.4 529.2L571.4 529.9L571.2 530.0L572.2 540.1L572.9 540.9ZM592.3 529.8L584.5 531.2L583.6 540.7L592.9 543.2L595.9 540.2ZM603.8 539.2L608.2 543.4L617.0 536.0L617.0 536.0L617.1 529.8L605.0 529.5ZM617.4 529.4L617.1 529.8L617.0 536.0L627.6 529.3ZM537.6 543.5L534.9 541.0L526.6 540.5L525.1 541.8L524.2 551.7L524.3 551.7L537.1 551.6L537.8 550.8ZM547.7 552.9L550.8 550.8L549.0 540.9L548.0 539.8L537.6 543.5L537.8 550.8ZM550.8 550.8L558.0 552.5L560.6 550.3L560.8 541.2L560.4 540.7L549.0 540.9ZM571.4 551.1L572.9 540.9L572.2 540.1L560.8 541.2L560.6 550.3ZM583.3 553.4L594.1 553.9L592.9 543.2L583.6 540.7L583.3 540.9L581.9 552.2ZM603.8 539.2L595.9 540.2L592.9 543.2L594.1 553.9L594.4 554.1L604.2 546.8L608.2 543.4ZM512.3 551.4L515.0 559.7L517.4 562.8L524.9 560.9L524.3 551.7L524.2 551.7ZM524.3 551.7L524.9 560.9L526.9 562.6L536.1 562.1L536.1 562.1L537.1 551.6ZM537.1 551.6L536.1 562.1L546.6 563.6L547.7 552.9L537.8 550.8ZM571.2 561.1L572.1 562.0L580.9 563.8L583.3 553.4L581.9 552.2L572.0 551.9ZM582.5 565.7L586.0 560.4L594.4 554.1L594.1 553.9L583.3 553.4L580.9 563.8ZM526.9 562.6L524.9 560.9L517.4 562.8L524.1 571.8L525.7 573.6ZM536.1 562.1L536.2 575.2L547.9 572.6L547.3 564.4L546.6 563.6L536.1 562.1ZM560.7 572.2L560.6 562.7L559.3 561.4L547.3 564.4L547.9 572.6L550.0 574.6L556.7 575.2ZM576.1 575.4L582.5 565.7L580.9 563.8L572.1 562.0L570.3 574.9L571.3 575.9ZM537.3 588.1L538.8 586.0L535.9 575.5L527.4 575.5L529.6 577.9L530.5 588.2ZM550.0 574.6L546.8 585.0L548.2 586.4L559.1 587.7L560.0 586.9L556.7 575.2ZM560.0 586.9L569.3 586.8L571.3 575.9L570.3 574.9L560.7 572.2L556.7 575.2ZM571.3 575.9L569.3 586.8L572.9 591.0L572.9 590.1L576.0 575.5L576.1 575.4ZM538.9 596.3L537.3 588.1L530.5 588.2L530.5 588.9L535.6 601.4ZM538.8 586.0L537.3 588.1L538.9 596.3L548.4 597.0L548.2 586.4L546.8 585.0ZM548.2 586.4L548.4 597.0L550.1 598.4L556.7 597.4L559.1 587.7ZM569.3 586.8L560.0 586.9L559.1 587.7L556.7 597.4L558.2 598.8L573.1 596.7L572.9 591.0ZM550.1 598.4L548.4 597.0L538.9 596.3L535.6 601.4L536.9 604.7L547.1 609.9ZM550.1 598.4L547.1 609.9L548.9 610.8L560.7 608.8L558.2 598.8L556.7 597.4ZM561.2 609.1L560.7 608.8L548.9 610.8L551.4 612.0L561.2 614.4ZM561.2 614.4L563.3 614.9L567.8 618.1L572.4 615.7L573.6 614.4L573.4 607.3L561.2 609.1ZM713.3 230.6L722.7 230.6L721.0 222.5L715.2 221.8L714.0 223.1L712.9 230.2ZM743.7 89.6L756.3 89.6L760.5 86.4L744.0 77.7ZM821.1 353.7L822.8 352.5L820.8 346.4L816.7 346.3L816.1 350.7ZM824.9 343.8L823.6 343.6L820.8 346.4L822.8 352.5L828.4 348.3ZM809.0 331.9L813.8 334.4L816.1 332.8L816.5 329.2L812.1 326.6L809.5 327.9ZM834.5 364.0L834.5 363.8L832.6 361.6L827.2 361.8L826.1 363.1L828.2 367.6L833.4 366.1ZM706.7 373.9L703.3 381.7L709.7 383.4L711.5 380.5L709.3 375.1ZM967.4 374.9L964.2 367.7L959.4 370.2L961.4 375.4ZM960.6 385.9L967.9 388.5L968.6 380.7L968.6 380.6L959.8 381.9ZM916.8 416.1L912.5 414.0L907.3 419.2L910.9 423.3L915.7 424.7ZM922.0 368.8L916.9 370.0L916.1 376.3L916.4 376.6L923.5 376.3L924.9 372.8ZM950.7 387.0L951.7 388.9L957.9 390.0L960.6 385.9L959.8 381.9L959.6 381.6L952.7 382.8ZM889.8 397.5L897.2 395.2L897.7 390.8L892.3 387.4L887.4 391.9ZM903.6 418.2L894.4 419.9L893.5 422.9L895.8 426.3L902.2 426.1ZM865.2 407.9L856.3 406.4L854.9 407.7L855.0 413.5L859.8 416.4L864.7 414.0ZM829.5 407.1L823.5 402.6L823.8 402.2L823.3 402.3L820.7 405.0L820.5 407.6L826.2 410.7ZM802.2 418.8L798.2 422.1L800.3 427.3L805.5 425.0L805.3 420.0ZM833.4 445.3L828.0 446.3L827.4 449.8L832.0 451.4L834.4 448.1ZM825.0 451.6L824.3 451.5L820.7 454.3L822.7 460.0L824.7 460.4L827.9 456.7ZM811.1 412.0L813.4 408.9L812.2 403.8L809.0 402.8L806.2 404.4L806.6 411.4L808.6 412.6ZM820.7 405.0L814.8 402.3L812.2 403.8L813.4 408.9L818.7 409.6L820.5 407.6ZM808.6 412.6L806.6 411.4L802.2 412.2L800.7 414.9L802.2 418.8L805.3 420.0L807.7 418.6ZM838.8 429.7L839.5 431.8L846.6 432.0L847.6 431.3L842.4 425.0ZM825.1 427.3L825.7 426.1L822.3 420.7L818.8 422.4L818.5 428.0ZM841.8 480.3L846.2 478.3L846.2 473.5L844.0 472.0L841.8 472.5L840.1 478.1ZM855.9 447.2L853.2 453.2L855.6 455.3L860.8 454.2L858.3 446.3ZM848.8 484.7L850.2 489.0L855.2 488.9L856.5 487.0L853.8 483.4L849.4 483.8ZM804.8 454.7L803.0 448.7L797.9 449.9L796.8 454.2L799.8 456.8ZM818.8 422.4L814.4 420.1L812.9 420.8L811.6 425.6L815.4 428.9L818.2 428.3L818.5 428.0ZM813.4 408.9L811.1 412.0L815.4 416.2L819.1 414.4L818.7 409.6ZM801.0 442.5L803.5 447.8L808.3 446.5L807.8 439.9L803.5 439.4ZM818.2 428.3L820.6 433.3L824.4 433.5L825.9 431.1L825.1 427.3L818.5 428.0ZM830.1 421.2L832.5 421.2L836.0 416.1L834.7 413.8L828.9 415.3L828.2 418.8ZM820.7 454.3L824.3 451.5L820.5 446.1L817.6 446.8L816.2 452.2L817.5 453.9ZM864.9 477.5L865.4 475.7L867.4 473.0L862.6 470.8L859.9 474.0L861.3 476.5ZM838.0 484.5L839.4 489.2L842.6 490.2L845.0 485.1L841.7 481.4ZM844.6 442.8L846.1 445.5L849.4 446.2L850.8 445.4L851.5 439.6L845.9 439.3ZM806.7 495.8L802.3 492.6L795.6 498.6L796.0 500.0L806.6 500.7ZM800.3 427.3L800.2 427.5L802.8 432.8L807.6 432.0L808.3 426.8L805.5 425.0ZM795.8 415.0L794.5 410.6L790.9 410.2L788.5 413.5L791.2 416.8L794.6 416.5ZM813.2 433.1L809.7 433.8L808.9 439.1L814.5 440.6L817.4 437.7L817.4 437.5ZM856.2 610.1L856.6 602.2L852.3 599.2L843.7 605.5L849.9 612.0L850.4 613.1ZM855.3 578.7L860.9 578.1L863.9 569.4L854.6 566.7L851.1 572.8ZM866.4 568.2L863.9 569.4L860.9 578.1L865.2 582.4L870.3 582.0L872.8 576.7L868.5 568.9ZM854.6 566.7L853.1 562.0L844.0 561.3L841.4 568.9L844.8 573.3L851.1 572.8ZM874.6 604.3L875.1 603.6L874.7 594.4L873.4 593.0L864.8 594.4L863.3 600.2L867.7 605.0ZM841.4 568.9L844.0 561.3L841.9 558.1L832.5 557.5L831.4 568.2L831.7 569.7ZM865.7 558.6L866.4 568.2L868.5 568.9L878.6 564.7L876.7 556.4ZM844.8 573.3L842.5 579.6L847.2 584.6L852.4 584.1L855.3 578.7L851.1 572.8ZM864.5 557.5L865.7 558.6L876.7 556.4L876.3 554.8L871.4 545.8L864.4 549.5ZM811.9 512.4L806.3 509.1L803.2 510.6L801.2 519.0L804.6 523.1L806.2 521.9L811.7 517.5L811.9 517.7ZM873.9 586.3L870.3 582.0L865.2 582.4L861.5 590.1L864.8 594.4L873.4 593.0ZM844.0 591.8L851.8 596.3L856.5 589.9L852.4 584.1L847.2 584.6ZM826.1 513.8L824.5 514.1L818.3 524.2L820.1 527.9L832.4 524.9L834.0 518.2ZM859.5 623.7L862.7 613.2L856.2 610.1L850.4 613.1L852.7 618.1L856.6 625.4ZM860.2 538.5L859.4 546.6L864.4 549.5L871.4 545.8L869.0 541.4L867.2 536.5L867.2 536.3ZM841.4 568.9L831.7 569.7L833.5 577.9L835.1 581.7L842.5 579.6L844.8 573.3ZM857.7 525.7L855.3 535.4L860.2 538.5L867.2 536.3L863.9 524.3ZM853.1 562.0L854.6 566.7L863.9 569.4L866.4 568.2L865.7 558.6L864.5 557.5L855.2 558.6ZM864.8 594.4L861.5 590.1L856.5 589.9L851.8 596.3L852.3 599.2L856.6 602.2L863.3 600.2ZM839.1 545.1L839.7 542.1L834.3 534.7L826.1 538.3L827.2 540.2L831.7 546.3L831.9 548.3ZM876.4 614.7L872.4 617.2L871.0 625.3L872.0 627.0L882.2 629.8L883.0 626.6L884.0 619.3L884.2 616.1ZM868.5 568.9L872.8 576.7L881.4 575.1L880.0 570.6L878.6 564.7ZM857.7 525.7L863.9 524.3L862.7 519.5L861.2 510.4L853.8 512.7L852.9 522.8ZM831.9 548.3L832.6 556.0L832.5 557.5L841.9 558.1L844.6 550.6L839.1 545.1ZM875.1 603.6L874.6 604.3L876.4 614.7L884.2 616.1L885.0 603.7ZM856.5 589.9L861.5 590.1L865.2 582.4L860.9 578.1L855.3 578.7L852.4 584.1ZM741.4 413.9L741.6 413.6L743.6 405.0L742.9 404.3L736.5 404.2L735.7 413.1ZM778.5 413.8L779.3 412.9L777.8 405.3L770.1 404.9L770.1 405.0L769.5 414.3ZM740.9 450.1L741.6 443.1L741.5 442.9L733.1 440.8L732.1 451.9ZM760.0 451.7L761.3 453.2L769.9 451.8L770.0 451.8L768.1 441.6L761.8 442.3ZM770.8 479.7L769.5 469.5L760.2 470.6L760.2 479.6ZM788.6 471.0L787.0 478.3L789.0 481.0L792.7 480.9L792.6 479.3L793.0 471.5ZM789.0 481.0L787.7 488.4L789.1 490.0L793.3 489.3L792.7 480.9ZM742.3 498.1L741.4 507.5L742.2 508.1L748.4 508.0L749.8 501.2L748.4 497.8ZM719.6 415.9L719.7 415.9L728.0 414.3L728.5 408.0L721.2 407.5ZM713.1 415.0L712.0 415.9L711.5 422.8L713.5 424.7L720.3 423.6L721.2 422.2L719.7 415.9L719.6 415.9ZM688.2 430.5L695.3 430.2L696.2 423.0L688.7 422.5L688.1 423.0ZM704.5 424.6L704.6 429.7L706.0 431.3L710.8 432.2L713.2 430.1L713.5 424.7L711.5 422.8ZM689.3 439.6L689.4 439.6L687.9 430.8L683.2 431.1L682.2 439.0ZM719.8 438.7L712.6 439.5L712.3 439.8L712.0 447.0L712.8 447.8L719.3 448.2L720.5 446.8L720.7 439.4ZM721.1 471.8L719.7 470.9L713.5 471.4L712.9 479.2L720.0 480.0ZM680.1 487.3L675.6 486.6L673.4 492.7L679.4 492.7Z" fill="#3a3468" stroke="#dcc8de" stroke-width="0.17" stroke-linejoin="round"/>
<path d="" fill="url(#hat)"/>
<polygon points="196.6,111.1 203.5,111.1 204.3,111.6 204.3,120.3 203.4,121.1 196.3,121.1 196.2,121.1 196.2,112.3" fill="#5c487b" stroke="#dcc8de" stroke-width="0.17"/>
<polygon points="211.7,94.2 222.1,94.2 222.4,95.4 222.4,100.6 221.3,101.2 212.0,101.2 211.4,100.4 211.4,94.4" fill="#3a3468" stroke="#dcc8de" stroke-width="0.17"/>
<polygon points="246.6,182.2 251.8,182.2 252.8,182.9 252.8,189.3 252.0,190.3 245.9,190.3 245.8,189.3 245.8,183.0" fill="#3a3468" stroke="#dcc8de" stroke-width="0.17"/>
<polygon points="139.7,135.3 148.2,135.3 148.3,136.7 148.3,147.5 147.1,148.3 140.7,148.3 139.2,147.1 139.2,136.7" fill="#3a3468" stroke="#dcc8de" stroke-width="0.17"/>
<polygon points="315.8,55.0 323.7,55.0 325.1,55.8 325.1,73.4 323.5,75.0 315.3,75.0 315.1,74.8 315.1,55.4" fill="url(#hat)"/>
<polygon points="364.9,89.2 376.1,89.2 377.3,90.9 377.3,107.4 375.9,108.2 363.3,108.2 362.3,107.3 362.3,90.8" fill="url(#hat)"/>
<polygon points="441.5,95.0 445.9,95.0 446.9,95.7 446.9,109.0 446.0,110.0 442.0,110.0 440.9,109.3 440.9,95.2" fill="#3a3468" stroke="#dcc8de" stroke-width="0.17"/>
<polygon points="351.4,109.1 357.5,109.1 359.1,110.6 359.1,122.2 357.9,123.1 350.4,123.1 350.0,121.8 350.0,110.0" fill="#3a3468" stroke="#dcc8de" stroke-width="0.17"/>
<polygon points="383.2,116.0 394.5,116.0 394.6,117.9 394.6,126.9 394.4,129.0 384.3,129.0 382.6,128.2 382.6,116.3" fill="#3a3468" stroke="#dcc8de" stroke-width="0.17"/>
<polygon points="447.7,112.1 466.2,112.1 467.4,113.4 467.4,120.1 466.5,120.1 447.4,120.1 447.3,119.1 447.3,112.6" fill="url(#hat)"/>
<polygon points="472.6,184.2 482.0,184.2 483.4,185.0 483.4,190.8 482.9,192.3 471.5,192.3 471.4,191.4 471.4,184.3" fill="url(#hat)"/>
<polygon points="246.8,181.1 256.6,181.1 257.5,182.3 257.5,193.8 257.4,194.1 248.2,194.1 246.4,193.5 246.4,183.0" fill="#3a3468" stroke="#dcc8de" stroke-width="0.17"/>
<polygon points="257.3,204.0 266.0,204.0 266.4,204.5 266.4,209.5 265.7,210.1 257.0,210.1 256.4,209.4 256.4,204.7" fill="#5c487b" stroke="#dcc8de" stroke-width="0.17"/>
<polygon points="162.9,284.1 166.6,284.1 167.1,284.5 167.1,288.4 166.9,289.1 162.4,289.1 162.1,288.2 162.1,284.6" fill="#3a3468" stroke="#dcc8de" stroke-width="0.17"/>
<polygon points="155.6,300.1 163.7,300.1 163.7,300.8 163.7,312.2 163.7,313.1 155.7,313.1 154.7,312.1 154.7,300.2" fill="url(#hat)"/>
<polygon points="284.9,216.1 299.4,216.1 300.1,217.0 300.1,223.6 299.0,224.1 285.1,224.1 284.0,224.0 284.0,216.2" fill="#3a3468" stroke="#dcc8de" stroke-width="0.17"/>
<polygon points="312.8,225.0 317.8,225.0 319.0,225.3 319.0,243.4 318.2,244.0 312.4,244.0 312.0,243.6 312.0,225.4" fill="#3a3468" stroke="#dcc8de" stroke-width="0.17"/>
<polygon points="339.7,249.0 355.5,249.0 356.3,249.4 356.3,255.6 355.3,256.0 339.3,256.0 339.2,255.3 339.2,250.0" fill="#5c487b" stroke="#dcc8de" stroke-width="0.17"/>
<polygon points="295.2,310.2 304.3,310.2 304.7,311.7 304.7,319.8 304.3,320.3 295.4,320.3 294.6,319.0 294.6,310.4" fill="#3a3468" stroke="#dcc8de" stroke-width="0.17"/>
<polygon points="400.0,250.1 412.4,250.1 413.3,252.2 413.3,263.0 411.1,264.2 399.7,264.2 399.2,263.3 399.2,251.8" fill="#7f5c8d" stroke="#dcc8de" stroke-width="0.17"/>
<polygon points="393.4,275.2 407.0,275.2 408.1,275.7 408.1,288.9 406.8,289.2 391.6,289.2 391.1,287.2 391.1,277.3" fill="url(#hat)"/>
<polygon points="402.6,295.8 413.7,295.8 414.3,297.6 414.3,310.4 412.5,311.8 403.0,311.8 402.2,311.6 402.2,296.4" fill="url(#hat)"/>
<polygon points="473.8,249.2 482.7,249.2 483.3,249.9 483.3,261.4 482.5,262.2 473.1,262.2 472.3,260.4 472.3,249.5" fill="url(#hat)"/>
<polygon points="466.4,184.0 479.7,184.0 482.4,186.5 482.4,197.2 481.1,200.0 469.1,200.0 466.4,197.4 466.4,184.6" fill="url(#hat)"/>
<polygon points="448.4,232.1 458.1,232.1 459.3,233.1 459.3,239.4 458.9,240.1 447.8,240.1 447.3,239.8 447.3,232.2" fill="url(#hat)"/>
<polygon points="485.4,223.1 489.6,223.1 489.9,223.8 489.9,231.1 489.1,231.1 485.5,231.1 484.9,230.3 484.9,223.9" fill="#3a3468" stroke="#dcc8de" stroke-width="0.17"/>
<polygon points="485.4,231.1 489.8,231.1 490.4,231.1 490.4,238.3 490.2,239.1 484.7,239.1 484.4,238.4 484.4,231.7" fill="url(#hat)"/>
<polygon points="296.6,310.0 302.7,310.0 304.1,310.9 304.1,317.5 303.7,318.0 297.3,318.0 296.0,317.3 296.0,311.1" fill="#3a3468" stroke="#dcc8de" stroke-width="0.17"/>
<polygon points="377.2,323.5 382.6,323.5 382.8,324.1 382.8,329.7 382.6,330.5 377.6,330.5 376.8,329.5 376.8,324.4" fill="#3a3468" stroke="#dcc8de" stroke-width="0.17"/>
<polygon points="386.3,318.9 399.1,318.9 399.1,320.6 399.1,335.6 399.0,338.0 384.8,338.0 384.1,337.2 384.1,320.3" fill="url(#hat)"/>
<polygon points="472.7,315.0 482.8,315.0 483.8,316.7 483.8,331.0 483.7,331.0 472.0,331.0 471.8,330.8 471.8,315.2" fill="url(#hat)"/>
<polygon points="510.8,82.2 518.7,82.2 520.5,82.4 520.5,93.5 519.8,94.6 509.4,94.6 508.7,93.9 508.7,83.6" fill="url(#hat)"/>
<polygon points="558.6,86.0 566.4,86.0 567.0,86.3 567.0,96.2 566.8,96.8 558.5,96.8 557.6,95.6 557.6,86.6" fill="url(#hat)"/>
<polygon points="465.9,85.4 480.2,85.4 480.7,86.4 480.7,101.0 478.6,102.6 466.7,102.6 465.7,100.4 465.7,87.1" fill="#3a3468" stroke="#dcc8de" stroke-width="0.17"/>
<polygon points="454.8,95.0 463.9,95.0 464.7,96.0 464.7,109.6 463.8,111.0 455.3,111.0 453.9,110.1 453.9,95.5" fill="#3a3468" stroke="#dcc8de" stroke-width="0.17"/>
<polygon points="524.3,112.2 536.7,112.2 537.6,112.3 537.6,119.2 537.0,119.8 524.8,119.8 523.6,118.5 523.6,112.8" fill="#3a3468" stroke="#dcc8de" stroke-width="0.17"/>
<polygon points="559.1,120.8 569.8,120.8 570.9,121.1 570.9,127.6 570.7,128.2 559.0,128.2 557.9,127.4 557.9,121.9" fill="#3a3468" stroke="#dcc8de" stroke-width="0.17"/>
<polygon points="470.2,112.2 482.0,112.2 483.0,113.3 483.0,119.9 482.8,120.8 469.9,120.8 469.0,120.8 469.0,112.4" fill="#3a3468" stroke="#dcc8de" stroke-width="0.17"/>
<polygon points="551.7,73.6 559.0,73.6 559.1,73.7 559.1,85.2 557.7,85.4 550.8,85.4 550.5,85.4 550.5,74.9" fill="#5c487b" stroke="#dcc8de" stroke-width="0.17"/>
<polygon points="520.9,82.2 531.5,82.2 533.4,83.8 533.4,93.1 531.2,95.0 521.9,95.0 520.6,93.2 520.6,82.3" fill="#5c487b" stroke="#dcc8de" stroke-width="0.17"/>
<polygon points="525.6,120.0 538.8,120.0 539.5,121.0 539.5,127.8 538.4,128.0 525.8,128.0 524.5,127.9 524.5,120.5" fill="#7f5c8d" stroke="#dcc8de" stroke-width="0.17"/>
<polygon points="561.0,54.0 570.5,54.0 572.0,54.4 572.0,63.7 571.6,64.0 561.1,64.0 560.0,62.6 560.0,54.7" fill="#5c487b" stroke="#dcc8de" stroke-width="0.17"/>
<polygon points="573.2,54.0 584.8,54.0 585.5,54.6 585.5,63.2 585.4,64.0 573.4,64.0 572.5,62.2 572.5,54.7" fill="#3a3468" stroke="#dcc8de" stroke-width="0.17"/>
<polygon points="587.3,54.0 599.7,54.0 600.0,55.2 600.0,62.6 598.8,64.0 586.9,64.0 586.0,63.1 586.0,55.2" fill="#3a3468" stroke="#dcc8de" stroke-width="0.17"/>
<polygon points="601.3,54.0 607.8,54.0 608.0,54.1 608.0,62.9 606.7,64.0 600.7,64.0 600.0,63.4 600.0,55.0" fill="#5c487b" stroke="#dcc8de" stroke-width="0.17"/>
<polygon points="466.2,184.0 480.9,184.0 481.7,184.6 481.7,198.3 480.8,200.0 466.4,200.0 465.7,198.0 465.7,186.7" fill="url(#hat)"/>
<polygon points="529.3,171.2 539.7,171.2 540.4,171.6 540.4,176.1 539.8,177.0 529.3,177.0 529.0,176.8 529.0,171.2" fill="url(#hat)"/>
<polygon points="502.1,158.0 513.1,158.0 514.0,158.4 514.0,185.2 513.2,186.0 502.8,186.0 501.0,185.7 501.0,160.3" fill="#3a3468" stroke="#dcc8de" stroke-width="0.17"/>
<polygon points="527.3,155.0 532.5,155.0 533.2,155.5 533.2,169.0 532.3,170.0 527.4,170.0 526.8,169.4 526.8,155.8" fill="#3a3468" stroke="#dcc8de" stroke-width="0.17"/>
<polygon points="501.3,181.1 514.4,181.1 515.0,182.2 515.0,188.1 514.3,189.6 500.4,189.6 500.0,189.2 500.0,182.1" fill="#3a3468" stroke="#dcc8de" stroke-width="0.17"/>
<polygon points="518.6,184.0 526.1,184.0 528.0,185.6 528.0,199.5 527.6,200.0 517.7,200.0 517.2,199.6 517.2,185.4" fill="#3a3468" stroke="#dcc8de" stroke-width="0.17"/>
<polygon points="515.4,164.5 524.5,164.5 526.0,164.9 526.0,172.1 525.5,173.5 514.7,173.5 514.0,172.3 514.0,164.6" fill="#5c487b" stroke="#dcc8de" stroke-width="0.17"/>
<polygon points="532.1,190.5 540.8,190.5 542.0,190.9 542.0,198.0 541.2,198.5 533.0,198.5 532.0,198.5 532.0,191.0" fill="#3a3468" stroke="#dcc8de" stroke-width="0.17"/>
<polygon points="546.2,195.0 556.9,195.0 557.6,195.3 557.6,202.2 556.2,203.0 546.2,203.0 545.6,202.2 545.6,195.2" fill="#3a3468" stroke="#dcc8de" stroke-width="0.17"/>
<polygon points="495.1,222.2 504.7,222.2 505.7,222.4 505.7,229.3 504.3,230.6 494.8,230.6 494.7,229.2 494.7,222.8" fill="url(#hat)"/>
<polygon points="485.6,231.0 506.4,231.0 507.6,231.5 507.6,238.6 506.6,239.6 485.6,239.6 484.4,239.2 484.4,232.2" fill="url(#hat)"/>
<polygon points="527.6,222.8 534.4,222.8 535.3,223.6 535.3,230.4 534.6,230.6 526.8,230.6 526.3,229.6 526.3,223.8" fill="url(#hat)"/>
<polygon points="447.8,231.8 459.1,231.8 459.3,232.7 459.3,238.7 459.1,239.6 448.3,239.6 447.1,238.7 447.1,232.0" fill="url(#hat)"/>
<polygon points="485.1,222.9 494.5,222.9 494.7,223.4 494.7,230.0 493.8,231.1 484.5,231.1 483.7,230.1 483.7,223.6" fill="#3a3468" stroke="#dcc8de" stroke-width="0.17"/>
<polygon points="506.8,223.1 525.4,223.1 525.6,223.2 525.6,229.9 524.6,230.9 507.1,230.9 506.4,229.9 506.4,223.6" fill="#3a3468" stroke="#dcc8de" stroke-width="0.17"/>
<polygon points="508.5,231.1 515.4,231.1 515.9,232.3 515.9,238.8 515.2,238.9 508.4,238.9 508.1,237.8 508.1,231.6" fill="#3a3468" stroke="#dcc8de" stroke-width="0.17"/>
<polygon points="544.8,222.9 551.5,222.9 552.1,223.7 552.1,230.0 551.6,231.1 545.5,231.1 544.4,230.9 544.4,223.3" fill="#3a3468" stroke="#dcc8de" stroke-width="0.17"/>
<polygon points="536.1,231.1 542.9,231.1 543.0,232.1 543.0,238.0 542.8,238.9 536.2,238.9 536.0,238.4 536.0,232.0" fill="#3a3468" stroke="#dcc8de" stroke-width="0.17"/>
<polygon points="553.2,227.2 559.3,227.2 560.4,228.1 560.4,240.0 559.8,240.2 552.3,240.2 552.0,239.4 552.0,228.1" fill="#3a3468" stroke="#dcc8de" stroke-width="0.17"/>
<polygon points="561.2,214.5 568.3,214.5 568.6,215.5 568.6,222.1 567.5,222.2 562.2,222.2 560.9,220.8 560.9,215.0" fill="#3a3468" stroke="#dcc8de" stroke-width="0.17"/>
<polygon points="460.9,239.5 471.9,239.5 472.8,240.5 472.8,246.9 471.7,248.5 460.5,248.5 460.0,247.1 460.0,240.3" fill="#3a3468" stroke="#dcc8de" stroke-width="0.17"/>
<polygon points="474.5,244.0 482.4,244.0 483.0,244.0 483.0,248.0 482.5,248.6 474.4,248.6 474.0,248.2 474.0,244.4" fill="#3a3468" stroke="#dcc8de" stroke-width="0.17"/>
<polygon points="484.5,249.2 496.7,249.2 497.3,249.2 497.3,255.1 496.5,255.7 484.8,255.7 484.3,255.0 484.3,250.3" fill="#3a3468" stroke="#dcc8de" stroke-width="0.17"/>
<polygon points="498.6,256.9 506.1,256.9 506.3,258.0 506.3,264.2 506.2,265.1 497.8,265.1 497.3,264.8 497.3,257.0" fill="#3a3468" stroke="#dcc8de" stroke-width="0.17"/>
<polygon points="485.1,265.3 494.8,265.3 496.0,265.7 496.0,271.2 495.1,272.3 484.6,272.3 484.4,271.2 484.4,266.1" fill="#3a3468" stroke="#dcc8de" stroke-width="0.17"/>
<polygon points="497.9,264.6 506.0,264.6 507.0,265.7 507.0,271.9 505.9,272.4 497.9,272.4 496.6,271.2 496.6,265.3" fill="#3a3468" stroke="#dcc8de" stroke-width="0.17"/>
<polygon points="545.3,265.3 568.1,265.3 568.7,265.4 568.7,272.2 568.6,272.3 544.6,272.3 544.3,272.1 544.3,265.9" fill="#3a3468" stroke="#dcc8de" stroke-width="0.17"/>
<polygon points="519.7,190.0 527.8,190.0 528.8,190.7 528.8,198.5 528.2,199.7 519.3,199.7 518.5,198.3 518.5,190.7" fill="#3a3468" stroke="#dcc8de" stroke-width="0.17"/>
<polygon points="518.2,201.0 533.2,201.0 534.0,201.6 534.0,205.7 533.7,206.0 518.5,206.0 518.0,205.5 518.0,201.2" fill="#3a3468" stroke="#dcc8de" stroke-width="0.17"/>
<polygon points="634.0,101.5 645.5,101.5 646.0,103.2 646.0,121.2 645.0,121.5 634.4,121.5 634.0,121.0 634.0,101.9" fill="#5c487b" stroke="#dcc8de" stroke-width="0.17"/>
<polygon points="623.4,202.4 628.8,202.4 629.0,202.4 629.0,208.3 628.8,208.4 623.5,208.4 623.0,208.3 623.0,202.4" fill="#3a3468" stroke="#dcc8de" stroke-width="0.17"/>
<polygon points="665.6,160.5 672.4,160.5 673.0,161.5 673.0,168.4 672.4,168.5 665.6,168.5 665.0,168.5 665.0,161.9" fill="#5c487b" stroke="#dcc8de" stroke-width="0.17"/>
<polygon points="1035.8,224.5 1042.4,224.5 1042.5,225.1 1042.5,232.3 1041.7,232.5 1035.9,232.5 1035.5,232.3 1035.5,224.6" fill="#7f5c8d" stroke="#dcc8de" stroke-width="0.17"/>
<polygon points="1033.9,152.0 1039.7,152.0 1040.0,153.0 1040.0,165.4 1038.8,166.0 1033.4,166.0 1033.0,165.7 1033.0,152.3" fill="#5c487b" stroke="#dcc8de" stroke-width="0.17"/>
<polygon points="815.0,156.1 841.2,156.1 842.0,156.5 842.0,163.0 841.1,163.1 815.2,163.1 814.0,162.4 814.0,156.1" fill="#5c487b" stroke="#dcc8de" stroke-width="0.17"/>
<polygon points="806.0,156.1 813.9,156.1 814.0,156.3 814.0,163.1 813.9,163.1 806.8,163.1 806.0,162.0 806.0,156.4" fill="#3a3468" stroke="#dcc8de" stroke-width="0.17"/>
<polygon points="798.5,164.2 805.0,164.2 805.6,165.3 805.6,170.5 804.4,171.8 797.2,171.8 797.1,171.3 797.1,165.1" fill="#3a3468" stroke="#dcc8de" stroke-width="0.17"/>
<polygon points="777.4,172.0 783.9,172.0 784.0,172.4 784.0,178.8 783.8,180.0 776.6,180.0 776.0,179.5 776.0,173.0" fill="#3a3468" stroke="#dcc8de" stroke-width="0.17"/>
<polygon points="800.2,156.1 805.8,156.1 806.0,157.0 806.0,162.2 804.9,163.1 799.7,163.1 799.0,161.9 799.0,156.6" fill="#5c487b" stroke="#dcc8de" stroke-width="0.17"/>
<polygon points="694.3,408.6 697.8,408.6 698.0,409.2 698.0,420.3 697.8,420.6 694.1,420.6 694.0,420.1 694.0,409.0" fill="url(#hat)"/>
<polygon points="900.4,310.8 911.7,297.2 920.8,298.7 919.3,309.3 908.7,315.3 904.2,310.8" fill="url(#hat)"/>
<polygon points="886.1,318.3 892.1,316.8 894.4,321.3 890.6,324.7 885.8,322.9" fill="url(#hat)"/>
<polygon points="885.3,330.4 890.6,328.9 893.3,334.2 889.9,338.0 884.9,336.4" fill="url(#hat)"/>
<polygon points="874.8,341.0 881.5,338.7 890.6,342.5 892.1,348.5 884.6,351.5 875.5,351.5" fill="url(#hat)"/>
<polygon points="840.8,342.5 849.8,345.5 860.4,347.0 861.9,352.3 851.3,355.3 843.8,353.1" fill="url(#hat)"/>
<polygon points="819.6,355.3 830.2,350.8 834.0,352.3 827.2,356.4" fill="url(#hat)"/>
<polygon points="900.4,348.5 905.7,346.3 911.0,350.0 910.2,356.8 900.4,356.8" fill="url(#hat)"/>
<polygon points="912.5,351.5 920.8,350.8 920.8,356.8 912.5,356.8" fill="url(#hat)"/>
<polygon points="914.8,330.4 920.1,328.9 919.6,336.4 914.5,338.0" fill="url(#hat)"/>
<polygon points="935.5,335.2 942.0,334.9 942.7,339.5 935.9,339.8" fill="url(#hat)"/>
<polygon points="956.3,333.4 962.3,334.2 962.8,341.0 957.1,342.5" fill="url(#hat)"/>
<polygon points="898.9,334.9 901.9,334.9 901.9,338.0 898.9,338.0" fill="url(#hat)"/>
<polygon points="999.5,249.3 1035.1,240.8 1035.0,243.5 1020.0,249.0 1005.8,254.6 1005.0,260.0 998.0,260.0 997.0,253.0" fill="#9f6f9f" stroke="#dcc8de" stroke-width="0.17"/>
<polygon points="849.3,558.6 869.8,558.6 869.8,605.1 858.6,605.1 857.7,595.8 848.7,594.9" fill="#3a3468" stroke="#dcc8de" stroke-width="0.17"/>
<polygon points="869.8,605.1 884.9,605.1 885.4,597.4 884.8,589.3 869.8,589.3" fill="#7f5c8d" stroke="#dcc8de" stroke-width="0.17"/>
<polygon points="870.3,615.9 884.1,615.9 884.3,613.8 884.9,605.5 870.3,605.5" fill="#7f5c8d" stroke="#dcc8de" stroke-width="0.17"/>
<polygon points="870.3,642.0 878.1,636.7 882.1,630.5 883.0,626.6 884.0,619.3 884.1,616.5 884.1,615.9 870.3,615.9" fill="#3a3468" stroke="#dcc8de" stroke-width="0.17"/>
<polygon points="855.8,620.0 870.3,620.0 870.3,642.0 868.8,638.6 864.2,633.0 861.4,623.7" fill="#3a3468" stroke="#dcc8de" stroke-width="0.17"/>
<polygon points="852.5,614.4 855.8,605.5 869.8,605.5 870.3,620.0 855.8,620.0" fill="#5c487b" stroke="#dcc8de" stroke-width="0.17"/>
<polygon points="868.8,645.1 869.8,642.3 864.5,641.5 860.8,644.2 849.0,649.0 850.8,651.5 860.8,649.0 861.6,648.7" fill="#3a3468" stroke="#dcc8de" stroke-width="0.17"/>
<polygon points="721.0,89.0 728.0,93.0 736.1,97.7 756.1,96.5 756.1,84.1 732.2,71.4 714.5,79.5 712.9,79.2 711.0,80.0" fill="#3a3468" stroke="#dcc8de" stroke-width="0.17"/>
<polygon points="756.1,84.4 779.1,96.5 779.1,116.1 770.1,116.1 766.1,124.1 756.1,124.1" fill="#d896c0" stroke="#dcc8de" stroke-width="0.17"/>
<polygon points="779.1,96.5 790.1,102.5 790.1,121.1 779.1,121.1" fill="#7f5c8d" stroke="#dcc8de" stroke-width="0.17"/>
<polygon points="779.1,121.7 806.1,123.7 810.1,128.1 809.1,133.1 798.1,130.1 779.1,129.1" fill="#5c487b" stroke="#dcc8de" stroke-width="0.17"/>
<polygon points="768.1,116.1 778.1,116.1 778.1,136.1 768.1,136.1" fill="#7f5c8d" stroke="#dcc8de" stroke-width="0.17"/>
<polygon points="702.0,100.0 710.0,85.0 722.0,90.0 722.0,110.0 720.0,118.0 715.0,118.0 707.0,110.0" fill="#5c487b" stroke="#dcc8de" stroke-width="0.17"/>
<polygon points="160.2,175.2 188.2,175.2 188.2,224.0 169.2,224.0 169.2,206.0 158.2,206.0 158.2,180.0" fill="#3a3468" stroke="#dcc8de" stroke-width="0.17"/>
<polygon points="219.3,249.1 226.3,249.1 226.3,268.2 231.3,268.2 231.3,293.2 219.3,293.2" fill="#3a3468" stroke="#dcc8de" stroke-width="0.17"/>
<polygon points="384.2,215.1 410.3,215.1 410.3,249.1 377.2,249.1 377.2,233.1 384.2,233.1" fill="#3a3468" stroke="#dcc8de" stroke-width="0.17"/>
<polygon points="408.3,133.2 429.3,133.2 429.3,151.2 408.3,151.2" fill="#3a3468" stroke="#dcc8de" stroke-width="0.17"/>
<polygon points="377.2,88.1 408.3,88.1 408.3,105.1 377.2,105.1" fill="#3a3468" stroke="#dcc8de" stroke-width="0.17"/>
<polygon points="406.3,77.0 425.3,77.0 425.3,99.1 406.3,99.1" fill="#3a3468" stroke="#dcc8de" stroke-width="0.17"/>
<polygon points="299.0,55.0 315.0,55.0 315.0,72.0 299.0,72.0" fill="#3a3468" stroke="#dcc8de" stroke-width="0.17"/>
<polygon points="325.1,93.1 342.1,93.1 342.1,109.1 325.1,109.1" fill="#3a3468" stroke="#dcc8de" stroke-width="0.17"/>
<polygon points="447.9,129.1 467.4,129.1 467.4,146.2 447.9,146.2" fill="#3a3468" stroke="#dcc8de" stroke-width="0.17"/>
<polygon points="467.4,129.1 483.4,129.1 483.4,150.2 467.4,150.2" fill="#3a3468" stroke="#dcc8de" stroke-width="0.17"/>
<polygon points="290.0,319.0 336.1,319.0 333.0,333.0 322.1,333.0 322.1,346.1 286.0,346.1 286.0,333.0 290.0,333.0" fill="#3a3468" stroke="#dcc8de" stroke-width="0.17"/>
<polygon points="337.1,287.2 356.2,287.2 356.2,310.2 337.1,310.2" fill="#3a3468" stroke="#dcc8de" stroke-width="0.17"/>
<polygon points="256.0,413.0 276.4,413.0 276.4,434.0 262.0,434.0 262.0,447.0 254.0,447.0 254.0,428.0 256.0,420.0" fill="#3a3468" stroke="#dcc8de" stroke-width="0.17"/>
<polygon points="187.2,324.0 198.2,312.0 208.3,322.0 208.3,344.1" fill="#3a3468" stroke="#dcc8de" stroke-width="0.17"/>
<polygon points="448.3,347.1 465.4,347.1 465.4,368.1 448.3,368.1" fill="#3a3468" stroke="#dcc8de" stroke-width="0.17"/>
<polygon points="441.3,368.1 459.3,368.1 459.3,384.1 441.3,384.1" fill="#3a3468" stroke="#dcc8de" stroke-width="0.17"/>
<polygon points="403.2,395.2 424.3,395.2 424.3,413.2 403.2,413.2" fill="#3a3468" stroke="#dcc8de" stroke-width="0.17"/>
<polygon points="424.3,390.1 444.3,390.1 444.3,412.2 424.3,412.2" fill="#3a3468" stroke="#dcc8de" stroke-width="0.17"/>
<polygon points="446.3,386.1 464.3,386.1 464.3,404.2 446.3,404.2" fill="#3a3468" stroke="#dcc8de" stroke-width="0.17"/>
<polygon points="432.3,404.2 448.3,404.2 448.3,418.2 432.3,418.2" fill="#3a3468" stroke="#dcc8de" stroke-width="0.17"/>
<polygon points="433.4,445.0 450.0,445.0 450.0,468.1 433.4,468.1" fill="#3a3468" stroke="#dcc8de" stroke-width="0.17"/>
<polygon points="431.4,468.1 447.4,468.1 447.4,499.1 431.4,499.1" fill="#3a3468" stroke="#dcc8de" stroke-width="0.17"/>
<polygon points="433.4,509.0 435.0,512.2 435.1,512.9 441.2,525.0 451.5,530.2 451.5,510.8 447.7,504.4 432.2,503.1" fill="#bb82b0" stroke="#dcc8de" stroke-width="0.17"/>
<polygon points="451.5,510.8 458.0,500.5 467.0,499.2 477.3,517.3 470.8,525.0 463.1,540.5 451.5,530.2" fill="#7f5c8d" stroke="#dcc8de" stroke-width="0.17"/>
<polygon points="488.9,510.8 508.2,510.8 508.2,532.7 503.0,527.6 495.3,522.4 488.9,519.9" fill="#9f6f9f" stroke="#dcc8de" stroke-width="0.17"/>
<polygon points="411.6,468.3 431.4,468.3 431.4,499.8 412.9,485.9" fill="#5c487b" stroke="#dcc8de" stroke-width="0.17"/>
<polygon points="432.2,499.8 446.4,490.2 455.4,500.5 447.7,504.4 432.2,503.1" fill="#5c487b" stroke="#dcc8de" stroke-width="0.17"/>
<polygon points="456.7,500.5 464.4,485.1 487.6,488.9 487.6,503.1 477.3,504.4 477.3,517.3 467.0,499.2" fill="#5c487b" stroke="#dcc8de" stroke-width="0.17"/>
<polygon points="477.3,503.1 488.9,503.1 488.9,520.4 477.3,517.3" fill="#3a3468" stroke="#dcc8de" stroke-width="0.17"/>
<polygon points="479.9,445.2 490.2,445.2 490.2,454.2 479.9,454.2" fill="#bb82b0" stroke="#dcc8de" stroke-width="0.17"/>
<polygon points="518.5,490.2 530.1,490.2 530.1,499.2 518.5,499.2" fill="#9f6f9f" stroke="#dcc8de" stroke-width="0.17"/>
<polygon points="531.4,591.0 533.5,596.2 537.8,599.7 548.1,604.9 549.4,594.6 540.4,587.3 531.4,587.3" fill="#bb82b0" stroke="#dcc8de" stroke-width="0.17"/>
<polygon points="169.2,251.1 204.3,251.1 204.3,262.0 197.0,273.2 169.2,273.2" fill="#5c487b" stroke="#dcc8de" stroke-width="0.17"/>
<ellipse cx="833.1" cy="647.2" rx="1.3" ry="1.2" fill="#3a3468"/>
<ellipse cx="157.5" cy="419.0" rx="10.5" ry="2.6" fill="#bb82b0"/>
<ellipse cx="164.0" cy="437.6" rx="1.6" ry="1.3" fill="#bb82b0"/>
<ellipse cx="174.0" cy="432.0" rx="1.3" ry="1.3" fill="#bb82b0"/>
<ellipse cx="184.0" cy="434.0" rx="3.6" ry="3.2" fill="#9f6f9f"/>
<ellipse cx="183.3" cy="446.0" rx="2.0" ry="3.6" fill="#9f6f9f"/>
<ellipse cx="100.0" cy="328.0" rx="1.5" ry="1.2" fill="#bb82b0"/>
<ellipse cx="1067.8" cy="241.0" rx="2.2" ry="2.3" fill="#9f6f9f"/>
<ellipse cx="1057.0" cy="240.5" rx="5.5" ry="2.4" fill="#9f6f9f"/>
<ellipse cx="1038.7" cy="243.7" rx="1.6" ry="1.6" fill="#9f6f9f"/>
<polygon points="71.3,518.7 75.4,513.3 84.9,512.0 91.7,503.8 98.5,499.7 109.3,494.3 118.8,487.5 128.3,488.3 136.5,491.6 147.4,494.3 160.9,497.0 171.8,499.2 182.7,500.3 190.8,502.4 196.3,505.2 196.3,517.4 174.5,517.4 173.2,521.5 131.1,521.5 125.6,520.1 82.2,518.7" fill="#d896c0" stroke="#dcc8de" stroke-width="0.4"/>
<polygon points="82.2,518.7 125.6,520.1 131.1,521.5 131.1,525.5 129.7,535.0 120.2,540.5 108.0,541.8 105.3,550.0 84.9,547.3 83.5,536.4 90.3,532.3 80.8,526.9 74.0,521.5 71.3,518.7" fill="#d896c0" stroke="#dcc8de" stroke-width="0.4"/>
<polygon points="131.1,521.5 173.2,521.5 174.5,517.4 196.3,517.4 196.3,545.9 182.7,554.1 167.7,560.9 166.4,559.5 148.7,560.9 139.2,569.0 137.9,582.6 103.9,582.6 101.2,570.4 105.3,550.0 108.0,541.8 120.2,540.5 129.7,535.0 131.1,525.5" fill="#bb82b0" stroke="#dcc8de" stroke-width="0.4"/>
<polygon points="65.9,545.9 80.8,536.4 83.5,536.4 84.9,547.3 105.3,550.0 102.5,559.5 101.2,570.4 95.7,566.3 90.3,562.2 82.2,556.8 72.7,556.8 69.9,552.7" fill="#bb82b0" stroke="#dcc8de" stroke-width="0.4"/>
<polygon points="140.6,567.6 148.7,560.9 166.4,559.5 166.4,567.6 155.5,569.0 147.4,573.1 140.6,575.3" fill="#3a3468" stroke="#dcc8de" stroke-width="0.4"/>
<polygon points="167.7,560.9 182.7,554.1 196.3,545.9 196.3,583.9 188.1,571.7 171.8,570.4 166.4,567.6 166.4,559.5" fill="#7f5c8d" stroke="#dcc8de" stroke-width="0.4"/>
<polygon points="137.9,582.6 139.2,569.0 140.6,575.3 147.4,573.1 155.5,569.0 166.4,567.6 171.8,570.4 188.1,571.7 196.3,583.9 196.3,597.5 184.0,601.6 171.8,600.2 158.2,607.0 144.6,613.8 136.5,612.5 133.8,619.3 129.7,616.5 133.8,608.4 136.5,596.2" fill="#bb82b0" stroke="#dcc8de" stroke-width="0.4"/>
<polygon points="80.8,594.8 90.3,589.4 103.9,582.6 137.9,582.6 136.5,596.2 124.3,596.2 109.3,596.2 102.5,613.8 99.8,615.2 95.7,619.3 90.3,605.7 80.8,601.6" fill="#bb82b0" stroke="#dcc8de" stroke-width="0.4"/>
<polygon points="109.3,596.2 124.3,596.2 122.9,608.4 118.8,616.5 113.4,619.3 102.5,613.8" fill="#9f6f9f" stroke="#dcc8de" stroke-width="0.4"/>
<polygon points="124.3,596.2 136.5,596.2 133.8,608.4 129.7,616.5 122.9,630.1 117.5,641.0 109.3,649.1 105.3,643.7 112.0,630.1 113.4,619.3 118.8,616.5 122.9,608.4" fill="#7f5c8d" stroke="#dcc8de" stroke-width="0.4"/>
<polygon points="105.3,643.7 109.3,649.1 101.2,654.6 90.3,659.5 82.2,659.5 93.0,649.1" fill="#bb82b0" stroke="#dcc8de" stroke-width="0.4"/>
<polygon points="133.8,619.3 144.6,616.5 141.9,630.1 132.4,641.0 129.7,632.8" fill="#bb82b0" stroke="#dcc8de" stroke-width="0.4"/>
<polygon points="122.9,638.3 128.3,636.9 130.5,643.7 125.1,647.0" fill="#bb82b0" stroke="#dcc8de" stroke-width="0.4"/>
<polygon points="184.0,601.6 190.8,598.9 203.1,601.6 211.2,611.1 212.6,616.5 207.1,613.8 199.0,607.0 188.1,604.3" fill="#3a3468" stroke="#dcc8de" stroke-width="0.4"/>
<polygon points="212.6,616.5 218.0,608.4 224.8,608.4 231.6,619.3 228.9,630.1 223.4,630.1 216.6,623.3" fill="#9f6f9f" stroke="#dcc8de" stroke-width="0.4"/>
<polygon points="223.4,630.1 228.9,630.1 231.6,619.3 239.7,635.6 242.4,646.4 234.3,646.4 231.6,646.4" fill="#7f5c8d" stroke="#dcc8de" stroke-width="0.4"/>
<polygon points="231.6,646.4 242.4,646.4 239.7,635.6 249.2,646.4 249.2,659.5 232.9,659.5" fill="#bb82b0" stroke="#dcc8de" stroke-width="0.4"/>
<polygon points="218.0,613.8 222.1,611.1 228.9,630.1 231.6,646.4 232.9,659.5 231.6,659.5 228.9,643.7 222.1,630.1" fill="#d896c0" stroke="#dcc8de" stroke-width="0.4"/>
<polygon points="68.6,602.4 74.0,600.2 78.1,604.3 74.0,607.0 69.1,605.7" fill="#bb82b0" stroke="#dcc8de" stroke-width="0.4"/>
<line x1="75.4" y1="589.4" x2="93.0" y2="572.3" stroke="#808080" stroke-width="2"/>
<line x1="93.0" y1="589.4" x2="99.8" y2="582.6" stroke="#808080" stroke-width="2"/>
<rect x="61" y="484.2" width="189.2" height="176.2" fill="none" stroke="#868686" stroke-width="1.9"/>
<ellipse cx="333.2" cy="563.9" rx="8.3" ry="6.5" fill="#7f5c8d" transform="rotate(-15 333.2 563.9)"/>
<ellipse cx="316.4" cy="568.4" rx="2.9" ry="5.4" fill="#7f5c8d" transform="rotate(35 316.4 568.4)"/>
<ellipse cx="305.6" cy="576.0" rx="1.3" ry="1.3" fill="#5c487b" transform="rotate(0 305.6 576.0)"/>
<polygon points="366.9,578.4 371.4,576.6 375.9,573.5 379.5,578.4 386.8,583.2 386.2,587.9 380.4,588.8 373.2,587.9 369.6,583.2" fill="#bb82b0"/>
<polygon points="394.0,590.1 397.6,587.7 402.1,588.3 407.5,591.5 409.3,589.2 412.9,590.1 411.5,594.1 403.9,594.6 395.2,593.7" fill="#9f6f9f"/>
<ellipse cx="405.3" cy="600.2" rx="4.7" ry="4.3" fill="#9f6f9f" transform="rotate(0 405.3 600.2)"/>
<polygon points="411.5,594.1 415.6,593.0 419.2,596.4 424.6,595.9 430.0,598.2 433.1,602.4 430.9,606.7 421.9,609.2 417.4,606.3 412.9,602.4 410.7,598.2" fill="#9f6f9f"/>
<polygon points="410.4,608.5 417.4,606.3 418.0,609.9 412.0,611.9" fill="#9f6f9f"/>
<polygon points="432.4,617.5 436.4,616.1 440.9,619.9 450.8,624.4 457.1,629.8 460.7,634.3 465.6,638.8 462.0,646.0 450.8,651.4 444.5,655.4 440.3,659.0 434.9,654.1 431.8,643.3 427.9,633.4 433.7,625.3" fill="#9f6f9f"/>
<rect x="271.9" y="553.8" width="198.6" height="106.6" fill="none" stroke="#868686" stroke-width="1.9"/>
<rect x="932.3" y="485.8" width="236.6" height="190" rx="4" ry="4" fill="#fff" fill-opacity="0.8" stroke="#cdcdcd" stroke-width="1.4"/>
<rect x="938" y="495.8" width="34" height="10.6" fill="none" stroke="#ededed" stroke-width="0.6"/><g stroke="#7e7e7e" stroke-width="2" stroke-linecap="butt"><line x1="942.6" y1="506.6" x2="953.2" y2="495.8"/><line x1="959.4" y1="506.6" x2="970.6" y2="495.6"/></g>
<text x="985.6" y="507.1" font-size="17" textLength="161.6" lengthAdjust="spacingAndGlyphs" fill="#000">Insufficient Devices</text>
<rect x="938" y="521.6" width="34" height="11.6" fill="#d896c0"/>
<text x="985.6" y="533.4" font-size="17" textLength="99.3" lengthAdjust="spacingAndGlyphs" fill="#000">x &lt;= 0.02%</text>
<rect x="938" y="548.0" width="34" height="11.6" fill="#bb82b0"/>
<text x="985.6" y="559.8" font-size="17" textLength="176.4" lengthAdjust="spacingAndGlyphs" fill="#000">0.02% &lt; x &lt;= 0.04%</text>
<rect x="938" y="574.3" width="34" height="11.6" fill="#9f6f9f"/>
<text x="985.6" y="586.1" font-size="17" textLength="176.4" lengthAdjust="spacingAndGlyphs" fill="#000">0.04% &lt; x &lt;= 0.06%</text>
<rect x="938" y="600.6" width="34" height="11.6" fill="#7f5c8d"/>
<text x="985.6" y="612.4" font-size="17" textLength="176.4" lengthAdjust="spacingAndGlyphs" fill="#000">0.06% &lt; x &lt;= 0.08%</text>
<rect x="938" y="627.0" width="34" height="11.6" fill="#5c487b"/>
<text x="985.6" y="638.8" font-size="17" textLength="176.4" lengthAdjust="spacingAndGlyphs" fill="#000">0.08% &lt; x &lt;= 0.10%</text>
<rect x="938" y="653.3" width="34" height="11.6" fill="#3a3468"/>
<text x="985.6" y="665.1" font-size="17" textLength="85.6" lengthAdjust="spacingAndGlyphs" fill="#000">x &gt; 0.10%</text>
</svg>
</body></html>
